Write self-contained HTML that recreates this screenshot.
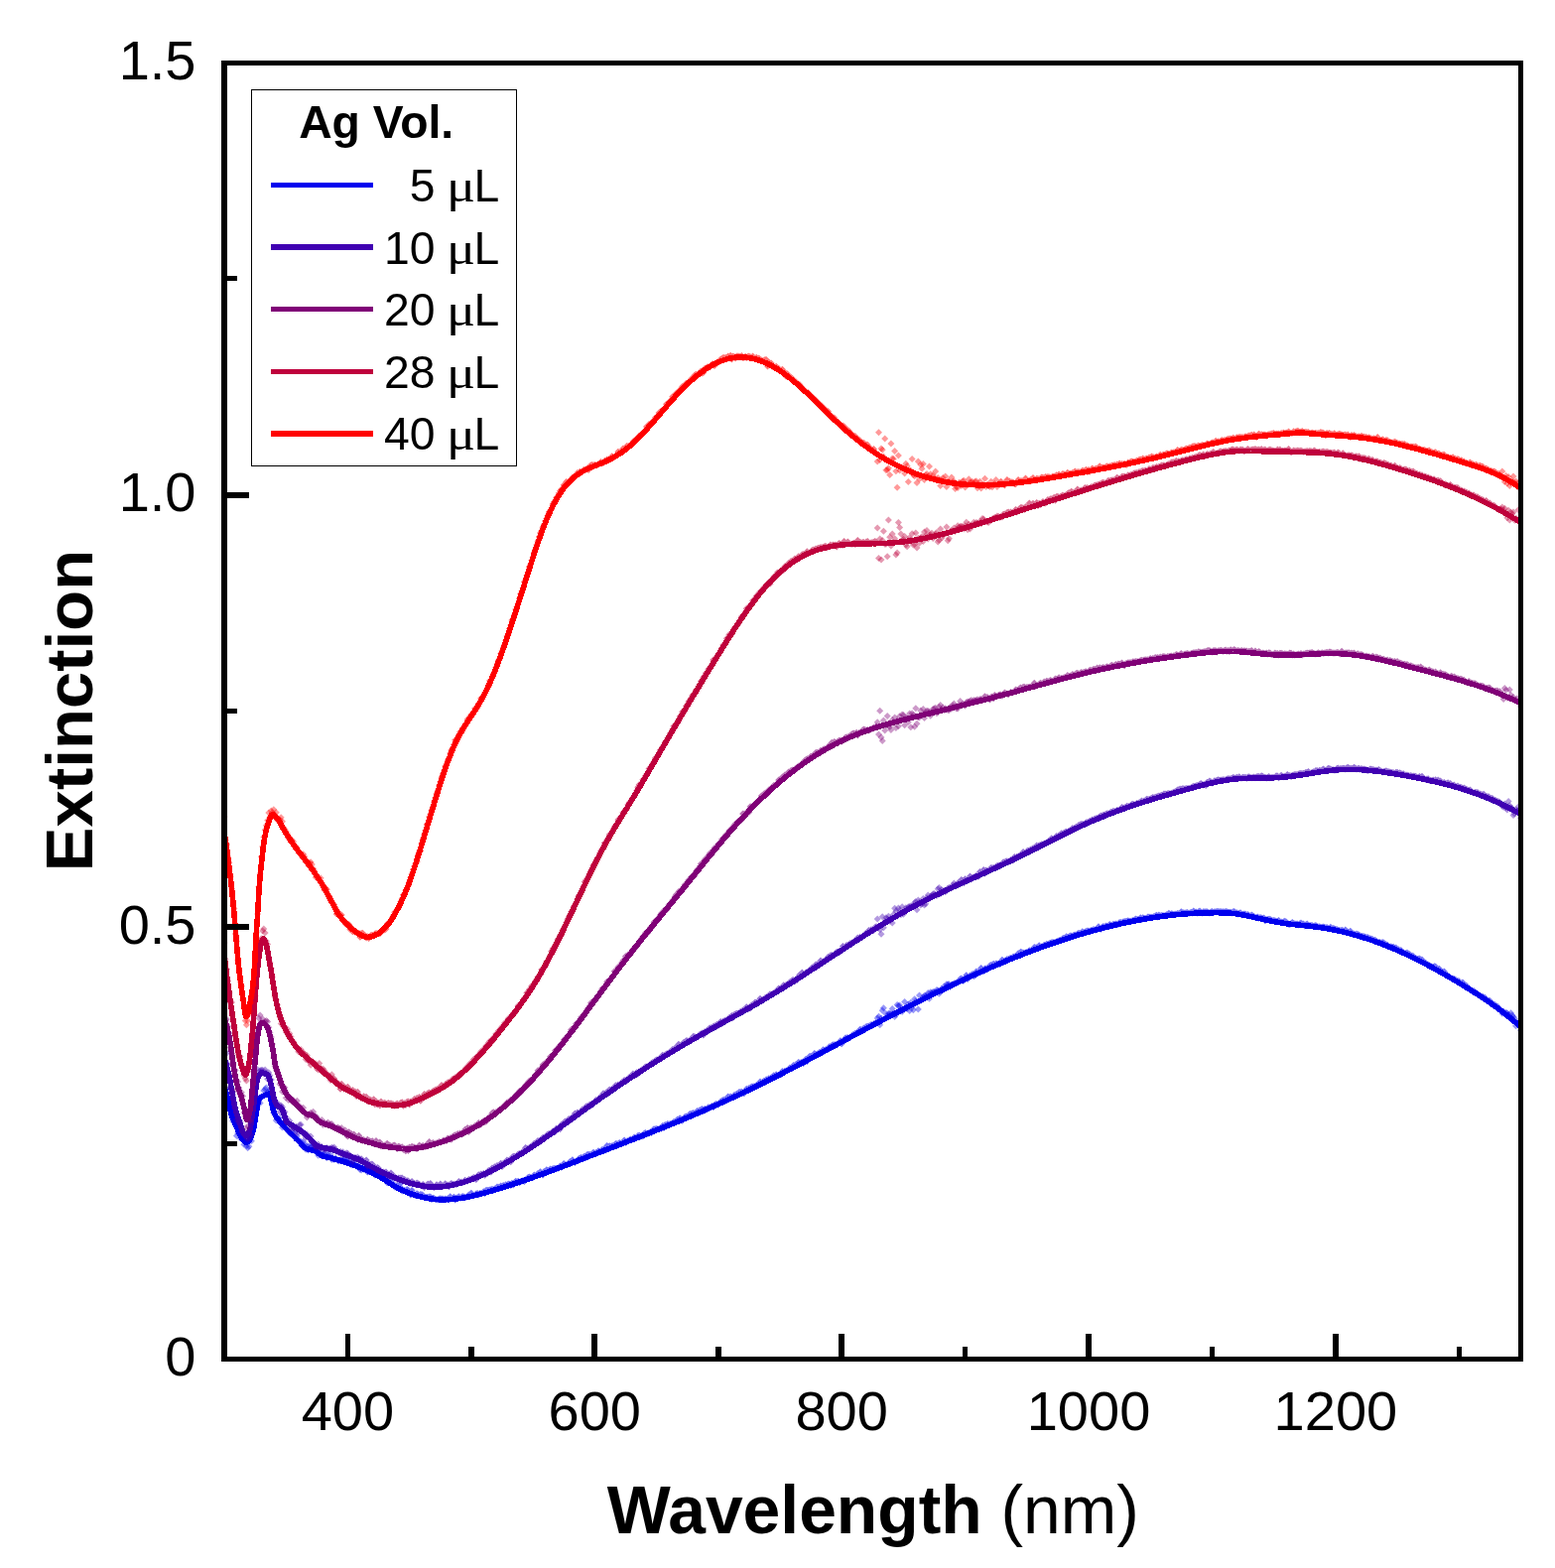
<!DOCTYPE html>
<html lang="en">
<head>
<meta charset="utf-8">
<title>Extinction vs Wavelength</title>
<style>
html,body{margin:0;padding:0;background:#fff;}
body{width:1567px;height:1580px;overflow:hidden;}
svg{display:block;}
text{font-family:"Liberation Sans",sans-serif;fill:#000;}
.b{font-weight:bold;}
.mu{font-family:"Liberation Serif",serif;}
.c{fill:none;stroke-width:5.60;stroke-linejoin:round;stroke-linecap:butt;shape-rendering:crispEdges;}
.ax{shape-rendering:crispEdges;fill:#000;}
</style>
</head>
<body>
<svg width="1567" height="1580" viewBox="0 0 1567 1580">
<rect x="0" y="0" width="1567" height="1580" fill="#ffffff"/>
<defs><clipPath id="pa"><rect x="226" y="63" width="1306.5" height="1306.5"/></clipPath></defs>
<g clip-path="url(#pa)">
<g fill="#0000ee" fill-opacity="0.4">
<path fill-opacity="0.55" d="M366.6,1174.8l3.5,3.5-3.5,3.5-3.5-3.5zM367.8,1174.6l3.5,3.5-3.5,3.5-3.5-3.5zM369.1,1175.8l3.5,3.5-3.5,3.5-3.5-3.5zM370.3,1177.4l3.5,3.5-3.5,3.5-3.5-3.5zM371.6,1177.0l3.5,3.5-3.5,3.5-3.5-3.5zM372.8,1176.4l3.5,3.5-3.5,3.5-3.5-3.5zM374.1,1175.9l3.5,3.5-3.5,3.5-3.5-3.5zM375.3,1176.2l3.5,3.5-3.5,3.5-3.5-3.5zM376.6,1178.1l3.5,3.5-3.5,3.5-3.5-3.5zM377.8,1180.5l3.5,3.5-3.5,3.5-3.5-3.5zM379.0,1179.8l3.5,3.5-3.5,3.5-3.5-3.5zM380.3,1180.1l3.5,3.5-3.5,3.5-3.5-3.5zM381.5,1181.1l3.5,3.5-3.5,3.5-3.5-3.5zM382.8,1181.5l3.5,3.5-3.5,3.5-3.5-3.5zM384.0,1182.9l3.5,3.5-3.5,3.5-3.5-3.5zM385.3,1181.2l3.5,3.5-3.5,3.5-3.5-3.5zM386.5,1180.7l3.5,3.5-3.5,3.5-3.5-3.5zM387.8,1183.7l3.5,3.5-3.5,3.5-3.5-3.5zM389.0,1183.5l3.5,3.5-3.5,3.5-3.5-3.5zM390.2,1188.3l3.5,3.5-3.5,3.5-3.5-3.5zM391.5,1186.7l3.5,3.5-3.5,3.5-3.5-3.5zM392.7,1187.4l3.5,3.5-3.5,3.5-3.5-3.5zM394.0,1186.5l3.5,3.5-3.5,3.5-3.5-3.5zM395.2,1189.8l3.5,3.5-3.5,3.5-3.5-3.5zM396.5,1189.4l3.5,3.5-3.5,3.5-3.5-3.5zM397.7,1192.5l3.5,3.5-3.5,3.5-3.5-3.5zM399.0,1192.8l3.5,3.5-3.5,3.5-3.5-3.5zM400.2,1191.2l3.5,3.5-3.5,3.5-3.5-3.5zM401.4,1193.5l3.5,3.5-3.5,3.5-3.5-3.5zM402.7,1189.9l3.5,3.5-3.5,3.5-3.5-3.5zM403.9,1193.3l3.5,3.5-3.5,3.5-3.5-3.5zM405.2,1196.4l3.5,3.5-3.5,3.5-3.5-3.5zM406.4,1196.4l3.5,3.5-3.5,3.5-3.5-3.5zM407.7,1196.1l3.5,3.5-3.5,3.5-3.5-3.5zM408.9,1196.4l3.5,3.5-3.5,3.5-3.5-3.5zM410.2,1195.1l3.5,3.5-3.5,3.5-3.5-3.5zM411.4,1195.7l3.5,3.5-3.5,3.5-3.5-3.5zM412.6,1198.2l3.5,3.5-3.5,3.5-3.5-3.5zM413.9,1200.6l3.5,3.5-3.5,3.5-3.5-3.5zM415.1,1196.0l3.5,3.5-3.5,3.5-3.5-3.5zM416.4,1200.0l3.5,3.5-3.5,3.5-3.5-3.5zM417.6,1200.4l3.5,3.5-3.5,3.5-3.5-3.5zM418.9,1201.2l3.5,3.5-3.5,3.5-3.5-3.5zM420.1,1199.3l3.5,3.5-3.5,3.5-3.5-3.5zM421.4,1200.1l3.5,3.5-3.5,3.5-3.5-3.5zM422.6,1201.2l3.5,3.5-3.5,3.5-3.5-3.5zM423.8,1200.1l3.5,3.5-3.5,3.5-3.5-3.5zM425.1,1200.2l3.5,3.5-3.5,3.5-3.5-3.5zM426.3,1200.9l3.5,3.5-3.5,3.5-3.5-3.5zM427.6,1202.2l3.5,3.5-3.5,3.5-3.5-3.5zM428.8,1203.0l3.5,3.5-3.5,3.5-3.5-3.5zM430.1,1202.8l3.5,3.5-3.5,3.5-3.5-3.5zM431.3,1203.1l3.5,3.5-3.5,3.5-3.5-3.5zM432.6,1202.4l3.5,3.5-3.5,3.5-3.5-3.5zM433.8,1202.6l3.5,3.5-3.5,3.5-3.5-3.5zM435.0,1205.0l3.5,3.5-3.5,3.5-3.5-3.5zM436.3,1203.8l3.5,3.5-3.5,3.5-3.5-3.5zM437.5,1203.9l3.5,3.5-3.5,3.5-3.5-3.5zM438.8,1204.9l3.5,3.5-3.5,3.5-3.5-3.5zM440.0,1205.3l3.5,3.5-3.5,3.5-3.5-3.5zM441.3,1205.4l3.5,3.5-3.5,3.5-3.5-3.5zM442.5,1204.6l3.5,3.5-3.5,3.5-3.5-3.5zM443.8,1204.3l3.5,3.5-3.5,3.5-3.5-3.5zM445.0,1204.6l3.5,3.5-3.5,3.5-3.5-3.5zM446.2,1204.5l3.5,3.5-3.5,3.5-3.5-3.5zM447.5,1205.6l3.5,3.5-3.5,3.5-3.5-3.5zM448.7,1204.6l3.5,3.5-3.5,3.5-3.5-3.5zM450.0,1204.9l3.5,3.5-3.5,3.5-3.5-3.5zM451.2,1204.2l3.5,3.5-3.5,3.5-3.5-3.5zM452.5,1205.4l3.5,3.5-3.5,3.5-3.5-3.5zM453.7,1202.3l3.5,3.5-3.5,3.5-3.5-3.5zM454.9,1204.4l3.5,3.5-3.5,3.5-3.5-3.5zM456.2,1204.6l3.5,3.5-3.5,3.5-3.5-3.5zM457.4,1202.7l3.5,3.5-3.5,3.5-3.5-3.5zM458.7,1205.6l3.5,3.5-3.5,3.5-3.5-3.5zM459.9,1203.4l3.5,3.5-3.5,3.5-3.5-3.5zM461.2,1203.2l3.5,3.5-3.5,3.5-3.5-3.5zM462.4,1202.2l3.5,3.5-3.5,3.5-3.5-3.5zM463.7,1203.8l3.5,3.5-3.5,3.5-3.5-3.5zM464.9,1203.0l3.5,3.5-3.5,3.5-3.5-3.5zM466.1,1202.1l3.5,3.5-3.5,3.5-3.5-3.5zM467.4,1202.6l3.5,3.5-3.5,3.5-3.5-3.5zM468.6,1202.8l3.5,3.5-3.5,3.5-3.5-3.5zM469.9,1203.0l3.5,3.5-3.5,3.5-3.5-3.5zM471.1,1201.9l3.5,3.5-3.5,3.5-3.5-3.5zM472.4,1200.6l3.5,3.5-3.5,3.5-3.5-3.5zM473.6,1200.7l3.5,3.5-3.5,3.5-3.5-3.5zM474.9,1198.8l3.5,3.5-3.5,3.5-3.5-3.5zM476.1,1200.0l3.5,3.5-3.5,3.5-3.5-3.5zM477.3,1201.0l3.5,3.5-3.5,3.5-3.5-3.5zM478.6,1200.5l3.5,3.5-3.5,3.5-3.5-3.5zM479.8,1199.6l3.5,3.5-3.5,3.5-3.5-3.5zM481.1,1199.1l3.5,3.5-3.5,3.5-3.5-3.5zM482.3,1200.5l3.5,3.5-3.5,3.5-3.5-3.5zM483.6,1199.1l3.5,3.5-3.5,3.5-3.5-3.5zM484.8,1199.3l3.5,3.5-3.5,3.5-3.5-3.5zM486.1,1198.5l3.5,3.5-3.5,3.5-3.5-3.5zM487.3,1197.2l3.5,3.5-3.5,3.5-3.5-3.5zM488.5,1198.9l3.5,3.5-3.5,3.5-3.5-3.5zM489.8,1196.0l3.5,3.5-3.5,3.5-3.5-3.5zM491.0,1195.7l3.5,3.5-3.5,3.5-3.5-3.5zM492.3,1196.0l3.5,3.5-3.5,3.5-3.5-3.5zM493.5,1195.4l3.5,3.5-3.5,3.5-3.5-3.5zM494.8,1195.2l3.5,3.5-3.5,3.5-3.5-3.5zM496.0,1194.8l3.5,3.5-3.5,3.5-3.5-3.5zM497.3,1195.8l3.5,3.5-3.5,3.5-3.5-3.5zM498.5,1194.6l3.5,3.5-3.5,3.5-3.5-3.5zM499.7,1194.5l3.5,3.5-3.5,3.5-3.5-3.5zM501.0,1192.4l3.5,3.5-3.5,3.5-3.5-3.5zM502.2,1192.7l3.5,3.5-3.5,3.5-3.5-3.5zM503.5,1194.0l3.5,3.5-3.5,3.5-3.5-3.5zM504.7,1191.6l3.5,3.5-3.5,3.5-3.5-3.5zM506.0,1193.3l3.5,3.5-3.5,3.5-3.5-3.5zM507.2,1191.0l3.5,3.5-3.5,3.5-3.5-3.5zM508.5,1191.8l3.5,3.5-3.5,3.5-3.5-3.5zM509.7,1190.3l3.5,3.5-3.5,3.5-3.5-3.5zM510.9,1190.9l3.5,3.5-3.5,3.5-3.5-3.5zM512.2,1189.5l3.5,3.5-3.5,3.5-3.5-3.5zM513.4,1189.7l3.5,3.5-3.5,3.5-3.5-3.5zM514.7,1191.0l3.5,3.5-3.5,3.5-3.5-3.5zM515.9,1188.8l3.5,3.5-3.5,3.5-3.5-3.5zM517.2,1190.5l3.5,3.5-3.5,3.5-3.5-3.5zM518.4,1187.9l3.5,3.5-3.5,3.5-3.5-3.5zM519.7,1186.8l3.5,3.5-3.5,3.5-3.5-3.5zM520.9,1187.5l3.5,3.5-3.5,3.5-3.5-3.5zM522.1,1186.7l3.5,3.5-3.5,3.5-3.5-3.5zM523.4,1188.2l3.5,3.5-3.5,3.5-3.5-3.5zM524.6,1187.0l3.5,3.5-3.5,3.5-3.5-3.5zM525.9,1186.8l3.5,3.5-3.5,3.5-3.5-3.5zM527.1,1185.9l3.5,3.5-3.5,3.5-3.5-3.5zM528.4,1187.1l3.5,3.5-3.5,3.5-3.5-3.5zM529.6,1185.2l3.5,3.5-3.5,3.5-3.5-3.5zM530.9,1184.5l3.5,3.5-3.5,3.5-3.5-3.5zM532.1,1182.9l3.5,3.5-3.5,3.5-3.5-3.5zM533.3,1182.4l3.5,3.5-3.5,3.5-3.5-3.5zM534.6,1182.9l3.5,3.5-3.5,3.5-3.5-3.5zM535.8,1183.2l3.5,3.5-3.5,3.5-3.5-3.5zM537.1,1182.9l3.5,3.5-3.5,3.5-3.5-3.5zM538.3,1180.6l3.5,3.5-3.5,3.5-3.5-3.5zM539.6,1181.5l3.5,3.5-3.5,3.5-3.5-3.5zM540.8,1180.7l3.5,3.5-3.5,3.5-3.5-3.5zM542.0,1179.1l3.5,3.5-3.5,3.5-3.5-3.5zM543.3,1180.1l3.5,3.5-3.5,3.5-3.5-3.5zM544.5,1177.2l3.5,3.5-3.5,3.5-3.5-3.5zM545.8,1179.0l3.5,3.5-3.5,3.5-3.5-3.5zM547.0,1180.5l3.5,3.5-3.5,3.5-3.5-3.5zM548.3,1176.9l3.5,3.5-3.5,3.5-3.5-3.5zM549.5,1177.4l3.5,3.5-3.5,3.5-3.5-3.5zM550.8,1175.3l3.5,3.5-3.5,3.5-3.5-3.5zM552.0,1175.8l3.5,3.5-3.5,3.5-3.5-3.5zM553.2,1176.7l3.5,3.5-3.5,3.5-3.5-3.5zM554.5,1174.6l3.5,3.5-3.5,3.5-3.5-3.5zM555.7,1175.1l3.5,3.5-3.5,3.5-3.5-3.5zM557.0,1174.3l3.5,3.5-3.5,3.5-3.5-3.5zM558.2,1173.9l3.5,3.5-3.5,3.5-3.5-3.5zM559.5,1173.9l3.5,3.5-3.5,3.5-3.5-3.5zM560.7,1173.7l3.5,3.5-3.5,3.5-3.5-3.5zM562.0,1173.9l3.5,3.5-3.5,3.5-3.5-3.5zM563.2,1173.1l3.5,3.5-3.5,3.5-3.5-3.5zM564.4,1171.4l3.5,3.5-3.5,3.5-3.5-3.5zM565.7,1172.7l3.5,3.5-3.5,3.5-3.5-3.5zM566.9,1172.1l3.5,3.5-3.5,3.5-3.5-3.5zM568.2,1169.1l3.5,3.5-3.5,3.5-3.5-3.5zM569.4,1170.6l3.5,3.5-3.5,3.5-3.5-3.5zM570.7,1170.3l3.5,3.5-3.5,3.5-3.5-3.5zM571.9,1169.9l3.5,3.5-3.5,3.5-3.5-3.5zM573.2,1169.1l3.5,3.5-3.5,3.5-3.5-3.5zM574.4,1166.9l3.5,3.5-3.5,3.5-3.5-3.5zM575.6,1167.4l3.5,3.5-3.5,3.5-3.5-3.5zM576.9,1165.3l3.5,3.5-3.5,3.5-3.5-3.5zM578.1,1166.6l3.5,3.5-3.5,3.5-3.5-3.5zM579.4,1168.0l3.5,3.5-3.5,3.5-3.5-3.5zM580.6,1166.4l3.5,3.5-3.5,3.5-3.5-3.5zM581.9,1166.0l3.5,3.5-3.5,3.5-3.5-3.5zM583.1,1164.3l3.5,3.5-3.5,3.5-3.5-3.5zM584.4,1163.4l3.5,3.5-3.5,3.5-3.5-3.5zM585.6,1162.9l3.5,3.5-3.5,3.5-3.5-3.5zM586.8,1163.5l3.5,3.5-3.5,3.5-3.5-3.5zM588.1,1162.2l3.5,3.5-3.5,3.5-3.5-3.5zM589.3,1161.8l3.5,3.5-3.5,3.5-3.5-3.5zM590.6,1163.0l3.5,3.5-3.5,3.5-3.5-3.5zM591.8,1160.0l3.5,3.5-3.5,3.5-3.5-3.5zM593.1,1159.8l3.5,3.5-3.5,3.5-3.5-3.5zM594.3,1160.0l3.5,3.5-3.5,3.5-3.5-3.5zM595.6,1159.9l3.5,3.5-3.5,3.5-3.5-3.5zM596.8,1159.4l3.5,3.5-3.5,3.5-3.5-3.5zM598.0,1157.8l3.5,3.5-3.5,3.5-3.5-3.5zM599.3,1158.8l3.5,3.5-3.5,3.5-3.5-3.5zM600.5,1158.0l3.5,3.5-3.5,3.5-3.5-3.5zM601.8,1157.9l3.5,3.5-3.5,3.5-3.5-3.5zM603.0,1156.2l3.5,3.5-3.5,3.5-3.5-3.5zM604.3,1156.9l3.5,3.5-3.5,3.5-3.5-3.5zM605.5,1156.4l3.5,3.5-3.5,3.5-3.5-3.5zM606.8,1155.1l3.5,3.5-3.5,3.5-3.5-3.5zM608.0,1155.0l3.5,3.5-3.5,3.5-3.5-3.5zM609.2,1154.2l3.5,3.5-3.5,3.5-3.5-3.5zM610.5,1155.5l3.5,3.5-3.5,3.5-3.5-3.5zM611.7,1151.0l3.5,3.5-3.5,3.5-3.5-3.5zM613.0,1152.0l3.5,3.5-3.5,3.5-3.5-3.5zM614.2,1151.3l3.5,3.5-3.5,3.5-3.5-3.5zM615.5,1152.0l3.5,3.5-3.5,3.5-3.5-3.5zM616.7,1151.3l3.5,3.5-3.5,3.5-3.5-3.5zM618.0,1151.0l3.5,3.5-3.5,3.5-3.5-3.5zM619.2,1151.6l3.5,3.5-3.5,3.5-3.5-3.5zM620.4,1149.0l3.5,3.5-3.5,3.5-3.5-3.5zM621.7,1149.2l3.5,3.5-3.5,3.5-3.5-3.5zM622.9,1149.3l3.5,3.5-3.5,3.5-3.5-3.5zM624.2,1147.9l3.5,3.5-3.5,3.5-3.5-3.5zM625.4,1148.8l3.5,3.5-3.5,3.5-3.5-3.5zM626.7,1148.3l3.5,3.5-3.5,3.5-3.5-3.5zM627.9,1146.9l3.5,3.5-3.5,3.5-3.5-3.5zM629.1,1145.5l3.5,3.5-3.5,3.5-3.5-3.5zM630.4,1148.0l3.5,3.5-3.5,3.5-3.5-3.5zM631.6,1146.5l3.5,3.5-3.5,3.5-3.5-3.5zM632.9,1146.0l3.5,3.5-3.5,3.5-3.5-3.5zM634.1,1145.2l3.5,3.5-3.5,3.5-3.5-3.5zM635.4,1144.6l3.5,3.5-3.5,3.5-3.5-3.5zM636.6,1144.9l3.5,3.5-3.5,3.5-3.5-3.5zM637.9,1143.7l3.5,3.5-3.5,3.5-3.5-3.5zM639.1,1142.6l3.5,3.5-3.5,3.5-3.5-3.5zM640.3,1143.3l3.5,3.5-3.5,3.5-3.5-3.5zM641.6,1142.3l3.5,3.5-3.5,3.5-3.5-3.5zM642.8,1141.0l3.5,3.5-3.5,3.5-3.5-3.5zM644.1,1140.4l3.5,3.5-3.5,3.5-3.5-3.5zM645.3,1141.8l3.5,3.5-3.5,3.5-3.5-3.5zM646.6,1140.8l3.5,3.5-3.5,3.5-3.5-3.5zM647.8,1141.6l3.5,3.5-3.5,3.5-3.5-3.5zM649.1,1138.8l3.5,3.5-3.5,3.5-3.5-3.5zM650.3,1138.1l3.5,3.5-3.5,3.5-3.5-3.5zM651.5,1138.7l3.5,3.5-3.5,3.5-3.5-3.5zM652.8,1139.1l3.5,3.5-3.5,3.5-3.5-3.5zM654.0,1137.9l3.5,3.5-3.5,3.5-3.5-3.5zM655.3,1137.2l3.5,3.5-3.5,3.5-3.5-3.5zM656.5,1138.0l3.5,3.5-3.5,3.5-3.5-3.5zM657.8,1135.2l3.5,3.5-3.5,3.5-3.5-3.5zM659.0,1134.2l3.5,3.5-3.5,3.5-3.5-3.5zM660.3,1134.2l3.5,3.5-3.5,3.5-3.5-3.5zM661.5,1134.1l3.5,3.5-3.5,3.5-3.5-3.5zM662.7,1134.2l3.5,3.5-3.5,3.5-3.5-3.5zM664.0,1134.3l3.5,3.5-3.5,3.5-3.5-3.5zM665.2,1133.2l3.5,3.5-3.5,3.5-3.5-3.5zM666.5,1133.7l3.5,3.5-3.5,3.5-3.5-3.5zM667.7,1131.1l3.5,3.5-3.5,3.5-3.5-3.5zM669.0,1133.1l3.5,3.5-3.5,3.5-3.5-3.5zM670.2,1130.1l3.5,3.5-3.5,3.5-3.5-3.5zM671.5,1131.4l3.5,3.5-3.5,3.5-3.5-3.5zM672.7,1129.0l3.5,3.5-3.5,3.5-3.5-3.5zM673.9,1129.6l3.5,3.5-3.5,3.5-3.5-3.5zM675.2,1128.9l3.5,3.5-3.5,3.5-3.5-3.5zM676.4,1128.8l3.5,3.5-3.5,3.5-3.5-3.5zM677.7,1128.5l3.5,3.5-3.5,3.5-3.5-3.5zM678.9,1127.1l3.5,3.5-3.5,3.5-3.5-3.5zM680.2,1126.7l3.5,3.5-3.5,3.5-3.5-3.5zM681.4,1126.5l3.5,3.5-3.5,3.5-3.5-3.5zM682.7,1124.6l3.5,3.5-3.5,3.5-3.5-3.5zM683.9,1124.6l3.5,3.5-3.5,3.5-3.5-3.5zM685.1,1123.3l3.5,3.5-3.5,3.5-3.5-3.5zM686.4,1124.2l3.5,3.5-3.5,3.5-3.5-3.5zM687.6,1125.7l3.5,3.5-3.5,3.5-3.5-3.5zM688.9,1123.9l3.5,3.5-3.5,3.5-3.5-3.5zM690.1,1121.9l3.5,3.5-3.5,3.5-3.5-3.5zM691.4,1121.5l3.5,3.5-3.5,3.5-3.5-3.5zM692.6,1122.5l3.5,3.5-3.5,3.5-3.5-3.5zM693.9,1120.7l3.5,3.5-3.5,3.5-3.5-3.5zM695.1,1119.1l3.5,3.5-3.5,3.5-3.5-3.5zM696.3,1119.1l3.5,3.5-3.5,3.5-3.5-3.5zM697.6,1118.6l3.5,3.5-3.5,3.5-3.5-3.5zM698.8,1118.1l3.5,3.5-3.5,3.5-3.5-3.5zM700.1,1119.1l3.5,3.5-3.5,3.5-3.5-3.5zM701.3,1118.0l3.5,3.5-3.5,3.5-3.5-3.5zM702.6,1116.1l3.5,3.5-3.5,3.5-3.5-3.5zM703.8,1116.4l3.5,3.5-3.5,3.5-3.5-3.5zM705.0,1115.3l3.5,3.5-3.5,3.5-3.5-3.5zM706.3,1114.7l3.5,3.5-3.5,3.5-3.5-3.5zM707.5,1113.9l3.5,3.5-3.5,3.5-3.5-3.5zM708.8,1116.3l3.5,3.5-3.5,3.5-3.5-3.5zM710.0,1113.9l3.5,3.5-3.5,3.5-3.5-3.5zM711.3,1114.2l3.5,3.5-3.5,3.5-3.5-3.5zM712.5,1113.9l3.5,3.5-3.5,3.5-3.5-3.5zM713.8,1112.2l3.5,3.5-3.5,3.5-3.5-3.5zM715.0,1112.5l3.5,3.5-3.5,3.5-3.5-3.5zM716.2,1112.0l3.5,3.5-3.5,3.5-3.5-3.5zM717.5,1111.1l3.5,3.5-3.5,3.5-3.5-3.5zM718.7,1112.3l3.5,3.5-3.5,3.5-3.5-3.5zM720.0,1110.1l3.5,3.5-3.5,3.5-3.5-3.5zM721.2,1109.1l3.5,3.5-3.5,3.5-3.5-3.5zM722.5,1109.3l3.5,3.5-3.5,3.5-3.5-3.5zM723.7,1109.8l3.5,3.5-3.5,3.5-3.5-3.5zM725.0,1108.5l3.5,3.5-3.5,3.5-3.5-3.5zM726.2,1106.6l3.5,3.5-3.5,3.5-3.5-3.5zM727.4,1105.7l3.5,3.5-3.5,3.5-3.5-3.5zM728.7,1105.1l3.5,3.5-3.5,3.5-3.5-3.5zM729.9,1104.8l3.5,3.5-3.5,3.5-3.5-3.5zM731.2,1105.2l3.5,3.5-3.5,3.5-3.5-3.5zM732.4,1105.0l3.5,3.5-3.5,3.5-3.5-3.5zM733.7,1101.6l3.5,3.5-3.5,3.5-3.5-3.5zM734.9,1103.1l3.5,3.5-3.5,3.5-3.5-3.5zM736.2,1101.5l3.5,3.5-3.5,3.5-3.5-3.5zM737.4,1102.6l3.5,3.5-3.5,3.5-3.5-3.5zM738.6,1102.2l3.5,3.5-3.5,3.5-3.5-3.5zM739.9,1100.1l3.5,3.5-3.5,3.5-3.5-3.5zM741.1,1099.8l3.5,3.5-3.5,3.5-3.5-3.5zM742.4,1098.8l3.5,3.5-3.5,3.5-3.5-3.5zM743.6,1099.4l3.5,3.5-3.5,3.5-3.5-3.5zM744.9,1097.0l3.5,3.5-3.5,3.5-3.5-3.5zM746.1,1096.9l3.5,3.5-3.5,3.5-3.5-3.5zM747.4,1096.7l3.5,3.5-3.5,3.5-3.5-3.5zM748.6,1097.8l3.5,3.5-3.5,3.5-3.5-3.5zM749.8,1098.3l3.5,3.5-3.5,3.5-3.5-3.5zM751.1,1095.6l3.5,3.5-3.5,3.5-3.5-3.5zM752.3,1093.8l3.5,3.5-3.5,3.5-3.5-3.5zM753.6,1094.4l3.5,3.5-3.5,3.5-3.5-3.5zM754.8,1093.0l3.5,3.5-3.5,3.5-3.5-3.5zM756.1,1093.6l3.5,3.5-3.5,3.5-3.5-3.5zM757.3,1091.5l3.5,3.5-3.5,3.5-3.5-3.5zM758.6,1091.6l3.5,3.5-3.5,3.5-3.5-3.5zM759.8,1091.3l3.5,3.5-3.5,3.5-3.5-3.5zM761.0,1091.2l3.5,3.5-3.5,3.5-3.5-3.5zM762.3,1090.0l3.5,3.5-3.5,3.5-3.5-3.5zM763.5,1090.6l3.5,3.5-3.5,3.5-3.5-3.5zM764.8,1089.0l3.5,3.5-3.5,3.5-3.5-3.5zM766.0,1086.6l3.5,3.5-3.5,3.5-3.5-3.5zM767.3,1088.5l3.5,3.5-3.5,3.5-3.5-3.5zM768.5,1086.8l3.5,3.5-3.5,3.5-3.5-3.5zM769.8,1085.8l3.5,3.5-3.5,3.5-3.5-3.5zM771.0,1087.2l3.5,3.5-3.5,3.5-3.5-3.5zM772.2,1084.3l3.5,3.5-3.5,3.5-3.5-3.5zM773.5,1084.6l3.5,3.5-3.5,3.5-3.5-3.5zM774.7,1083.3l3.5,3.5-3.5,3.5-3.5-3.5zM776.0,1084.5l3.5,3.5-3.5,3.5-3.5-3.5zM777.2,1082.3l3.5,3.5-3.5,3.5-3.5-3.5zM778.5,1082.3l3.5,3.5-3.5,3.5-3.5-3.5zM779.7,1080.2l3.5,3.5-3.5,3.5-3.5-3.5zM781.0,1082.1l3.5,3.5-3.5,3.5-3.5-3.5zM782.2,1079.2l3.5,3.5-3.5,3.5-3.5-3.5zM783.4,1080.3l3.5,3.5-3.5,3.5-3.5-3.5zM784.7,1079.9l3.5,3.5-3.5,3.5-3.5-3.5zM785.9,1079.4l3.5,3.5-3.5,3.5-3.5-3.5zM787.2,1079.2l3.5,3.5-3.5,3.5-3.5-3.5zM788.4,1075.9l3.5,3.5-3.5,3.5-3.5-3.5zM789.7,1076.7l3.5,3.5-3.5,3.5-3.5-3.5zM790.9,1075.8l3.5,3.5-3.5,3.5-3.5-3.5zM792.1,1075.4l3.5,3.5-3.5,3.5-3.5-3.5zM793.4,1075.4l3.5,3.5-3.5,3.5-3.5-3.5zM794.6,1073.9l3.5,3.5-3.5,3.5-3.5-3.5zM795.9,1072.4l3.5,3.5-3.5,3.5-3.5-3.5zM797.1,1072.4l3.5,3.5-3.5,3.5-3.5-3.5zM798.4,1073.2l3.5,3.5-3.5,3.5-3.5-3.5zM799.6,1070.1l3.5,3.5-3.5,3.5-3.5-3.5zM800.9,1070.6l3.5,3.5-3.5,3.5-3.5-3.5zM802.1,1069.0l3.5,3.5-3.5,3.5-3.5-3.5zM803.3,1070.2l3.5,3.5-3.5,3.5-3.5-3.5zM804.6,1067.1l3.5,3.5-3.5,3.5-3.5-3.5zM805.8,1067.6l3.5,3.5-3.5,3.5-3.5-3.5zM807.1,1067.2l3.5,3.5-3.5,3.5-3.5-3.5zM808.3,1066.7l3.5,3.5-3.5,3.5-3.5-3.5zM809.6,1068.1l3.5,3.5-3.5,3.5-3.5-3.5zM810.8,1066.7l3.5,3.5-3.5,3.5-3.5-3.5zM812.1,1063.7l3.5,3.5-3.5,3.5-3.5-3.5zM813.3,1065.9l3.5,3.5-3.5,3.5-3.5-3.5zM814.5,1062.3l3.5,3.5-3.5,3.5-3.5-3.5zM815.8,1061.0l3.5,3.5-3.5,3.5-3.5-3.5zM817.0,1060.7l3.5,3.5-3.5,3.5-3.5-3.5zM818.3,1061.5l3.5,3.5-3.5,3.5-3.5-3.5zM819.5,1061.2l3.5,3.5-3.5,3.5-3.5-3.5zM820.8,1058.0l3.5,3.5-3.5,3.5-3.5-3.5zM822.0,1059.8l3.5,3.5-3.5,3.5-3.5-3.5zM823.3,1058.5l3.5,3.5-3.5,3.5-3.5-3.5zM824.5,1058.7l3.5,3.5-3.5,3.5-3.5-3.5zM825.7,1057.0l3.5,3.5-3.5,3.5-3.5-3.5zM827.0,1057.5l3.5,3.5-3.5,3.5-3.5-3.5zM828.2,1056.6l3.5,3.5-3.5,3.5-3.5-3.5zM829.5,1054.3l3.5,3.5-3.5,3.5-3.5-3.5zM830.7,1056.0l3.5,3.5-3.5,3.5-3.5-3.5zM832.0,1054.3l3.5,3.5-3.5,3.5-3.5-3.5zM833.2,1054.1l3.5,3.5-3.5,3.5-3.5-3.5zM834.5,1053.9l3.5,3.5-3.5,3.5-3.5-3.5zM835.7,1051.2l3.5,3.5-3.5,3.5-3.5-3.5zM836.9,1051.3l3.5,3.5-3.5,3.5-3.5-3.5zM838.2,1050.0l3.5,3.5-3.5,3.5-3.5-3.5zM839.4,1049.2l3.5,3.5-3.5,3.5-3.5-3.5zM840.7,1049.6l3.5,3.5-3.5,3.5-3.5-3.5zM841.9,1049.0l3.5,3.5-3.5,3.5-3.5-3.5zM843.2,1049.3l3.5,3.5-3.5,3.5-3.5-3.5zM844.4,1048.6l3.5,3.5-3.5,3.5-3.5-3.5zM845.7,1046.7l3.5,3.5-3.5,3.5-3.5-3.5zM846.9,1045.3l3.5,3.5-3.5,3.5-3.5-3.5zM848.1,1048.3l3.5,3.5-3.5,3.5-3.5-3.5zM849.4,1046.7l3.5,3.5-3.5,3.5-3.5-3.5zM850.6,1044.0l3.5,3.5-3.5,3.5-3.5-3.5zM851.9,1042.6l3.5,3.5-3.5,3.5-3.5-3.5zM853.1,1042.3l3.5,3.5-3.5,3.5-3.5-3.5zM854.4,1042.3l3.5,3.5-3.5,3.5-3.5-3.5zM855.6,1042.4l3.5,3.5-3.5,3.5-3.5-3.5zM856.9,1041.6l3.5,3.5-3.5,3.5-3.5-3.5zM858.1,1040.5l3.5,3.5-3.5,3.5-3.5-3.5zM859.3,1039.2l3.5,3.5-3.5,3.5-3.5-3.5zM860.6,1038.9l3.5,3.5-3.5,3.5-3.5-3.5zM861.8,1037.8l3.5,3.5-3.5,3.5-3.5-3.5zM863.1,1037.5l3.5,3.5-3.5,3.5-3.5-3.5zM864.3,1036.6l3.5,3.5-3.5,3.5-3.5-3.5zM865.6,1036.5l3.5,3.5-3.5,3.5-3.5-3.5zM866.8,1033.7l3.5,3.5-3.5,3.5-3.5-3.5zM868.1,1034.4l3.5,3.5-3.5,3.5-3.5-3.5zM869.3,1033.8l3.5,3.5-3.5,3.5-3.5-3.5zM870.5,1032.4l3.5,3.5-3.5,3.5-3.5-3.5zM871.8,1032.6l3.5,3.5-3.5,3.5-3.5-3.5zM873.0,1031.1l3.5,3.5-3.5,3.5-3.5-3.5zM874.3,1030.8l3.5,3.5-3.5,3.5-3.5-3.5zM875.5,1030.5l3.5,3.5-3.5,3.5-3.5-3.5zM876.8,1029.9l3.5,3.5-3.5,3.5-3.5-3.5zM878.0,1028.9l3.5,3.5-3.5,3.5-3.5-3.5zM879.2,1029.8l3.5,3.5-3.5,3.5-3.5-3.5zM880.5,1028.3l3.5,3.5-3.5,3.5-3.5-3.5zM881.7,1027.7l3.5,3.5-3.5,3.5-3.5-3.5zM883.0,1027.0l3.5,3.5-3.5,3.5-3.5-3.5zM958.9,988.8l3.5,3.5-3.5,3.5-3.5-3.5zM960.1,988.7l3.5,3.5-3.5,3.5-3.5-3.5zM961.4,987.5l3.5,3.5-3.5,3.5-3.5-3.5zM962.6,987.2l3.5,3.5-3.5,3.5-3.5-3.5zM963.9,986.7l3.5,3.5-3.5,3.5-3.5-3.5zM965.1,986.6l3.5,3.5-3.5,3.5-3.5-3.5zM966.4,985.1l3.5,3.5-3.5,3.5-3.5-3.5zM967.6,983.0l3.5,3.5-3.5,3.5-3.5-3.5zM968.8,982.6l3.5,3.5-3.5,3.5-3.5-3.5zM970.1,984.8l3.5,3.5-3.5,3.5-3.5-3.5zM971.3,984.5l3.5,3.5-3.5,3.5-3.5-3.5zM972.6,982.7l3.5,3.5-3.5,3.5-3.5-3.5zM973.8,979.3l3.5,3.5-3.5,3.5-3.5-3.5zM975.1,982.9l3.5,3.5-3.5,3.5-3.5-3.5zM976.3,980.7l3.5,3.5-3.5,3.5-3.5-3.5zM977.5,979.6l3.5,3.5-3.5,3.5-3.5-3.5zM978.8,979.2l3.5,3.5-3.5,3.5-3.5-3.5zM980.0,978.1l3.5,3.5-3.5,3.5-3.5-3.5zM981.3,980.1l3.5,3.5-3.5,3.5-3.5-3.5zM982.5,979.4l3.5,3.5-3.5,3.5-3.5-3.5zM983.8,975.6l3.5,3.5-3.5,3.5-3.5-3.5zM985.0,976.1l3.5,3.5-3.5,3.5-3.5-3.5zM986.3,976.1l3.5,3.5-3.5,3.5-3.5-3.5zM987.5,976.6l3.5,3.5-3.5,3.5-3.5-3.5zM988.7,972.0l3.5,3.5-3.5,3.5-3.5-3.5zM990.0,975.1l3.5,3.5-3.5,3.5-3.5-3.5zM991.2,975.3l3.5,3.5-3.5,3.5-3.5-3.5zM992.5,972.6l3.5,3.5-3.5,3.5-3.5-3.5zM993.7,972.4l3.5,3.5-3.5,3.5-3.5-3.5zM995.0,973.2l3.5,3.5-3.5,3.5-3.5-3.5zM996.2,971.7l3.5,3.5-3.5,3.5-3.5-3.5zM997.5,969.5l3.5,3.5-3.5,3.5-3.5-3.5zM998.7,969.1l3.5,3.5-3.5,3.5-3.5-3.5zM999.9,968.7l3.5,3.5-3.5,3.5-3.5-3.5zM1001.2,967.8l3.5,3.5-3.5,3.5-3.5-3.5zM1002.4,968.7l3.5,3.5-3.5,3.5-3.5-3.5zM1003.7,967.6l3.5,3.5-3.5,3.5-3.5-3.5zM1004.9,967.6l3.5,3.5-3.5,3.5-3.5-3.5zM1006.2,967.7l3.5,3.5-3.5,3.5-3.5-3.5zM1007.4,968.2l3.5,3.5-3.5,3.5-3.5-3.5zM1008.7,966.2l3.5,3.5-3.5,3.5-3.5-3.5zM1009.9,963.8l3.5,3.5-3.5,3.5-3.5-3.5zM1011.1,966.2l3.5,3.5-3.5,3.5-3.5-3.5zM1012.4,964.4l3.5,3.5-3.5,3.5-3.5-3.5zM1013.6,965.0l3.5,3.5-3.5,3.5-3.5-3.5zM1014.9,963.1l3.5,3.5-3.5,3.5-3.5-3.5zM1016.1,963.2l3.5,3.5-3.5,3.5-3.5-3.5zM1017.4,962.3l3.5,3.5-3.5,3.5-3.5-3.5zM1018.6,961.9l3.5,3.5-3.5,3.5-3.5-3.5zM1019.9,962.5l3.5,3.5-3.5,3.5-3.5-3.5zM1021.1,960.4l3.5,3.5-3.5,3.5-3.5-3.5zM1022.3,960.5l3.5,3.5-3.5,3.5-3.5-3.5zM1023.6,960.1l3.5,3.5-3.5,3.5-3.5-3.5zM1024.8,959.1l3.5,3.5-3.5,3.5-3.5-3.5zM1026.1,957.2l3.5,3.5-3.5,3.5-3.5-3.5zM1027.3,958.7l3.5,3.5-3.5,3.5-3.5-3.5zM1028.6,955.7l3.5,3.5-3.5,3.5-3.5-3.5zM1029.8,956.3l3.5,3.5-3.5,3.5-3.5-3.5zM1031.1,956.6l3.5,3.5-3.5,3.5-3.5-3.5zM1032.3,956.8l3.5,3.5-3.5,3.5-3.5-3.5zM1033.5,956.6l3.5,3.5-3.5,3.5-3.5-3.5zM1034.8,956.1l3.5,3.5-3.5,3.5-3.5-3.5zM1036.0,955.5l3.5,3.5-3.5,3.5-3.5-3.5zM1037.3,954.3l3.5,3.5-3.5,3.5-3.5-3.5zM1038.5,954.9l3.5,3.5-3.5,3.5-3.5-3.5zM1039.8,953.4l3.5,3.5-3.5,3.5-3.5-3.5zM1041.0,953.9l3.5,3.5-3.5,3.5-3.5-3.5zM1042.3,951.1l3.5,3.5-3.5,3.5-3.5-3.5zM1043.5,951.5l3.5,3.5-3.5,3.5-3.5-3.5zM1044.7,951.3l3.5,3.5-3.5,3.5-3.5-3.5zM1046.0,951.3l3.5,3.5-3.5,3.5-3.5-3.5zM1047.2,949.2l3.5,3.5-3.5,3.5-3.5-3.5zM1048.5,950.9l3.5,3.5-3.5,3.5-3.5-3.5zM1049.7,950.6l3.5,3.5-3.5,3.5-3.5-3.5zM1051.0,950.0l3.5,3.5-3.5,3.5-3.5-3.5zM1052.2,948.7l3.5,3.5-3.5,3.5-3.5-3.5zM1053.5,949.5l3.5,3.5-3.5,3.5-3.5-3.5zM1054.7,947.8l3.5,3.5-3.5,3.5-3.5-3.5zM1055.9,948.3l3.5,3.5-3.5,3.5-3.5-3.5zM1057.2,947.2l3.5,3.5-3.5,3.5-3.5-3.5zM1058.4,946.8l3.5,3.5-3.5,3.5-3.5-3.5zM1059.7,946.3l3.5,3.5-3.5,3.5-3.5-3.5zM1060.9,945.9l3.5,3.5-3.5,3.5-3.5-3.5zM1062.2,946.2l3.5,3.5-3.5,3.5-3.5-3.5zM1063.4,946.0l3.5,3.5-3.5,3.5-3.5-3.5zM1064.6,945.6l3.5,3.5-3.5,3.5-3.5-3.5zM1065.9,944.8l3.5,3.5-3.5,3.5-3.5-3.5zM1067.1,944.2l3.5,3.5-3.5,3.5-3.5-3.5zM1068.4,943.7l3.5,3.5-3.5,3.5-3.5-3.5zM1069.6,944.1l3.5,3.5-3.5,3.5-3.5-3.5zM1070.9,942.3l3.5,3.5-3.5,3.5-3.5-3.5zM1072.1,941.8l3.5,3.5-3.5,3.5-3.5-3.5zM1073.4,941.8l3.5,3.5-3.5,3.5-3.5-3.5zM1074.6,940.3l3.5,3.5-3.5,3.5-3.5-3.5zM1075.8,940.8l3.5,3.5-3.5,3.5-3.5-3.5zM1077.1,940.5l3.5,3.5-3.5,3.5-3.5-3.5zM1078.3,939.5l3.5,3.5-3.5,3.5-3.5-3.5zM1079.6,939.4l3.5,3.5-3.5,3.5-3.5-3.5zM1080.8,939.8l3.5,3.5-3.5,3.5-3.5-3.5zM1082.1,938.8l3.5,3.5-3.5,3.5-3.5-3.5zM1083.3,938.6l3.5,3.5-3.5,3.5-3.5-3.5zM1084.6,938.8l3.5,3.5-3.5,3.5-3.5-3.5zM1085.8,937.5l3.5,3.5-3.5,3.5-3.5-3.5zM1087.0,936.8l3.5,3.5-3.5,3.5-3.5-3.5zM1088.3,937.1l3.5,3.5-3.5,3.5-3.5-3.5zM1089.5,937.0l3.5,3.5-3.5,3.5-3.5-3.5zM1090.8,935.3l3.5,3.5-3.5,3.5-3.5-3.5zM1092.0,936.4l3.5,3.5-3.5,3.5-3.5-3.5zM1093.3,935.4l3.5,3.5-3.5,3.5-3.5-3.5zM1094.5,935.0l3.5,3.5-3.5,3.5-3.5-3.5zM1095.8,934.4l3.5,3.5-3.5,3.5-3.5-3.5zM1097.0,934.4l3.5,3.5-3.5,3.5-3.5-3.5zM1098.2,934.8l3.5,3.5-3.5,3.5-3.5-3.5zM1099.5,934.1l3.5,3.5-3.5,3.5-3.5-3.5zM1100.7,934.0l3.5,3.5-3.5,3.5-3.5-3.5zM1102.0,932.9l3.5,3.5-3.5,3.5-3.5-3.5zM1103.2,933.8l3.5,3.5-3.5,3.5-3.5-3.5zM1104.5,933.2l3.5,3.5-3.5,3.5-3.5-3.5zM1105.7,932.1l3.5,3.5-3.5,3.5-3.5-3.5zM1107.0,930.2l3.5,3.5-3.5,3.5-3.5-3.5zM1108.2,931.5l3.5,3.5-3.5,3.5-3.5-3.5zM1109.4,932.8l3.5,3.5-3.5,3.5-3.5-3.5zM1110.7,930.8l3.5,3.5-3.5,3.5-3.5-3.5zM1111.9,929.9l3.5,3.5-3.5,3.5-3.5-3.5zM1113.2,931.2l3.5,3.5-3.5,3.5-3.5-3.5zM1114.4,929.5l3.5,3.5-3.5,3.5-3.5-3.5zM1115.7,929.8l3.5,3.5-3.5,3.5-3.5-3.5zM1116.9,929.7l3.5,3.5-3.5,3.5-3.5-3.5zM1118.2,928.0l3.5,3.5-3.5,3.5-3.5-3.5zM1119.4,928.7l3.5,3.5-3.5,3.5-3.5-3.5zM1120.6,929.0l3.5,3.5-3.5,3.5-3.5-3.5zM1121.9,927.8l3.5,3.5-3.5,3.5-3.5-3.5zM1123.1,928.1l3.5,3.5-3.5,3.5-3.5-3.5zM1124.4,927.4l3.5,3.5-3.5,3.5-3.5-3.5zM1125.6,927.8l3.5,3.5-3.5,3.5-3.5-3.5zM1126.9,928.0l3.5,3.5-3.5,3.5-3.5-3.5zM1128.1,925.9l3.5,3.5-3.5,3.5-3.5-3.5zM1129.4,926.1l3.5,3.5-3.5,3.5-3.5-3.5zM1130.6,926.3l3.5,3.5-3.5,3.5-3.5-3.5zM1131.8,925.4l3.5,3.5-3.5,3.5-3.5-3.5zM1133.1,925.0l3.5,3.5-3.5,3.5-3.5-3.5zM1134.3,925.0l3.5,3.5-3.5,3.5-3.5-3.5zM1135.6,924.8l3.5,3.5-3.5,3.5-3.5-3.5zM1136.8,924.3l3.5,3.5-3.5,3.5-3.5-3.5zM1138.1,924.7l3.5,3.5-3.5,3.5-3.5-3.5zM1139.3,924.7l3.5,3.5-3.5,3.5-3.5-3.5zM1140.5,924.4l3.5,3.5-3.5,3.5-3.5-3.5zM1141.8,924.1l3.5,3.5-3.5,3.5-3.5-3.5zM1143.0,924.2l3.5,3.5-3.5,3.5-3.5-3.5zM1144.3,922.4l3.5,3.5-3.5,3.5-3.5-3.5zM1145.5,922.9l3.5,3.5-3.5,3.5-3.5-3.5zM1146.8,922.9l3.5,3.5-3.5,3.5-3.5-3.5zM1148.0,922.8l3.5,3.5-3.5,3.5-3.5-3.5zM1149.3,921.3l3.5,3.5-3.5,3.5-3.5-3.5zM1150.5,923.2l3.5,3.5-3.5,3.5-3.5-3.5zM1151.7,921.3l3.5,3.5-3.5,3.5-3.5-3.5zM1153.0,921.8l3.5,3.5-3.5,3.5-3.5-3.5zM1154.2,921.9l3.5,3.5-3.5,3.5-3.5-3.5zM1155.5,921.9l3.5,3.5-3.5,3.5-3.5-3.5zM1156.7,920.6l3.5,3.5-3.5,3.5-3.5-3.5zM1158.0,920.5l3.5,3.5-3.5,3.5-3.5-3.5zM1159.2,920.8l3.5,3.5-3.5,3.5-3.5-3.5zM1160.5,920.7l3.5,3.5-3.5,3.5-3.5-3.5zM1161.7,920.7l3.5,3.5-3.5,3.5-3.5-3.5zM1162.9,920.0l3.5,3.5-3.5,3.5-3.5-3.5zM1164.2,919.4l3.5,3.5-3.5,3.5-3.5-3.5zM1165.4,918.8l3.5,3.5-3.5,3.5-3.5-3.5zM1166.7,920.5l3.5,3.5-3.5,3.5-3.5-3.5zM1167.9,918.5l3.5,3.5-3.5,3.5-3.5-3.5zM1169.2,919.5l3.5,3.5-3.5,3.5-3.5-3.5zM1170.4,919.1l3.5,3.5-3.5,3.5-3.5-3.5zM1171.7,919.2l3.5,3.5-3.5,3.5-3.5-3.5zM1172.9,919.2l3.5,3.5-3.5,3.5-3.5-3.5zM1174.1,919.3l3.5,3.5-3.5,3.5-3.5-3.5zM1175.4,918.3l3.5,3.5-3.5,3.5-3.5-3.5zM1176.6,918.4l3.5,3.5-3.5,3.5-3.5-3.5zM1177.9,916.8l3.5,3.5-3.5,3.5-3.5-3.5zM1179.1,917.9l3.5,3.5-3.5,3.5-3.5-3.5zM1180.4,917.2l3.5,3.5-3.5,3.5-3.5-3.5zM1181.6,917.5l3.5,3.5-3.5,3.5-3.5-3.5zM1182.9,918.2l3.5,3.5-3.5,3.5-3.5-3.5zM1184.1,917.4l3.5,3.5-3.5,3.5-3.5-3.5zM1185.3,917.8l3.5,3.5-3.5,3.5-3.5-3.5zM1186.6,916.9l3.5,3.5-3.5,3.5-3.5-3.5zM1187.8,917.2l3.5,3.5-3.5,3.5-3.5-3.5zM1189.1,916.6l3.5,3.5-3.5,3.5-3.5-3.5zM1190.3,915.2l3.5,3.5-3.5,3.5-3.5-3.5zM1191.6,916.2l3.5,3.5-3.5,3.5-3.5-3.5zM1192.8,916.3l3.5,3.5-3.5,3.5-3.5-3.5zM1194.1,916.5l3.5,3.5-3.5,3.5-3.5-3.5zM1195.3,916.3l3.5,3.5-3.5,3.5-3.5-3.5zM1196.5,916.1l3.5,3.5-3.5,3.5-3.5-3.5zM1197.8,916.7l3.5,3.5-3.5,3.5-3.5-3.5zM1199.0,916.4l3.5,3.5-3.5,3.5-3.5-3.5zM1200.3,915.7l3.5,3.5-3.5,3.5-3.5-3.5zM1201.5,916.4l3.5,3.5-3.5,3.5-3.5-3.5zM1202.8,914.6l3.5,3.5-3.5,3.5-3.5-3.5zM1204.0,915.6l3.5,3.5-3.5,3.5-3.5-3.5zM1205.3,915.6l3.5,3.5-3.5,3.5-3.5-3.5zM1206.5,916.4l3.5,3.5-3.5,3.5-3.5-3.5zM1207.7,915.2l3.5,3.5-3.5,3.5-3.5-3.5zM1209.0,914.6l3.5,3.5-3.5,3.5-3.5-3.5zM1210.2,915.5l3.5,3.5-3.5,3.5-3.5-3.5zM1211.5,916.4l3.5,3.5-3.5,3.5-3.5-3.5zM1212.7,915.2l3.5,3.5-3.5,3.5-3.5-3.5zM1214.0,915.2l3.5,3.5-3.5,3.5-3.5-3.5zM1215.2,915.2l3.5,3.5-3.5,3.5-3.5-3.5zM1216.5,915.3l3.5,3.5-3.5,3.5-3.5-3.5zM1217.7,916.0l3.5,3.5-3.5,3.5-3.5-3.5zM1218.9,916.4l3.5,3.5-3.5,3.5-3.5-3.5zM1220.2,915.5l3.5,3.5-3.5,3.5-3.5-3.5zM1221.4,915.1l3.5,3.5-3.5,3.5-3.5-3.5zM1222.7,916.3l3.5,3.5-3.5,3.5-3.5-3.5zM1223.9,915.2l3.5,3.5-3.5,3.5-3.5-3.5zM1225.2,915.2l3.5,3.5-3.5,3.5-3.5-3.5zM1226.4,914.9l3.5,3.5-3.5,3.5-3.5-3.5zM1227.7,915.0l3.5,3.5-3.5,3.5-3.5-3.5zM1228.9,915.3l3.5,3.5-3.5,3.5-3.5-3.5zM1230.1,915.0l3.5,3.5-3.5,3.5-3.5-3.5zM1231.4,915.5l3.5,3.5-3.5,3.5-3.5-3.5zM1232.6,915.3l3.5,3.5-3.5,3.5-3.5-3.5zM1233.9,915.6l3.5,3.5-3.5,3.5-3.5-3.5zM1235.1,915.1l3.5,3.5-3.5,3.5-3.5-3.5zM1236.4,915.3l3.5,3.5-3.5,3.5-3.5-3.5zM1237.6,915.7l3.5,3.5-3.5,3.5-3.5-3.5zM1238.8,915.7l3.5,3.5-3.5,3.5-3.5-3.5zM1240.1,915.8l3.5,3.5-3.5,3.5-3.5-3.5zM1241.3,916.5l3.5,3.5-3.5,3.5-3.5-3.5zM1242.6,915.3l3.5,3.5-3.5,3.5-3.5-3.5zM1243.8,914.9l3.5,3.5-3.5,3.5-3.5-3.5zM1245.1,916.7l3.5,3.5-3.5,3.5-3.5-3.5zM1246.3,916.3l3.5,3.5-3.5,3.5-3.5-3.5zM1247.6,917.4l3.5,3.5-3.5,3.5-3.5-3.5zM1248.8,916.7l3.5,3.5-3.5,3.5-3.5-3.5zM1250.0,916.3l3.5,3.5-3.5,3.5-3.5-3.5zM1251.3,918.5l3.5,3.5-3.5,3.5-3.5-3.5zM1252.5,917.7l3.5,3.5-3.5,3.5-3.5-3.5zM1253.8,917.4l3.5,3.5-3.5,3.5-3.5-3.5zM1255.0,917.5l3.5,3.5-3.5,3.5-3.5-3.5zM1256.3,918.5l3.5,3.5-3.5,3.5-3.5-3.5zM1257.5,918.0l3.5,3.5-3.5,3.5-3.5-3.5zM1258.8,918.9l3.5,3.5-3.5,3.5-3.5-3.5zM1260.0,919.7l3.5,3.5-3.5,3.5-3.5-3.5zM1261.2,918.4l3.5,3.5-3.5,3.5-3.5-3.5zM1262.5,919.3l3.5,3.5-3.5,3.5-3.5-3.5zM1263.7,920.1l3.5,3.5-3.5,3.5-3.5-3.5zM1265.0,921.1l3.5,3.5-3.5,3.5-3.5-3.5zM1266.2,920.9l3.5,3.5-3.5,3.5-3.5-3.5zM1267.5,920.4l3.5,3.5-3.5,3.5-3.5-3.5zM1268.7,921.8l3.5,3.5-3.5,3.5-3.5-3.5zM1270.0,921.0l3.5,3.5-3.5,3.5-3.5-3.5zM1271.2,921.4l3.5,3.5-3.5,3.5-3.5-3.5zM1272.4,922.0l3.5,3.5-3.5,3.5-3.5-3.5zM1273.7,921.4l3.5,3.5-3.5,3.5-3.5-3.5zM1274.9,924.2l3.5,3.5-3.5,3.5-3.5-3.5zM1276.2,923.3l3.5,3.5-3.5,3.5-3.5-3.5zM1277.4,923.0l3.5,3.5-3.5,3.5-3.5-3.5zM1278.7,922.8l3.5,3.5-3.5,3.5-3.5-3.5zM1279.9,922.7l3.5,3.5-3.5,3.5-3.5-3.5zM1281.2,923.8l3.5,3.5-3.5,3.5-3.5-3.5zM1282.4,924.3l3.5,3.5-3.5,3.5-3.5-3.5zM1283.6,923.9l3.5,3.5-3.5,3.5-3.5-3.5zM1284.9,924.2l3.5,3.5-3.5,3.5-3.5-3.5zM1286.1,924.9l3.5,3.5-3.5,3.5-3.5-3.5zM1287.4,924.7l3.5,3.5-3.5,3.5-3.5-3.5zM1288.6,923.9l3.5,3.5-3.5,3.5-3.5-3.5zM1289.9,925.6l3.5,3.5-3.5,3.5-3.5-3.5zM1291.1,925.6l3.5,3.5-3.5,3.5-3.5-3.5zM1292.4,926.1l3.5,3.5-3.5,3.5-3.5-3.5zM1293.6,925.3l3.5,3.5-3.5,3.5-3.5-3.5zM1294.8,924.7l3.5,3.5-3.5,3.5-3.5-3.5zM1296.1,925.4l3.5,3.5-3.5,3.5-3.5-3.5zM1297.3,926.5l3.5,3.5-3.5,3.5-3.5-3.5zM1298.6,927.7l3.5,3.5-3.5,3.5-3.5-3.5zM1299.8,928.1l3.5,3.5-3.5,3.5-3.5-3.5zM1301.1,927.0l3.5,3.5-3.5,3.5-3.5-3.5zM1302.3,926.1l3.5,3.5-3.5,3.5-3.5-3.5zM1303.6,926.9l3.5,3.5-3.5,3.5-3.5-3.5zM1304.8,927.5l3.5,3.5-3.5,3.5-3.5-3.5zM1306.0,927.6l3.5,3.5-3.5,3.5-3.5-3.5zM1307.3,927.5l3.5,3.5-3.5,3.5-3.5-3.5zM1308.5,928.4l3.5,3.5-3.5,3.5-3.5-3.5zM1309.8,927.2l3.5,3.5-3.5,3.5-3.5-3.5zM1311.0,926.5l3.5,3.5-3.5,3.5-3.5-3.5zM1312.3,927.4l3.5,3.5-3.5,3.5-3.5-3.5zM1313.5,927.4l3.5,3.5-3.5,3.5-3.5-3.5zM1314.8,929.5l3.5,3.5-3.5,3.5-3.5-3.5zM1316.0,928.2l3.5,3.5-3.5,3.5-3.5-3.5zM1317.2,927.6l3.5,3.5-3.5,3.5-3.5-3.5zM1318.5,929.0l3.5,3.5-3.5,3.5-3.5-3.5zM1319.7,929.3l3.5,3.5-3.5,3.5-3.5-3.5zM1321.0,928.9l3.5,3.5-3.5,3.5-3.5-3.5zM1322.2,929.1l3.5,3.5-3.5,3.5-3.5-3.5zM1323.5,929.8l3.5,3.5-3.5,3.5-3.5-3.5zM1324.7,929.6l3.5,3.5-3.5,3.5-3.5-3.5zM1325.9,929.1l3.5,3.5-3.5,3.5-3.5-3.5zM1327.2,930.0l3.5,3.5-3.5,3.5-3.5-3.5zM1328.4,930.4l3.5,3.5-3.5,3.5-3.5-3.5zM1329.7,930.2l3.5,3.5-3.5,3.5-3.5-3.5zM1330.9,930.7l3.5,3.5-3.5,3.5-3.5-3.5zM1332.2,930.7l3.5,3.5-3.5,3.5-3.5-3.5zM1333.4,930.5l3.5,3.5-3.5,3.5-3.5-3.5zM1334.7,930.7l3.5,3.5-3.5,3.5-3.5-3.5zM1335.9,931.4l3.5,3.5-3.5,3.5-3.5-3.5zM1337.1,930.9l3.5,3.5-3.5,3.5-3.5-3.5zM1338.4,932.1l3.5,3.5-3.5,3.5-3.5-3.5zM1339.6,932.4l3.5,3.5-3.5,3.5-3.5-3.5zM1340.9,930.7l3.5,3.5-3.5,3.5-3.5-3.5zM1342.1,932.1l3.5,3.5-3.5,3.5-3.5-3.5zM1343.4,931.9l3.5,3.5-3.5,3.5-3.5-3.5zM1344.6,932.3l3.5,3.5-3.5,3.5-3.5-3.5zM1345.9,933.0l3.5,3.5-3.5,3.5-3.5-3.5zM1347.1,933.0l3.5,3.5-3.5,3.5-3.5-3.5zM1348.3,933.8l3.5,3.5-3.5,3.5-3.5-3.5zM1349.6,933.9l3.5,3.5-3.5,3.5-3.5-3.5zM1350.8,934.2l3.5,3.5-3.5,3.5-3.5-3.5zM1352.1,933.8l3.5,3.5-3.5,3.5-3.5-3.5zM1353.3,934.3l3.5,3.5-3.5,3.5-3.5-3.5zM1354.6,935.7l3.5,3.5-3.5,3.5-3.5-3.5zM1355.8,933.6l3.5,3.5-3.5,3.5-3.5-3.5zM1357.1,936.5l3.5,3.5-3.5,3.5-3.5-3.5zM1358.3,935.4l3.5,3.5-3.5,3.5-3.5-3.5zM1359.5,936.8l3.5,3.5-3.5,3.5-3.5-3.5zM1360.8,934.8l3.5,3.5-3.5,3.5-3.5-3.5zM1362.0,936.5l3.5,3.5-3.5,3.5-3.5-3.5zM1363.3,937.6l3.5,3.5-3.5,3.5-3.5-3.5zM1364.5,937.5l3.5,3.5-3.5,3.5-3.5-3.5zM1365.8,938.4l3.5,3.5-3.5,3.5-3.5-3.5zM1367.0,937.6l3.5,3.5-3.5,3.5-3.5-3.5zM1368.3,938.1l3.5,3.5-3.5,3.5-3.5-3.5zM1369.5,938.4l3.5,3.5-3.5,3.5-3.5-3.5zM1370.7,939.5l3.5,3.5-3.5,3.5-3.5-3.5zM1372.0,939.8l3.5,3.5-3.5,3.5-3.5-3.5zM1373.2,939.9l3.5,3.5-3.5,3.5-3.5-3.5zM1374.5,940.2l3.5,3.5-3.5,3.5-3.5-3.5zM1375.7,940.6l3.5,3.5-3.5,3.5-3.5-3.5zM1377.0,941.2l3.5,3.5-3.5,3.5-3.5-3.5zM1378.2,941.0l3.5,3.5-3.5,3.5-3.5-3.5zM1379.5,941.9l3.5,3.5-3.5,3.5-3.5-3.5zM1380.7,942.3l3.5,3.5-3.5,3.5-3.5-3.5zM1381.9,942.5l3.5,3.5-3.5,3.5-3.5-3.5zM1383.2,942.9l3.5,3.5-3.5,3.5-3.5-3.5zM1384.4,944.5l3.5,3.5-3.5,3.5-3.5-3.5zM1385.7,943.7l3.5,3.5-3.5,3.5-3.5-3.5zM1386.9,944.8l3.5,3.5-3.5,3.5-3.5-3.5zM1388.2,945.8l3.5,3.5-3.5,3.5-3.5-3.5zM1389.4,945.9l3.5,3.5-3.5,3.5-3.5-3.5zM1390.7,945.9l3.5,3.5-3.5,3.5-3.5-3.5zM1391.9,947.0l3.5,3.5-3.5,3.5-3.5-3.5zM1393.1,946.0l3.5,3.5-3.5,3.5-3.5-3.5zM1394.4,946.6l3.5,3.5-3.5,3.5-3.5-3.5zM1395.6,947.6l3.5,3.5-3.5,3.5-3.5-3.5zM1396.9,948.2l3.5,3.5-3.5,3.5-3.5-3.5zM1398.1,948.7l3.5,3.5-3.5,3.5-3.5-3.5zM1399.4,950.4l3.5,3.5-3.5,3.5-3.5-3.5zM1400.6,950.8l3.5,3.5-3.5,3.5-3.5-3.5zM1401.8,950.3l3.5,3.5-3.5,3.5-3.5-3.5zM1403.1,951.0l3.5,3.5-3.5,3.5-3.5-3.5zM1404.3,950.8l3.5,3.5-3.5,3.5-3.5-3.5zM1405.6,952.1l3.5,3.5-3.5,3.5-3.5-3.5zM1406.8,951.6l3.5,3.5-3.5,3.5-3.5-3.5zM1408.1,953.8l3.5,3.5-3.5,3.5-3.5-3.5zM1409.3,953.2l3.5,3.5-3.5,3.5-3.5-3.5zM1410.6,954.4l3.5,3.5-3.5,3.5-3.5-3.5zM1411.8,953.9l3.5,3.5-3.5,3.5-3.5-3.5zM1413.0,956.1l3.5,3.5-3.5,3.5-3.5-3.5zM1414.3,956.2l3.5,3.5-3.5,3.5-3.5-3.5zM1415.5,957.5l3.5,3.5-3.5,3.5-3.5-3.5zM1416.8,957.0l3.5,3.5-3.5,3.5-3.5-3.5zM1418.0,956.6l3.5,3.5-3.5,3.5-3.5-3.5zM1419.3,957.6l3.5,3.5-3.5,3.5-3.5-3.5zM1420.5,958.0l3.5,3.5-3.5,3.5-3.5-3.5zM1421.8,960.3l3.5,3.5-3.5,3.5-3.5-3.5zM1423.0,959.5l3.5,3.5-3.5,3.5-3.5-3.5zM1424.2,960.1l3.5,3.5-3.5,3.5-3.5-3.5zM1425.5,961.5l3.5,3.5-3.5,3.5-3.5-3.5zM1426.7,961.9l3.5,3.5-3.5,3.5-3.5-3.5zM1428.0,962.7l3.5,3.5-3.5,3.5-3.5-3.5zM1429.2,962.7l3.5,3.5-3.5,3.5-3.5-3.5zM1430.5,962.5l3.5,3.5-3.5,3.5-3.5-3.5zM1431.7,963.5l3.5,3.5-3.5,3.5-3.5-3.5zM1433.0,963.6l3.5,3.5-3.5,3.5-3.5-3.5zM1434.2,966.3l3.5,3.5-3.5,3.5-3.5-3.5zM1435.4,966.8l3.5,3.5-3.5,3.5-3.5-3.5zM1436.7,966.7l3.5,3.5-3.5,3.5-3.5-3.5zM1437.9,967.9l3.5,3.5-3.5,3.5-3.5-3.5zM1439.2,968.6l3.5,3.5-3.5,3.5-3.5-3.5zM1440.4,969.3l3.5,3.5-3.5,3.5-3.5-3.5zM1441.7,969.9l3.5,3.5-3.5,3.5-3.5-3.5zM1442.9,970.7l3.5,3.5-3.5,3.5-3.5-3.5zM1444.2,970.9l3.5,3.5-3.5,3.5-3.5-3.5zM1445.4,970.2l3.5,3.5-3.5,3.5-3.5-3.5zM1446.6,970.6l3.5,3.5-3.5,3.5-3.5-3.5zM1447.9,973.7l3.5,3.5-3.5,3.5-3.5-3.5zM1449.1,974.0l3.5,3.5-3.5,3.5-3.5-3.5zM1450.4,972.8l3.5,3.5-3.5,3.5-3.5-3.5zM1451.6,975.2l3.5,3.5-3.5,3.5-3.5-3.5zM1452.9,975.2l3.5,3.5-3.5,3.5-3.5-3.5zM1454.1,976.1l3.5,3.5-3.5,3.5-3.5-3.5zM1455.4,975.6l3.5,3.5-3.5,3.5-3.5-3.5zM1456.6,978.4l3.5,3.5-3.5,3.5-3.5-3.5zM1457.8,978.6l3.5,3.5-3.5,3.5-3.5-3.5zM1459.1,979.8l3.5,3.5-3.5,3.5-3.5-3.5zM1460.3,980.7l3.5,3.5-3.5,3.5-3.5-3.5zM1461.6,981.6l3.5,3.5-3.5,3.5-3.5-3.5zM1462.8,982.5l3.5,3.5-3.5,3.5-3.5-3.5zM1464.1,982.4l3.5,3.5-3.5,3.5-3.5-3.5zM1465.3,983.1l3.5,3.5-3.5,3.5-3.5-3.5zM1466.6,983.4l3.5,3.5-3.5,3.5-3.5-3.5zM1467.8,984.8l3.5,3.5-3.5,3.5-3.5-3.5zM1469.0,985.1l3.5,3.5-3.5,3.5-3.5-3.5zM1470.3,985.3l3.5,3.5-3.5,3.5-3.5-3.5zM1471.5,987.4l3.5,3.5-3.5,3.5-3.5-3.5zM1472.8,987.9l3.5,3.5-3.5,3.5-3.5-3.5zM1474.0,986.6l3.5,3.5-3.5,3.5-3.5-3.5zM1475.3,987.9l3.5,3.5-3.5,3.5-3.5-3.5zM1476.5,989.6l3.5,3.5-3.5,3.5-3.5-3.5zM1477.8,989.7l3.5,3.5-3.5,3.5-3.5-3.5zM1479.0,992.0l3.5,3.5-3.5,3.5-3.5-3.5zM1480.2,992.2l3.5,3.5-3.5,3.5-3.5-3.5zM1481.5,993.2l3.5,3.5-3.5,3.5-3.5-3.5zM1482.7,994.2l3.5,3.5-3.5,3.5-3.5-3.5zM1484.0,995.2l3.5,3.5-3.5,3.5-3.5-3.5zM1485.2,995.0l3.5,3.5-3.5,3.5-3.5-3.5zM1486.5,996.4l3.5,3.5-3.5,3.5-3.5-3.5zM1487.7,996.9l3.5,3.5-3.5,3.5-3.5-3.5zM1489.0,998.1l3.5,3.5-3.5,3.5-3.5-3.5zM1490.2,998.7l3.5,3.5-3.5,3.5-3.5-3.5zM1491.4,1000.1l3.5,3.5-3.5,3.5-3.5-3.5zM1492.7,1000.4l3.5,3.5-3.5,3.5-3.5-3.5zM1493.9,1000.6l3.5,3.5-3.5,3.5-3.5-3.5zM1495.2,1001.8l3.5,3.5-3.5,3.5-3.5-3.5zM1496.4,1001.8l3.5,3.5-3.5,3.5-3.5-3.5zM1497.7,1003.5l3.5,3.5-3.5,3.5-3.5-3.5zM1498.9,1005.1l3.5,3.5-3.5,3.5-3.5-3.5zM1500.1,1004.7l3.5,3.5-3.5,3.5-3.5-3.5zM1501.4,1004.9l3.5,3.5-3.5,3.5-3.5-3.5zM1502.6,1006.7l3.5,3.5-3.5,3.5-3.5-3.5zM1503.9,1007.4l3.5,3.5-3.5,3.5-3.5-3.5zM1505.1,1008.5l3.5,3.5-3.5,3.5-3.5-3.5zM1506.4,1009.1l3.5,3.5-3.5,3.5-3.5-3.5zM1507.6,1010.4l3.5,3.5-3.5,3.5-3.5-3.5zM1508.9,1010.6l3.5,3.5-3.5,3.5-3.5-3.5zM1510.1,1013.1l3.5,3.5-3.5,3.5-3.5-3.5zM1511.3,1012.9l3.5,3.5-3.5,3.5-3.5-3.5zM1512.6,1014.3l3.5,3.5-3.5,3.5-3.5-3.5z"/>
<path d="M226.0,1080.9l3.5,3.5-3.5,3.5-3.5-3.5z"/>
<path d="M227.2,1097.7l3.5,3.5-3.5,3.5-3.5-3.5z"/>
<path d="M228.5,1093.7l3.5,3.5-3.5,3.5-3.5-3.5z"/>
<path d="M229.7,1101.9l3.5,3.5-3.5,3.5-3.5-3.5z"/>
<path d="M231.0,1109.4l3.5,3.5-3.5,3.5-3.5-3.5z"/>
<path d="M232.2,1113.3l3.5,3.5-3.5,3.5-3.5-3.5z"/>
<path d="M233.5,1115.0l3.5,3.5-3.5,3.5-3.5-3.5z"/>
<path d="M234.7,1126.2l3.5,3.5-3.5,3.5-3.5-3.5z"/>
<path d="M236.0,1127.6l3.5,3.5-3.5,3.5-3.5-3.5z"/>
<path d="M237.2,1121.1l3.5,3.5-3.5,3.5-3.5-3.5z"/>
<path d="M238.4,1141.1l3.5,3.5-3.5,3.5-3.5-3.5z"/>
<path d="M239.7,1138.6l3.5,3.5-3.5,3.5-3.5-3.5z"/>
<path d="M240.9,1134.7l3.5,3.5-3.5,3.5-3.5-3.5z"/>
<path d="M242.2,1143.6l3.5,3.5-3.5,3.5-3.5-3.5z"/>
<path d="M243.4,1141.0l3.5,3.5-3.5,3.5-3.5-3.5z"/>
<path d="M244.7,1145.0l3.5,3.5-3.5,3.5-3.5-3.5z"/>
<path d="M245.9,1149.7l3.5,3.5-3.5,3.5-3.5-3.5z"/>
<path d="M247.2,1143.7l3.5,3.5-3.5,3.5-3.5-3.5z"/>
<path d="M248.4,1150.9l3.5,3.5-3.5,3.5-3.5-3.5z"/>
<path d="M249.6,1153.3l3.5,3.5-3.5,3.5-3.5-3.5z"/>
<path d="M250.9,1151.8l3.5,3.5-3.5,3.5-3.5-3.5z"/>
<path d="M252.1,1144.8l3.5,3.5-3.5,3.5-3.5-3.5z"/>
<path d="M253.4,1146.3l3.5,3.5-3.5,3.5-3.5-3.5z"/>
<path d="M254.6,1133.2l3.5,3.5-3.5,3.5-3.5-3.5z"/>
<path d="M255.9,1132.9l3.5,3.5-3.5,3.5-3.5-3.5z"/>
<path d="M257.1,1126.3l3.5,3.5-3.5,3.5-3.5-3.5z"/>
<path d="M258.4,1110.9l3.5,3.5-3.5,3.5-3.5-3.5z"/>
<path d="M259.6,1105.8l3.5,3.5-3.5,3.5-3.5-3.5z"/>
<path d="M260.8,1106.0l3.5,3.5-3.5,3.5-3.5-3.5z"/>
<path d="M262.1,1108.0l3.5,3.5-3.5,3.5-3.5-3.5z"/>
<path d="M263.3,1101.6l3.5,3.5-3.5,3.5-3.5-3.5z"/>
<path d="M264.6,1101.5l3.5,3.5-3.5,3.5-3.5-3.5z"/>
<path d="M265.8,1095.4l3.5,3.5-3.5,3.5-3.5-3.5z"/>
<path d="M267.1,1093.9l3.5,3.5-3.5,3.5-3.5-3.5z"/>
<path d="M268.3,1092.4l3.5,3.5-3.5,3.5-3.5-3.5z"/>
<path d="M269.6,1097.4l3.5,3.5-3.5,3.5-3.5-3.5z"/>
<path d="M270.8,1097.0l3.5,3.5-3.5,3.5-3.5-3.5z"/>
<path d="M272.0,1095.1l3.5,3.5-3.5,3.5-3.5-3.5z"/>
<path d="M273.3,1100.5l3.5,3.5-3.5,3.5-3.5-3.5z"/>
<path d="M274.5,1111.3l3.5,3.5-3.5,3.5-3.5-3.5z"/>
<path d="M275.8,1117.8l3.5,3.5-3.5,3.5-3.5-3.5z"/>
<path d="M277.0,1119.7l3.5,3.5-3.5,3.5-3.5-3.5z"/>
<path d="M278.3,1125.5l3.5,3.5-3.5,3.5-3.5-3.5z"/>
<path d="M279.5,1123.1l3.5,3.5-3.5,3.5-3.5-3.5z"/>
<path d="M280.7,1124.6l3.5,3.5-3.5,3.5-3.5-3.5z"/>
<path d="M282.0,1123.2l3.5,3.5-3.5,3.5-3.5-3.5z"/>
<path d="M283.2,1128.0l3.5,3.5-3.5,3.5-3.5-3.5z"/>
<path d="M284.5,1132.6l3.5,3.5-3.5,3.5-3.5-3.5z"/>
<path d="M285.7,1130.4l3.5,3.5-3.5,3.5-3.5-3.5z"/>
<path d="M287.0,1131.7l3.5,3.5-3.5,3.5-3.5-3.5z"/>
<path d="M288.2,1134.0l3.5,3.5-3.5,3.5-3.5-3.5z"/>
<path d="M289.5,1134.8l3.5,3.5-3.5,3.5-3.5-3.5z"/>
<path d="M290.7,1136.7l3.5,3.5-3.5,3.5-3.5-3.5z"/>
<path d="M291.9,1137.9l3.5,3.5-3.5,3.5-3.5-3.5z"/>
<path d="M293.2,1139.3l3.5,3.5-3.5,3.5-3.5-3.5z"/>
<path d="M294.4,1136.9l3.5,3.5-3.5,3.5-3.5-3.5z"/>
<path d="M295.7,1140.9l3.5,3.5-3.5,3.5-3.5-3.5z"/>
<path d="M296.9,1137.5l3.5,3.5-3.5,3.5-3.5-3.5z"/>
<path d="M298.2,1143.4l3.5,3.5-3.5,3.5-3.5-3.5z"/>
<path d="M299.4,1140.9l3.5,3.5-3.5,3.5-3.5-3.5z"/>
<path d="M300.7,1145.0l3.5,3.5-3.5,3.5-3.5-3.5z"/>
<path d="M301.9,1147.5l3.5,3.5-3.5,3.5-3.5-3.5z"/>
<path d="M303.1,1146.7l3.5,3.5-3.5,3.5-3.5-3.5z"/>
<path d="M304.4,1149.4l3.5,3.5-3.5,3.5-3.5-3.5z"/>
<path d="M305.6,1146.9l3.5,3.5-3.5,3.5-3.5-3.5z"/>
<path d="M306.9,1150.0l3.5,3.5-3.5,3.5-3.5-3.5z"/>
<path d="M308.1,1154.7l3.5,3.5-3.5,3.5-3.5-3.5z"/>
<path d="M309.4,1151.1l3.5,3.5-3.5,3.5-3.5-3.5z"/>
<path d="M310.6,1155.4l3.5,3.5-3.5,3.5-3.5-3.5z"/>
<path d="M311.9,1151.0l3.5,3.5-3.5,3.5-3.5-3.5z"/>
<path d="M313.1,1152.2l3.5,3.5-3.5,3.5-3.5-3.5z"/>
<path d="M314.3,1151.9l3.5,3.5-3.5,3.5-3.5-3.5z"/>
<path d="M315.6,1154.5l3.5,3.5-3.5,3.5-3.5-3.5z"/>
<path d="M316.8,1155.9l3.5,3.5-3.5,3.5-3.5-3.5z"/>
<path d="M318.1,1153.0l3.5,3.5-3.5,3.5-3.5-3.5z"/>
<path d="M319.3,1155.8l3.5,3.5-3.5,3.5-3.5-3.5z"/>
<path d="M320.6,1160.8l3.5,3.5-3.5,3.5-3.5-3.5z"/>
<path d="M321.8,1157.9l3.5,3.5-3.5,3.5-3.5-3.5z"/>
<path d="M323.1,1157.9l3.5,3.5-3.5,3.5-3.5-3.5z"/>
<path d="M324.3,1161.2l3.5,3.5-3.5,3.5-3.5-3.5z"/>
<path d="M325.5,1160.3l3.5,3.5-3.5,3.5-3.5-3.5z"/>
<path d="M326.8,1159.6l3.5,3.5-3.5,3.5-3.5-3.5z"/>
<path d="M328.0,1157.7l3.5,3.5-3.5,3.5-3.5-3.5z"/>
<path d="M329.3,1163.2l3.5,3.5-3.5,3.5-3.5-3.5z"/>
<path d="M330.5,1160.6l3.5,3.5-3.5,3.5-3.5-3.5z"/>
<path d="M331.8,1162.0l3.5,3.5-3.5,3.5-3.5-3.5z"/>
<path d="M333.0,1160.1l3.5,3.5-3.5,3.5-3.5-3.5z"/>
<path d="M334.3,1165.0l3.5,3.5-3.5,3.5-3.5-3.5z"/>
<path d="M335.5,1164.2l3.5,3.5-3.5,3.5-3.5-3.5z"/>
<path d="M336.7,1165.0l3.5,3.5-3.5,3.5-3.5-3.5z"/>
<path d="M338.0,1163.3l3.5,3.5-3.5,3.5-3.5-3.5z"/>
<path d="M339.2,1164.8l3.5,3.5-3.5,3.5-3.5-3.5z"/>
<path d="M340.5,1166.0l3.5,3.5-3.5,3.5-3.5-3.5z"/>
<path d="M341.7,1166.6l3.5,3.5-3.5,3.5-3.5-3.5z"/>
<path d="M343.0,1165.7l3.5,3.5-3.5,3.5-3.5-3.5z"/>
<path d="M344.2,1165.4l3.5,3.5-3.5,3.5-3.5-3.5z"/>
<path d="M345.5,1165.3l3.5,3.5-3.5,3.5-3.5-3.5z"/>
<path d="M346.7,1165.0l3.5,3.5-3.5,3.5-3.5-3.5z"/>
<path d="M347.9,1165.0l3.5,3.5-3.5,3.5-3.5-3.5z"/>
<path d="M349.2,1167.7l3.5,3.5-3.5,3.5-3.5-3.5z"/>
<path d="M350.4,1167.1l3.5,3.5-3.5,3.5-3.5-3.5z"/>
<path d="M351.7,1164.4l3.5,3.5-3.5,3.5-3.5-3.5z"/>
<path d="M352.9,1168.0l3.5,3.5-3.5,3.5-3.5-3.5z"/>
<path d="M354.2,1170.5l3.5,3.5-3.5,3.5-3.5-3.5z"/>
<path d="M355.4,1168.7l3.5,3.5-3.5,3.5-3.5-3.5z"/>
<path d="M356.6,1166.4l3.5,3.5-3.5,3.5-3.5-3.5z"/>
<path d="M357.9,1169.8l3.5,3.5-3.5,3.5-3.5-3.5z"/>
<path d="M359.1,1171.7l3.5,3.5-3.5,3.5-3.5-3.5z"/>
<path d="M360.4,1171.2l3.5,3.5-3.5,3.5-3.5-3.5z"/>
<path d="M361.6,1170.7l3.5,3.5-3.5,3.5-3.5-3.5z"/>
<path d="M362.9,1174.9l3.5,3.5-3.5,3.5-3.5-3.5z"/>
<path d="M364.1,1175.5l3.5,3.5-3.5,3.5-3.5-3.5z"/>
<path d="M365.4,1172.8l3.5,3.5-3.5,3.5-3.5-3.5z"/>
<path d="M884.2,1022.5l3.5,3.5-3.5,3.5-3.5-3.5z"/>
<path d="M885.5,1020.8l3.5,3.5-3.5,3.5-3.5-3.5z"/>
<path d="M886.7,1029.2l3.5,3.5-3.5,3.5-3.5-3.5z"/>
<path d="M888.0,1022.4l3.5,3.5-3.5,3.5-3.5-3.5z"/>
<path d="M889.2,1014.7l3.5,3.5-3.5,3.5-3.5-3.5z"/>
<path d="M890.4,1012.2l3.5,3.5-3.5,3.5-3.5-3.5z"/>
<path d="M891.7,1023.2l3.5,3.5-3.5,3.5-3.5-3.5z"/>
<path d="M892.9,1018.1l3.5,3.5-3.5,3.5-3.5-3.5z"/>
<path d="M894.2,1020.6l3.5,3.5-3.5,3.5-3.5-3.5z"/>
<path d="M895.4,1017.8l3.5,3.5-3.5,3.5-3.5-3.5z"/>
<path d="M896.7,1017.8l3.5,3.5-3.5,3.5-3.5-3.5z"/>
<path d="M897.9,1018.2l3.5,3.5-3.5,3.5-3.5-3.5z"/>
<path d="M899.2,1013.1l3.5,3.5-3.5,3.5-3.5-3.5z"/>
<path d="M900.4,1017.6l3.5,3.5-3.5,3.5-3.5-3.5z"/>
<path d="M901.6,1020.9l3.5,3.5-3.5,3.5-3.5-3.5z"/>
<path d="M902.9,1019.0l3.5,3.5-3.5,3.5-3.5-3.5z"/>
<path d="M904.1,1009.1l3.5,3.5-3.5,3.5-3.5-3.5z"/>
<path d="M905.4,1010.1l3.5,3.5-3.5,3.5-3.5-3.5z"/>
<path d="M906.6,1009.6l3.5,3.5-3.5,3.5-3.5-3.5z"/>
<path d="M907.9,1012.9l3.5,3.5-3.5,3.5-3.5-3.5z"/>
<path d="M909.1,1016.1l3.5,3.5-3.5,3.5-3.5-3.5z"/>
<path d="M910.4,1013.6l3.5,3.5-3.5,3.5-3.5-3.5z"/>
<path d="M911.6,1006.0l3.5,3.5-3.5,3.5-3.5-3.5z"/>
<path d="M912.8,1011.4l3.5,3.5-3.5,3.5-3.5-3.5z"/>
<path d="M914.1,1013.1l3.5,3.5-3.5,3.5-3.5-3.5z"/>
<path d="M915.3,1008.5l3.5,3.5-3.5,3.5-3.5-3.5z"/>
<path d="M916.6,1015.1l3.5,3.5-3.5,3.5-3.5-3.5z"/>
<path d="M917.8,1006.7l3.5,3.5-3.5,3.5-3.5-3.5z"/>
<path d="M919.1,1011.5l3.5,3.5-3.5,3.5-3.5-3.5z"/>
<path d="M920.3,1014.2l3.5,3.5-3.5,3.5-3.5-3.5z"/>
<path d="M921.6,1003.2l3.5,3.5-3.5,3.5-3.5-3.5z"/>
<path d="M922.8,1005.2l3.5,3.5-3.5,3.5-3.5-3.5z"/>
<path d="M924.0,1007.1l3.5,3.5-3.5,3.5-3.5-3.5z"/>
<path d="M925.3,1013.4l3.5,3.5-3.5,3.5-3.5-3.5z"/>
<path d="M926.5,999.6l3.5,3.5-3.5,3.5-3.5-3.5z"/>
<path d="M927.8,1005.1l3.5,3.5-3.5,3.5-3.5-3.5z"/>
<path d="M929.0,1003.7l3.5,3.5-3.5,3.5-3.5-3.5z"/>
<path d="M930.3,1001.3l3.5,3.5-3.5,3.5-3.5-3.5z"/>
<path d="M931.5,999.8l3.5,3.5-3.5,3.5-3.5-3.5z"/>
<path d="M932.8,999.9l3.5,3.5-3.5,3.5-3.5-3.5z"/>
<path d="M934.0,999.8l3.5,3.5-3.5,3.5-3.5-3.5z"/>
<path d="M935.2,997.0l3.5,3.5-3.5,3.5-3.5-3.5z"/>
<path d="M936.5,1002.8l3.5,3.5-3.5,3.5-3.5-3.5z"/>
<path d="M937.7,996.3l3.5,3.5-3.5,3.5-3.5-3.5z"/>
<path d="M939.0,997.1l3.5,3.5-3.5,3.5-3.5-3.5z"/>
<path d="M940.2,996.1l3.5,3.5-3.5,3.5-3.5-3.5z"/>
<path d="M941.5,996.0l3.5,3.5-3.5,3.5-3.5-3.5z"/>
<path d="M942.7,996.4l3.5,3.5-3.5,3.5-3.5-3.5z"/>
<path d="M944.0,994.1l3.5,3.5-3.5,3.5-3.5-3.5z"/>
<path d="M945.2,994.5l3.5,3.5-3.5,3.5-3.5-3.5z"/>
<path d="M946.4,997.7l3.5,3.5-3.5,3.5-3.5-3.5z"/>
<path d="M947.7,995.8l3.5,3.5-3.5,3.5-3.5-3.5z"/>
<path d="M948.9,992.7l3.5,3.5-3.5,3.5-3.5-3.5z"/>
<path d="M950.2,994.2l3.5,3.5-3.5,3.5-3.5-3.5z"/>
<path d="M951.4,990.6l3.5,3.5-3.5,3.5-3.5-3.5z"/>
<path d="M952.7,991.8l3.5,3.5-3.5,3.5-3.5-3.5z"/>
<path d="M953.9,988.3l3.5,3.5-3.5,3.5-3.5-3.5z"/>
<path d="M955.2,988.3l3.5,3.5-3.5,3.5-3.5-3.5z"/>
<path d="M956.4,988.2l3.5,3.5-3.5,3.5-3.5-3.5z"/>
<path d="M957.6,991.0l3.5,3.5-3.5,3.5-3.5-3.5z"/>
<path d="M1513.8,1017.7l3.5,3.5-3.5,3.5-3.5-3.5z"/>
<path d="M1515.1,1015.4l3.5,3.5-3.5,3.5-3.5-3.5z"/>
<path d="M1516.3,1018.5l3.5,3.5-3.5,3.5-3.5-3.5z"/>
<path d="M1517.6,1017.0l3.5,3.5-3.5,3.5-3.5-3.5z"/>
<path d="M1518.8,1017.2l3.5,3.5-3.5,3.5-3.5-3.5z"/>
<path d="M1520.1,1019.0l3.5,3.5-3.5,3.5-3.5-3.5z"/>
<path d="M1521.3,1022.6l3.5,3.5-3.5,3.5-3.5-3.5z"/>
<path d="M1522.5,1017.2l3.5,3.5-3.5,3.5-3.5-3.5z"/>
<path d="M1523.8,1019.6l3.5,3.5-3.5,3.5-3.5-3.5z"/>
<path d="M1525.0,1021.0l3.5,3.5-3.5,3.5-3.5-3.5z"/>
<path d="M1526.3,1022.9l3.5,3.5-3.5,3.5-3.5-3.5z"/>
<path d="M1527.5,1030.2l3.5,3.5-3.5,3.5-3.5-3.5z"/>
<path d="M1528.8,1027.0l3.5,3.5-3.5,3.5-3.5-3.5z"/>
<path d="M1530.0,1027.2l3.5,3.5-3.5,3.5-3.5-3.5z"/>
<path d="M1531.3,1030.1l3.5,3.5-3.5,3.5-3.5-3.5z"/>
<path d="M1532.5,1034.8l3.5,3.5-3.5,3.5-3.5-3.5z"/>
</g>
<path class="c" stroke="#0000ee" d="M226.0,1094.9 226.5,1096.5 227.0,1098.2 227.5,1100.0 228.0,1101.8 228.5,1103.6 229.0,1105.6 229.5,1107.5 230.0,1109.6 230.5,1111.9 231.0,1114.2 231.5,1116.6 232.0,1118.9 232.5,1120.9 233.0,1122.5 233.5,1124.0 234.0,1125.4 234.5,1126.6 235.0,1127.8 235.5,1129.0 236.0,1130.1 236.5,1131.3 237.0,1132.5 237.5,1133.7 238.0,1134.9 238.5,1136.0 239.0,1137.2 239.5,1138.4 240.0,1139.5 240.5,1140.6 241.0,1141.6 241.5,1142.6 242.0,1143.6 242.5,1144.6 243.0,1145.5 243.5,1146.5 244.0,1147.3 244.5,1148.1 245.0,1148.8 245.5,1149.4 246.0,1149.9 246.5,1150.4 247.0,1150.8 247.5,1151.1 248.0,1151.3 248.5,1151.3 249.0,1151.1 249.5,1150.7 250.0,1150.3 250.5,1149.8 251.0,1149.2 251.5,1148.6 252.0,1148.0 252.5,1147.1 253.0,1146.0 253.5,1144.6 254.0,1143.0 254.5,1141.3 255.0,1139.4 255.5,1137.4 256.0,1135.2 256.5,1132.5 257.0,1129.4 257.5,1126.2 258.0,1123.0 258.5,1120.2 259.0,1117.1 259.5,1114.0 260.0,1111.3 260.5,1109.2 261.0,1108.2 261.5,1107.4 262.0,1106.8 262.5,1106.3 263.0,1105.8 263.5,1105.5 264.0,1105.1 264.5,1104.8 265.0,1104.5 265.5,1104.2 266.0,1103.9 266.5,1103.7 267.0,1103.4 267.5,1103.2 268.0,1102.9 268.5,1102.7 269.0,1102.5 269.5,1102.4 270.0,1102.3 270.5,1102.2 271.0,1102.2 271.5,1102.8 272.0,1104.3 272.5,1106.3 273.0,1108.6 273.5,1110.7 274.0,1112.7 274.5,1114.8 275.0,1117.0 275.5,1119.1 276.0,1120.8 276.5,1122.0 277.0,1123.0 277.5,1124.0 278.0,1124.8 278.5,1125.6 279.0,1126.3 279.5,1127.0 280.0,1127.7 280.5,1128.4 281.0,1129.1 281.5,1129.7 282.0,1130.3 282.5,1130.9 283.0,1131.5 283.5,1132.1 284.0,1132.7 284.5,1133.2 285.0,1133.8 285.5,1134.3 286.0,1134.9 286.5,1135.4 287.0,1136.0 287.5,1136.5 288.0,1137.0 288.5,1137.5 289.0,1138.0 289.5,1138.5 290.0,1139.0 290.5,1139.5 291.0,1140.0 291.5,1140.5 292.0,1141.0 292.5,1141.5 293.0,1142.0 293.5,1142.5 294.0,1143.0 294.5,1143.5 295.0,1144.0 295.5,1144.5 296.0,1145.0 296.5,1145.5 297.0,1146.0 297.5,1146.5 298.0,1147.0 298.5,1147.6 299.0,1148.1 299.5,1148.5 300.0,1149.0 300.5,1149.5 301.0,1150.0 301.5,1150.5 302.0,1151.0 302.5,1151.5 303.0,1152.0 303.5,1152.6 304.0,1153.1 304.5,1153.7 305.0,1154.2 305.5,1154.7 306.0,1155.3 306.5,1155.7 307.0,1156.2 307.5,1156.6 308.0,1157.0 308.5,1157.3 309.0,1157.6 309.5,1157.8 310.0,1157.9 310.5,1158.1 311.0,1158.2 311.5,1158.4 312.0,1158.5 312.5,1158.6 313.0,1158.7 313.5,1158.7 314.0,1158.8 314.5,1158.9 315.0,1159.0 315.5,1159.2 316.0,1159.3 316.5,1159.4 317.0,1159.6 317.5,1159.8 318.0,1160.1 318.5,1160.4 319.0,1160.7 319.5,1161.1 320.0,1161.5 320.5,1161.9 321.0,1162.3 321.5,1162.7 322.0,1163.1 322.5,1163.4 323.0,1163.8 323.5,1164.1 324.0,1164.4 324.5,1164.6 325.0,1164.8 325.5,1165.0 326.0,1165.1 326.5,1165.3 327.0,1165.4 327.5,1165.5 328.0,1165.7 328.5,1165.8 329.0,1165.9 329.5,1166.0 330.0,1166.1 330.5,1166.2 331.0,1166.3 331.5,1166.4 332.0,1166.5 332.5,1166.6 333.0,1166.7 333.5,1166.8 334.0,1167.0 334.5,1167.1 335.0,1167.2 335.5,1167.4 336.0,1167.5 336.5,1167.6 337.0,1167.8 337.5,1167.9 338.0,1168.1 338.5,1168.2 339.0,1168.4 339.5,1168.5 340.0,1168.7 340.5,1168.8 341.0,1169.0 341.5,1169.1 342.0,1169.3 342.5,1169.5 343.0,1169.6 343.5,1169.8 344.0,1169.9 344.5,1170.1 345.0,1170.3 345.5,1170.4 346.0,1170.6 346.5,1170.7 347.0,1170.9 347.5,1171.1 348.0,1171.2 348.5,1171.4 349.0,1171.6 349.5,1171.7 350.0,1171.9 350.5,1172.0 351.0,1172.2 351.5,1172.4 352.0,1172.5 352.5,1172.7 353.0,1172.8 353.5,1173.0 354.0,1173.2 354.5,1173.3 355.0,1173.5 355.5,1173.7 356.0,1173.9 356.5,1174.0 357.0,1174.2 357.5,1174.4 358.0,1174.6 358.5,1174.7 359.0,1174.9 359.5,1175.1 360.0,1175.3 360.5,1175.5 361.0,1175.7 361.5,1175.9 362.0,1176.1 362.5,1176.3 363.0,1176.5 363.5,1176.7 364.0,1176.9 364.5,1177.1 365.0,1177.3 365.5,1177.5 366.0,1177.7 366.5,1177.9 367.0,1178.2 367.5,1178.4 368.0,1178.6 368.5,1178.8 369.0,1179.0 369.5,1179.3 370.0,1179.5 370.5,1179.7 371.0,1180.0 371.5,1180.2 372.0,1180.4 372.5,1180.7 373.0,1180.9 373.5,1181.1 374.0,1181.4 374.5,1181.6 375.0,1181.9 375.5,1182.1 376.0,1182.4 376.5,1182.6 377.0,1182.9 377.5,1183.1 378.0,1183.4 378.5,1183.6 379.0,1183.9 379.5,1184.2 380.0,1184.4 380.5,1184.7 381.0,1185.0 381.5,1185.2 382.0,1185.5 382.5,1185.8 383.0,1186.1 383.5,1186.4 384.0,1186.6 384.5,1186.9 385.0,1187.2 385.5,1187.5 386.0,1187.8 386.5,1188.1 387.0,1188.4 387.5,1188.7 388.0,1189.0 388.5,1189.4 389.0,1189.7 389.5,1190.0 390.0,1190.4 390.5,1190.7 391.0,1191.0 391.5,1191.4 392.0,1191.7 392.5,1192.1 393.0,1192.4 393.5,1192.7 394.0,1193.1 394.5,1193.4 395.0,1193.7 395.5,1194.0 396.0,1194.4 396.5,1194.7 397.0,1195.0 397.5,1195.3 398.0,1195.5 398.5,1195.8 399.0,1196.1 399.5,1196.3 400.0,1196.6 400.5,1196.9 401.0,1197.1 401.5,1197.4 402.0,1197.7 402.5,1197.9 403.0,1198.2 403.5,1198.4 404.0,1198.6 404.5,1198.9 405.0,1199.1 405.5,1199.4 406.0,1199.6 406.5,1199.8 407.0,1200.0 407.5,1200.3 408.0,1200.5 408.5,1200.7 409.0,1200.9 409.5,1201.1 410.0,1201.3 410.5,1201.5 411.0,1201.7 411.5,1201.9 412.0,1202.1 412.5,1202.3 413.0,1202.5 413.5,1202.7 414.0,1202.8 414.5,1203.0 415.0,1203.2 415.5,1203.4 416.0,1203.5 416.5,1203.7 417.0,1203.9 417.5,1204.0 418.0,1204.2 418.5,1204.4 419.0,1204.5 419.5,1204.7 420.0,1204.8 420.5,1205.0 421.0,1205.1 421.5,1205.3 422.0,1205.4 422.5,1205.5 423.0,1205.6 423.5,1205.8 424.0,1205.9 424.5,1206.0 425.0,1206.1 425.5,1206.2 426.0,1206.4 426.5,1206.5 427.0,1206.6 427.5,1206.7 428.0,1206.8 428.5,1206.9 429.0,1207.0 429.5,1207.1 430.0,1207.2 430.5,1207.3 431.0,1207.4 431.5,1207.5 432.0,1207.6 432.5,1207.7 433.0,1207.8 433.5,1207.9 434.0,1207.9 434.5,1208.0 435.0,1208.1 435.5,1208.2 436.0,1208.2 436.5,1208.3 437.0,1208.3 437.5,1208.4 438.0,1208.5 438.5,1208.5 439.0,1208.5 439.5,1208.6 440.0,1208.6 441.5,1208.7 443.0,1208.8 444.5,1208.8 446.0,1208.8 447.5,1208.8 449.0,1208.8 450.5,1208.7 452.0,1208.7 453.5,1208.6 455.0,1208.5 456.5,1208.3 458.0,1208.2 459.5,1208.0 461.0,1207.8 462.5,1207.6 464.0,1207.4 465.5,1207.2 467.0,1206.9 468.5,1206.7 470.0,1206.4 471.5,1206.1 473.0,1205.8 474.5,1205.5 476.0,1205.1 477.5,1204.8 479.0,1204.4 480.5,1204.1 482.0,1203.7 483.5,1203.3 485.0,1202.9 486.5,1202.5 488.0,1202.1 489.5,1201.7 491.0,1201.3 492.5,1200.8 494.0,1200.4 495.5,1200.0 497.0,1199.5 498.5,1199.1 500.0,1198.6 501.5,1198.2 503.0,1197.7 504.5,1197.2 506.0,1196.8 507.5,1196.3 509.0,1195.8 510.5,1195.3 512.0,1194.9 513.5,1194.4 515.0,1193.9 516.5,1193.4 518.0,1192.9 519.5,1192.4 521.0,1191.9 522.5,1191.4 524.0,1190.9 525.5,1190.4 527.0,1189.9 528.5,1189.4 530.0,1188.9 531.5,1188.3 533.0,1187.8 534.5,1187.3 536.0,1186.8 537.5,1186.2 539.0,1185.7 540.5,1185.2 542.0,1184.6 543.5,1184.1 545.0,1183.5 546.5,1183.0 548.0,1182.5 549.5,1181.9 551.0,1181.4 552.5,1180.8 554.0,1180.3 555.5,1179.7 557.0,1179.2 558.5,1178.6 560.0,1178.0 561.5,1177.5 563.0,1176.9 564.5,1176.4 566.0,1175.8 567.5,1175.2 569.0,1174.7 570.5,1174.1 572.0,1173.5 573.5,1173.0 575.0,1172.4 576.5,1171.8 578.0,1171.2 579.5,1170.7 581.0,1170.1 582.5,1169.5 584.0,1168.9 585.5,1168.4 587.0,1167.8 588.5,1167.2 590.0,1166.6 591.5,1166.1 593.0,1165.5 594.5,1164.9 596.0,1164.3 597.5,1163.8 599.0,1163.2 600.5,1162.6 602.0,1162.0 603.5,1161.5 605.0,1160.9 606.5,1160.3 608.0,1159.7 609.5,1159.1 611.0,1158.6 612.5,1158.0 614.0,1157.4 615.5,1156.8 617.0,1156.3 618.5,1155.7 620.0,1155.1 621.5,1154.5 623.0,1153.9 624.5,1153.4 626.0,1152.8 627.5,1152.2 629.0,1151.6 630.5,1151.0 632.0,1150.5 633.5,1149.9 635.0,1149.3 636.5,1148.7 638.0,1148.1 639.5,1147.5 641.0,1146.9 642.5,1146.4 644.0,1145.8 645.5,1145.2 647.0,1144.6 648.5,1144.0 650.0,1143.4 651.5,1142.8 653.0,1142.2 654.5,1141.6 656.0,1141.0 657.5,1140.4 659.0,1139.8 660.5,1139.2 662.0,1138.6 663.5,1138.0 665.0,1137.4 666.5,1136.8 668.0,1136.2 669.5,1135.6 671.0,1135.0 672.5,1134.4 674.0,1133.8 675.5,1133.2 677.0,1132.6 678.5,1132.0 680.0,1131.4 681.5,1130.7 683.0,1130.1 684.5,1129.5 686.0,1128.9 687.5,1128.3 689.0,1127.6 690.5,1127.0 692.0,1126.4 693.5,1125.8 695.0,1125.1 696.5,1124.5 698.0,1123.9 699.5,1123.2 701.0,1122.6 702.5,1121.9 704.0,1121.3 705.5,1120.7 707.0,1120.0 708.5,1119.4 710.0,1118.7 711.5,1118.1 713.0,1117.4 714.5,1116.8 716.0,1116.1 717.5,1115.4 719.0,1114.8 720.5,1114.1 722.0,1113.4 723.5,1112.8 725.0,1112.1 726.5,1111.4 728.0,1110.8 729.5,1110.1 731.0,1109.4 732.5,1108.7 734.0,1108.0 735.5,1107.3 737.0,1106.6 738.5,1106.0 740.0,1105.3 741.5,1104.6 743.0,1103.9 744.5,1103.2 746.0,1102.4 747.5,1101.7 749.0,1101.0 750.5,1100.3 752.0,1099.6 753.5,1098.9 755.0,1098.2 756.5,1097.4 758.0,1096.7 759.5,1096.0 761.0,1095.2 762.5,1094.5 764.0,1093.8 765.5,1093.0 767.0,1092.3 768.5,1091.5 770.0,1090.8 771.5,1090.0 773.0,1089.3 774.5,1088.5 776.0,1087.8 777.5,1087.0 779.0,1086.3 780.5,1085.5 782.0,1084.7 783.5,1084.0 785.0,1083.2 786.5,1082.5 788.0,1081.7 789.5,1080.9 791.0,1080.1 792.5,1079.4 794.0,1078.6 795.5,1077.8 797.0,1077.0 798.5,1076.3 800.0,1075.5 801.5,1074.7 803.0,1073.9 804.5,1073.1 806.0,1072.3 807.5,1071.5 809.0,1070.8 810.5,1070.0 812.0,1069.2 813.5,1068.4 815.0,1067.6 816.5,1066.8 818.0,1066.0 819.5,1065.2 821.0,1064.4 822.5,1063.6 824.0,1062.8 825.5,1062.0 827.0,1061.2 828.5,1060.4 830.0,1059.6 831.5,1058.8 833.0,1058.0 834.5,1057.2 836.0,1056.4 837.5,1055.6 839.0,1054.8 840.5,1054.0 842.0,1053.2 843.5,1052.4 845.0,1051.6 846.5,1050.8 848.0,1050.0 849.5,1049.2 851.0,1048.4 852.5,1047.6 854.0,1046.8 855.5,1046.0 857.0,1045.1 858.5,1044.3 860.0,1043.5 861.5,1042.7 863.0,1041.9 864.5,1041.1 866.0,1040.3 867.5,1039.5 869.0,1038.7 870.5,1037.9 872.0,1037.1 873.5,1036.3 875.0,1035.5 876.5,1034.7 878.0,1033.9 879.5,1033.1 881.0,1032.3 882.5,1031.5 884.0,1030.8 885.5,1030.0 887.0,1029.2 888.5,1028.4 890.0,1027.6 891.5,1026.8 893.0,1026.0 894.5,1025.2 896.0,1024.4 897.5,1023.7 899.0,1022.9 900.5,1022.1 902.0,1021.3 903.5,1020.5 905.0,1019.8 906.5,1019.0 908.0,1018.2 909.5,1017.4 911.0,1016.7 912.5,1015.9 914.0,1015.1 915.5,1014.3 917.0,1013.6 918.5,1012.8 920.0,1012.1 921.5,1011.3 923.0,1010.5 924.5,1009.8 926.0,1009.0 927.5,1008.3 929.0,1007.5 930.5,1006.8 932.0,1006.0 933.5,1005.3 935.0,1004.5 936.5,1003.8 938.0,1003.0 939.5,1002.3 941.0,1001.6 942.5,1000.8 944.0,1000.1 945.5,999.4 947.0,998.6 948.5,997.9 950.0,997.2 951.5,996.4 953.0,995.7 954.5,995.0 956.0,994.3 957.5,993.6 959.0,992.9 960.5,992.1 962.0,991.4 963.5,990.7 965.0,990.0 966.5,989.3 968.0,988.6 969.5,987.9 971.0,987.2 972.5,986.5 974.0,985.8 975.5,985.1 977.0,984.5 978.5,983.8 980.0,983.1 981.5,982.4 983.0,981.7 984.5,981.1 986.0,980.4 987.5,979.7 989.0,979.0 990.5,978.4 992.0,977.7 993.5,977.1 995.0,976.4 996.5,975.7 998.0,975.1 999.5,974.4 1001.0,973.8 1002.5,973.2 1004.0,972.5 1005.5,971.9 1007.0,971.2 1008.5,970.6 1010.0,970.0 1011.5,969.4 1013.0,968.7 1014.5,968.1 1016.0,967.5 1017.5,966.9 1019.0,966.3 1020.5,965.7 1022.0,965.1 1023.5,964.4 1025.0,963.8 1026.5,963.3 1028.0,962.7 1029.5,962.1 1031.0,961.5 1032.5,960.9 1034.0,960.3 1035.5,959.7 1037.0,959.2 1038.5,958.6 1040.0,958.0 1041.5,957.5 1043.0,956.9 1044.5,956.3 1046.0,955.8 1047.5,955.2 1049.0,954.7 1050.5,954.1 1052.0,953.6 1053.5,953.1 1055.0,952.5 1056.5,952.0 1058.0,951.5 1059.5,950.9 1061.0,950.4 1062.5,949.9 1064.0,949.4 1065.5,948.9 1067.0,948.4 1068.5,947.9 1070.0,947.4 1071.5,946.9 1073.0,946.4 1074.5,945.9 1076.0,945.4 1077.5,944.9 1079.0,944.5 1080.5,944.0 1082.0,943.5 1083.5,943.1 1085.0,942.6 1086.5,942.1 1088.0,941.7 1089.5,941.2 1091.0,940.8 1092.5,940.3 1094.0,939.9 1095.5,939.5 1097.0,939.1 1098.5,938.6 1100.0,938.2 1101.5,937.8 1103.0,937.4 1104.5,937.0 1106.0,936.6 1107.5,936.2 1109.0,935.8 1110.5,935.4 1112.0,935.0 1113.5,934.6 1115.0,934.2 1116.5,933.9 1118.0,933.5 1119.5,933.1 1121.0,932.8 1122.5,932.4 1124.0,932.0 1125.5,931.7 1127.0,931.4 1128.5,931.0 1130.0,930.7 1131.5,930.4 1133.0,930.0 1134.5,929.7 1136.0,929.4 1137.5,929.1 1139.0,928.8 1140.5,928.5 1142.0,928.2 1143.5,927.9 1145.0,927.6 1146.5,927.3 1148.0,927.0 1149.5,926.8 1151.0,926.5 1152.5,926.2 1154.0,926.0 1155.5,925.7 1157.0,925.5 1158.5,925.2 1160.0,925.0 1161.5,924.7 1163.0,924.5 1164.5,924.3 1166.0,924.1 1167.5,923.9 1169.0,923.6 1170.5,923.4 1172.0,923.2 1173.5,923.0 1175.0,922.9 1176.5,922.7 1178.0,922.5 1179.5,922.3 1181.0,922.2 1182.5,922.0 1184.0,921.8 1185.5,921.7 1187.0,921.5 1188.5,921.4 1190.0,921.3 1191.5,921.1 1193.0,921.0 1194.5,920.9 1196.0,920.8 1197.5,920.7 1199.0,920.5 1200.5,920.4 1202.0,920.4 1203.5,920.3 1205.0,920.2 1206.5,920.1 1208.0,920.0 1209.5,920.0 1211.0,919.9 1212.5,919.9 1214.0,919.8 1215.5,919.8 1217.0,919.7 1218.5,919.7 1220.0,919.7 1221.5,919.7 1223.0,919.7 1224.5,919.6 1226.0,919.6 1227.5,919.7 1229.0,919.7 1230.5,919.7 1232.0,919.8 1233.5,919.8 1235.0,919.9 1236.5,920.0 1238.0,920.1 1239.5,920.2 1241.0,920.3 1242.5,920.5 1244.0,920.6 1245.5,920.8 1247.0,921.0 1248.5,921.3 1250.0,921.5 1251.5,921.8 1253.0,922.0 1254.5,922.3 1256.0,922.6 1257.5,922.9 1259.0,923.3 1260.5,923.6 1262.0,923.9 1263.5,924.2 1265.0,924.6 1266.5,924.9 1268.0,925.3 1269.5,925.6 1271.0,925.9 1272.5,926.3 1274.0,926.6 1275.5,926.9 1277.0,927.2 1278.5,927.6 1280.0,927.9 1281.5,928.2 1283.0,928.5 1284.5,928.7 1286.0,929.0 1287.5,929.3 1289.0,929.5 1290.5,929.8 1292.0,930.0 1293.5,930.3 1295.0,930.5 1296.5,930.7 1298.0,930.9 1299.5,931.1 1301.0,931.3 1302.5,931.4 1304.0,931.6 1305.5,931.8 1307.0,931.9 1308.5,932.1 1310.0,932.2 1311.5,932.4 1313.0,932.5 1314.5,932.7 1316.0,932.8 1317.5,933.0 1319.0,933.2 1320.5,933.3 1322.0,933.5 1323.5,933.7 1325.0,933.9 1326.5,934.1 1328.0,934.3 1329.5,934.5 1331.0,934.7 1332.5,935.0 1334.0,935.2 1335.5,935.5 1337.0,935.7 1338.5,936.0 1340.0,936.2 1341.5,936.5 1343.0,936.8 1344.5,937.1 1346.0,937.4 1347.5,937.7 1349.0,938.1 1350.5,938.4 1352.0,938.7 1353.5,939.1 1355.0,939.4 1356.5,939.8 1358.0,940.2 1359.5,940.6 1361.0,941.0 1362.5,941.4 1364.0,941.8 1365.5,942.2 1367.0,942.6 1368.5,943.0 1370.0,943.5 1371.5,943.9 1373.0,944.4 1374.5,944.9 1376.0,945.3 1377.5,945.8 1379.0,946.3 1380.5,946.8 1382.0,947.3 1383.5,947.8 1385.0,948.4 1386.5,948.9 1388.0,949.4 1389.5,950.0 1391.0,950.5 1392.5,951.1 1394.0,951.7 1395.5,952.3 1397.0,952.9 1398.5,953.5 1400.0,954.1 1401.5,954.7 1403.0,955.3 1404.5,956.0 1406.0,956.6 1407.5,957.3 1409.0,957.9 1410.5,958.6 1412.0,959.3 1413.5,959.9 1415.0,960.6 1416.5,961.3 1418.0,962.0 1419.5,962.7 1421.0,963.5 1422.5,964.2 1424.0,964.9 1425.5,965.7 1427.0,966.4 1428.5,967.2 1430.0,967.9 1431.5,968.7 1433.0,969.5 1434.5,970.2 1436.0,971.0 1437.5,971.8 1439.0,972.6 1440.5,973.4 1442.0,974.2 1443.5,975.1 1445.0,975.9 1446.5,976.7 1448.0,977.5 1449.5,978.4 1451.0,979.2 1452.5,980.1 1454.0,980.9 1455.5,981.8 1457.0,982.6 1458.5,983.5 1460.0,984.4 1461.5,985.3 1463.0,986.1 1464.5,987.0 1466.0,987.9 1467.5,988.8 1469.0,989.7 1470.5,990.6 1472.0,991.5 1473.5,992.4 1475.0,993.3 1476.5,994.3 1478.0,995.2 1479.5,996.1 1481.0,997.0 1482.5,998.0 1484.0,998.9 1485.5,999.9 1487.0,1000.8 1488.5,1001.8 1490.0,1002.8 1491.5,1003.8 1493.0,1004.7 1494.5,1005.7 1496.0,1006.7 1497.5,1007.8 1499.0,1008.8 1500.5,1009.8 1502.0,1010.8 1503.5,1011.9 1505.0,1013.0 1506.5,1014.0 1508.0,1015.1 1509.5,1016.2 1511.0,1017.3 1512.5,1018.4 1514.0,1019.6 1515.5,1020.7 1517.0,1021.9 1518.5,1023.1 1520.0,1024.2 1521.5,1025.4 1523.0,1026.7 1524.5,1027.9 1526.0,1029.1 1527.5,1030.4 1529.0,1031.7 1530.5,1033.0 1532.0,1034.3 1533.0,1035.2"/>
<g fill="#4000b2" fill-opacity="0.4">
<path fill-opacity="0.55" d="M361.6,1163.9l3.5,3.5-3.5,3.5-3.5-3.5zM362.9,1165.5l3.5,3.5-3.5,3.5-3.5-3.5zM364.1,1164.2l3.5,3.5-3.5,3.5-3.5-3.5zM365.4,1166.1l3.5,3.5-3.5,3.5-3.5-3.5zM366.6,1166.6l3.5,3.5-3.5,3.5-3.5-3.5zM367.8,1167.8l3.5,3.5-3.5,3.5-3.5-3.5zM369.1,1165.6l3.5,3.5-3.5,3.5-3.5-3.5zM370.3,1171.8l3.5,3.5-3.5,3.5-3.5-3.5zM371.6,1169.6l3.5,3.5-3.5,3.5-3.5-3.5zM372.8,1171.3l3.5,3.5-3.5,3.5-3.5-3.5zM374.1,1169.5l3.5,3.5-3.5,3.5-3.5-3.5zM375.3,1169.8l3.5,3.5-3.5,3.5-3.5-3.5zM376.6,1172.5l3.5,3.5-3.5,3.5-3.5-3.5zM377.8,1172.6l3.5,3.5-3.5,3.5-3.5-3.5zM379.0,1174.7l3.5,3.5-3.5,3.5-3.5-3.5zM380.3,1173.1l3.5,3.5-3.5,3.5-3.5-3.5zM381.5,1173.7l3.5,3.5-3.5,3.5-3.5-3.5zM382.8,1176.2l3.5,3.5-3.5,3.5-3.5-3.5zM384.0,1177.3l3.5,3.5-3.5,3.5-3.5-3.5zM385.3,1178.2l3.5,3.5-3.5,3.5-3.5-3.5zM386.5,1177.5l3.5,3.5-3.5,3.5-3.5-3.5zM387.8,1178.5l3.5,3.5-3.5,3.5-3.5-3.5zM389.0,1177.5l3.5,3.5-3.5,3.5-3.5-3.5zM390.2,1181.0l3.5,3.5-3.5,3.5-3.5-3.5zM391.5,1181.3l3.5,3.5-3.5,3.5-3.5-3.5zM392.7,1181.8l3.5,3.5-3.5,3.5-3.5-3.5zM394.0,1178.6l3.5,3.5-3.5,3.5-3.5-3.5zM395.2,1182.5l3.5,3.5-3.5,3.5-3.5-3.5zM396.5,1180.9l3.5,3.5-3.5,3.5-3.5-3.5zM397.7,1183.0l3.5,3.5-3.5,3.5-3.5-3.5zM399.0,1183.4l3.5,3.5-3.5,3.5-3.5-3.5zM400.2,1185.0l3.5,3.5-3.5,3.5-3.5-3.5zM401.4,1183.6l3.5,3.5-3.5,3.5-3.5-3.5zM402.7,1183.8l3.5,3.5-3.5,3.5-3.5-3.5zM403.9,1183.4l3.5,3.5-3.5,3.5-3.5-3.5zM405.2,1183.6l3.5,3.5-3.5,3.5-3.5-3.5zM406.4,1186.4l3.5,3.5-3.5,3.5-3.5-3.5zM407.7,1184.9l3.5,3.5-3.5,3.5-3.5-3.5zM408.9,1187.3l3.5,3.5-3.5,3.5-3.5-3.5zM410.2,1186.3l3.5,3.5-3.5,3.5-3.5-3.5zM411.4,1186.5l3.5,3.5-3.5,3.5-3.5-3.5zM412.6,1188.8l3.5,3.5-3.5,3.5-3.5-3.5zM413.9,1189.0l3.5,3.5-3.5,3.5-3.5-3.5zM415.1,1187.1l3.5,3.5-3.5,3.5-3.5-3.5zM416.4,1188.4l3.5,3.5-3.5,3.5-3.5-3.5zM417.6,1189.0l3.5,3.5-3.5,3.5-3.5-3.5zM418.9,1190.1l3.5,3.5-3.5,3.5-3.5-3.5zM420.1,1188.6l3.5,3.5-3.5,3.5-3.5-3.5zM421.4,1189.2l3.5,3.5-3.5,3.5-3.5-3.5zM422.6,1189.8l3.5,3.5-3.5,3.5-3.5-3.5zM423.8,1191.0l3.5,3.5-3.5,3.5-3.5-3.5zM425.1,1191.5l3.5,3.5-3.5,3.5-3.5-3.5zM426.3,1190.0l3.5,3.5-3.5,3.5-3.5-3.5zM427.6,1193.0l3.5,3.5-3.5,3.5-3.5-3.5zM428.8,1191.6l3.5,3.5-3.5,3.5-3.5-3.5zM430.1,1190.4l3.5,3.5-3.5,3.5-3.5-3.5zM431.3,1189.6l3.5,3.5-3.5,3.5-3.5-3.5zM432.6,1191.0l3.5,3.5-3.5,3.5-3.5-3.5zM433.8,1188.9l3.5,3.5-3.5,3.5-3.5-3.5zM435.0,1192.0l3.5,3.5-3.5,3.5-3.5-3.5zM436.3,1192.4l3.5,3.5-3.5,3.5-3.5-3.5zM437.5,1192.9l3.5,3.5-3.5,3.5-3.5-3.5zM438.8,1192.2l3.5,3.5-3.5,3.5-3.5-3.5zM440.0,1190.2l3.5,3.5-3.5,3.5-3.5-3.5zM441.3,1191.5l3.5,3.5-3.5,3.5-3.5-3.5zM442.5,1192.3l3.5,3.5-3.5,3.5-3.5-3.5zM443.8,1189.6l3.5,3.5-3.5,3.5-3.5-3.5zM445.0,1190.7l3.5,3.5-3.5,3.5-3.5-3.5zM446.2,1191.9l3.5,3.5-3.5,3.5-3.5-3.5zM447.5,1191.2l3.5,3.5-3.5,3.5-3.5-3.5zM448.7,1189.2l3.5,3.5-3.5,3.5-3.5-3.5zM450.0,1190.4l3.5,3.5-3.5,3.5-3.5-3.5zM451.2,1190.6l3.5,3.5-3.5,3.5-3.5-3.5zM452.5,1192.3l3.5,3.5-3.5,3.5-3.5-3.5zM453.7,1189.8l3.5,3.5-3.5,3.5-3.5-3.5zM454.9,1189.1l3.5,3.5-3.5,3.5-3.5-3.5zM456.2,1189.9l3.5,3.5-3.5,3.5-3.5-3.5zM457.4,1189.7l3.5,3.5-3.5,3.5-3.5-3.5zM458.7,1189.7l3.5,3.5-3.5,3.5-3.5-3.5zM459.9,1190.1l3.5,3.5-3.5,3.5-3.5-3.5zM461.2,1188.5l3.5,3.5-3.5,3.5-3.5-3.5zM462.4,1187.0l3.5,3.5-3.5,3.5-3.5-3.5zM463.7,1187.9l3.5,3.5-3.5,3.5-3.5-3.5zM464.9,1187.5l3.5,3.5-3.5,3.5-3.5-3.5zM466.1,1188.0l3.5,3.5-3.5,3.5-3.5-3.5zM467.4,1187.5l3.5,3.5-3.5,3.5-3.5-3.5zM468.6,1185.7l3.5,3.5-3.5,3.5-3.5-3.5zM469.9,1186.7l3.5,3.5-3.5,3.5-3.5-3.5zM471.1,1186.4l3.5,3.5-3.5,3.5-3.5-3.5zM472.4,1184.9l3.5,3.5-3.5,3.5-3.5-3.5zM473.6,1185.5l3.5,3.5-3.5,3.5-3.5-3.5zM474.9,1184.4l3.5,3.5-3.5,3.5-3.5-3.5zM476.1,1183.9l3.5,3.5-3.5,3.5-3.5-3.5zM477.3,1183.1l3.5,3.5-3.5,3.5-3.5-3.5zM478.6,1183.5l3.5,3.5-3.5,3.5-3.5-3.5zM479.8,1184.9l3.5,3.5-3.5,3.5-3.5-3.5zM481.1,1182.0l3.5,3.5-3.5,3.5-3.5-3.5zM482.3,1180.2l3.5,3.5-3.5,3.5-3.5-3.5zM483.6,1180.5l3.5,3.5-3.5,3.5-3.5-3.5zM484.8,1179.6l3.5,3.5-3.5,3.5-3.5-3.5zM486.1,1179.9l3.5,3.5-3.5,3.5-3.5-3.5zM487.3,1178.9l3.5,3.5-3.5,3.5-3.5-3.5zM488.5,1180.8l3.5,3.5-3.5,3.5-3.5-3.5zM489.8,1178.6l3.5,3.5-3.5,3.5-3.5-3.5zM491.0,1179.0l3.5,3.5-3.5,3.5-3.5-3.5zM492.3,1176.1l3.5,3.5-3.5,3.5-3.5-3.5zM493.5,1175.9l3.5,3.5-3.5,3.5-3.5-3.5zM494.8,1177.4l3.5,3.5-3.5,3.5-3.5-3.5zM496.0,1173.4l3.5,3.5-3.5,3.5-3.5-3.5zM497.3,1174.4l3.5,3.5-3.5,3.5-3.5-3.5zM498.5,1172.2l3.5,3.5-3.5,3.5-3.5-3.5zM499.7,1174.4l3.5,3.5-3.5,3.5-3.5-3.5zM501.0,1171.1l3.5,3.5-3.5,3.5-3.5-3.5zM502.2,1171.4l3.5,3.5-3.5,3.5-3.5-3.5zM503.5,1170.8l3.5,3.5-3.5,3.5-3.5-3.5zM504.7,1168.8l3.5,3.5-3.5,3.5-3.5-3.5zM506.0,1171.9l3.5,3.5-3.5,3.5-3.5-3.5zM507.2,1168.8l3.5,3.5-3.5,3.5-3.5-3.5zM508.5,1169.7l3.5,3.5-3.5,3.5-3.5-3.5zM509.7,1166.9l3.5,3.5-3.5,3.5-3.5-3.5zM510.9,1165.5l3.5,3.5-3.5,3.5-3.5-3.5zM512.2,1166.3l3.5,3.5-3.5,3.5-3.5-3.5zM513.4,1165.5l3.5,3.5-3.5,3.5-3.5-3.5zM514.7,1167.3l3.5,3.5-3.5,3.5-3.5-3.5zM515.9,1163.0l3.5,3.5-3.5,3.5-3.5-3.5zM517.2,1161.8l3.5,3.5-3.5,3.5-3.5-3.5zM518.4,1161.8l3.5,3.5-3.5,3.5-3.5-3.5zM519.7,1161.9l3.5,3.5-3.5,3.5-3.5-3.5zM520.9,1161.4l3.5,3.5-3.5,3.5-3.5-3.5zM522.1,1159.4l3.5,3.5-3.5,3.5-3.5-3.5zM523.4,1159.0l3.5,3.5-3.5,3.5-3.5-3.5zM524.6,1159.1l3.5,3.5-3.5,3.5-3.5-3.5zM525.9,1158.8l3.5,3.5-3.5,3.5-3.5-3.5zM527.1,1156.5l3.5,3.5-3.5,3.5-3.5-3.5zM528.4,1156.3l3.5,3.5-3.5,3.5-3.5-3.5zM529.6,1152.9l3.5,3.5-3.5,3.5-3.5-3.5zM530.9,1153.7l3.5,3.5-3.5,3.5-3.5-3.5zM532.1,1154.2l3.5,3.5-3.5,3.5-3.5-3.5zM533.3,1153.0l3.5,3.5-3.5,3.5-3.5-3.5zM534.6,1152.0l3.5,3.5-3.5,3.5-3.5-3.5zM535.8,1152.8l3.5,3.5-3.5,3.5-3.5-3.5zM537.1,1150.2l3.5,3.5-3.5,3.5-3.5-3.5zM538.3,1148.7l3.5,3.5-3.5,3.5-3.5-3.5zM539.6,1149.0l3.5,3.5-3.5,3.5-3.5-3.5zM540.8,1148.2l3.5,3.5-3.5,3.5-3.5-3.5zM542.0,1146.1l3.5,3.5-3.5,3.5-3.5-3.5zM543.3,1147.2l3.5,3.5-3.5,3.5-3.5-3.5zM544.5,1147.0l3.5,3.5-3.5,3.5-3.5-3.5zM545.8,1144.1l3.5,3.5-3.5,3.5-3.5-3.5zM547.0,1142.9l3.5,3.5-3.5,3.5-3.5-3.5zM548.3,1142.8l3.5,3.5-3.5,3.5-3.5-3.5zM549.5,1143.1l3.5,3.5-3.5,3.5-3.5-3.5zM550.8,1140.6l3.5,3.5-3.5,3.5-3.5-3.5zM552.0,1139.6l3.5,3.5-3.5,3.5-3.5-3.5zM553.2,1138.9l3.5,3.5-3.5,3.5-3.5-3.5zM554.5,1138.7l3.5,3.5-3.5,3.5-3.5-3.5zM555.7,1137.8l3.5,3.5-3.5,3.5-3.5-3.5zM557.0,1136.6l3.5,3.5-3.5,3.5-3.5-3.5zM558.2,1137.0l3.5,3.5-3.5,3.5-3.5-3.5zM559.5,1137.0l3.5,3.5-3.5,3.5-3.5-3.5zM560.7,1133.6l3.5,3.5-3.5,3.5-3.5-3.5zM562.0,1134.2l3.5,3.5-3.5,3.5-3.5-3.5zM563.2,1132.6l3.5,3.5-3.5,3.5-3.5-3.5zM564.4,1134.2l3.5,3.5-3.5,3.5-3.5-3.5zM565.7,1129.8l3.5,3.5-3.5,3.5-3.5-3.5zM566.9,1129.4l3.5,3.5-3.5,3.5-3.5-3.5zM568.2,1128.9l3.5,3.5-3.5,3.5-3.5-3.5zM569.4,1126.6l3.5,3.5-3.5,3.5-3.5-3.5zM570.7,1126.8l3.5,3.5-3.5,3.5-3.5-3.5zM571.9,1126.7l3.5,3.5-3.5,3.5-3.5-3.5zM573.2,1123.9l3.5,3.5-3.5,3.5-3.5-3.5zM574.4,1124.4l3.5,3.5-3.5,3.5-3.5-3.5zM575.6,1125.0l3.5,3.5-3.5,3.5-3.5-3.5zM576.9,1122.0l3.5,3.5-3.5,3.5-3.5-3.5zM578.1,1120.8l3.5,3.5-3.5,3.5-3.5-3.5zM579.4,1118.4l3.5,3.5-3.5,3.5-3.5-3.5zM580.6,1119.7l3.5,3.5-3.5,3.5-3.5-3.5zM581.9,1117.4l3.5,3.5-3.5,3.5-3.5-3.5zM583.1,1118.5l3.5,3.5-3.5,3.5-3.5-3.5zM584.4,1118.6l3.5,3.5-3.5,3.5-3.5-3.5zM585.6,1116.7l3.5,3.5-3.5,3.5-3.5-3.5zM586.8,1114.6l3.5,3.5-3.5,3.5-3.5-3.5zM588.1,1115.0l3.5,3.5-3.5,3.5-3.5-3.5zM589.3,1113.1l3.5,3.5-3.5,3.5-3.5-3.5zM590.6,1111.6l3.5,3.5-3.5,3.5-3.5-3.5zM591.8,1111.3l3.5,3.5-3.5,3.5-3.5-3.5zM593.1,1111.1l3.5,3.5-3.5,3.5-3.5-3.5zM594.3,1109.6l3.5,3.5-3.5,3.5-3.5-3.5zM595.6,1109.5l3.5,3.5-3.5,3.5-3.5-3.5zM596.8,1110.1l3.5,3.5-3.5,3.5-3.5-3.5zM598.0,1107.8l3.5,3.5-3.5,3.5-3.5-3.5zM599.3,1107.1l3.5,3.5-3.5,3.5-3.5-3.5zM600.5,1104.9l3.5,3.5-3.5,3.5-3.5-3.5zM601.8,1105.8l3.5,3.5-3.5,3.5-3.5-3.5zM603.0,1104.1l3.5,3.5-3.5,3.5-3.5-3.5zM604.3,1103.8l3.5,3.5-3.5,3.5-3.5-3.5zM605.5,1101.3l3.5,3.5-3.5,3.5-3.5-3.5zM606.8,1101.4l3.5,3.5-3.5,3.5-3.5-3.5zM608.0,1098.2l3.5,3.5-3.5,3.5-3.5-3.5zM609.2,1099.1l3.5,3.5-3.5,3.5-3.5-3.5zM610.5,1097.8l3.5,3.5-3.5,3.5-3.5-3.5zM611.7,1096.8l3.5,3.5-3.5,3.5-3.5-3.5zM613.0,1098.4l3.5,3.5-3.5,3.5-3.5-3.5zM614.2,1094.6l3.5,3.5-3.5,3.5-3.5-3.5zM615.5,1095.0l3.5,3.5-3.5,3.5-3.5-3.5zM616.7,1094.1l3.5,3.5-3.5,3.5-3.5-3.5zM618.0,1093.9l3.5,3.5-3.5,3.5-3.5-3.5zM619.2,1093.5l3.5,3.5-3.5,3.5-3.5-3.5zM620.4,1090.3l3.5,3.5-3.5,3.5-3.5-3.5zM621.7,1090.4l3.5,3.5-3.5,3.5-3.5-3.5zM622.9,1089.4l3.5,3.5-3.5,3.5-3.5-3.5zM624.2,1089.8l3.5,3.5-3.5,3.5-3.5-3.5zM625.4,1089.2l3.5,3.5-3.5,3.5-3.5-3.5zM626.7,1087.1l3.5,3.5-3.5,3.5-3.5-3.5zM627.9,1086.2l3.5,3.5-3.5,3.5-3.5-3.5zM629.1,1084.9l3.5,3.5-3.5,3.5-3.5-3.5zM630.4,1085.3l3.5,3.5-3.5,3.5-3.5-3.5zM631.6,1085.7l3.5,3.5-3.5,3.5-3.5-3.5zM632.9,1083.7l3.5,3.5-3.5,3.5-3.5-3.5zM634.1,1081.9l3.5,3.5-3.5,3.5-3.5-3.5zM635.4,1080.9l3.5,3.5-3.5,3.5-3.5-3.5zM636.6,1080.2l3.5,3.5-3.5,3.5-3.5-3.5zM637.9,1078.6l3.5,3.5-3.5,3.5-3.5-3.5zM639.1,1080.8l3.5,3.5-3.5,3.5-3.5-3.5zM640.3,1078.5l3.5,3.5-3.5,3.5-3.5-3.5zM641.6,1077.3l3.5,3.5-3.5,3.5-3.5-3.5zM642.8,1078.8l3.5,3.5-3.5,3.5-3.5-3.5zM644.1,1076.2l3.5,3.5-3.5,3.5-3.5-3.5zM645.3,1076.5l3.5,3.5-3.5,3.5-3.5-3.5zM646.6,1074.6l3.5,3.5-3.5,3.5-3.5-3.5zM647.8,1074.6l3.5,3.5-3.5,3.5-3.5-3.5zM649.1,1072.8l3.5,3.5-3.5,3.5-3.5-3.5zM650.3,1071.6l3.5,3.5-3.5,3.5-3.5-3.5zM651.5,1071.5l3.5,3.5-3.5,3.5-3.5-3.5zM652.8,1071.0l3.5,3.5-3.5,3.5-3.5-3.5zM654.0,1070.6l3.5,3.5-3.5,3.5-3.5-3.5zM655.3,1069.0l3.5,3.5-3.5,3.5-3.5-3.5zM656.5,1067.8l3.5,3.5-3.5,3.5-3.5-3.5zM657.8,1066.9l3.5,3.5-3.5,3.5-3.5-3.5zM659.0,1066.7l3.5,3.5-3.5,3.5-3.5-3.5zM660.3,1065.2l3.5,3.5-3.5,3.5-3.5-3.5zM661.5,1064.6l3.5,3.5-3.5,3.5-3.5-3.5zM662.7,1064.6l3.5,3.5-3.5,3.5-3.5-3.5zM664.0,1063.9l3.5,3.5-3.5,3.5-3.5-3.5zM665.2,1063.0l3.5,3.5-3.5,3.5-3.5-3.5zM666.5,1061.1l3.5,3.5-3.5,3.5-3.5-3.5zM667.7,1059.7l3.5,3.5-3.5,3.5-3.5-3.5zM669.0,1060.5l3.5,3.5-3.5,3.5-3.5-3.5zM670.2,1059.6l3.5,3.5-3.5,3.5-3.5-3.5zM671.5,1058.4l3.5,3.5-3.5,3.5-3.5-3.5zM672.7,1058.2l3.5,3.5-3.5,3.5-3.5-3.5zM673.9,1058.0l3.5,3.5-3.5,3.5-3.5-3.5zM675.2,1056.3l3.5,3.5-3.5,3.5-3.5-3.5zM676.4,1056.1l3.5,3.5-3.5,3.5-3.5-3.5zM677.7,1054.1l3.5,3.5-3.5,3.5-3.5-3.5zM678.9,1054.0l3.5,3.5-3.5,3.5-3.5-3.5zM680.2,1052.7l3.5,3.5-3.5,3.5-3.5-3.5zM681.4,1051.4l3.5,3.5-3.5,3.5-3.5-3.5zM682.7,1052.4l3.5,3.5-3.5,3.5-3.5-3.5zM683.9,1048.7l3.5,3.5-3.5,3.5-3.5-3.5zM685.1,1050.4l3.5,3.5-3.5,3.5-3.5-3.5zM686.4,1050.5l3.5,3.5-3.5,3.5-3.5-3.5zM687.6,1049.4l3.5,3.5-3.5,3.5-3.5-3.5zM688.9,1046.9l3.5,3.5-3.5,3.5-3.5-3.5zM690.1,1047.8l3.5,3.5-3.5,3.5-3.5-3.5zM691.4,1045.2l3.5,3.5-3.5,3.5-3.5-3.5zM692.6,1045.3l3.5,3.5-3.5,3.5-3.5-3.5zM693.9,1046.7l3.5,3.5-3.5,3.5-3.5-3.5zM695.1,1044.8l3.5,3.5-3.5,3.5-3.5-3.5zM696.3,1045.0l3.5,3.5-3.5,3.5-3.5-3.5zM697.6,1042.3l3.5,3.5-3.5,3.5-3.5-3.5zM698.8,1040.7l3.5,3.5-3.5,3.5-3.5-3.5zM700.1,1041.2l3.5,3.5-3.5,3.5-3.5-3.5zM701.3,1042.3l3.5,3.5-3.5,3.5-3.5-3.5zM702.6,1041.2l3.5,3.5-3.5,3.5-3.5-3.5zM703.8,1040.7l3.5,3.5-3.5,3.5-3.5-3.5zM705.0,1038.9l3.5,3.5-3.5,3.5-3.5-3.5zM706.3,1038.2l3.5,3.5-3.5,3.5-3.5-3.5zM707.5,1037.4l3.5,3.5-3.5,3.5-3.5-3.5zM708.8,1039.5l3.5,3.5-3.5,3.5-3.5-3.5zM710.0,1036.3l3.5,3.5-3.5,3.5-3.5-3.5zM711.3,1037.1l3.5,3.5-3.5,3.5-3.5-3.5zM712.5,1034.7l3.5,3.5-3.5,3.5-3.5-3.5zM713.8,1035.4l3.5,3.5-3.5,3.5-3.5-3.5zM715.0,1032.5l3.5,3.5-3.5,3.5-3.5-3.5zM716.2,1032.3l3.5,3.5-3.5,3.5-3.5-3.5zM717.5,1032.4l3.5,3.5-3.5,3.5-3.5-3.5zM718.7,1030.9l3.5,3.5-3.5,3.5-3.5-3.5zM720.0,1030.3l3.5,3.5-3.5,3.5-3.5-3.5zM721.2,1029.9l3.5,3.5-3.5,3.5-3.5-3.5zM722.5,1028.8l3.5,3.5-3.5,3.5-3.5-3.5zM723.7,1030.0l3.5,3.5-3.5,3.5-3.5-3.5zM725.0,1029.0l3.5,3.5-3.5,3.5-3.5-3.5zM726.2,1026.0l3.5,3.5-3.5,3.5-3.5-3.5zM727.4,1028.1l3.5,3.5-3.5,3.5-3.5-3.5zM728.7,1025.8l3.5,3.5-3.5,3.5-3.5-3.5zM729.9,1025.2l3.5,3.5-3.5,3.5-3.5-3.5zM731.2,1024.4l3.5,3.5-3.5,3.5-3.5-3.5zM732.4,1024.6l3.5,3.5-3.5,3.5-3.5-3.5zM733.7,1023.8l3.5,3.5-3.5,3.5-3.5-3.5zM734.9,1022.0l3.5,3.5-3.5,3.5-3.5-3.5zM736.2,1021.8l3.5,3.5-3.5,3.5-3.5-3.5zM737.4,1019.9l3.5,3.5-3.5,3.5-3.5-3.5zM738.6,1022.1l3.5,3.5-3.5,3.5-3.5-3.5zM739.9,1018.9l3.5,3.5-3.5,3.5-3.5-3.5zM741.1,1018.2l3.5,3.5-3.5,3.5-3.5-3.5zM742.4,1017.7l3.5,3.5-3.5,3.5-3.5-3.5zM743.6,1017.8l3.5,3.5-3.5,3.5-3.5-3.5zM744.9,1017.6l3.5,3.5-3.5,3.5-3.5-3.5zM746.1,1015.9l3.5,3.5-3.5,3.5-3.5-3.5zM747.4,1015.6l3.5,3.5-3.5,3.5-3.5-3.5zM748.6,1014.6l3.5,3.5-3.5,3.5-3.5-3.5zM749.8,1015.3l3.5,3.5-3.5,3.5-3.5-3.5zM751.1,1013.7l3.5,3.5-3.5,3.5-3.5-3.5zM752.3,1011.2l3.5,3.5-3.5,3.5-3.5-3.5zM753.6,1013.4l3.5,3.5-3.5,3.5-3.5-3.5zM754.8,1011.7l3.5,3.5-3.5,3.5-3.5-3.5zM756.1,1012.4l3.5,3.5-3.5,3.5-3.5-3.5zM757.3,1009.4l3.5,3.5-3.5,3.5-3.5-3.5zM758.6,1008.8l3.5,3.5-3.5,3.5-3.5-3.5zM759.8,1008.4l3.5,3.5-3.5,3.5-3.5-3.5zM761.0,1006.6l3.5,3.5-3.5,3.5-3.5-3.5zM762.3,1006.8l3.5,3.5-3.5,3.5-3.5-3.5zM763.5,1007.5l3.5,3.5-3.5,3.5-3.5-3.5zM764.8,1006.3l3.5,3.5-3.5,3.5-3.5-3.5zM766.0,1002.8l3.5,3.5-3.5,3.5-3.5-3.5zM767.3,1005.4l3.5,3.5-3.5,3.5-3.5-3.5zM768.5,1003.8l3.5,3.5-3.5,3.5-3.5-3.5zM769.8,1003.5l3.5,3.5-3.5,3.5-3.5-3.5zM771.0,1002.1l3.5,3.5-3.5,3.5-3.5-3.5zM772.2,1001.5l3.5,3.5-3.5,3.5-3.5-3.5zM773.5,1000.6l3.5,3.5-3.5,3.5-3.5-3.5zM774.7,999.9l3.5,3.5-3.5,3.5-3.5-3.5zM776.0,998.2l3.5,3.5-3.5,3.5-3.5-3.5zM777.2,999.3l3.5,3.5-3.5,3.5-3.5-3.5zM778.5,997.8l3.5,3.5-3.5,3.5-3.5-3.5zM779.7,997.2l3.5,3.5-3.5,3.5-3.5-3.5zM781.0,996.4l3.5,3.5-3.5,3.5-3.5-3.5zM782.2,995.0l3.5,3.5-3.5,3.5-3.5-3.5zM783.4,994.5l3.5,3.5-3.5,3.5-3.5-3.5zM784.7,992.6l3.5,3.5-3.5,3.5-3.5-3.5zM785.9,993.3l3.5,3.5-3.5,3.5-3.5-3.5zM787.2,992.5l3.5,3.5-3.5,3.5-3.5-3.5zM788.4,991.3l3.5,3.5-3.5,3.5-3.5-3.5zM789.7,989.2l3.5,3.5-3.5,3.5-3.5-3.5zM790.9,991.1l3.5,3.5-3.5,3.5-3.5-3.5zM792.1,989.0l3.5,3.5-3.5,3.5-3.5-3.5zM793.4,988.4l3.5,3.5-3.5,3.5-3.5-3.5zM794.6,987.3l3.5,3.5-3.5,3.5-3.5-3.5zM795.9,986.3l3.5,3.5-3.5,3.5-3.5-3.5zM797.1,985.7l3.5,3.5-3.5,3.5-3.5-3.5zM798.4,984.3l3.5,3.5-3.5,3.5-3.5-3.5zM799.6,983.9l3.5,3.5-3.5,3.5-3.5-3.5zM800.9,985.5l3.5,3.5-3.5,3.5-3.5-3.5zM802.1,983.9l3.5,3.5-3.5,3.5-3.5-3.5zM803.3,983.9l3.5,3.5-3.5,3.5-3.5-3.5zM804.6,980.7l3.5,3.5-3.5,3.5-3.5-3.5zM805.8,978.8l3.5,3.5-3.5,3.5-3.5-3.5zM807.1,978.5l3.5,3.5-3.5,3.5-3.5-3.5zM808.3,976.5l3.5,3.5-3.5,3.5-3.5-3.5zM809.6,979.1l3.5,3.5-3.5,3.5-3.5-3.5zM810.8,978.4l3.5,3.5-3.5,3.5-3.5-3.5zM812.1,976.6l3.5,3.5-3.5,3.5-3.5-3.5zM813.3,976.0l3.5,3.5-3.5,3.5-3.5-3.5zM814.5,975.2l3.5,3.5-3.5,3.5-3.5-3.5zM815.8,974.0l3.5,3.5-3.5,3.5-3.5-3.5zM817.0,973.9l3.5,3.5-3.5,3.5-3.5-3.5zM818.3,971.6l3.5,3.5-3.5,3.5-3.5-3.5zM819.5,971.3l3.5,3.5-3.5,3.5-3.5-3.5zM820.8,970.7l3.5,3.5-3.5,3.5-3.5-3.5zM822.0,968.5l3.5,3.5-3.5,3.5-3.5-3.5zM823.3,968.3l3.5,3.5-3.5,3.5-3.5-3.5zM824.5,968.8l3.5,3.5-3.5,3.5-3.5-3.5zM825.7,967.9l3.5,3.5-3.5,3.5-3.5-3.5zM827.0,964.6l3.5,3.5-3.5,3.5-3.5-3.5zM828.2,966.8l3.5,3.5-3.5,3.5-3.5-3.5zM829.5,965.5l3.5,3.5-3.5,3.5-3.5-3.5zM830.7,965.0l3.5,3.5-3.5,3.5-3.5-3.5zM832.0,963.5l3.5,3.5-3.5,3.5-3.5-3.5zM833.2,963.3l3.5,3.5-3.5,3.5-3.5-3.5zM834.5,960.7l3.5,3.5-3.5,3.5-3.5-3.5zM835.7,960.9l3.5,3.5-3.5,3.5-3.5-3.5zM836.9,959.3l3.5,3.5-3.5,3.5-3.5-3.5zM838.2,959.0l3.5,3.5-3.5,3.5-3.5-3.5zM839.4,959.7l3.5,3.5-3.5,3.5-3.5-3.5zM840.7,959.3l3.5,3.5-3.5,3.5-3.5-3.5zM841.9,957.1l3.5,3.5-3.5,3.5-3.5-3.5zM843.2,955.8l3.5,3.5-3.5,3.5-3.5-3.5zM844.4,956.1l3.5,3.5-3.5,3.5-3.5-3.5zM845.7,955.0l3.5,3.5-3.5,3.5-3.5-3.5zM846.9,955.5l3.5,3.5-3.5,3.5-3.5-3.5zM848.1,953.5l3.5,3.5-3.5,3.5-3.5-3.5zM849.4,950.1l3.5,3.5-3.5,3.5-3.5-3.5zM850.6,951.4l3.5,3.5-3.5,3.5-3.5-3.5zM851.9,950.3l3.5,3.5-3.5,3.5-3.5-3.5zM853.1,949.0l3.5,3.5-3.5,3.5-3.5-3.5zM854.4,949.1l3.5,3.5-3.5,3.5-3.5-3.5zM855.6,948.2l3.5,3.5-3.5,3.5-3.5-3.5zM856.9,947.0l3.5,3.5-3.5,3.5-3.5-3.5zM858.1,947.9l3.5,3.5-3.5,3.5-3.5-3.5zM859.3,946.1l3.5,3.5-3.5,3.5-3.5-3.5zM860.6,945.3l3.5,3.5-3.5,3.5-3.5-3.5zM861.8,944.3l3.5,3.5-3.5,3.5-3.5-3.5zM863.1,944.4l3.5,3.5-3.5,3.5-3.5-3.5zM864.3,941.5l3.5,3.5-3.5,3.5-3.5-3.5zM865.6,942.8l3.5,3.5-3.5,3.5-3.5-3.5zM866.8,940.7l3.5,3.5-3.5,3.5-3.5-3.5zM868.1,941.5l3.5,3.5-3.5,3.5-3.5-3.5zM869.3,940.6l3.5,3.5-3.5,3.5-3.5-3.5zM870.5,939.0l3.5,3.5-3.5,3.5-3.5-3.5zM871.8,937.4l3.5,3.5-3.5,3.5-3.5-3.5zM873.0,937.3l3.5,3.5-3.5,3.5-3.5-3.5zM874.3,936.5l3.5,3.5-3.5,3.5-3.5-3.5zM875.5,934.1l3.5,3.5-3.5,3.5-3.5-3.5zM876.8,934.4l3.5,3.5-3.5,3.5-3.5-3.5zM878.0,933.3l3.5,3.5-3.5,3.5-3.5-3.5zM879.2,934.3l3.5,3.5-3.5,3.5-3.5-3.5zM880.5,933.9l3.5,3.5-3.5,3.5-3.5-3.5zM881.7,930.9l3.5,3.5-3.5,3.5-3.5-3.5zM883.0,930.3l3.5,3.5-3.5,3.5-3.5-3.5zM963.9,887.8l3.5,3.5-3.5,3.5-3.5-3.5zM965.1,887.0l3.5,3.5-3.5,3.5-3.5-3.5zM966.4,885.2l3.5,3.5-3.5,3.5-3.5-3.5zM967.6,887.1l3.5,3.5-3.5,3.5-3.5-3.5zM968.8,883.0l3.5,3.5-3.5,3.5-3.5-3.5zM970.1,884.3l3.5,3.5-3.5,3.5-3.5-3.5zM971.3,886.3l3.5,3.5-3.5,3.5-3.5-3.5zM972.6,882.3l3.5,3.5-3.5,3.5-3.5-3.5zM973.8,883.9l3.5,3.5-3.5,3.5-3.5-3.5zM975.1,883.4l3.5,3.5-3.5,3.5-3.5-3.5zM976.3,882.8l3.5,3.5-3.5,3.5-3.5-3.5zM977.5,879.5l3.5,3.5-3.5,3.5-3.5-3.5zM978.8,882.4l3.5,3.5-3.5,3.5-3.5-3.5zM980.0,880.7l3.5,3.5-3.5,3.5-3.5-3.5zM981.3,880.6l3.5,3.5-3.5,3.5-3.5-3.5zM982.5,879.8l3.5,3.5-3.5,3.5-3.5-3.5zM983.8,879.0l3.5,3.5-3.5,3.5-3.5-3.5zM985.0,879.8l3.5,3.5-3.5,3.5-3.5-3.5zM986.3,879.5l3.5,3.5-3.5,3.5-3.5-3.5zM987.5,875.0l3.5,3.5-3.5,3.5-3.5-3.5zM988.7,875.8l3.5,3.5-3.5,3.5-3.5-3.5zM990.0,875.9l3.5,3.5-3.5,3.5-3.5-3.5zM991.2,873.1l3.5,3.5-3.5,3.5-3.5-3.5zM992.5,876.6l3.5,3.5-3.5,3.5-3.5-3.5zM993.7,873.6l3.5,3.5-3.5,3.5-3.5-3.5zM995.0,874.5l3.5,3.5-3.5,3.5-3.5-3.5zM996.2,873.5l3.5,3.5-3.5,3.5-3.5-3.5zM997.5,872.5l3.5,3.5-3.5,3.5-3.5-3.5zM998.7,871.1l3.5,3.5-3.5,3.5-3.5-3.5zM999.9,871.2l3.5,3.5-3.5,3.5-3.5-3.5zM1001.2,871.1l3.5,3.5-3.5,3.5-3.5-3.5zM1002.4,871.2l3.5,3.5-3.5,3.5-3.5-3.5zM1003.7,869.7l3.5,3.5-3.5,3.5-3.5-3.5zM1004.9,868.9l3.5,3.5-3.5,3.5-3.5-3.5zM1006.2,868.5l3.5,3.5-3.5,3.5-3.5-3.5zM1007.4,869.4l3.5,3.5-3.5,3.5-3.5-3.5zM1008.7,867.9l3.5,3.5-3.5,3.5-3.5-3.5zM1009.9,866.4l3.5,3.5-3.5,3.5-3.5-3.5zM1011.1,865.3l3.5,3.5-3.5,3.5-3.5-3.5zM1012.4,865.5l3.5,3.5-3.5,3.5-3.5-3.5zM1013.6,864.4l3.5,3.5-3.5,3.5-3.5-3.5zM1014.9,864.3l3.5,3.5-3.5,3.5-3.5-3.5zM1016.1,865.3l3.5,3.5-3.5,3.5-3.5-3.5zM1017.4,864.1l3.5,3.5-3.5,3.5-3.5-3.5zM1018.6,863.1l3.5,3.5-3.5,3.5-3.5-3.5zM1019.9,862.6l3.5,3.5-3.5,3.5-3.5-3.5zM1021.1,863.2l3.5,3.5-3.5,3.5-3.5-3.5zM1022.3,860.1l3.5,3.5-3.5,3.5-3.5-3.5zM1023.6,860.9l3.5,3.5-3.5,3.5-3.5-3.5zM1024.8,859.7l3.5,3.5-3.5,3.5-3.5-3.5zM1026.1,859.4l3.5,3.5-3.5,3.5-3.5-3.5zM1027.3,858.7l3.5,3.5-3.5,3.5-3.5-3.5zM1028.6,857.8l3.5,3.5-3.5,3.5-3.5-3.5zM1029.8,857.9l3.5,3.5-3.5,3.5-3.5-3.5zM1031.1,855.1l3.5,3.5-3.5,3.5-3.5-3.5zM1032.3,856.4l3.5,3.5-3.5,3.5-3.5-3.5zM1033.5,856.1l3.5,3.5-3.5,3.5-3.5-3.5zM1034.8,854.2l3.5,3.5-3.5,3.5-3.5-3.5zM1036.0,853.6l3.5,3.5-3.5,3.5-3.5-3.5zM1037.3,855.1l3.5,3.5-3.5,3.5-3.5-3.5zM1038.5,852.4l3.5,3.5-3.5,3.5-3.5-3.5zM1039.8,852.2l3.5,3.5-3.5,3.5-3.5-3.5zM1041.0,851.3l3.5,3.5-3.5,3.5-3.5-3.5zM1042.3,850.7l3.5,3.5-3.5,3.5-3.5-3.5zM1043.5,850.1l3.5,3.5-3.5,3.5-3.5-3.5zM1044.7,848.4l3.5,3.5-3.5,3.5-3.5-3.5zM1046.0,851.0l3.5,3.5-3.5,3.5-3.5-3.5zM1047.2,848.2l3.5,3.5-3.5,3.5-3.5-3.5zM1048.5,848.3l3.5,3.5-3.5,3.5-3.5-3.5zM1049.7,847.3l3.5,3.5-3.5,3.5-3.5-3.5zM1051.0,847.7l3.5,3.5-3.5,3.5-3.5-3.5zM1052.2,846.6l3.5,3.5-3.5,3.5-3.5-3.5zM1053.5,846.3l3.5,3.5-3.5,3.5-3.5-3.5zM1054.7,845.7l3.5,3.5-3.5,3.5-3.5-3.5zM1055.9,844.8l3.5,3.5-3.5,3.5-3.5-3.5zM1057.2,843.6l3.5,3.5-3.5,3.5-3.5-3.5zM1058.4,843.6l3.5,3.5-3.5,3.5-3.5-3.5zM1059.7,841.3l3.5,3.5-3.5,3.5-3.5-3.5zM1060.9,842.3l3.5,3.5-3.5,3.5-3.5-3.5zM1062.2,841.6l3.5,3.5-3.5,3.5-3.5-3.5zM1063.4,840.7l3.5,3.5-3.5,3.5-3.5-3.5zM1064.6,839.0l3.5,3.5-3.5,3.5-3.5-3.5zM1065.9,840.1l3.5,3.5-3.5,3.5-3.5-3.5zM1067.1,838.2l3.5,3.5-3.5,3.5-3.5-3.5zM1068.4,838.4l3.5,3.5-3.5,3.5-3.5-3.5zM1069.6,836.2l3.5,3.5-3.5,3.5-3.5-3.5zM1070.9,836.6l3.5,3.5-3.5,3.5-3.5-3.5zM1072.1,835.7l3.5,3.5-3.5,3.5-3.5-3.5zM1073.4,835.0l3.5,3.5-3.5,3.5-3.5-3.5zM1074.6,834.5l3.5,3.5-3.5,3.5-3.5-3.5zM1075.8,835.4l3.5,3.5-3.5,3.5-3.5-3.5zM1077.1,833.7l3.5,3.5-3.5,3.5-3.5-3.5zM1078.3,833.3l3.5,3.5-3.5,3.5-3.5-3.5zM1079.6,833.8l3.5,3.5-3.5,3.5-3.5-3.5zM1080.8,831.0l3.5,3.5-3.5,3.5-3.5-3.5zM1082.1,832.2l3.5,3.5-3.5,3.5-3.5-3.5zM1083.3,830.5l3.5,3.5-3.5,3.5-3.5-3.5zM1084.6,829.8l3.5,3.5-3.5,3.5-3.5-3.5zM1085.8,829.3l3.5,3.5-3.5,3.5-3.5-3.5zM1087.0,827.9l3.5,3.5-3.5,3.5-3.5-3.5zM1088.3,827.5l3.5,3.5-3.5,3.5-3.5-3.5zM1089.5,827.1l3.5,3.5-3.5,3.5-3.5-3.5zM1090.8,826.9l3.5,3.5-3.5,3.5-3.5-3.5zM1092.0,827.1l3.5,3.5-3.5,3.5-3.5-3.5zM1093.3,826.8l3.5,3.5-3.5,3.5-3.5-3.5zM1094.5,825.3l3.5,3.5-3.5,3.5-3.5-3.5zM1095.8,825.2l3.5,3.5-3.5,3.5-3.5-3.5zM1097.0,824.7l3.5,3.5-3.5,3.5-3.5-3.5zM1098.2,823.8l3.5,3.5-3.5,3.5-3.5-3.5zM1099.5,823.5l3.5,3.5-3.5,3.5-3.5-3.5zM1100.7,822.5l3.5,3.5-3.5,3.5-3.5-3.5zM1102.0,822.6l3.5,3.5-3.5,3.5-3.5-3.5zM1103.2,821.6l3.5,3.5-3.5,3.5-3.5-3.5zM1104.5,821.3l3.5,3.5-3.5,3.5-3.5-3.5zM1105.7,820.9l3.5,3.5-3.5,3.5-3.5-3.5zM1107.0,820.3l3.5,3.5-3.5,3.5-3.5-3.5zM1108.2,819.3l3.5,3.5-3.5,3.5-3.5-3.5zM1109.4,818.4l3.5,3.5-3.5,3.5-3.5-3.5zM1110.7,818.6l3.5,3.5-3.5,3.5-3.5-3.5zM1111.9,817.8l3.5,3.5-3.5,3.5-3.5-3.5zM1113.2,817.4l3.5,3.5-3.5,3.5-3.5-3.5zM1114.4,817.1l3.5,3.5-3.5,3.5-3.5-3.5zM1115.7,816.3l3.5,3.5-3.5,3.5-3.5-3.5zM1116.9,816.5l3.5,3.5-3.5,3.5-3.5-3.5zM1118.2,816.0l3.5,3.5-3.5,3.5-3.5-3.5zM1119.4,814.7l3.5,3.5-3.5,3.5-3.5-3.5zM1120.6,815.0l3.5,3.5-3.5,3.5-3.5-3.5zM1121.9,813.7l3.5,3.5-3.5,3.5-3.5-3.5zM1123.1,814.3l3.5,3.5-3.5,3.5-3.5-3.5zM1124.4,813.7l3.5,3.5-3.5,3.5-3.5-3.5zM1125.6,812.9l3.5,3.5-3.5,3.5-3.5-3.5zM1126.9,813.0l3.5,3.5-3.5,3.5-3.5-3.5zM1128.1,812.6l3.5,3.5-3.5,3.5-3.5-3.5zM1129.4,811.8l3.5,3.5-3.5,3.5-3.5-3.5zM1130.6,810.0l3.5,3.5-3.5,3.5-3.5-3.5zM1131.8,810.7l3.5,3.5-3.5,3.5-3.5-3.5zM1133.1,810.3l3.5,3.5-3.5,3.5-3.5-3.5zM1134.3,810.3l3.5,3.5-3.5,3.5-3.5-3.5zM1135.6,808.8l3.5,3.5-3.5,3.5-3.5-3.5zM1136.8,809.3l3.5,3.5-3.5,3.5-3.5-3.5zM1138.1,808.7l3.5,3.5-3.5,3.5-3.5-3.5zM1139.3,808.3l3.5,3.5-3.5,3.5-3.5-3.5zM1140.5,806.9l3.5,3.5-3.5,3.5-3.5-3.5zM1141.8,806.7l3.5,3.5-3.5,3.5-3.5-3.5zM1143.0,807.5l3.5,3.5-3.5,3.5-3.5-3.5zM1144.3,806.9l3.5,3.5-3.5,3.5-3.5-3.5zM1145.5,805.9l3.5,3.5-3.5,3.5-3.5-3.5zM1146.8,806.2l3.5,3.5-3.5,3.5-3.5-3.5zM1148.0,805.3l3.5,3.5-3.5,3.5-3.5-3.5zM1149.3,804.5l3.5,3.5-3.5,3.5-3.5-3.5zM1150.5,803.4l3.5,3.5-3.5,3.5-3.5-3.5zM1151.7,804.5l3.5,3.5-3.5,3.5-3.5-3.5zM1153.0,803.5l3.5,3.5-3.5,3.5-3.5-3.5zM1154.2,803.3l3.5,3.5-3.5,3.5-3.5-3.5zM1155.5,801.7l3.5,3.5-3.5,3.5-3.5-3.5zM1156.7,802.0l3.5,3.5-3.5,3.5-3.5-3.5zM1158.0,802.1l3.5,3.5-3.5,3.5-3.5-3.5zM1159.2,801.4l3.5,3.5-3.5,3.5-3.5-3.5zM1160.5,800.8l3.5,3.5-3.5,3.5-3.5-3.5zM1161.7,800.1l3.5,3.5-3.5,3.5-3.5-3.5zM1162.9,800.6l3.5,3.5-3.5,3.5-3.5-3.5zM1164.2,799.8l3.5,3.5-3.5,3.5-3.5-3.5zM1165.4,799.5l3.5,3.5-3.5,3.5-3.5-3.5zM1166.7,799.1l3.5,3.5-3.5,3.5-3.5-3.5zM1167.9,798.5l3.5,3.5-3.5,3.5-3.5-3.5zM1169.2,798.4l3.5,3.5-3.5,3.5-3.5-3.5zM1170.4,797.8l3.5,3.5-3.5,3.5-3.5-3.5zM1171.7,797.8l3.5,3.5-3.5,3.5-3.5-3.5zM1172.9,796.6l3.5,3.5-3.5,3.5-3.5-3.5zM1174.1,796.4l3.5,3.5-3.5,3.5-3.5-3.5zM1175.4,796.7l3.5,3.5-3.5,3.5-3.5-3.5zM1176.6,796.3l3.5,3.5-3.5,3.5-3.5-3.5zM1177.9,796.1l3.5,3.5-3.5,3.5-3.5-3.5zM1179.1,796.8l3.5,3.5-3.5,3.5-3.5-3.5zM1180.4,795.7l3.5,3.5-3.5,3.5-3.5-3.5zM1181.6,795.6l3.5,3.5-3.5,3.5-3.5-3.5zM1182.9,794.8l3.5,3.5-3.5,3.5-3.5-3.5zM1184.1,794.2l3.5,3.5-3.5,3.5-3.5-3.5zM1185.3,793.4l3.5,3.5-3.5,3.5-3.5-3.5zM1186.6,792.4l3.5,3.5-3.5,3.5-3.5-3.5zM1187.8,792.3l3.5,3.5-3.5,3.5-3.5-3.5zM1189.1,791.4l3.5,3.5-3.5,3.5-3.5-3.5zM1190.3,791.8l3.5,3.5-3.5,3.5-3.5-3.5zM1191.6,791.2l3.5,3.5-3.5,3.5-3.5-3.5zM1192.8,791.2l3.5,3.5-3.5,3.5-3.5-3.5zM1194.1,791.4l3.5,3.5-3.5,3.5-3.5-3.5zM1195.3,790.9l3.5,3.5-3.5,3.5-3.5-3.5zM1196.5,791.3l3.5,3.5-3.5,3.5-3.5-3.5zM1197.8,791.0l3.5,3.5-3.5,3.5-3.5-3.5zM1199.0,790.7l3.5,3.5-3.5,3.5-3.5-3.5zM1200.3,790.3l3.5,3.5-3.5,3.5-3.5-3.5zM1201.5,789.6l3.5,3.5-3.5,3.5-3.5-3.5zM1202.8,788.8l3.5,3.5-3.5,3.5-3.5-3.5zM1204.0,789.0l3.5,3.5-3.5,3.5-3.5-3.5zM1205.3,788.3l3.5,3.5-3.5,3.5-3.5-3.5zM1206.5,788.0l3.5,3.5-3.5,3.5-3.5-3.5zM1207.7,788.0l3.5,3.5-3.5,3.5-3.5-3.5zM1209.0,786.8l3.5,3.5-3.5,3.5-3.5-3.5zM1210.2,786.1l3.5,3.5-3.5,3.5-3.5-3.5zM1211.5,787.0l3.5,3.5-3.5,3.5-3.5-3.5zM1212.7,787.5l3.5,3.5-3.5,3.5-3.5-3.5zM1214.0,786.8l3.5,3.5-3.5,3.5-3.5-3.5zM1215.2,788.1l3.5,3.5-3.5,3.5-3.5-3.5zM1216.5,784.7l3.5,3.5-3.5,3.5-3.5-3.5zM1217.7,784.9l3.5,3.5-3.5,3.5-3.5-3.5zM1218.9,783.6l3.5,3.5-3.5,3.5-3.5-3.5zM1220.2,784.2l3.5,3.5-3.5,3.5-3.5-3.5zM1221.4,785.5l3.5,3.5-3.5,3.5-3.5-3.5zM1222.7,785.1l3.5,3.5-3.5,3.5-3.5-3.5zM1223.9,783.2l3.5,3.5-3.5,3.5-3.5-3.5zM1225.2,783.4l3.5,3.5-3.5,3.5-3.5-3.5zM1226.4,782.8l3.5,3.5-3.5,3.5-3.5-3.5zM1227.7,782.3l3.5,3.5-3.5,3.5-3.5-3.5zM1228.9,782.7l3.5,3.5-3.5,3.5-3.5-3.5zM1230.1,782.4l3.5,3.5-3.5,3.5-3.5-3.5zM1231.4,782.4l3.5,3.5-3.5,3.5-3.5-3.5zM1232.6,782.3l3.5,3.5-3.5,3.5-3.5-3.5zM1233.9,782.3l3.5,3.5-3.5,3.5-3.5-3.5zM1235.1,782.5l3.5,3.5-3.5,3.5-3.5-3.5zM1236.4,781.5l3.5,3.5-3.5,3.5-3.5-3.5zM1237.6,781.2l3.5,3.5-3.5,3.5-3.5-3.5zM1238.8,781.2l3.5,3.5-3.5,3.5-3.5-3.5zM1240.1,781.3l3.5,3.5-3.5,3.5-3.5-3.5zM1241.3,780.8l3.5,3.5-3.5,3.5-3.5-3.5zM1242.6,780.1l3.5,3.5-3.5,3.5-3.5-3.5zM1243.8,780.3l3.5,3.5-3.5,3.5-3.5-3.5zM1245.1,780.9l3.5,3.5-3.5,3.5-3.5-3.5zM1246.3,779.7l3.5,3.5-3.5,3.5-3.5-3.5zM1247.6,780.7l3.5,3.5-3.5,3.5-3.5-3.5zM1248.8,779.3l3.5,3.5-3.5,3.5-3.5-3.5zM1250.0,780.4l3.5,3.5-3.5,3.5-3.5-3.5zM1251.3,780.4l3.5,3.5-3.5,3.5-3.5-3.5zM1252.5,779.8l3.5,3.5-3.5,3.5-3.5-3.5zM1253.8,779.9l3.5,3.5-3.5,3.5-3.5-3.5zM1255.0,779.7l3.5,3.5-3.5,3.5-3.5-3.5zM1256.3,780.8l3.5,3.5-3.5,3.5-3.5-3.5zM1257.5,779.5l3.5,3.5-3.5,3.5-3.5-3.5zM1258.8,779.3l3.5,3.5-3.5,3.5-3.5-3.5zM1260.0,779.9l3.5,3.5-3.5,3.5-3.5-3.5zM1261.2,780.3l3.5,3.5-3.5,3.5-3.5-3.5zM1262.5,779.9l3.5,3.5-3.5,3.5-3.5-3.5zM1263.7,779.6l3.5,3.5-3.5,3.5-3.5-3.5zM1265.0,780.2l3.5,3.5-3.5,3.5-3.5-3.5zM1266.2,779.2l3.5,3.5-3.5,3.5-3.5-3.5zM1267.5,779.1l3.5,3.5-3.5,3.5-3.5-3.5zM1268.7,778.9l3.5,3.5-3.5,3.5-3.5-3.5zM1270.0,780.3l3.5,3.5-3.5,3.5-3.5-3.5zM1271.2,778.2l3.5,3.5-3.5,3.5-3.5-3.5zM1272.4,778.8l3.5,3.5-3.5,3.5-3.5-3.5zM1273.7,779.7l3.5,3.5-3.5,3.5-3.5-3.5zM1274.9,779.7l3.5,3.5-3.5,3.5-3.5-3.5zM1276.2,780.5l3.5,3.5-3.5,3.5-3.5-3.5zM1277.4,779.7l3.5,3.5-3.5,3.5-3.5-3.5zM1278.7,779.1l3.5,3.5-3.5,3.5-3.5-3.5zM1279.9,780.2l3.5,3.5-3.5,3.5-3.5-3.5zM1281.2,780.0l3.5,3.5-3.5,3.5-3.5-3.5zM1282.4,780.0l3.5,3.5-3.5,3.5-3.5-3.5zM1283.6,779.9l3.5,3.5-3.5,3.5-3.5-3.5zM1284.9,779.5l3.5,3.5-3.5,3.5-3.5-3.5zM1286.1,778.3l3.5,3.5-3.5,3.5-3.5-3.5zM1287.4,778.4l3.5,3.5-3.5,3.5-3.5-3.5zM1288.6,780.2l3.5,3.5-3.5,3.5-3.5-3.5zM1289.9,778.9l3.5,3.5-3.5,3.5-3.5-3.5zM1291.1,777.7l3.5,3.5-3.5,3.5-3.5-3.5zM1292.4,778.8l3.5,3.5-3.5,3.5-3.5-3.5zM1293.6,779.2l3.5,3.5-3.5,3.5-3.5-3.5zM1294.8,778.8l3.5,3.5-3.5,3.5-3.5-3.5zM1296.1,778.4l3.5,3.5-3.5,3.5-3.5-3.5zM1297.3,776.9l3.5,3.5-3.5,3.5-3.5-3.5zM1298.6,778.2l3.5,3.5-3.5,3.5-3.5-3.5zM1299.8,777.9l3.5,3.5-3.5,3.5-3.5-3.5zM1301.1,778.9l3.5,3.5-3.5,3.5-3.5-3.5zM1302.3,777.7l3.5,3.5-3.5,3.5-3.5-3.5zM1303.6,777.5l3.5,3.5-3.5,3.5-3.5-3.5zM1304.8,777.1l3.5,3.5-3.5,3.5-3.5-3.5zM1306.0,777.1l3.5,3.5-3.5,3.5-3.5-3.5zM1307.3,777.2l3.5,3.5-3.5,3.5-3.5-3.5zM1308.5,776.5l3.5,3.5-3.5,3.5-3.5-3.5zM1309.8,776.1l3.5,3.5-3.5,3.5-3.5-3.5zM1311.0,775.7l3.5,3.5-3.5,3.5-3.5-3.5zM1312.3,776.3l3.5,3.5-3.5,3.5-3.5-3.5zM1313.5,775.8l3.5,3.5-3.5,3.5-3.5-3.5zM1314.8,775.7l3.5,3.5-3.5,3.5-3.5-3.5zM1316.0,774.7l3.5,3.5-3.5,3.5-3.5-3.5zM1317.2,775.0l3.5,3.5-3.5,3.5-3.5-3.5zM1318.5,774.1l3.5,3.5-3.5,3.5-3.5-3.5zM1319.7,775.6l3.5,3.5-3.5,3.5-3.5-3.5zM1321.0,775.5l3.5,3.5-3.5,3.5-3.5-3.5zM1322.2,774.9l3.5,3.5-3.5,3.5-3.5-3.5zM1323.5,774.3l3.5,3.5-3.5,3.5-3.5-3.5zM1324.7,774.5l3.5,3.5-3.5,3.5-3.5-3.5zM1325.9,773.1l3.5,3.5-3.5,3.5-3.5-3.5zM1327.2,773.0l3.5,3.5-3.5,3.5-3.5-3.5zM1328.4,774.3l3.5,3.5-3.5,3.5-3.5-3.5zM1329.7,772.8l3.5,3.5-3.5,3.5-3.5-3.5zM1330.9,773.2l3.5,3.5-3.5,3.5-3.5-3.5zM1332.2,772.6l3.5,3.5-3.5,3.5-3.5-3.5zM1333.4,771.4l3.5,3.5-3.5,3.5-3.5-3.5zM1334.7,772.3l3.5,3.5-3.5,3.5-3.5-3.5zM1335.9,773.0l3.5,3.5-3.5,3.5-3.5-3.5zM1337.1,773.1l3.5,3.5-3.5,3.5-3.5-3.5zM1338.4,770.7l3.5,3.5-3.5,3.5-3.5-3.5zM1339.6,771.1l3.5,3.5-3.5,3.5-3.5-3.5zM1340.9,771.5l3.5,3.5-3.5,3.5-3.5-3.5zM1342.1,772.3l3.5,3.5-3.5,3.5-3.5-3.5zM1343.4,772.3l3.5,3.5-3.5,3.5-3.5-3.5zM1344.6,772.4l3.5,3.5-3.5,3.5-3.5-3.5zM1345.9,772.4l3.5,3.5-3.5,3.5-3.5-3.5zM1347.1,771.0l3.5,3.5-3.5,3.5-3.5-3.5zM1348.3,770.6l3.5,3.5-3.5,3.5-3.5-3.5zM1349.6,771.7l3.5,3.5-3.5,3.5-3.5-3.5zM1350.8,770.9l3.5,3.5-3.5,3.5-3.5-3.5zM1352.1,771.0l3.5,3.5-3.5,3.5-3.5-3.5zM1353.3,770.7l3.5,3.5-3.5,3.5-3.5-3.5zM1354.6,770.7l3.5,3.5-3.5,3.5-3.5-3.5zM1355.8,771.4l3.5,3.5-3.5,3.5-3.5-3.5zM1357.1,770.2l3.5,3.5-3.5,3.5-3.5-3.5zM1358.3,769.8l3.5,3.5-3.5,3.5-3.5-3.5zM1359.5,770.4l3.5,3.5-3.5,3.5-3.5-3.5zM1360.8,770.9l3.5,3.5-3.5,3.5-3.5-3.5zM1362.0,770.7l3.5,3.5-3.5,3.5-3.5-3.5zM1363.3,770.8l3.5,3.5-3.5,3.5-3.5-3.5zM1364.5,769.7l3.5,3.5-3.5,3.5-3.5-3.5zM1365.8,770.4l3.5,3.5-3.5,3.5-3.5-3.5zM1367.0,771.6l3.5,3.5-3.5,3.5-3.5-3.5zM1368.3,770.9l3.5,3.5-3.5,3.5-3.5-3.5zM1369.5,770.7l3.5,3.5-3.5,3.5-3.5-3.5zM1370.7,771.8l3.5,3.5-3.5,3.5-3.5-3.5zM1372.0,770.9l3.5,3.5-3.5,3.5-3.5-3.5zM1373.2,771.7l3.5,3.5-3.5,3.5-3.5-3.5zM1374.5,771.5l3.5,3.5-3.5,3.5-3.5-3.5zM1375.7,771.7l3.5,3.5-3.5,3.5-3.5-3.5zM1377.0,772.2l3.5,3.5-3.5,3.5-3.5-3.5zM1378.2,773.0l3.5,3.5-3.5,3.5-3.5-3.5zM1379.5,772.5l3.5,3.5-3.5,3.5-3.5-3.5zM1380.7,771.4l3.5,3.5-3.5,3.5-3.5-3.5zM1381.9,771.4l3.5,3.5-3.5,3.5-3.5-3.5zM1383.2,772.0l3.5,3.5-3.5,3.5-3.5-3.5zM1384.4,772.2l3.5,3.5-3.5,3.5-3.5-3.5zM1385.7,772.8l3.5,3.5-3.5,3.5-3.5-3.5zM1386.9,772.6l3.5,3.5-3.5,3.5-3.5-3.5zM1388.2,772.8l3.5,3.5-3.5,3.5-3.5-3.5zM1389.4,771.9l3.5,3.5-3.5,3.5-3.5-3.5zM1390.7,773.0l3.5,3.5-3.5,3.5-3.5-3.5zM1391.9,773.5l3.5,3.5-3.5,3.5-3.5-3.5zM1393.1,774.4l3.5,3.5-3.5,3.5-3.5-3.5zM1394.4,774.0l3.5,3.5-3.5,3.5-3.5-3.5zM1395.6,773.8l3.5,3.5-3.5,3.5-3.5-3.5zM1396.9,773.2l3.5,3.5-3.5,3.5-3.5-3.5zM1398.1,774.1l3.5,3.5-3.5,3.5-3.5-3.5zM1399.4,774.3l3.5,3.5-3.5,3.5-3.5-3.5zM1400.6,774.4l3.5,3.5-3.5,3.5-3.5-3.5zM1401.8,774.7l3.5,3.5-3.5,3.5-3.5-3.5zM1403.1,775.1l3.5,3.5-3.5,3.5-3.5-3.5zM1404.3,775.3l3.5,3.5-3.5,3.5-3.5-3.5zM1405.6,776.6l3.5,3.5-3.5,3.5-3.5-3.5zM1406.8,774.8l3.5,3.5-3.5,3.5-3.5-3.5zM1408.1,774.7l3.5,3.5-3.5,3.5-3.5-3.5zM1409.3,776.1l3.5,3.5-3.5,3.5-3.5-3.5zM1410.6,775.3l3.5,3.5-3.5,3.5-3.5-3.5zM1411.8,776.1l3.5,3.5-3.5,3.5-3.5-3.5zM1413.0,776.4l3.5,3.5-3.5,3.5-3.5-3.5zM1414.3,776.2l3.5,3.5-3.5,3.5-3.5-3.5zM1415.5,777.4l3.5,3.5-3.5,3.5-3.5-3.5zM1416.8,777.5l3.5,3.5-3.5,3.5-3.5-3.5zM1418.0,777.5l3.5,3.5-3.5,3.5-3.5-3.5zM1419.3,778.0l3.5,3.5-3.5,3.5-3.5-3.5zM1420.5,778.4l3.5,3.5-3.5,3.5-3.5-3.5zM1421.8,777.9l3.5,3.5-3.5,3.5-3.5-3.5zM1423.0,778.7l3.5,3.5-3.5,3.5-3.5-3.5zM1424.2,778.6l3.5,3.5-3.5,3.5-3.5-3.5zM1425.5,778.8l3.5,3.5-3.5,3.5-3.5-3.5zM1426.7,778.7l3.5,3.5-3.5,3.5-3.5-3.5zM1428.0,780.3l3.5,3.5-3.5,3.5-3.5-3.5zM1429.2,779.7l3.5,3.5-3.5,3.5-3.5-3.5zM1430.5,778.9l3.5,3.5-3.5,3.5-3.5-3.5zM1431.7,780.3l3.5,3.5-3.5,3.5-3.5-3.5zM1433.0,778.7l3.5,3.5-3.5,3.5-3.5-3.5zM1434.2,780.7l3.5,3.5-3.5,3.5-3.5-3.5zM1435.4,781.2l3.5,3.5-3.5,3.5-3.5-3.5zM1436.7,781.9l3.5,3.5-3.5,3.5-3.5-3.5zM1437.9,781.4l3.5,3.5-3.5,3.5-3.5-3.5zM1439.2,781.2l3.5,3.5-3.5,3.5-3.5-3.5zM1440.4,783.0l3.5,3.5-3.5,3.5-3.5-3.5zM1441.7,782.7l3.5,3.5-3.5,3.5-3.5-3.5zM1442.9,783.2l3.5,3.5-3.5,3.5-3.5-3.5zM1444.2,782.5l3.5,3.5-3.5,3.5-3.5-3.5zM1445.4,783.4l3.5,3.5-3.5,3.5-3.5-3.5zM1446.6,782.2l3.5,3.5-3.5,3.5-3.5-3.5zM1447.9,783.8l3.5,3.5-3.5,3.5-3.5-3.5zM1449.1,782.6l3.5,3.5-3.5,3.5-3.5-3.5zM1450.4,783.5l3.5,3.5-3.5,3.5-3.5-3.5zM1451.6,783.6l3.5,3.5-3.5,3.5-3.5-3.5zM1452.9,785.4l3.5,3.5-3.5,3.5-3.5-3.5zM1454.1,785.6l3.5,3.5-3.5,3.5-3.5-3.5zM1455.4,785.0l3.5,3.5-3.5,3.5-3.5-3.5zM1456.6,786.4l3.5,3.5-3.5,3.5-3.5-3.5zM1457.8,786.1l3.5,3.5-3.5,3.5-3.5-3.5zM1459.1,785.2l3.5,3.5-3.5,3.5-3.5-3.5zM1460.3,786.5l3.5,3.5-3.5,3.5-3.5-3.5zM1461.6,786.0l3.5,3.5-3.5,3.5-3.5-3.5zM1462.8,787.4l3.5,3.5-3.5,3.5-3.5-3.5zM1464.1,787.9l3.5,3.5-3.5,3.5-3.5-3.5zM1465.3,787.6l3.5,3.5-3.5,3.5-3.5-3.5zM1466.6,788.9l3.5,3.5-3.5,3.5-3.5-3.5zM1467.8,789.4l3.5,3.5-3.5,3.5-3.5-3.5zM1469.0,788.6l3.5,3.5-3.5,3.5-3.5-3.5zM1470.3,789.8l3.5,3.5-3.5,3.5-3.5-3.5zM1471.5,789.8l3.5,3.5-3.5,3.5-3.5-3.5zM1472.8,790.1l3.5,3.5-3.5,3.5-3.5-3.5zM1474.0,791.7l3.5,3.5-3.5,3.5-3.5-3.5zM1475.3,790.6l3.5,3.5-3.5,3.5-3.5-3.5zM1476.5,791.2l3.5,3.5-3.5,3.5-3.5-3.5zM1477.8,791.8l3.5,3.5-3.5,3.5-3.5-3.5zM1479.0,792.6l3.5,3.5-3.5,3.5-3.5-3.5zM1480.2,793.1l3.5,3.5-3.5,3.5-3.5-3.5zM1481.5,792.5l3.5,3.5-3.5,3.5-3.5-3.5zM1482.7,794.3l3.5,3.5-3.5,3.5-3.5-3.5zM1484.0,795.0l3.5,3.5-3.5,3.5-3.5-3.5zM1485.2,795.6l3.5,3.5-3.5,3.5-3.5-3.5zM1486.5,794.9l3.5,3.5-3.5,3.5-3.5-3.5zM1487.7,794.9l3.5,3.5-3.5,3.5-3.5-3.5zM1489.0,795.0l3.5,3.5-3.5,3.5-3.5-3.5zM1490.2,796.4l3.5,3.5-3.5,3.5-3.5-3.5zM1491.4,796.6l3.5,3.5-3.5,3.5-3.5-3.5zM1492.7,797.0l3.5,3.5-3.5,3.5-3.5-3.5zM1493.9,797.2l3.5,3.5-3.5,3.5-3.5-3.5zM1495.2,796.7l3.5,3.5-3.5,3.5-3.5-3.5zM1496.4,798.4l3.5,3.5-3.5,3.5-3.5-3.5zM1497.7,798.9l3.5,3.5-3.5,3.5-3.5-3.5zM1498.9,799.3l3.5,3.5-3.5,3.5-3.5-3.5zM1500.1,799.2l3.5,3.5-3.5,3.5-3.5-3.5zM1501.4,800.4l3.5,3.5-3.5,3.5-3.5-3.5zM1502.6,801.0l3.5,3.5-3.5,3.5-3.5-3.5zM1503.9,800.9l3.5,3.5-3.5,3.5-3.5-3.5zM1505.1,802.5l3.5,3.5-3.5,3.5-3.5-3.5zM1506.4,802.7l3.5,3.5-3.5,3.5-3.5-3.5zM1507.6,803.3l3.5,3.5-3.5,3.5-3.5-3.5zM1508.9,804.1l3.5,3.5-3.5,3.5-3.5-3.5zM1510.1,804.2l3.5,3.5-3.5,3.5-3.5-3.5zM1511.3,804.9l3.5,3.5-3.5,3.5-3.5-3.5zM1512.6,805.9l3.5,3.5-3.5,3.5-3.5-3.5z"/>
<path d="M226.0,1056.2l3.5,3.5-3.5,3.5-3.5-3.5z"/>
<path d="M227.2,1067.2l3.5,3.5-3.5,3.5-3.5-3.5z"/>
<path d="M228.5,1057.7l3.5,3.5-3.5,3.5-3.5-3.5z"/>
<path d="M229.7,1068.8l3.5,3.5-3.5,3.5-3.5-3.5z"/>
<path d="M231.0,1084.3l3.5,3.5-3.5,3.5-3.5-3.5z"/>
<path d="M232.2,1092.3l3.5,3.5-3.5,3.5-3.5-3.5z"/>
<path d="M233.5,1094.6l3.5,3.5-3.5,3.5-3.5-3.5z"/>
<path d="M234.7,1100.0l3.5,3.5-3.5,3.5-3.5-3.5z"/>
<path d="M236.0,1112.3l3.5,3.5-3.5,3.5-3.5-3.5z"/>
<path d="M237.2,1112.9l3.5,3.5-3.5,3.5-3.5-3.5z"/>
<path d="M238.4,1124.5l3.5,3.5-3.5,3.5-3.5-3.5z"/>
<path d="M239.7,1126.8l3.5,3.5-3.5,3.5-3.5-3.5z"/>
<path d="M240.9,1128.7l3.5,3.5-3.5,3.5-3.5-3.5z"/>
<path d="M242.2,1126.5l3.5,3.5-3.5,3.5-3.5-3.5z"/>
<path d="M243.4,1137.5l3.5,3.5-3.5,3.5-3.5-3.5z"/>
<path d="M244.7,1137.1l3.5,3.5-3.5,3.5-3.5-3.5z"/>
<path d="M245.9,1139.7l3.5,3.5-3.5,3.5-3.5-3.5z"/>
<path d="M247.2,1141.2l3.5,3.5-3.5,3.5-3.5-3.5z"/>
<path d="M248.4,1143.2l3.5,3.5-3.5,3.5-3.5-3.5z"/>
<path d="M249.6,1144.4l3.5,3.5-3.5,3.5-3.5-3.5z"/>
<path d="M250.9,1143.3l3.5,3.5-3.5,3.5-3.5-3.5z"/>
<path d="M252.1,1140.2l3.5,3.5-3.5,3.5-3.5-3.5z"/>
<path d="M253.4,1139.9l3.5,3.5-3.5,3.5-3.5-3.5z"/>
<path d="M254.6,1116.4l3.5,3.5-3.5,3.5-3.5-3.5z"/>
<path d="M255.9,1110.9l3.5,3.5-3.5,3.5-3.5-3.5z"/>
<path d="M257.1,1094.5l3.5,3.5-3.5,3.5-3.5-3.5z"/>
<path d="M258.4,1084.8l3.5,3.5-3.5,3.5-3.5-3.5z"/>
<path d="M259.6,1074.3l3.5,3.5-3.5,3.5-3.5-3.5z"/>
<path d="M260.8,1079.7l3.5,3.5-3.5,3.5-3.5-3.5z"/>
<path d="M262.1,1075.2l3.5,3.5-3.5,3.5-3.5-3.5z"/>
<path d="M263.3,1074.7l3.5,3.5-3.5,3.5-3.5-3.5z"/>
<path d="M264.6,1074.7l3.5,3.5-3.5,3.5-3.5-3.5z"/>
<path d="M265.8,1078.4l3.5,3.5-3.5,3.5-3.5-3.5z"/>
<path d="M267.1,1074.5l3.5,3.5-3.5,3.5-3.5-3.5z"/>
<path d="M268.3,1077.4l3.5,3.5-3.5,3.5-3.5-3.5z"/>
<path d="M269.6,1083.7l3.5,3.5-3.5,3.5-3.5-3.5z"/>
<path d="M270.8,1077.2l3.5,3.5-3.5,3.5-3.5-3.5z"/>
<path d="M272.0,1080.2l3.5,3.5-3.5,3.5-3.5-3.5z"/>
<path d="M273.3,1084.4l3.5,3.5-3.5,3.5-3.5-3.5z"/>
<path d="M274.5,1097.7l3.5,3.5-3.5,3.5-3.5-3.5z"/>
<path d="M275.8,1103.5l3.5,3.5-3.5,3.5-3.5-3.5z"/>
<path d="M277.0,1105.2l3.5,3.5-3.5,3.5-3.5-3.5z"/>
<path d="M278.3,1107.8l3.5,3.5-3.5,3.5-3.5-3.5z"/>
<path d="M279.5,1111.8l3.5,3.5-3.5,3.5-3.5-3.5z"/>
<path d="M280.7,1109.1l3.5,3.5-3.5,3.5-3.5-3.5z"/>
<path d="M282.0,1117.0l3.5,3.5-3.5,3.5-3.5-3.5z"/>
<path d="M283.2,1110.5l3.5,3.5-3.5,3.5-3.5-3.5z"/>
<path d="M284.5,1111.9l3.5,3.5-3.5,3.5-3.5-3.5z"/>
<path d="M285.7,1116.9l3.5,3.5-3.5,3.5-3.5-3.5z"/>
<path d="M287.0,1117.0l3.5,3.5-3.5,3.5-3.5-3.5z"/>
<path d="M288.2,1122.2l3.5,3.5-3.5,3.5-3.5-3.5z"/>
<path d="M289.5,1126.9l3.5,3.5-3.5,3.5-3.5-3.5z"/>
<path d="M290.7,1128.5l3.5,3.5-3.5,3.5-3.5-3.5z"/>
<path d="M291.9,1126.1l3.5,3.5-3.5,3.5-3.5-3.5z"/>
<path d="M293.2,1133.7l3.5,3.5-3.5,3.5-3.5-3.5z"/>
<path d="M294.4,1131.1l3.5,3.5-3.5,3.5-3.5-3.5z"/>
<path d="M295.7,1133.6l3.5,3.5-3.5,3.5-3.5-3.5z"/>
<path d="M296.9,1134.0l3.5,3.5-3.5,3.5-3.5-3.5z"/>
<path d="M298.2,1131.4l3.5,3.5-3.5,3.5-3.5-3.5z"/>
<path d="M299.4,1138.5l3.5,3.5-3.5,3.5-3.5-3.5z"/>
<path d="M300.7,1133.9l3.5,3.5-3.5,3.5-3.5-3.5z"/>
<path d="M301.9,1130.0l3.5,3.5-3.5,3.5-3.5-3.5z"/>
<path d="M303.1,1129.8l3.5,3.5-3.5,3.5-3.5-3.5z"/>
<path d="M304.4,1136.1l3.5,3.5-3.5,3.5-3.5-3.5z"/>
<path d="M305.6,1139.0l3.5,3.5-3.5,3.5-3.5-3.5z"/>
<path d="M306.9,1138.2l3.5,3.5-3.5,3.5-3.5-3.5z"/>
<path d="M308.1,1143.0l3.5,3.5-3.5,3.5-3.5-3.5z"/>
<path d="M309.4,1139.5l3.5,3.5-3.5,3.5-3.5-3.5z"/>
<path d="M310.6,1142.5l3.5,3.5-3.5,3.5-3.5-3.5z"/>
<path d="M311.9,1144.0l3.5,3.5-3.5,3.5-3.5-3.5z"/>
<path d="M313.1,1141.5l3.5,3.5-3.5,3.5-3.5-3.5z"/>
<path d="M314.3,1145.9l3.5,3.5-3.5,3.5-3.5-3.5z"/>
<path d="M315.6,1147.7l3.5,3.5-3.5,3.5-3.5-3.5z"/>
<path d="M316.8,1150.9l3.5,3.5-3.5,3.5-3.5-3.5z"/>
<path d="M318.1,1152.4l3.5,3.5-3.5,3.5-3.5-3.5z"/>
<path d="M319.3,1152.8l3.5,3.5-3.5,3.5-3.5-3.5z"/>
<path d="M320.6,1149.6l3.5,3.5-3.5,3.5-3.5-3.5z"/>
<path d="M321.8,1153.0l3.5,3.5-3.5,3.5-3.5-3.5z"/>
<path d="M323.1,1153.9l3.5,3.5-3.5,3.5-3.5-3.5z"/>
<path d="M324.3,1152.1l3.5,3.5-3.5,3.5-3.5-3.5z"/>
<path d="M325.5,1153.7l3.5,3.5-3.5,3.5-3.5-3.5z"/>
<path d="M326.8,1154.0l3.5,3.5-3.5,3.5-3.5-3.5z"/>
<path d="M328.0,1155.0l3.5,3.5-3.5,3.5-3.5-3.5z"/>
<path d="M329.3,1153.0l3.5,3.5-3.5,3.5-3.5-3.5z"/>
<path d="M330.5,1154.0l3.5,3.5-3.5,3.5-3.5-3.5z"/>
<path d="M331.8,1153.7l3.5,3.5-3.5,3.5-3.5-3.5z"/>
<path d="M333.0,1153.7l3.5,3.5-3.5,3.5-3.5-3.5z"/>
<path d="M334.3,1152.7l3.5,3.5-3.5,3.5-3.5-3.5z"/>
<path d="M335.5,1153.6l3.5,3.5-3.5,3.5-3.5-3.5z"/>
<path d="M336.7,1152.6l3.5,3.5-3.5,3.5-3.5-3.5z"/>
<path d="M338.0,1154.7l3.5,3.5-3.5,3.5-3.5-3.5z"/>
<path d="M339.2,1156.8l3.5,3.5-3.5,3.5-3.5-3.5z"/>
<path d="M340.5,1157.1l3.5,3.5-3.5,3.5-3.5-3.5z"/>
<path d="M341.7,1157.9l3.5,3.5-3.5,3.5-3.5-3.5z"/>
<path d="M343.0,1156.8l3.5,3.5-3.5,3.5-3.5-3.5z"/>
<path d="M344.2,1160.0l3.5,3.5-3.5,3.5-3.5-3.5z"/>
<path d="M345.5,1157.3l3.5,3.5-3.5,3.5-3.5-3.5z"/>
<path d="M346.7,1159.9l3.5,3.5-3.5,3.5-3.5-3.5z"/>
<path d="M347.9,1159.8l3.5,3.5-3.5,3.5-3.5-3.5z"/>
<path d="M349.2,1158.3l3.5,3.5-3.5,3.5-3.5-3.5z"/>
<path d="M350.4,1158.8l3.5,3.5-3.5,3.5-3.5-3.5z"/>
<path d="M351.7,1161.7l3.5,3.5-3.5,3.5-3.5-3.5z"/>
<path d="M352.9,1161.0l3.5,3.5-3.5,3.5-3.5-3.5z"/>
<path d="M354.2,1161.8l3.5,3.5-3.5,3.5-3.5-3.5z"/>
<path d="M355.4,1166.8l3.5,3.5-3.5,3.5-3.5-3.5z"/>
<path d="M356.6,1163.1l3.5,3.5-3.5,3.5-3.5-3.5z"/>
<path d="M357.9,1162.8l3.5,3.5-3.5,3.5-3.5-3.5z"/>
<path d="M359.1,1164.3l3.5,3.5-3.5,3.5-3.5-3.5z"/>
<path d="M360.4,1162.6l3.5,3.5-3.5,3.5-3.5-3.5z"/>
<path d="M884.2,922.4l3.5,3.5-3.5,3.5-3.5-3.5z"/>
<path d="M885.5,931.0l3.5,3.5-3.5,3.5-3.5-3.5z"/>
<path d="M886.7,933.2l3.5,3.5-3.5,3.5-3.5-3.5z"/>
<path d="M888.0,937.8l3.5,3.5-3.5,3.5-3.5-3.5z"/>
<path d="M889.2,920.2l3.5,3.5-3.5,3.5-3.5-3.5z"/>
<path d="M890.4,931.3l3.5,3.5-3.5,3.5-3.5-3.5z"/>
<path d="M891.7,924.9l3.5,3.5-3.5,3.5-3.5-3.5z"/>
<path d="M892.9,921.3l3.5,3.5-3.5,3.5-3.5-3.5z"/>
<path d="M894.2,922.4l3.5,3.5-3.5,3.5-3.5-3.5z"/>
<path d="M895.4,919.7l3.5,3.5-3.5,3.5-3.5-3.5z"/>
<path d="M896.7,924.7l3.5,3.5-3.5,3.5-3.5-3.5z"/>
<path d="M897.9,921.9l3.5,3.5-3.5,3.5-3.5-3.5z"/>
<path d="M899.2,926.5l3.5,3.5-3.5,3.5-3.5-3.5z"/>
<path d="M900.4,918.1l3.5,3.5-3.5,3.5-3.5-3.5z"/>
<path d="M901.6,911.7l3.5,3.5-3.5,3.5-3.5-3.5z"/>
<path d="M902.9,914.8l3.5,3.5-3.5,3.5-3.5-3.5z"/>
<path d="M904.1,919.7l3.5,3.5-3.5,3.5-3.5-3.5z"/>
<path d="M905.4,911.6l3.5,3.5-3.5,3.5-3.5-3.5z"/>
<path d="M906.6,913.9l3.5,3.5-3.5,3.5-3.5-3.5z"/>
<path d="M907.9,918.2l3.5,3.5-3.5,3.5-3.5-3.5z"/>
<path d="M909.1,910.2l3.5,3.5-3.5,3.5-3.5-3.5z"/>
<path d="M910.4,917.8l3.5,3.5-3.5,3.5-3.5-3.5z"/>
<path d="M911.6,915.2l3.5,3.5-3.5,3.5-3.5-3.5z"/>
<path d="M912.8,911.2l3.5,3.5-3.5,3.5-3.5-3.5z"/>
<path d="M914.1,912.4l3.5,3.5-3.5,3.5-3.5-3.5z"/>
<path d="M915.3,910.2l3.5,3.5-3.5,3.5-3.5-3.5z"/>
<path d="M916.6,909.9l3.5,3.5-3.5,3.5-3.5-3.5z"/>
<path d="M917.8,909.5l3.5,3.5-3.5,3.5-3.5-3.5z"/>
<path d="M919.1,909.9l3.5,3.5-3.5,3.5-3.5-3.5z"/>
<path d="M920.3,908.9l3.5,3.5-3.5,3.5-3.5-3.5z"/>
<path d="M921.6,906.2l3.5,3.5-3.5,3.5-3.5-3.5z"/>
<path d="M922.8,904.9l3.5,3.5-3.5,3.5-3.5-3.5z"/>
<path d="M924.0,913.2l3.5,3.5-3.5,3.5-3.5-3.5z"/>
<path d="M925.3,903.4l3.5,3.5-3.5,3.5-3.5-3.5z"/>
<path d="M926.5,905.5l3.5,3.5-3.5,3.5-3.5-3.5z"/>
<path d="M927.8,908.5l3.5,3.5-3.5,3.5-3.5-3.5z"/>
<path d="M929.0,907.3l3.5,3.5-3.5,3.5-3.5-3.5z"/>
<path d="M930.3,902.0l3.5,3.5-3.5,3.5-3.5-3.5z"/>
<path d="M931.5,908.5l3.5,3.5-3.5,3.5-3.5-3.5z"/>
<path d="M932.8,907.2l3.5,3.5-3.5,3.5-3.5-3.5z"/>
<path d="M934.0,901.3l3.5,3.5-3.5,3.5-3.5-3.5z"/>
<path d="M935.2,898.4l3.5,3.5-3.5,3.5-3.5-3.5z"/>
<path d="M936.5,902.3l3.5,3.5-3.5,3.5-3.5-3.5z"/>
<path d="M937.7,899.8l3.5,3.5-3.5,3.5-3.5-3.5z"/>
<path d="M939.0,898.9l3.5,3.5-3.5,3.5-3.5-3.5z"/>
<path d="M940.2,897.2l3.5,3.5-3.5,3.5-3.5-3.5z"/>
<path d="M941.5,897.1l3.5,3.5-3.5,3.5-3.5-3.5z"/>
<path d="M942.7,898.1l3.5,3.5-3.5,3.5-3.5-3.5z"/>
<path d="M944.0,899.1l3.5,3.5-3.5,3.5-3.5-3.5z"/>
<path d="M945.2,892.3l3.5,3.5-3.5,3.5-3.5-3.5z"/>
<path d="M946.4,891.1l3.5,3.5-3.5,3.5-3.5-3.5z"/>
<path d="M947.7,897.3l3.5,3.5-3.5,3.5-3.5-3.5z"/>
<path d="M948.9,893.1l3.5,3.5-3.5,3.5-3.5-3.5z"/>
<path d="M950.2,895.5l3.5,3.5-3.5,3.5-3.5-3.5z"/>
<path d="M951.4,893.8l3.5,3.5-3.5,3.5-3.5-3.5z"/>
<path d="M952.7,895.3l3.5,3.5-3.5,3.5-3.5-3.5z"/>
<path d="M953.9,894.1l3.5,3.5-3.5,3.5-3.5-3.5z"/>
<path d="M955.2,891.4l3.5,3.5-3.5,3.5-3.5-3.5z"/>
<path d="M956.4,891.0l3.5,3.5-3.5,3.5-3.5-3.5z"/>
<path d="M957.6,891.3l3.5,3.5-3.5,3.5-3.5-3.5z"/>
<path d="M958.9,891.4l3.5,3.5-3.5,3.5-3.5-3.5z"/>
<path d="M960.1,888.5l3.5,3.5-3.5,3.5-3.5-3.5z"/>
<path d="M961.4,886.5l3.5,3.5-3.5,3.5-3.5-3.5z"/>
<path d="M962.6,888.6l3.5,3.5-3.5,3.5-3.5-3.5z"/>
<path d="M1513.8,808.7l3.5,3.5-3.5,3.5-3.5-3.5z"/>
<path d="M1515.1,809.8l3.5,3.5-3.5,3.5-3.5-3.5z"/>
<path d="M1516.3,806.5l3.5,3.5-3.5,3.5-3.5-3.5z"/>
<path d="M1517.6,810.6l3.5,3.5-3.5,3.5-3.5-3.5z"/>
<path d="M1518.8,812.5l3.5,3.5-3.5,3.5-3.5-3.5z"/>
<path d="M1520.1,804.0l3.5,3.5-3.5,3.5-3.5-3.5z"/>
<path d="M1521.3,808.2l3.5,3.5-3.5,3.5-3.5-3.5z"/>
<path d="M1522.5,810.2l3.5,3.5-3.5,3.5-3.5-3.5z"/>
<path d="M1523.8,811.0l3.5,3.5-3.5,3.5-3.5-3.5z"/>
<path d="M1525.0,818.1l3.5,3.5-3.5,3.5-3.5-3.5z"/>
<path d="M1526.3,816.6l3.5,3.5-3.5,3.5-3.5-3.5z"/>
<path d="M1527.5,812.6l3.5,3.5-3.5,3.5-3.5-3.5z"/>
<path d="M1528.8,813.4l3.5,3.5-3.5,3.5-3.5-3.5z"/>
<path d="M1530.0,809.5l3.5,3.5-3.5,3.5-3.5-3.5z"/>
<path d="M1531.3,811.8l3.5,3.5-3.5,3.5-3.5-3.5z"/>
<path d="M1532.5,821.1l3.5,3.5-3.5,3.5-3.5-3.5z"/>
</g>
<path class="c" stroke="#4000b2" d="M226.0,1066.9 226.5,1068.1 227.0,1069.4 227.5,1070.9 228.0,1072.5 228.5,1074.3 229.0,1076.1 229.5,1078.1 230.0,1080.1 230.5,1082.2 231.0,1084.6 231.5,1087.3 232.0,1090.1 232.5,1092.9 233.0,1095.7 233.5,1098.4 234.0,1101.2 234.5,1104.0 235.0,1106.9 235.5,1109.6 236.0,1112.2 236.5,1114.5 237.0,1116.5 237.5,1118.4 238.0,1120.2 238.5,1121.9 239.0,1123.5 239.5,1125.0 240.0,1126.5 240.5,1128.0 241.0,1129.5 241.5,1130.9 242.0,1132.4 242.5,1133.9 243.0,1135.5 243.5,1137.0 244.0,1138.5 244.5,1139.8 245.0,1140.8 245.5,1141.7 246.0,1142.4 246.5,1143.1 247.0,1143.7 247.5,1144.1 248.0,1144.3 248.5,1144.2 249.0,1143.8 249.5,1143.2 250.0,1142.4 250.5,1141.4 251.0,1140.3 251.5,1139.0 252.0,1137.6 252.5,1135.4 253.0,1132.3 253.5,1128.7 254.0,1124.9 254.5,1121.3 255.0,1117.8 255.5,1114.2 256.0,1110.5 256.5,1106.9 257.0,1103.4 257.5,1099.8 258.0,1096.0 258.5,1092.3 259.0,1089.2 259.5,1087.1 260.0,1085.8 260.5,1084.7 261.0,1083.6 261.5,1082.7 262.0,1082.0 262.5,1081.5 263.0,1081.2 263.5,1081.1 264.0,1081.1 264.5,1081.2 265.0,1081.2 265.5,1081.3 266.0,1081.4 266.5,1081.5 267.0,1081.7 267.5,1081.9 268.0,1082.1 268.5,1082.3 269.0,1082.6 269.5,1082.8 270.0,1083.2 270.5,1083.9 271.0,1085.1 271.5,1086.6 272.0,1088.3 272.5,1090.1 273.0,1091.9 273.5,1094.0 274.0,1096.5 274.5,1099.3 275.0,1102.1 275.5,1104.6 276.0,1106.7 276.5,1108.1 277.0,1109.5 277.5,1110.7 278.0,1111.9 278.5,1112.9 279.0,1113.7 279.5,1114.4 280.0,1114.9 280.5,1115.2 281.0,1115.5 281.5,1115.7 282.0,1115.8 282.5,1116.0 283.0,1116.2 283.5,1116.6 284.0,1117.0 284.5,1118.0 285.0,1119.5 285.5,1121.1 286.0,1122.7 286.5,1124.2 287.0,1125.6 287.5,1127.1 288.0,1128.5 288.5,1129.6 289.0,1130.3 289.5,1130.9 290.0,1131.3 290.5,1131.8 291.0,1132.1 291.5,1132.5 292.0,1132.8 292.5,1133.1 293.0,1133.4 293.5,1133.6 294.0,1133.9 294.5,1134.1 295.0,1134.4 295.5,1134.6 296.0,1134.9 296.5,1135.2 297.0,1135.6 297.5,1135.9 298.0,1136.2 298.5,1136.5 299.0,1136.9 299.5,1137.2 300.0,1137.5 300.5,1137.8 301.0,1138.2 301.5,1138.5 302.0,1138.8 302.5,1139.2 303.0,1139.5 303.5,1139.9 304.0,1140.3 304.5,1140.6 305.0,1141.0 305.5,1141.4 306.0,1141.8 306.5,1142.2 307.0,1142.6 307.5,1143.0 308.0,1143.4 308.5,1143.9 309.0,1144.3 309.5,1144.7 310.0,1145.2 310.5,1145.6 311.0,1146.1 311.5,1146.5 312.0,1147.0 312.5,1147.5 313.0,1148.0 313.5,1148.6 314.0,1149.2 314.5,1149.8 315.0,1150.4 315.5,1151.0 316.0,1151.6 316.5,1152.1 317.0,1152.7 317.5,1153.2 318.0,1153.6 318.5,1154.0 319.0,1154.4 319.5,1154.7 320.0,1154.9 320.5,1155.1 321.0,1155.2 321.5,1155.4 322.0,1155.6 322.5,1155.7 323.0,1155.9 323.5,1156.0 324.0,1156.1 324.5,1156.3 325.0,1156.4 325.5,1156.5 326.0,1156.6 326.5,1156.7 327.0,1156.8 327.5,1156.9 328.0,1157.0 328.5,1157.1 329.0,1157.2 329.5,1157.3 330.0,1157.4 330.5,1157.5 331.0,1157.6 331.5,1157.7 332.0,1157.8 332.5,1157.9 333.0,1158.0 333.5,1158.1 334.0,1158.2 334.5,1158.4 335.0,1158.5 335.5,1158.7 336.0,1158.8 336.5,1159.0 337.0,1159.2 337.5,1159.3 338.0,1159.5 338.5,1159.7 339.0,1159.9 339.5,1160.1 340.0,1160.3 340.5,1160.5 341.0,1160.6 341.5,1160.8 342.0,1161.0 342.5,1161.2 343.0,1161.4 343.5,1161.6 344.0,1161.8 344.5,1162.0 345.0,1162.3 345.5,1162.5 346.0,1162.7 346.5,1162.9 347.0,1163.1 347.5,1163.3 348.0,1163.5 348.5,1163.7 349.0,1163.8 349.5,1164.0 350.0,1164.2 350.5,1164.4 351.0,1164.6 351.5,1164.8 352.0,1164.9 352.5,1165.1 353.0,1165.3 353.5,1165.5 354.0,1165.6 354.5,1165.8 355.0,1166.0 355.5,1166.2 356.0,1166.3 356.5,1166.5 357.0,1166.7 357.5,1166.9 358.0,1167.1 358.5,1167.3 359.0,1167.5 359.5,1167.7 360.0,1167.9 360.5,1168.1 361.0,1168.3 361.5,1168.6 362.0,1168.8 362.5,1169.1 363.0,1169.3 363.5,1169.6 364.0,1169.9 364.5,1170.1 365.0,1170.4 365.5,1170.7 366.0,1171.0 366.5,1171.2 367.0,1171.5 367.5,1171.8 368.0,1172.1 368.5,1172.4 369.0,1172.7 369.5,1173.0 370.0,1173.2 370.5,1173.5 371.0,1173.8 371.5,1174.1 372.0,1174.4 372.5,1174.6 373.0,1174.9 373.5,1175.2 374.0,1175.4 374.5,1175.7 375.0,1176.0 375.5,1176.2 376.0,1176.5 376.5,1176.8 377.0,1177.0 377.5,1177.3 378.0,1177.6 378.5,1177.8 379.0,1178.1 379.5,1178.4 380.0,1178.6 380.5,1178.9 381.0,1179.2 381.5,1179.4 382.0,1179.7 382.5,1179.9 383.0,1180.2 383.5,1180.4 384.0,1180.7 384.5,1180.9 385.0,1181.2 385.5,1181.4 386.0,1181.6 386.5,1181.9 387.0,1182.1 387.5,1182.3 388.0,1182.6 388.5,1182.8 389.0,1183.0 389.5,1183.2 390.0,1183.5 390.5,1183.7 391.0,1183.9 391.5,1184.1 392.0,1184.3 392.5,1184.6 393.0,1184.8 393.5,1185.0 394.0,1185.2 394.5,1185.4 395.0,1185.6 395.5,1185.8 396.0,1186.0 396.5,1186.3 397.0,1186.5 397.5,1186.7 398.0,1186.9 398.5,1187.1 399.0,1187.3 399.5,1187.5 400.0,1187.6 400.5,1187.8 401.0,1188.0 401.5,1188.2 402.0,1188.4 402.5,1188.6 403.0,1188.8 403.5,1189.0 404.0,1189.1 404.5,1189.3 405.0,1189.5 405.5,1189.7 406.0,1189.8 406.5,1190.0 407.0,1190.2 407.5,1190.4 408.0,1190.5 408.5,1190.7 409.0,1190.8 409.5,1191.0 410.0,1191.2 410.5,1191.3 411.0,1191.5 411.5,1191.6 412.0,1191.8 412.5,1191.9 413.0,1192.1 413.5,1192.2 414.0,1192.4 414.5,1192.5 415.0,1192.6 415.5,1192.8 416.0,1192.9 416.5,1193.1 417.0,1193.2 417.5,1193.3 418.0,1193.4 418.5,1193.6 419.0,1193.7 419.5,1193.8 420.0,1193.9 420.5,1194.0 421.0,1194.1 421.5,1194.2 422.0,1194.2 422.5,1194.3 423.0,1194.4 423.5,1194.5 424.0,1194.6 424.5,1194.7 425.0,1194.8 425.5,1194.9 426.0,1195.0 426.5,1195.1 427.0,1195.2 427.5,1195.3 428.0,1195.4 428.5,1195.4 429.0,1195.5 429.5,1195.6 430.0,1195.7 430.5,1195.7 431.0,1195.8 431.5,1195.9 432.0,1195.9 432.5,1196.0 433.0,1196.0 433.5,1196.0 434.0,1196.1 434.5,1196.1 435.0,1196.1 435.5,1196.1 436.0,1196.2 436.5,1196.2 437.0,1196.2 437.5,1196.2 438.0,1196.2 438.5,1196.2 439.0,1196.2 439.5,1196.1 440.0,1196.1 441.5,1196.1 443.0,1196.0 444.5,1195.9 446.0,1195.7 447.5,1195.6 449.0,1195.4 450.5,1195.1 452.0,1194.9 453.5,1194.6 455.0,1194.4 456.5,1194.0 458.0,1193.7 459.5,1193.4 461.0,1193.0 462.5,1192.6 464.0,1192.2 465.5,1191.8 467.0,1191.3 468.5,1190.8 470.0,1190.3 471.5,1189.8 473.0,1189.3 474.5,1188.8 476.0,1188.2 477.5,1187.6 479.0,1187.0 480.5,1186.4 482.0,1185.8 483.5,1185.2 485.0,1184.5 486.5,1183.8 488.0,1183.2 489.5,1182.5 491.0,1181.8 492.5,1181.0 494.0,1180.3 495.5,1179.6 497.0,1178.8 498.5,1178.0 500.0,1177.3 501.5,1176.5 503.0,1175.7 504.5,1174.9 506.0,1174.0 507.5,1173.2 509.0,1172.4 510.5,1171.5 512.0,1170.6 513.5,1169.8 515.0,1168.9 516.5,1168.0 518.0,1167.1 519.5,1166.2 521.0,1165.3 522.5,1164.3 524.0,1163.4 525.5,1162.5 527.0,1161.5 528.5,1160.6 530.0,1159.6 531.5,1158.6 533.0,1157.6 534.5,1156.6 536.0,1155.7 537.5,1154.7 539.0,1153.7 540.5,1152.6 542.0,1151.6 543.5,1150.6 545.0,1149.6 546.5,1148.5 548.0,1147.5 549.5,1146.5 551.0,1145.4 552.5,1144.4 554.0,1143.3 555.5,1142.3 557.0,1141.2 558.5,1140.1 560.0,1139.1 561.5,1138.0 563.0,1136.9 564.5,1135.9 566.0,1134.8 567.5,1133.7 569.0,1132.6 570.5,1131.6 572.0,1130.5 573.5,1129.4 575.0,1128.3 576.5,1127.2 578.0,1126.2 579.5,1125.1 581.0,1124.0 582.5,1122.9 584.0,1121.8 585.5,1120.7 587.0,1119.7 588.5,1118.6 590.0,1117.5 591.5,1116.4 593.0,1115.4 594.5,1114.3 596.0,1113.2 597.5,1112.1 599.0,1111.1 600.5,1110.0 602.0,1109.0 603.5,1107.9 605.0,1106.8 606.5,1105.8 608.0,1104.8 609.5,1103.7 611.0,1102.7 612.5,1101.6 614.0,1100.6 615.5,1099.6 617.0,1098.5 618.5,1097.5 620.0,1096.5 621.5,1095.5 623.0,1094.4 624.5,1093.4 626.0,1092.4 627.5,1091.4 629.0,1090.4 630.5,1089.4 632.0,1088.4 633.5,1087.4 635.0,1086.4 636.5,1085.4 638.0,1084.4 639.5,1083.5 641.0,1082.5 642.5,1081.5 644.0,1080.5 645.5,1079.5 647.0,1078.6 648.5,1077.6 650.0,1076.7 651.5,1075.7 653.0,1074.7 654.5,1073.8 656.0,1072.8 657.5,1071.9 659.0,1070.9 660.5,1070.0 662.0,1069.1 663.5,1068.1 665.0,1067.2 666.5,1066.3 668.0,1065.3 669.5,1064.4 671.0,1063.5 672.5,1062.6 674.0,1061.7 675.5,1060.8 677.0,1059.9 678.5,1059.0 680.0,1058.1 681.5,1057.2 683.0,1056.3 684.5,1055.4 686.0,1054.5 687.5,1053.6 689.0,1052.7 690.5,1051.8 692.0,1051.0 693.5,1050.1 695.0,1049.2 696.5,1048.4 698.0,1047.5 699.5,1046.7 701.0,1045.8 702.5,1044.9 704.0,1044.1 705.5,1043.3 707.0,1042.4 708.5,1041.6 710.0,1040.7 711.5,1039.9 713.0,1039.0 714.5,1038.2 716.0,1037.4 717.5,1036.5 719.0,1035.7 720.5,1034.9 722.0,1034.1 723.5,1033.2 725.0,1032.4 726.5,1031.6 728.0,1030.7 729.5,1029.9 731.0,1029.1 732.5,1028.3 734.0,1027.4 735.5,1026.6 737.0,1025.8 738.5,1025.0 740.0,1024.1 741.5,1023.3 743.0,1022.5 744.5,1021.6 746.0,1020.8 747.5,1020.0 749.0,1019.1 750.5,1018.3 752.0,1017.4 753.5,1016.6 755.0,1015.7 756.5,1014.9 758.0,1014.0 759.5,1013.2 761.0,1012.3 762.5,1011.5 764.0,1010.6 765.5,1009.7 767.0,1008.8 768.5,1008.0 770.0,1007.1 771.5,1006.2 773.0,1005.3 774.5,1004.4 776.0,1003.5 777.5,1002.6 779.0,1001.7 780.5,1000.8 782.0,999.9 783.5,999.0 785.0,998.1 786.5,997.1 788.0,996.2 789.5,995.3 791.0,994.3 792.5,993.4 794.0,992.5 795.5,991.5 797.0,990.6 798.5,989.6 800.0,988.7 801.5,987.7 803.0,986.8 804.5,985.8 806.0,984.9 807.5,983.9 809.0,982.9 810.5,982.0 812.0,981.0 813.5,980.0 815.0,979.1 816.5,978.1 818.0,977.1 819.5,976.1 821.0,975.2 822.5,974.2 824.0,973.2 825.5,972.2 827.0,971.3 828.5,970.3 830.0,969.3 831.5,968.3 833.0,967.3 834.5,966.4 836.0,965.4 837.5,964.4 839.0,963.4 840.5,962.4 842.0,961.5 843.5,960.5 845.0,959.5 846.5,958.5 848.0,957.5 849.5,956.6 851.0,955.6 852.5,954.6 854.0,953.6 855.5,952.7 857.0,951.7 858.5,950.7 860.0,949.8 861.5,948.8 863.0,947.8 864.5,946.9 866.0,945.9 867.5,945.0 869.0,944.0 870.5,943.1 872.0,942.1 873.5,941.2 875.0,940.2 876.5,939.3 878.0,938.4 879.5,937.4 881.0,936.5 882.5,935.6 884.0,934.6 885.5,933.7 887.0,932.8 888.5,931.9 890.0,931.0 891.5,930.1 893.0,929.2 894.5,928.3 896.0,927.4 897.5,926.5 899.0,925.6 900.5,924.7 902.0,923.9 903.5,923.0 905.0,922.1 906.5,921.3 908.0,920.4 909.5,919.6 911.0,918.7 912.5,917.9 914.0,917.1 915.5,916.2 917.0,915.4 918.5,914.6 920.0,913.8 921.5,913.0 923.0,912.2 924.5,911.4 926.0,910.6 927.5,909.8 929.0,909.1 930.5,908.3 932.0,907.5 933.5,906.8 935.0,906.0 936.5,905.3 938.0,904.5 939.5,903.8 941.0,903.1 942.5,902.3 944.0,901.6 945.5,900.9 947.0,900.2 948.5,899.5 950.0,898.7 951.5,898.0 953.0,897.3 954.5,896.6 956.0,895.9 957.5,895.2 959.0,894.5 960.5,893.9 962.0,893.2 963.5,892.5 965.0,891.8 966.5,891.1 968.0,890.4 969.5,889.8 971.0,889.1 972.5,888.4 974.0,887.7 975.5,887.1 977.0,886.4 978.5,885.7 980.0,885.0 981.5,884.4 983.0,883.7 984.5,883.0 986.0,882.4 987.5,881.7 989.0,881.0 990.5,880.3 992.0,879.7 993.5,879.0 995.0,878.3 996.5,877.6 998.0,876.9 999.5,876.3 1001.0,875.6 1002.5,874.9 1004.0,874.2 1005.5,873.5 1007.0,872.8 1008.5,872.1 1010.0,871.4 1011.5,870.7 1013.0,870.0 1014.5,869.3 1016.0,868.6 1017.5,867.9 1019.0,867.2 1020.5,866.5 1022.0,865.7 1023.5,865.0 1025.0,864.3 1026.5,863.5 1028.0,862.8 1029.5,862.1 1031.0,861.3 1032.5,860.6 1034.0,859.8 1035.5,859.1 1037.0,858.3 1038.5,857.6 1040.0,856.8 1041.5,856.0 1043.0,855.3 1044.5,854.5 1046.0,853.8 1047.5,853.0 1049.0,852.2 1050.5,851.5 1052.0,850.7 1053.5,850.0 1055.0,849.2 1056.5,848.4 1058.0,847.7 1059.5,846.9 1061.0,846.2 1062.5,845.4 1064.0,844.7 1065.5,843.9 1067.0,843.2 1068.5,842.4 1070.0,841.7 1071.5,840.9 1073.0,840.2 1074.5,839.5 1076.0,838.7 1077.5,838.0 1079.0,837.3 1080.5,836.6 1082.0,835.8 1083.5,835.1 1085.0,834.4 1086.5,833.7 1088.0,833.0 1089.5,832.3 1091.0,831.6 1092.5,831.0 1094.0,830.3 1095.5,829.6 1097.0,829.0 1098.5,828.3 1100.0,827.6 1101.5,827.0 1103.0,826.4 1104.5,825.7 1106.0,825.1 1107.5,824.5 1109.0,823.9 1110.5,823.3 1112.0,822.7 1113.5,822.1 1115.0,821.5 1116.5,820.9 1118.0,820.3 1119.5,819.7 1121.0,819.1 1122.5,818.6 1124.0,818.0 1125.5,817.5 1127.0,816.9 1128.5,816.4 1130.0,815.8 1131.5,815.3 1133.0,814.7 1134.5,814.2 1136.0,813.7 1137.5,813.2 1139.0,812.7 1140.5,812.1 1142.0,811.6 1143.5,811.1 1145.0,810.6 1146.5,810.1 1148.0,809.6 1149.5,809.2 1151.0,808.7 1152.5,808.2 1154.0,807.7 1155.5,807.2 1157.0,806.8 1158.5,806.3 1160.0,805.8 1161.5,805.4 1163.0,804.9 1164.5,804.5 1166.0,804.0 1167.5,803.6 1169.0,803.1 1170.5,802.7 1172.0,802.2 1173.5,801.8 1175.0,801.3 1176.5,800.9 1178.0,800.5 1179.5,800.0 1181.0,799.6 1182.5,799.2 1184.0,798.8 1185.5,798.3 1187.0,797.9 1188.5,797.5 1190.0,797.1 1191.5,796.7 1193.0,796.3 1194.5,795.8 1196.0,795.4 1197.5,795.0 1199.0,794.6 1200.5,794.2 1202.0,793.8 1203.5,793.4 1205.0,793.0 1206.5,792.6 1208.0,792.2 1209.5,791.8 1211.0,791.4 1212.5,791.0 1214.0,790.7 1215.5,790.3 1217.0,789.9 1218.5,789.6 1220.0,789.2 1221.5,788.9 1223.0,788.6 1224.5,788.2 1226.0,787.9 1227.5,787.6 1229.0,787.3 1230.5,787.0 1232.0,786.8 1233.5,786.5 1235.0,786.3 1236.5,786.0 1238.0,785.8 1239.5,785.6 1241.0,785.4 1242.5,785.2 1244.0,785.1 1245.5,784.9 1247.0,784.8 1248.5,784.7 1250.0,784.6 1251.5,784.5 1253.0,784.4 1254.5,784.4 1256.0,784.3 1257.5,784.3 1259.0,784.2 1260.5,784.2 1262.0,784.2 1263.5,784.2 1265.0,784.1 1266.5,784.1 1268.0,784.1 1269.5,784.1 1271.0,784.1 1272.5,784.0 1274.0,784.0 1275.5,784.0 1277.0,783.9 1278.5,783.9 1280.0,783.9 1281.5,783.8 1283.0,783.8 1284.5,783.7 1286.0,783.6 1287.5,783.5 1289.0,783.5 1290.5,783.4 1292.0,783.2 1293.5,783.1 1295.0,783.0 1296.5,782.8 1298.0,782.7 1299.5,782.5 1301.0,782.3 1302.5,782.2 1304.0,782.0 1305.5,781.8 1307.0,781.5 1308.5,781.3 1310.0,781.1 1311.5,780.9 1313.0,780.6 1314.5,780.4 1316.0,780.1 1317.5,779.9 1319.0,779.7 1320.5,779.4 1322.0,779.2 1323.5,778.9 1325.0,778.7 1326.5,778.4 1328.0,778.2 1329.5,778.0 1331.0,777.7 1332.5,777.5 1334.0,777.3 1335.5,777.1 1337.0,776.9 1338.5,776.7 1340.0,776.5 1341.5,776.4 1343.0,776.2 1344.5,776.0 1346.0,775.9 1347.5,775.8 1349.0,775.7 1350.5,775.6 1352.0,775.5 1353.5,775.5 1355.0,775.4 1356.5,775.4 1358.0,775.4 1359.5,775.4 1361.0,775.4 1362.5,775.4 1364.0,775.4 1365.5,775.4 1367.0,775.5 1368.5,775.6 1370.0,775.6 1371.5,775.7 1373.0,775.8 1374.5,775.9 1376.0,776.0 1377.5,776.1 1379.0,776.3 1380.5,776.4 1382.0,776.6 1383.5,776.7 1385.0,776.9 1386.5,777.1 1388.0,777.2 1389.5,777.4 1391.0,777.6 1392.5,777.8 1394.0,778.0 1395.5,778.2 1397.0,778.4 1398.5,778.7 1400.0,778.9 1401.5,779.1 1403.0,779.3 1404.5,779.6 1406.0,779.8 1407.5,780.1 1409.0,780.3 1410.5,780.6 1412.0,780.8 1413.5,781.1 1415.0,781.4 1416.5,781.6 1418.0,781.9 1419.5,782.2 1421.0,782.5 1422.5,782.7 1424.0,783.0 1425.5,783.3 1427.0,783.6 1428.5,783.9 1430.0,784.2 1431.5,784.5 1433.0,784.8 1434.5,785.1 1436.0,785.4 1437.5,785.8 1439.0,786.1 1440.5,786.4 1442.0,786.8 1443.5,787.1 1445.0,787.4 1446.5,787.8 1448.0,788.1 1449.5,788.5 1451.0,788.9 1452.5,789.2 1454.0,789.6 1455.5,790.0 1457.0,790.4 1458.5,790.8 1460.0,791.2 1461.5,791.6 1463.0,792.0 1464.5,792.4 1466.0,792.8 1467.5,793.2 1469.0,793.7 1470.5,794.1 1472.0,794.6 1473.5,795.0 1475.0,795.5 1476.5,796.0 1478.0,796.5 1479.5,797.0 1481.0,797.5 1482.5,798.0 1484.0,798.5 1485.5,799.0 1487.0,799.5 1488.5,800.1 1490.0,800.6 1491.5,801.2 1493.0,801.8 1494.5,802.3 1496.0,802.9 1497.5,803.5 1499.0,804.1 1500.5,804.7 1502.0,805.4 1503.5,806.0 1505.0,806.7 1506.5,807.3 1508.0,808.0 1509.5,808.7 1511.0,809.3 1512.5,810.0 1514.0,810.8 1515.5,811.5 1517.0,812.2 1518.5,813.0 1520.0,813.7 1521.5,814.5 1523.0,815.3 1524.5,816.1 1526.0,816.9 1527.5,817.7 1529.0,818.5 1530.5,819.4 1532.0,820.2 1533.0,820.8"/>
<g fill="#800077" fill-opacity="0.4">
<path fill-opacity="0.55" d="M350.4,1141.6l3.5,3.5-3.5,3.5-3.5-3.5zM351.7,1137.2l3.5,3.5-3.5,3.5-3.5-3.5zM352.9,1139.5l3.5,3.5-3.5,3.5-3.5-3.5zM354.2,1139.1l3.5,3.5-3.5,3.5-3.5-3.5zM355.4,1142.2l3.5,3.5-3.5,3.5-3.5-3.5zM356.6,1139.5l3.5,3.5-3.5,3.5-3.5-3.5zM357.9,1142.9l3.5,3.5-3.5,3.5-3.5-3.5zM359.1,1143.2l3.5,3.5-3.5,3.5-3.5-3.5zM360.4,1144.7l3.5,3.5-3.5,3.5-3.5-3.5zM361.6,1140.7l3.5,3.5-3.5,3.5-3.5-3.5zM362.9,1142.8l3.5,3.5-3.5,3.5-3.5-3.5zM364.1,1144.0l3.5,3.5-3.5,3.5-3.5-3.5zM365.4,1146.1l3.5,3.5-3.5,3.5-3.5-3.5zM366.6,1145.1l3.5,3.5-3.5,3.5-3.5-3.5zM367.8,1146.4l3.5,3.5-3.5,3.5-3.5-3.5zM369.1,1146.4l3.5,3.5-3.5,3.5-3.5-3.5zM370.3,1144.8l3.5,3.5-3.5,3.5-3.5-3.5zM371.6,1146.2l3.5,3.5-3.5,3.5-3.5-3.5zM372.8,1146.2l3.5,3.5-3.5,3.5-3.5-3.5zM374.1,1146.7l3.5,3.5-3.5,3.5-3.5-3.5zM375.3,1146.2l3.5,3.5-3.5,3.5-3.5-3.5zM376.6,1148.9l3.5,3.5-3.5,3.5-3.5-3.5zM377.8,1148.6l3.5,3.5-3.5,3.5-3.5-3.5zM379.0,1146.0l3.5,3.5-3.5,3.5-3.5-3.5zM380.3,1149.9l3.5,3.5-3.5,3.5-3.5-3.5zM381.5,1148.5l3.5,3.5-3.5,3.5-3.5-3.5zM382.8,1147.6l3.5,3.5-3.5,3.5-3.5-3.5zM384.0,1151.5l3.5,3.5-3.5,3.5-3.5-3.5zM385.3,1150.1l3.5,3.5-3.5,3.5-3.5-3.5zM386.5,1150.9l3.5,3.5-3.5,3.5-3.5-3.5zM387.8,1150.4l3.5,3.5-3.5,3.5-3.5-3.5zM389.0,1150.8l3.5,3.5-3.5,3.5-3.5-3.5zM390.2,1148.7l3.5,3.5-3.5,3.5-3.5-3.5zM391.5,1152.2l3.5,3.5-3.5,3.5-3.5-3.5zM392.7,1150.5l3.5,3.5-3.5,3.5-3.5-3.5zM394.0,1151.6l3.5,3.5-3.5,3.5-3.5-3.5zM395.2,1151.6l3.5,3.5-3.5,3.5-3.5-3.5zM396.5,1150.7l3.5,3.5-3.5,3.5-3.5-3.5zM397.7,1150.5l3.5,3.5-3.5,3.5-3.5-3.5zM399.0,1152.0l3.5,3.5-3.5,3.5-3.5-3.5zM400.2,1153.9l3.5,3.5-3.5,3.5-3.5-3.5zM401.4,1151.7l3.5,3.5-3.5,3.5-3.5-3.5zM402.7,1151.9l3.5,3.5-3.5,3.5-3.5-3.5zM403.9,1152.9l3.5,3.5-3.5,3.5-3.5-3.5zM405.2,1152.2l3.5,3.5-3.5,3.5-3.5-3.5zM406.4,1154.7l3.5,3.5-3.5,3.5-3.5-3.5zM407.7,1153.7l3.5,3.5-3.5,3.5-3.5-3.5zM408.9,1156.3l3.5,3.5-3.5,3.5-3.5-3.5zM410.2,1153.6l3.5,3.5-3.5,3.5-3.5-3.5zM411.4,1156.0l3.5,3.5-3.5,3.5-3.5-3.5zM412.6,1152.6l3.5,3.5-3.5,3.5-3.5-3.5zM413.9,1153.5l3.5,3.5-3.5,3.5-3.5-3.5zM415.1,1151.8l3.5,3.5-3.5,3.5-3.5-3.5zM416.4,1152.5l3.5,3.5-3.5,3.5-3.5-3.5zM417.6,1152.4l3.5,3.5-3.5,3.5-3.5-3.5zM418.9,1153.4l3.5,3.5-3.5,3.5-3.5-3.5zM420.1,1154.1l3.5,3.5-3.5,3.5-3.5-3.5zM421.4,1152.0l3.5,3.5-3.5,3.5-3.5-3.5zM422.6,1150.5l3.5,3.5-3.5,3.5-3.5-3.5zM423.8,1151.9l3.5,3.5-3.5,3.5-3.5-3.5zM425.1,1151.5l3.5,3.5-3.5,3.5-3.5-3.5zM426.3,1150.9l3.5,3.5-3.5,3.5-3.5-3.5zM427.6,1152.1l3.5,3.5-3.5,3.5-3.5-3.5zM428.8,1152.1l3.5,3.5-3.5,3.5-3.5-3.5zM430.1,1149.8l3.5,3.5-3.5,3.5-3.5-3.5zM431.3,1149.4l3.5,3.5-3.5,3.5-3.5-3.5zM432.6,1147.0l3.5,3.5-3.5,3.5-3.5-3.5zM433.8,1148.9l3.5,3.5-3.5,3.5-3.5-3.5zM435.0,1150.2l3.5,3.5-3.5,3.5-3.5-3.5zM436.3,1147.9l3.5,3.5-3.5,3.5-3.5-3.5zM437.5,1149.4l3.5,3.5-3.5,3.5-3.5-3.5zM438.8,1148.8l3.5,3.5-3.5,3.5-3.5-3.5zM440.0,1148.3l3.5,3.5-3.5,3.5-3.5-3.5zM441.3,1148.0l3.5,3.5-3.5,3.5-3.5-3.5zM442.5,1147.0l3.5,3.5-3.5,3.5-3.5-3.5zM443.8,1147.6l3.5,3.5-3.5,3.5-3.5-3.5zM445.0,1147.2l3.5,3.5-3.5,3.5-3.5-3.5zM446.2,1146.1l3.5,3.5-3.5,3.5-3.5-3.5zM447.5,1145.4l3.5,3.5-3.5,3.5-3.5-3.5zM448.7,1146.1l3.5,3.5-3.5,3.5-3.5-3.5zM450.0,1145.9l3.5,3.5-3.5,3.5-3.5-3.5zM451.2,1143.5l3.5,3.5-3.5,3.5-3.5-3.5zM452.5,1144.3l3.5,3.5-3.5,3.5-3.5-3.5zM453.7,1143.2l3.5,3.5-3.5,3.5-3.5-3.5zM454.9,1144.7l3.5,3.5-3.5,3.5-3.5-3.5zM456.2,1141.8l3.5,3.5-3.5,3.5-3.5-3.5zM457.4,1141.0l3.5,3.5-3.5,3.5-3.5-3.5zM458.7,1140.3l3.5,3.5-3.5,3.5-3.5-3.5zM459.9,1141.4l3.5,3.5-3.5,3.5-3.5-3.5zM461.2,1139.1l3.5,3.5-3.5,3.5-3.5-3.5zM462.4,1140.0l3.5,3.5-3.5,3.5-3.5-3.5zM463.7,1138.4l3.5,3.5-3.5,3.5-3.5-3.5zM464.9,1139.5l3.5,3.5-3.5,3.5-3.5-3.5zM466.1,1139.2l3.5,3.5-3.5,3.5-3.5-3.5zM467.4,1138.2l3.5,3.5-3.5,3.5-3.5-3.5zM468.6,1134.8l3.5,3.5-3.5,3.5-3.5-3.5zM469.9,1134.7l3.5,3.5-3.5,3.5-3.5-3.5zM471.1,1132.9l3.5,3.5-3.5,3.5-3.5-3.5zM472.4,1137.1l3.5,3.5-3.5,3.5-3.5-3.5zM473.6,1133.5l3.5,3.5-3.5,3.5-3.5-3.5zM474.9,1133.0l3.5,3.5-3.5,3.5-3.5-3.5zM476.1,1132.8l3.5,3.5-3.5,3.5-3.5-3.5zM477.3,1132.6l3.5,3.5-3.5,3.5-3.5-3.5zM478.6,1131.0l3.5,3.5-3.5,3.5-3.5-3.5zM479.8,1130.7l3.5,3.5-3.5,3.5-3.5-3.5zM481.1,1129.9l3.5,3.5-3.5,3.5-3.5-3.5zM482.3,1128.0l3.5,3.5-3.5,3.5-3.5-3.5zM483.6,1130.1l3.5,3.5-3.5,3.5-3.5-3.5zM484.8,1129.2l3.5,3.5-3.5,3.5-3.5-3.5zM486.1,1126.9l3.5,3.5-3.5,3.5-3.5-3.5zM487.3,1126.0l3.5,3.5-3.5,3.5-3.5-3.5zM488.5,1127.0l3.5,3.5-3.5,3.5-3.5-3.5zM489.8,1126.7l3.5,3.5-3.5,3.5-3.5-3.5zM491.0,1123.7l3.5,3.5-3.5,3.5-3.5-3.5zM492.3,1123.4l3.5,3.5-3.5,3.5-3.5-3.5zM493.5,1121.6l3.5,3.5-3.5,3.5-3.5-3.5zM494.8,1121.4l3.5,3.5-3.5,3.5-3.5-3.5zM496.0,1117.9l3.5,3.5-3.5,3.5-3.5-3.5zM497.3,1117.3l3.5,3.5-3.5,3.5-3.5-3.5zM498.5,1118.8l3.5,3.5-3.5,3.5-3.5-3.5zM499.7,1117.3l3.5,3.5-3.5,3.5-3.5-3.5zM501.0,1116.9l3.5,3.5-3.5,3.5-3.5-3.5zM502.2,1115.6l3.5,3.5-3.5,3.5-3.5-3.5zM503.5,1115.1l3.5,3.5-3.5,3.5-3.5-3.5zM504.7,1113.8l3.5,3.5-3.5,3.5-3.5-3.5zM506.0,1112.4l3.5,3.5-3.5,3.5-3.5-3.5zM507.2,1111.9l3.5,3.5-3.5,3.5-3.5-3.5zM508.5,1109.9l3.5,3.5-3.5,3.5-3.5-3.5zM509.7,1110.7l3.5,3.5-3.5,3.5-3.5-3.5zM510.9,1107.5l3.5,3.5-3.5,3.5-3.5-3.5zM512.2,1106.9l3.5,3.5-3.5,3.5-3.5-3.5zM513.4,1107.0l3.5,3.5-3.5,3.5-3.5-3.5zM514.7,1104.7l3.5,3.5-3.5,3.5-3.5-3.5zM515.9,1104.8l3.5,3.5-3.5,3.5-3.5-3.5zM517.2,1104.1l3.5,3.5-3.5,3.5-3.5-3.5zM518.4,1102.3l3.5,3.5-3.5,3.5-3.5-3.5zM519.7,1100.0l3.5,3.5-3.5,3.5-3.5-3.5zM520.9,1101.0l3.5,3.5-3.5,3.5-3.5-3.5zM522.1,1098.5l3.5,3.5-3.5,3.5-3.5-3.5zM523.4,1096.0l3.5,3.5-3.5,3.5-3.5-3.5zM524.6,1097.4l3.5,3.5-3.5,3.5-3.5-3.5zM525.9,1094.5l3.5,3.5-3.5,3.5-3.5-3.5zM527.1,1093.7l3.5,3.5-3.5,3.5-3.5-3.5zM528.4,1092.7l3.5,3.5-3.5,3.5-3.5-3.5zM529.6,1090.1l3.5,3.5-3.5,3.5-3.5-3.5zM530.9,1090.1l3.5,3.5-3.5,3.5-3.5-3.5zM532.1,1086.9l3.5,3.5-3.5,3.5-3.5-3.5zM533.3,1085.8l3.5,3.5-3.5,3.5-3.5-3.5zM534.6,1085.0l3.5,3.5-3.5,3.5-3.5-3.5zM535.8,1086.0l3.5,3.5-3.5,3.5-3.5-3.5zM537.1,1083.2l3.5,3.5-3.5,3.5-3.5-3.5zM538.3,1082.4l3.5,3.5-3.5,3.5-3.5-3.5zM539.6,1079.5l3.5,3.5-3.5,3.5-3.5-3.5zM540.8,1079.0l3.5,3.5-3.5,3.5-3.5-3.5zM542.0,1075.2l3.5,3.5-3.5,3.5-3.5-3.5zM543.3,1075.5l3.5,3.5-3.5,3.5-3.5-3.5zM544.5,1074.7l3.5,3.5-3.5,3.5-3.5-3.5zM545.8,1072.4l3.5,3.5-3.5,3.5-3.5-3.5zM547.0,1069.6l3.5,3.5-3.5,3.5-3.5-3.5zM548.3,1068.5l3.5,3.5-3.5,3.5-3.5-3.5zM549.5,1069.1l3.5,3.5-3.5,3.5-3.5-3.5zM550.8,1068.2l3.5,3.5-3.5,3.5-3.5-3.5zM552.0,1065.2l3.5,3.5-3.5,3.5-3.5-3.5zM553.2,1065.5l3.5,3.5-3.5,3.5-3.5-3.5zM554.5,1061.3l3.5,3.5-3.5,3.5-3.5-3.5zM555.7,1061.6l3.5,3.5-3.5,3.5-3.5-3.5zM557.0,1059.7l3.5,3.5-3.5,3.5-3.5-3.5zM558.2,1058.9l3.5,3.5-3.5,3.5-3.5-3.5zM559.5,1055.0l3.5,3.5-3.5,3.5-3.5-3.5zM560.7,1055.7l3.5,3.5-3.5,3.5-3.5-3.5zM562.0,1053.4l3.5,3.5-3.5,3.5-3.5-3.5zM563.2,1050.9l3.5,3.5-3.5,3.5-3.5-3.5zM564.4,1049.7l3.5,3.5-3.5,3.5-3.5-3.5zM565.7,1048.3l3.5,3.5-3.5,3.5-3.5-3.5zM566.9,1047.2l3.5,3.5-3.5,3.5-3.5-3.5zM568.2,1044.5l3.5,3.5-3.5,3.5-3.5-3.5zM569.4,1042.9l3.5,3.5-3.5,3.5-3.5-3.5zM570.7,1042.2l3.5,3.5-3.5,3.5-3.5-3.5zM571.9,1040.4l3.5,3.5-3.5,3.5-3.5-3.5zM573.2,1039.3l3.5,3.5-3.5,3.5-3.5-3.5zM574.4,1038.0l3.5,3.5-3.5,3.5-3.5-3.5zM575.6,1033.9l3.5,3.5-3.5,3.5-3.5-3.5zM576.9,1033.8l3.5,3.5-3.5,3.5-3.5-3.5zM578.1,1032.5l3.5,3.5-3.5,3.5-3.5-3.5zM579.4,1030.7l3.5,3.5-3.5,3.5-3.5-3.5zM580.6,1028.0l3.5,3.5-3.5,3.5-3.5-3.5zM581.9,1028.0l3.5,3.5-3.5,3.5-3.5-3.5zM583.1,1027.2l3.5,3.5-3.5,3.5-3.5-3.5zM584.4,1023.8l3.5,3.5-3.5,3.5-3.5-3.5zM585.6,1021.6l3.5,3.5-3.5,3.5-3.5-3.5zM586.8,1021.3l3.5,3.5-3.5,3.5-3.5-3.5zM588.1,1019.0l3.5,3.5-3.5,3.5-3.5-3.5zM589.3,1017.4l3.5,3.5-3.5,3.5-3.5-3.5zM590.6,1015.8l3.5,3.5-3.5,3.5-3.5-3.5zM591.8,1013.5l3.5,3.5-3.5,3.5-3.5-3.5zM593.1,1012.3l3.5,3.5-3.5,3.5-3.5-3.5zM594.3,1009.9l3.5,3.5-3.5,3.5-3.5-3.5zM595.6,1007.1l3.5,3.5-3.5,3.5-3.5-3.5zM596.8,1008.2l3.5,3.5-3.5,3.5-3.5-3.5zM598.0,1005.8l3.5,3.5-3.5,3.5-3.5-3.5zM599.3,1003.8l3.5,3.5-3.5,3.5-3.5-3.5zM600.5,1003.4l3.5,3.5-3.5,3.5-3.5-3.5zM601.8,1000.4l3.5,3.5-3.5,3.5-3.5-3.5zM603.0,999.9l3.5,3.5-3.5,3.5-3.5-3.5zM604.3,997.9l3.5,3.5-3.5,3.5-3.5-3.5zM605.5,995.3l3.5,3.5-3.5,3.5-3.5-3.5zM606.8,992.7l3.5,3.5-3.5,3.5-3.5-3.5zM608.0,992.6l3.5,3.5-3.5,3.5-3.5-3.5zM609.2,990.7l3.5,3.5-3.5,3.5-3.5-3.5zM610.5,989.8l3.5,3.5-3.5,3.5-3.5-3.5zM611.7,985.8l3.5,3.5-3.5,3.5-3.5-3.5zM613.0,985.4l3.5,3.5-3.5,3.5-3.5-3.5zM614.2,984.1l3.5,3.5-3.5,3.5-3.5-3.5zM615.5,982.5l3.5,3.5-3.5,3.5-3.5-3.5zM616.7,980.7l3.5,3.5-3.5,3.5-3.5-3.5zM618.0,979.2l3.5,3.5-3.5,3.5-3.5-3.5zM619.2,975.2l3.5,3.5-3.5,3.5-3.5-3.5zM620.4,975.4l3.5,3.5-3.5,3.5-3.5-3.5zM621.7,973.4l3.5,3.5-3.5,3.5-3.5-3.5zM622.9,971.0l3.5,3.5-3.5,3.5-3.5-3.5zM624.2,970.9l3.5,3.5-3.5,3.5-3.5-3.5zM625.4,968.8l3.5,3.5-3.5,3.5-3.5-3.5zM626.7,966.4l3.5,3.5-3.5,3.5-3.5-3.5zM627.9,964.6l3.5,3.5-3.5,3.5-3.5-3.5zM629.1,964.6l3.5,3.5-3.5,3.5-3.5-3.5zM630.4,960.3l3.5,3.5-3.5,3.5-3.5-3.5zM631.6,961.0l3.5,3.5-3.5,3.5-3.5-3.5zM632.9,958.4l3.5,3.5-3.5,3.5-3.5-3.5zM634.1,958.0l3.5,3.5-3.5,3.5-3.5-3.5zM635.4,958.0l3.5,3.5-3.5,3.5-3.5-3.5zM636.6,955.6l3.5,3.5-3.5,3.5-3.5-3.5zM637.9,953.0l3.5,3.5-3.5,3.5-3.5-3.5zM639.1,952.9l3.5,3.5-3.5,3.5-3.5-3.5zM640.3,951.6l3.5,3.5-3.5,3.5-3.5-3.5zM641.6,949.2l3.5,3.5-3.5,3.5-3.5-3.5zM642.8,948.5l3.5,3.5-3.5,3.5-3.5-3.5zM644.1,945.4l3.5,3.5-3.5,3.5-3.5-3.5zM645.3,944.2l3.5,3.5-3.5,3.5-3.5-3.5zM646.6,942.0l3.5,3.5-3.5,3.5-3.5-3.5zM647.8,940.2l3.5,3.5-3.5,3.5-3.5-3.5zM649.1,939.0l3.5,3.5-3.5,3.5-3.5-3.5zM650.3,936.8l3.5,3.5-3.5,3.5-3.5-3.5zM651.5,935.9l3.5,3.5-3.5,3.5-3.5-3.5zM652.8,936.4l3.5,3.5-3.5,3.5-3.5-3.5zM654.0,933.5l3.5,3.5-3.5,3.5-3.5-3.5zM655.3,931.2l3.5,3.5-3.5,3.5-3.5-3.5zM656.5,931.4l3.5,3.5-3.5,3.5-3.5-3.5zM657.8,929.6l3.5,3.5-3.5,3.5-3.5-3.5zM659.0,925.8l3.5,3.5-3.5,3.5-3.5-3.5zM660.3,924.6l3.5,3.5-3.5,3.5-3.5-3.5zM661.5,925.3l3.5,3.5-3.5,3.5-3.5-3.5zM662.7,922.3l3.5,3.5-3.5,3.5-3.5-3.5zM664.0,920.9l3.5,3.5-3.5,3.5-3.5-3.5zM665.2,918.8l3.5,3.5-3.5,3.5-3.5-3.5zM666.5,916.7l3.5,3.5-3.5,3.5-3.5-3.5zM667.7,917.3l3.5,3.5-3.5,3.5-3.5-3.5zM669.0,914.0l3.5,3.5-3.5,3.5-3.5-3.5zM670.2,913.7l3.5,3.5-3.5,3.5-3.5-3.5zM671.5,913.4l3.5,3.5-3.5,3.5-3.5-3.5zM672.7,910.7l3.5,3.5-3.5,3.5-3.5-3.5zM673.9,908.5l3.5,3.5-3.5,3.5-3.5-3.5zM675.2,907.7l3.5,3.5-3.5,3.5-3.5-3.5zM676.4,906.2l3.5,3.5-3.5,3.5-3.5-3.5zM677.7,903.7l3.5,3.5-3.5,3.5-3.5-3.5zM678.9,902.9l3.5,3.5-3.5,3.5-3.5-3.5zM680.2,900.0l3.5,3.5-3.5,3.5-3.5-3.5zM681.4,898.0l3.5,3.5-3.5,3.5-3.5-3.5zM682.7,897.6l3.5,3.5-3.5,3.5-3.5-3.5zM683.9,894.9l3.5,3.5-3.5,3.5-3.5-3.5zM685.1,894.4l3.5,3.5-3.5,3.5-3.5-3.5zM686.4,893.4l3.5,3.5-3.5,3.5-3.5-3.5zM687.6,892.1l3.5,3.5-3.5,3.5-3.5-3.5zM688.9,892.1l3.5,3.5-3.5,3.5-3.5-3.5zM690.1,888.0l3.5,3.5-3.5,3.5-3.5-3.5zM691.4,886.9l3.5,3.5-3.5,3.5-3.5-3.5zM692.6,885.4l3.5,3.5-3.5,3.5-3.5-3.5zM693.9,883.3l3.5,3.5-3.5,3.5-3.5-3.5zM695.1,884.6l3.5,3.5-3.5,3.5-3.5-3.5zM696.3,880.5l3.5,3.5-3.5,3.5-3.5-3.5zM697.6,879.4l3.5,3.5-3.5,3.5-3.5-3.5zM698.8,877.9l3.5,3.5-3.5,3.5-3.5-3.5zM700.1,878.8l3.5,3.5-3.5,3.5-3.5-3.5zM701.3,874.7l3.5,3.5-3.5,3.5-3.5-3.5zM702.6,872.8l3.5,3.5-3.5,3.5-3.5-3.5zM703.8,873.1l3.5,3.5-3.5,3.5-3.5-3.5zM705.0,869.8l3.5,3.5-3.5,3.5-3.5-3.5zM706.3,866.9l3.5,3.5-3.5,3.5-3.5-3.5zM707.5,868.4l3.5,3.5-3.5,3.5-3.5-3.5zM708.8,866.6l3.5,3.5-3.5,3.5-3.5-3.5zM710.0,862.9l3.5,3.5-3.5,3.5-3.5-3.5zM711.3,861.6l3.5,3.5-3.5,3.5-3.5-3.5zM712.5,861.2l3.5,3.5-3.5,3.5-3.5-3.5zM713.8,858.8l3.5,3.5-3.5,3.5-3.5-3.5zM715.0,856.7l3.5,3.5-3.5,3.5-3.5-3.5zM716.2,855.5l3.5,3.5-3.5,3.5-3.5-3.5zM717.5,856.7l3.5,3.5-3.5,3.5-3.5-3.5zM718.7,854.6l3.5,3.5-3.5,3.5-3.5-3.5zM720.0,851.1l3.5,3.5-3.5,3.5-3.5-3.5zM721.2,850.4l3.5,3.5-3.5,3.5-3.5-3.5zM722.5,849.2l3.5,3.5-3.5,3.5-3.5-3.5zM723.7,847.3l3.5,3.5-3.5,3.5-3.5-3.5zM725.0,846.1l3.5,3.5-3.5,3.5-3.5-3.5zM726.2,846.2l3.5,3.5-3.5,3.5-3.5-3.5zM727.4,842.6l3.5,3.5-3.5,3.5-3.5-3.5zM728.7,841.0l3.5,3.5-3.5,3.5-3.5-3.5zM729.9,840.2l3.5,3.5-3.5,3.5-3.5-3.5zM731.2,838.1l3.5,3.5-3.5,3.5-3.5-3.5zM732.4,836.9l3.5,3.5-3.5,3.5-3.5-3.5zM733.7,835.4l3.5,3.5-3.5,3.5-3.5-3.5zM734.9,833.5l3.5,3.5-3.5,3.5-3.5-3.5zM736.2,834.1l3.5,3.5-3.5,3.5-3.5-3.5zM737.4,830.9l3.5,3.5-3.5,3.5-3.5-3.5zM738.6,831.3l3.5,3.5-3.5,3.5-3.5-3.5zM739.9,827.9l3.5,3.5-3.5,3.5-3.5-3.5zM741.1,826.5l3.5,3.5-3.5,3.5-3.5-3.5zM742.4,826.2l3.5,3.5-3.5,3.5-3.5-3.5zM743.6,824.3l3.5,3.5-3.5,3.5-3.5-3.5zM744.9,824.0l3.5,3.5-3.5,3.5-3.5-3.5zM746.1,822.4l3.5,3.5-3.5,3.5-3.5-3.5zM747.4,822.6l3.5,3.5-3.5,3.5-3.5-3.5zM748.6,816.4l3.5,3.5-3.5,3.5-3.5-3.5zM749.8,816.8l3.5,3.5-3.5,3.5-3.5-3.5zM751.1,816.4l3.5,3.5-3.5,3.5-3.5-3.5zM752.3,815.0l3.5,3.5-3.5,3.5-3.5-3.5zM753.6,813.8l3.5,3.5-3.5,3.5-3.5-3.5zM754.8,814.9l3.5,3.5-3.5,3.5-3.5-3.5zM756.1,809.2l3.5,3.5-3.5,3.5-3.5-3.5zM757.3,810.6l3.5,3.5-3.5,3.5-3.5-3.5zM758.6,808.5l3.5,3.5-3.5,3.5-3.5-3.5zM759.8,807.5l3.5,3.5-3.5,3.5-3.5-3.5zM761.0,807.2l3.5,3.5-3.5,3.5-3.5-3.5zM762.3,804.9l3.5,3.5-3.5,3.5-3.5-3.5zM763.5,804.5l3.5,3.5-3.5,3.5-3.5-3.5zM764.8,803.7l3.5,3.5-3.5,3.5-3.5-3.5zM766.0,802.4l3.5,3.5-3.5,3.5-3.5-3.5zM767.3,798.4l3.5,3.5-3.5,3.5-3.5-3.5zM768.5,798.3l3.5,3.5-3.5,3.5-3.5-3.5zM769.8,796.5l3.5,3.5-3.5,3.5-3.5-3.5zM771.0,795.8l3.5,3.5-3.5,3.5-3.5-3.5zM772.2,795.2l3.5,3.5-3.5,3.5-3.5-3.5zM773.5,796.2l3.5,3.5-3.5,3.5-3.5-3.5zM774.7,792.5l3.5,3.5-3.5,3.5-3.5-3.5zM776.0,791.7l3.5,3.5-3.5,3.5-3.5-3.5zM777.2,790.7l3.5,3.5-3.5,3.5-3.5-3.5zM778.5,791.1l3.5,3.5-3.5,3.5-3.5-3.5zM779.7,788.1l3.5,3.5-3.5,3.5-3.5-3.5zM781.0,787.9l3.5,3.5-3.5,3.5-3.5-3.5zM782.2,787.2l3.5,3.5-3.5,3.5-3.5-3.5zM783.4,785.8l3.5,3.5-3.5,3.5-3.5-3.5zM784.7,782.4l3.5,3.5-3.5,3.5-3.5-3.5zM785.9,782.0l3.5,3.5-3.5,3.5-3.5-3.5zM787.2,782.7l3.5,3.5-3.5,3.5-3.5-3.5zM788.4,779.4l3.5,3.5-3.5,3.5-3.5-3.5zM789.7,779.8l3.5,3.5-3.5,3.5-3.5-3.5zM790.9,777.6l3.5,3.5-3.5,3.5-3.5-3.5zM792.1,778.3l3.5,3.5-3.5,3.5-3.5-3.5zM793.4,776.9l3.5,3.5-3.5,3.5-3.5-3.5zM794.6,774.5l3.5,3.5-3.5,3.5-3.5-3.5zM795.9,774.7l3.5,3.5-3.5,3.5-3.5-3.5zM797.1,773.0l3.5,3.5-3.5,3.5-3.5-3.5zM798.4,772.5l3.5,3.5-3.5,3.5-3.5-3.5zM799.6,773.2l3.5,3.5-3.5,3.5-3.5-3.5zM800.9,771.4l3.5,3.5-3.5,3.5-3.5-3.5zM802.1,770.5l3.5,3.5-3.5,3.5-3.5-3.5zM803.3,770.7l3.5,3.5-3.5,3.5-3.5-3.5zM804.6,768.4l3.5,3.5-3.5,3.5-3.5-3.5zM805.8,768.6l3.5,3.5-3.5,3.5-3.5-3.5zM807.1,766.9l3.5,3.5-3.5,3.5-3.5-3.5zM808.3,765.9l3.5,3.5-3.5,3.5-3.5-3.5zM809.6,764.4l3.5,3.5-3.5,3.5-3.5-3.5zM810.8,763.1l3.5,3.5-3.5,3.5-3.5-3.5zM812.1,762.0l3.5,3.5-3.5,3.5-3.5-3.5zM813.3,761.3l3.5,3.5-3.5,3.5-3.5-3.5zM814.5,761.8l3.5,3.5-3.5,3.5-3.5-3.5zM815.8,760.8l3.5,3.5-3.5,3.5-3.5-3.5zM817.0,758.8l3.5,3.5-3.5,3.5-3.5-3.5zM818.3,759.9l3.5,3.5-3.5,3.5-3.5-3.5zM819.5,757.4l3.5,3.5-3.5,3.5-3.5-3.5zM820.8,756.8l3.5,3.5-3.5,3.5-3.5-3.5zM822.0,755.1l3.5,3.5-3.5,3.5-3.5-3.5zM823.3,754.8l3.5,3.5-3.5,3.5-3.5-3.5zM824.5,755.7l3.5,3.5-3.5,3.5-3.5-3.5zM825.7,754.5l3.5,3.5-3.5,3.5-3.5-3.5zM827.0,752.7l3.5,3.5-3.5,3.5-3.5-3.5zM828.2,753.7l3.5,3.5-3.5,3.5-3.5-3.5zM829.5,751.8l3.5,3.5-3.5,3.5-3.5-3.5zM830.7,751.2l3.5,3.5-3.5,3.5-3.5-3.5zM832.0,751.4l3.5,3.5-3.5,3.5-3.5-3.5zM833.2,750.1l3.5,3.5-3.5,3.5-3.5-3.5zM834.5,748.7l3.5,3.5-3.5,3.5-3.5-3.5zM835.7,747.4l3.5,3.5-3.5,3.5-3.5-3.5zM836.9,748.8l3.5,3.5-3.5,3.5-3.5-3.5zM838.2,744.8l3.5,3.5-3.5,3.5-3.5-3.5zM839.4,745.7l3.5,3.5-3.5,3.5-3.5-3.5zM840.7,744.1l3.5,3.5-3.5,3.5-3.5-3.5zM841.9,744.5l3.5,3.5-3.5,3.5-3.5-3.5zM843.2,745.2l3.5,3.5-3.5,3.5-3.5-3.5zM844.4,743.5l3.5,3.5-3.5,3.5-3.5-3.5zM845.7,742.8l3.5,3.5-3.5,3.5-3.5-3.5zM846.9,742.5l3.5,3.5-3.5,3.5-3.5-3.5zM848.1,743.8l3.5,3.5-3.5,3.5-3.5-3.5zM849.4,742.6l3.5,3.5-3.5,3.5-3.5-3.5zM850.6,741.0l3.5,3.5-3.5,3.5-3.5-3.5zM851.9,739.7l3.5,3.5-3.5,3.5-3.5-3.5zM853.1,739.3l3.5,3.5-3.5,3.5-3.5-3.5zM854.4,739.4l3.5,3.5-3.5,3.5-3.5-3.5zM855.6,738.4l3.5,3.5-3.5,3.5-3.5-3.5zM856.9,737.9l3.5,3.5-3.5,3.5-3.5-3.5zM858.1,736.6l3.5,3.5-3.5,3.5-3.5-3.5zM859.3,735.8l3.5,3.5-3.5,3.5-3.5-3.5zM860.6,735.5l3.5,3.5-3.5,3.5-3.5-3.5zM861.8,736.2l3.5,3.5-3.5,3.5-3.5-3.5zM863.1,734.7l3.5,3.5-3.5,3.5-3.5-3.5zM864.3,737.4l3.5,3.5-3.5,3.5-3.5-3.5zM865.6,735.1l3.5,3.5-3.5,3.5-3.5-3.5zM866.8,734.7l3.5,3.5-3.5,3.5-3.5-3.5zM868.1,734.5l3.5,3.5-3.5,3.5-3.5-3.5zM869.3,732.2l3.5,3.5-3.5,3.5-3.5-3.5zM870.5,731.6l3.5,3.5-3.5,3.5-3.5-3.5zM871.8,732.1l3.5,3.5-3.5,3.5-3.5-3.5zM873.0,732.4l3.5,3.5-3.5,3.5-3.5-3.5zM874.3,731.9l3.5,3.5-3.5,3.5-3.5-3.5zM875.5,732.5l3.5,3.5-3.5,3.5-3.5-3.5zM876.8,731.9l3.5,3.5-3.5,3.5-3.5-3.5zM878.0,731.1l3.5,3.5-3.5,3.5-3.5-3.5zM879.2,730.8l3.5,3.5-3.5,3.5-3.5-3.5zM880.5,729.6l3.5,3.5-3.5,3.5-3.5-3.5zM881.7,729.8l3.5,3.5-3.5,3.5-3.5-3.5zM883.0,728.3l3.5,3.5-3.5,3.5-3.5-3.5zM988.7,701.3l3.5,3.5-3.5,3.5-3.5-3.5zM990.0,702.3l3.5,3.5-3.5,3.5-3.5-3.5zM991.2,700.5l3.5,3.5-3.5,3.5-3.5-3.5zM992.5,698.3l3.5,3.5-3.5,3.5-3.5-3.5zM993.7,699.4l3.5,3.5-3.5,3.5-3.5-3.5zM995.0,699.1l3.5,3.5-3.5,3.5-3.5-3.5zM996.2,700.4l3.5,3.5-3.5,3.5-3.5-3.5zM997.5,701.5l3.5,3.5-3.5,3.5-3.5-3.5zM998.7,699.1l3.5,3.5-3.5,3.5-3.5-3.5zM999.9,698.4l3.5,3.5-3.5,3.5-3.5-3.5zM1001.2,700.2l3.5,3.5-3.5,3.5-3.5-3.5zM1002.4,697.0l3.5,3.5-3.5,3.5-3.5-3.5zM1003.7,698.0l3.5,3.5-3.5,3.5-3.5-3.5zM1004.9,697.9l3.5,3.5-3.5,3.5-3.5-3.5zM1006.2,696.9l3.5,3.5-3.5,3.5-3.5-3.5zM1007.4,696.4l3.5,3.5-3.5,3.5-3.5-3.5zM1008.7,696.5l3.5,3.5-3.5,3.5-3.5-3.5zM1009.9,697.8l3.5,3.5-3.5,3.5-3.5-3.5zM1011.1,696.3l3.5,3.5-3.5,3.5-3.5-3.5zM1012.4,694.6l3.5,3.5-3.5,3.5-3.5-3.5zM1013.6,695.3l3.5,3.5-3.5,3.5-3.5-3.5zM1014.9,695.7l3.5,3.5-3.5,3.5-3.5-3.5zM1016.1,696.3l3.5,3.5-3.5,3.5-3.5-3.5zM1017.4,694.9l3.5,3.5-3.5,3.5-3.5-3.5zM1018.6,693.9l3.5,3.5-3.5,3.5-3.5-3.5zM1019.9,694.8l3.5,3.5-3.5,3.5-3.5-3.5zM1021.1,693.9l3.5,3.5-3.5,3.5-3.5-3.5zM1022.3,692.8l3.5,3.5-3.5,3.5-3.5-3.5zM1023.6,691.6l3.5,3.5-3.5,3.5-3.5-3.5zM1024.8,692.1l3.5,3.5-3.5,3.5-3.5-3.5zM1026.1,692.6l3.5,3.5-3.5,3.5-3.5-3.5zM1027.3,690.2l3.5,3.5-3.5,3.5-3.5-3.5zM1028.6,689.4l3.5,3.5-3.5,3.5-3.5-3.5zM1029.8,691.1l3.5,3.5-3.5,3.5-3.5-3.5zM1031.1,688.8l3.5,3.5-3.5,3.5-3.5-3.5zM1032.3,688.7l3.5,3.5-3.5,3.5-3.5-3.5zM1033.5,689.4l3.5,3.5-3.5,3.5-3.5-3.5zM1034.8,689.0l3.5,3.5-3.5,3.5-3.5-3.5zM1036.0,689.0l3.5,3.5-3.5,3.5-3.5-3.5zM1037.3,688.7l3.5,3.5-3.5,3.5-3.5-3.5zM1038.5,688.7l3.5,3.5-3.5,3.5-3.5-3.5zM1039.8,687.8l3.5,3.5-3.5,3.5-3.5-3.5zM1041.0,686.8l3.5,3.5-3.5,3.5-3.5-3.5zM1042.3,684.8l3.5,3.5-3.5,3.5-3.5-3.5zM1043.5,687.9l3.5,3.5-3.5,3.5-3.5-3.5zM1044.7,687.2l3.5,3.5-3.5,3.5-3.5-3.5zM1046.0,686.7l3.5,3.5-3.5,3.5-3.5-3.5zM1047.2,685.8l3.5,3.5-3.5,3.5-3.5-3.5zM1048.5,684.8l3.5,3.5-3.5,3.5-3.5-3.5zM1049.7,685.5l3.5,3.5-3.5,3.5-3.5-3.5zM1051.0,684.7l3.5,3.5-3.5,3.5-3.5-3.5zM1052.2,683.4l3.5,3.5-3.5,3.5-3.5-3.5zM1053.5,684.9l3.5,3.5-3.5,3.5-3.5-3.5zM1054.7,682.7l3.5,3.5-3.5,3.5-3.5-3.5zM1055.9,683.1l3.5,3.5-3.5,3.5-3.5-3.5zM1057.2,684.5l3.5,3.5-3.5,3.5-3.5-3.5zM1058.4,682.1l3.5,3.5-3.5,3.5-3.5-3.5zM1059.7,682.6l3.5,3.5-3.5,3.5-3.5-3.5zM1060.9,682.9l3.5,3.5-3.5,3.5-3.5-3.5zM1062.2,681.8l3.5,3.5-3.5,3.5-3.5-3.5zM1063.4,680.4l3.5,3.5-3.5,3.5-3.5-3.5zM1064.6,680.7l3.5,3.5-3.5,3.5-3.5-3.5zM1065.9,680.7l3.5,3.5-3.5,3.5-3.5-3.5zM1067.1,679.3l3.5,3.5-3.5,3.5-3.5-3.5zM1068.4,681.1l3.5,3.5-3.5,3.5-3.5-3.5zM1069.6,680.0l3.5,3.5-3.5,3.5-3.5-3.5zM1070.9,679.9l3.5,3.5-3.5,3.5-3.5-3.5zM1072.1,679.3l3.5,3.5-3.5,3.5-3.5-3.5zM1073.4,679.0l3.5,3.5-3.5,3.5-3.5-3.5zM1074.6,678.2l3.5,3.5-3.5,3.5-3.5-3.5zM1075.8,677.1l3.5,3.5-3.5,3.5-3.5-3.5zM1077.1,678.2l3.5,3.5-3.5,3.5-3.5-3.5zM1078.3,677.5l3.5,3.5-3.5,3.5-3.5-3.5zM1079.6,678.2l3.5,3.5-3.5,3.5-3.5-3.5zM1080.8,676.0l3.5,3.5-3.5,3.5-3.5-3.5zM1082.1,676.6l3.5,3.5-3.5,3.5-3.5-3.5zM1083.3,677.6l3.5,3.5-3.5,3.5-3.5-3.5zM1084.6,675.0l3.5,3.5-3.5,3.5-3.5-3.5zM1085.8,674.8l3.5,3.5-3.5,3.5-3.5-3.5zM1087.0,675.4l3.5,3.5-3.5,3.5-3.5-3.5zM1088.3,676.0l3.5,3.5-3.5,3.5-3.5-3.5zM1089.5,673.9l3.5,3.5-3.5,3.5-3.5-3.5zM1090.8,674.4l3.5,3.5-3.5,3.5-3.5-3.5zM1092.0,673.9l3.5,3.5-3.5,3.5-3.5-3.5zM1093.3,673.4l3.5,3.5-3.5,3.5-3.5-3.5zM1094.5,673.3l3.5,3.5-3.5,3.5-3.5-3.5zM1095.8,673.9l3.5,3.5-3.5,3.5-3.5-3.5zM1097.0,672.9l3.5,3.5-3.5,3.5-3.5-3.5zM1098.2,671.7l3.5,3.5-3.5,3.5-3.5-3.5zM1099.5,671.9l3.5,3.5-3.5,3.5-3.5-3.5zM1100.7,672.0l3.5,3.5-3.5,3.5-3.5-3.5zM1102.0,670.8l3.5,3.5-3.5,3.5-3.5-3.5zM1103.2,671.0l3.5,3.5-3.5,3.5-3.5-3.5zM1104.5,670.9l3.5,3.5-3.5,3.5-3.5-3.5zM1105.7,669.6l3.5,3.5-3.5,3.5-3.5-3.5zM1107.0,671.7l3.5,3.5-3.5,3.5-3.5-3.5zM1108.2,669.3l3.5,3.5-3.5,3.5-3.5-3.5zM1109.4,670.0l3.5,3.5-3.5,3.5-3.5-3.5zM1110.7,669.6l3.5,3.5-3.5,3.5-3.5-3.5zM1111.9,669.1l3.5,3.5-3.5,3.5-3.5-3.5zM1113.2,669.9l3.5,3.5-3.5,3.5-3.5-3.5zM1114.4,669.0l3.5,3.5-3.5,3.5-3.5-3.5zM1115.7,668.2l3.5,3.5-3.5,3.5-3.5-3.5zM1116.9,669.1l3.5,3.5-3.5,3.5-3.5-3.5zM1118.2,668.5l3.5,3.5-3.5,3.5-3.5-3.5zM1119.4,667.3l3.5,3.5-3.5,3.5-3.5-3.5zM1120.6,666.7l3.5,3.5-3.5,3.5-3.5-3.5zM1121.9,667.9l3.5,3.5-3.5,3.5-3.5-3.5zM1123.1,667.1l3.5,3.5-3.5,3.5-3.5-3.5zM1124.4,666.0l3.5,3.5-3.5,3.5-3.5-3.5zM1125.6,667.0l3.5,3.5-3.5,3.5-3.5-3.5zM1126.9,665.5l3.5,3.5-3.5,3.5-3.5-3.5zM1128.1,665.7l3.5,3.5-3.5,3.5-3.5-3.5zM1129.4,665.4l3.5,3.5-3.5,3.5-3.5-3.5zM1130.6,664.5l3.5,3.5-3.5,3.5-3.5-3.5zM1131.8,665.8l3.5,3.5-3.5,3.5-3.5-3.5zM1133.1,667.3l3.5,3.5-3.5,3.5-3.5-3.5zM1134.3,665.3l3.5,3.5-3.5,3.5-3.5-3.5zM1135.6,665.0l3.5,3.5-3.5,3.5-3.5-3.5zM1136.8,664.3l3.5,3.5-3.5,3.5-3.5-3.5zM1138.1,664.2l3.5,3.5-3.5,3.5-3.5-3.5zM1139.3,664.2l3.5,3.5-3.5,3.5-3.5-3.5zM1140.5,664.2l3.5,3.5-3.5,3.5-3.5-3.5zM1141.8,663.3l3.5,3.5-3.5,3.5-3.5-3.5zM1143.0,663.4l3.5,3.5-3.5,3.5-3.5-3.5zM1144.3,663.0l3.5,3.5-3.5,3.5-3.5-3.5zM1145.5,663.3l3.5,3.5-3.5,3.5-3.5-3.5zM1146.8,663.3l3.5,3.5-3.5,3.5-3.5-3.5zM1148.0,663.2l3.5,3.5-3.5,3.5-3.5-3.5zM1149.3,662.0l3.5,3.5-3.5,3.5-3.5-3.5zM1150.5,661.8l3.5,3.5-3.5,3.5-3.5-3.5zM1151.7,662.3l3.5,3.5-3.5,3.5-3.5-3.5zM1153.0,661.5l3.5,3.5-3.5,3.5-3.5-3.5zM1154.2,661.3l3.5,3.5-3.5,3.5-3.5-3.5zM1155.5,661.5l3.5,3.5-3.5,3.5-3.5-3.5zM1156.7,661.3l3.5,3.5-3.5,3.5-3.5-3.5zM1158.0,661.7l3.5,3.5-3.5,3.5-3.5-3.5zM1159.2,659.9l3.5,3.5-3.5,3.5-3.5-3.5zM1160.5,661.2l3.5,3.5-3.5,3.5-3.5-3.5zM1161.7,660.0l3.5,3.5-3.5,3.5-3.5-3.5zM1162.9,660.5l3.5,3.5-3.5,3.5-3.5-3.5zM1164.2,659.1l3.5,3.5-3.5,3.5-3.5-3.5zM1165.4,659.6l3.5,3.5-3.5,3.5-3.5-3.5zM1166.7,659.1l3.5,3.5-3.5,3.5-3.5-3.5zM1167.9,660.4l3.5,3.5-3.5,3.5-3.5-3.5zM1169.2,658.6l3.5,3.5-3.5,3.5-3.5-3.5zM1170.4,659.6l3.5,3.5-3.5,3.5-3.5-3.5zM1171.7,658.3l3.5,3.5-3.5,3.5-3.5-3.5zM1172.9,657.9l3.5,3.5-3.5,3.5-3.5-3.5zM1174.1,658.6l3.5,3.5-3.5,3.5-3.5-3.5zM1175.4,658.9l3.5,3.5-3.5,3.5-3.5-3.5zM1176.6,658.0l3.5,3.5-3.5,3.5-3.5-3.5zM1177.9,658.2l3.5,3.5-3.5,3.5-3.5-3.5zM1179.1,657.8l3.5,3.5-3.5,3.5-3.5-3.5zM1180.4,657.5l3.5,3.5-3.5,3.5-3.5-3.5zM1181.6,658.2l3.5,3.5-3.5,3.5-3.5-3.5zM1182.9,657.2l3.5,3.5-3.5,3.5-3.5-3.5zM1184.1,657.5l3.5,3.5-3.5,3.5-3.5-3.5zM1185.3,656.1l3.5,3.5-3.5,3.5-3.5-3.5zM1186.6,656.5l3.5,3.5-3.5,3.5-3.5-3.5zM1187.8,657.0l3.5,3.5-3.5,3.5-3.5-3.5zM1189.1,656.0l3.5,3.5-3.5,3.5-3.5-3.5zM1190.3,654.9l3.5,3.5-3.5,3.5-3.5-3.5zM1191.6,656.4l3.5,3.5-3.5,3.5-3.5-3.5zM1192.8,656.2l3.5,3.5-3.5,3.5-3.5-3.5zM1194.1,655.5l3.5,3.5-3.5,3.5-3.5-3.5zM1195.3,655.6l3.5,3.5-3.5,3.5-3.5-3.5zM1196.5,655.1l3.5,3.5-3.5,3.5-3.5-3.5zM1197.8,655.4l3.5,3.5-3.5,3.5-3.5-3.5zM1199.0,655.7l3.5,3.5-3.5,3.5-3.5-3.5zM1200.3,655.1l3.5,3.5-3.5,3.5-3.5-3.5zM1201.5,654.7l3.5,3.5-3.5,3.5-3.5-3.5zM1202.8,654.3l3.5,3.5-3.5,3.5-3.5-3.5zM1204.0,654.3l3.5,3.5-3.5,3.5-3.5-3.5zM1205.3,654.0l3.5,3.5-3.5,3.5-3.5-3.5zM1206.5,654.7l3.5,3.5-3.5,3.5-3.5-3.5zM1207.7,653.3l3.5,3.5-3.5,3.5-3.5-3.5zM1209.0,653.5l3.5,3.5-3.5,3.5-3.5-3.5zM1210.2,653.9l3.5,3.5-3.5,3.5-3.5-3.5zM1211.5,653.8l3.5,3.5-3.5,3.5-3.5-3.5zM1212.7,653.6l3.5,3.5-3.5,3.5-3.5-3.5zM1214.0,653.0l3.5,3.5-3.5,3.5-3.5-3.5zM1215.2,653.3l3.5,3.5-3.5,3.5-3.5-3.5zM1216.5,652.2l3.5,3.5-3.5,3.5-3.5-3.5zM1217.7,652.0l3.5,3.5-3.5,3.5-3.5-3.5zM1218.9,652.1l3.5,3.5-3.5,3.5-3.5-3.5zM1220.2,652.9l3.5,3.5-3.5,3.5-3.5-3.5zM1221.4,653.4l3.5,3.5-3.5,3.5-3.5-3.5zM1222.7,652.3l3.5,3.5-3.5,3.5-3.5-3.5zM1223.9,652.1l3.5,3.5-3.5,3.5-3.5-3.5zM1225.2,652.2l3.5,3.5-3.5,3.5-3.5-3.5zM1226.4,653.4l3.5,3.5-3.5,3.5-3.5-3.5zM1227.7,652.3l3.5,3.5-3.5,3.5-3.5-3.5zM1228.9,652.2l3.5,3.5-3.5,3.5-3.5-3.5zM1230.1,651.7l3.5,3.5-3.5,3.5-3.5-3.5zM1231.4,652.3l3.5,3.5-3.5,3.5-3.5-3.5zM1232.6,652.8l3.5,3.5-3.5,3.5-3.5-3.5zM1233.9,652.1l3.5,3.5-3.5,3.5-3.5-3.5zM1235.1,651.5l3.5,3.5-3.5,3.5-3.5-3.5zM1236.4,652.7l3.5,3.5-3.5,3.5-3.5-3.5zM1237.6,651.9l3.5,3.5-3.5,3.5-3.5-3.5zM1238.8,653.0l3.5,3.5-3.5,3.5-3.5-3.5zM1240.1,651.3l3.5,3.5-3.5,3.5-3.5-3.5zM1241.3,651.9l3.5,3.5-3.5,3.5-3.5-3.5zM1242.6,652.1l3.5,3.5-3.5,3.5-3.5-3.5zM1243.8,651.0l3.5,3.5-3.5,3.5-3.5-3.5zM1245.1,652.1l3.5,3.5-3.5,3.5-3.5-3.5zM1246.3,652.5l3.5,3.5-3.5,3.5-3.5-3.5zM1247.6,652.1l3.5,3.5-3.5,3.5-3.5-3.5zM1248.8,652.5l3.5,3.5-3.5,3.5-3.5-3.5zM1250.0,652.4l3.5,3.5-3.5,3.5-3.5-3.5zM1251.3,651.9l3.5,3.5-3.5,3.5-3.5-3.5zM1252.5,653.0l3.5,3.5-3.5,3.5-3.5-3.5zM1253.8,652.2l3.5,3.5-3.5,3.5-3.5-3.5zM1255.0,652.6l3.5,3.5-3.5,3.5-3.5-3.5zM1256.3,652.4l3.5,3.5-3.5,3.5-3.5-3.5zM1257.5,653.4l3.5,3.5-3.5,3.5-3.5-3.5zM1258.8,652.8l3.5,3.5-3.5,3.5-3.5-3.5zM1260.0,652.9l3.5,3.5-3.5,3.5-3.5-3.5zM1261.2,652.1l3.5,3.5-3.5,3.5-3.5-3.5zM1262.5,653.3l3.5,3.5-3.5,3.5-3.5-3.5zM1263.7,654.2l3.5,3.5-3.5,3.5-3.5-3.5zM1265.0,652.5l3.5,3.5-3.5,3.5-3.5-3.5zM1266.2,654.1l3.5,3.5-3.5,3.5-3.5-3.5zM1267.5,654.0l3.5,3.5-3.5,3.5-3.5-3.5zM1268.7,653.1l3.5,3.5-3.5,3.5-3.5-3.5zM1270.0,654.0l3.5,3.5-3.5,3.5-3.5-3.5zM1271.2,654.9l3.5,3.5-3.5,3.5-3.5-3.5zM1272.4,654.5l3.5,3.5-3.5,3.5-3.5-3.5zM1273.7,654.8l3.5,3.5-3.5,3.5-3.5-3.5zM1274.9,655.3l3.5,3.5-3.5,3.5-3.5-3.5zM1276.2,654.6l3.5,3.5-3.5,3.5-3.5-3.5zM1277.4,655.4l3.5,3.5-3.5,3.5-3.5-3.5zM1278.7,654.2l3.5,3.5-3.5,3.5-3.5-3.5zM1279.9,654.5l3.5,3.5-3.5,3.5-3.5-3.5zM1281.2,656.0l3.5,3.5-3.5,3.5-3.5-3.5zM1282.4,656.0l3.5,3.5-3.5,3.5-3.5-3.5zM1283.6,655.8l3.5,3.5-3.5,3.5-3.5-3.5zM1284.9,654.4l3.5,3.5-3.5,3.5-3.5-3.5zM1286.1,655.3l3.5,3.5-3.5,3.5-3.5-3.5zM1287.4,654.9l3.5,3.5-3.5,3.5-3.5-3.5zM1288.6,656.6l3.5,3.5-3.5,3.5-3.5-3.5zM1289.9,654.7l3.5,3.5-3.5,3.5-3.5-3.5zM1291.1,654.8l3.5,3.5-3.5,3.5-3.5-3.5zM1292.4,655.2l3.5,3.5-3.5,3.5-3.5-3.5zM1293.6,655.8l3.5,3.5-3.5,3.5-3.5-3.5zM1294.8,655.2l3.5,3.5-3.5,3.5-3.5-3.5zM1296.1,655.4l3.5,3.5-3.5,3.5-3.5-3.5zM1297.3,655.8l3.5,3.5-3.5,3.5-3.5-3.5zM1298.6,655.6l3.5,3.5-3.5,3.5-3.5-3.5zM1299.8,654.5l3.5,3.5-3.5,3.5-3.5-3.5zM1301.1,654.8l3.5,3.5-3.5,3.5-3.5-3.5zM1302.3,656.5l3.5,3.5-3.5,3.5-3.5-3.5zM1303.6,655.5l3.5,3.5-3.5,3.5-3.5-3.5zM1304.8,656.6l3.5,3.5-3.5,3.5-3.5-3.5zM1306.0,656.3l3.5,3.5-3.5,3.5-3.5-3.5zM1307.3,656.0l3.5,3.5-3.5,3.5-3.5-3.5zM1308.5,655.4l3.5,3.5-3.5,3.5-3.5-3.5zM1309.8,656.2l3.5,3.5-3.5,3.5-3.5-3.5zM1311.0,654.9l3.5,3.5-3.5,3.5-3.5-3.5zM1312.3,656.5l3.5,3.5-3.5,3.5-3.5-3.5zM1313.5,655.4l3.5,3.5-3.5,3.5-3.5-3.5zM1314.8,655.4l3.5,3.5-3.5,3.5-3.5-3.5zM1316.0,654.7l3.5,3.5-3.5,3.5-3.5-3.5zM1317.2,654.6l3.5,3.5-3.5,3.5-3.5-3.5zM1318.5,654.7l3.5,3.5-3.5,3.5-3.5-3.5zM1319.7,654.5l3.5,3.5-3.5,3.5-3.5-3.5zM1321.0,654.2l3.5,3.5-3.5,3.5-3.5-3.5zM1322.2,654.0l3.5,3.5-3.5,3.5-3.5-3.5zM1323.5,654.7l3.5,3.5-3.5,3.5-3.5-3.5zM1324.7,655.2l3.5,3.5-3.5,3.5-3.5-3.5zM1325.9,655.6l3.5,3.5-3.5,3.5-3.5-3.5zM1327.2,654.9l3.5,3.5-3.5,3.5-3.5-3.5zM1328.4,654.3l3.5,3.5-3.5,3.5-3.5-3.5zM1329.7,654.7l3.5,3.5-3.5,3.5-3.5-3.5zM1330.9,655.3l3.5,3.5-3.5,3.5-3.5-3.5zM1332.2,654.3l3.5,3.5-3.5,3.5-3.5-3.5zM1333.4,654.8l3.5,3.5-3.5,3.5-3.5-3.5zM1334.7,654.4l3.5,3.5-3.5,3.5-3.5-3.5zM1335.9,654.2l3.5,3.5-3.5,3.5-3.5-3.5zM1337.1,653.7l3.5,3.5-3.5,3.5-3.5-3.5zM1338.4,654.5l3.5,3.5-3.5,3.5-3.5-3.5zM1339.6,653.6l3.5,3.5-3.5,3.5-3.5-3.5zM1340.9,653.5l3.5,3.5-3.5,3.5-3.5-3.5zM1342.1,654.3l3.5,3.5-3.5,3.5-3.5-3.5zM1343.4,654.6l3.5,3.5-3.5,3.5-3.5-3.5zM1344.6,654.6l3.5,3.5-3.5,3.5-3.5-3.5zM1345.9,654.6l3.5,3.5-3.5,3.5-3.5-3.5zM1347.1,653.9l3.5,3.5-3.5,3.5-3.5-3.5zM1348.3,654.1l3.5,3.5-3.5,3.5-3.5-3.5zM1349.6,654.9l3.5,3.5-3.5,3.5-3.5-3.5zM1350.8,655.5l3.5,3.5-3.5,3.5-3.5-3.5zM1352.1,652.8l3.5,3.5-3.5,3.5-3.5-3.5zM1353.3,655.2l3.5,3.5-3.5,3.5-3.5-3.5zM1354.6,654.7l3.5,3.5-3.5,3.5-3.5-3.5zM1355.8,654.6l3.5,3.5-3.5,3.5-3.5-3.5zM1357.1,654.3l3.5,3.5-3.5,3.5-3.5-3.5zM1358.3,654.5l3.5,3.5-3.5,3.5-3.5-3.5zM1359.5,654.2l3.5,3.5-3.5,3.5-3.5-3.5zM1360.8,655.2l3.5,3.5-3.5,3.5-3.5-3.5zM1362.0,654.6l3.5,3.5-3.5,3.5-3.5-3.5zM1363.3,655.3l3.5,3.5-3.5,3.5-3.5-3.5zM1364.5,654.6l3.5,3.5-3.5,3.5-3.5-3.5zM1365.8,656.4l3.5,3.5-3.5,3.5-3.5-3.5zM1367.0,656.2l3.5,3.5-3.5,3.5-3.5-3.5zM1368.3,655.3l3.5,3.5-3.5,3.5-3.5-3.5zM1369.5,656.5l3.5,3.5-3.5,3.5-3.5-3.5zM1370.7,656.2l3.5,3.5-3.5,3.5-3.5-3.5zM1372.0,656.1l3.5,3.5-3.5,3.5-3.5-3.5zM1373.2,656.8l3.5,3.5-3.5,3.5-3.5-3.5zM1374.5,657.5l3.5,3.5-3.5,3.5-3.5-3.5zM1375.7,658.1l3.5,3.5-3.5,3.5-3.5-3.5zM1377.0,657.6l3.5,3.5-3.5,3.5-3.5-3.5zM1378.2,658.3l3.5,3.5-3.5,3.5-3.5-3.5zM1379.5,658.3l3.5,3.5-3.5,3.5-3.5-3.5zM1380.7,658.5l3.5,3.5-3.5,3.5-3.5-3.5zM1381.9,658.9l3.5,3.5-3.5,3.5-3.5-3.5zM1383.2,657.8l3.5,3.5-3.5,3.5-3.5-3.5zM1384.4,658.6l3.5,3.5-3.5,3.5-3.5-3.5zM1385.7,660.0l3.5,3.5-3.5,3.5-3.5-3.5zM1386.9,658.6l3.5,3.5-3.5,3.5-3.5-3.5zM1388.2,659.1l3.5,3.5-3.5,3.5-3.5-3.5zM1389.4,661.0l3.5,3.5-3.5,3.5-3.5-3.5zM1390.7,659.5l3.5,3.5-3.5,3.5-3.5-3.5zM1391.9,660.5l3.5,3.5-3.5,3.5-3.5-3.5zM1393.1,660.9l3.5,3.5-3.5,3.5-3.5-3.5zM1394.4,660.8l3.5,3.5-3.5,3.5-3.5-3.5zM1395.6,661.8l3.5,3.5-3.5,3.5-3.5-3.5zM1396.9,662.1l3.5,3.5-3.5,3.5-3.5-3.5zM1398.1,661.4l3.5,3.5-3.5,3.5-3.5-3.5zM1399.4,663.2l3.5,3.5-3.5,3.5-3.5-3.5zM1400.6,662.0l3.5,3.5-3.5,3.5-3.5-3.5zM1401.8,662.5l3.5,3.5-3.5,3.5-3.5-3.5zM1403.1,663.0l3.5,3.5-3.5,3.5-3.5-3.5zM1404.3,663.5l3.5,3.5-3.5,3.5-3.5-3.5zM1405.6,663.0l3.5,3.5-3.5,3.5-3.5-3.5zM1406.8,664.1l3.5,3.5-3.5,3.5-3.5-3.5zM1408.1,663.0l3.5,3.5-3.5,3.5-3.5-3.5zM1409.3,664.3l3.5,3.5-3.5,3.5-3.5-3.5zM1410.6,664.4l3.5,3.5-3.5,3.5-3.5-3.5zM1411.8,664.8l3.5,3.5-3.5,3.5-3.5-3.5zM1413.0,665.5l3.5,3.5-3.5,3.5-3.5-3.5zM1414.3,666.0l3.5,3.5-3.5,3.5-3.5-3.5zM1415.5,665.7l3.5,3.5-3.5,3.5-3.5-3.5zM1416.8,666.5l3.5,3.5-3.5,3.5-3.5-3.5zM1418.0,665.9l3.5,3.5-3.5,3.5-3.5-3.5zM1419.3,666.9l3.5,3.5-3.5,3.5-3.5-3.5zM1420.5,668.0l3.5,3.5-3.5,3.5-3.5-3.5zM1421.8,667.3l3.5,3.5-3.5,3.5-3.5-3.5zM1423.0,667.9l3.5,3.5-3.5,3.5-3.5-3.5zM1424.2,668.4l3.5,3.5-3.5,3.5-3.5-3.5zM1425.5,669.2l3.5,3.5-3.5,3.5-3.5-3.5zM1426.7,669.3l3.5,3.5-3.5,3.5-3.5-3.5zM1428.0,669.3l3.5,3.5-3.5,3.5-3.5-3.5zM1429.2,669.1l3.5,3.5-3.5,3.5-3.5-3.5zM1430.5,670.1l3.5,3.5-3.5,3.5-3.5-3.5zM1431.7,668.6l3.5,3.5-3.5,3.5-3.5-3.5zM1433.0,670.9l3.5,3.5-3.5,3.5-3.5-3.5zM1434.2,670.5l3.5,3.5-3.5,3.5-3.5-3.5zM1435.4,671.7l3.5,3.5-3.5,3.5-3.5-3.5zM1436.7,671.6l3.5,3.5-3.5,3.5-3.5-3.5zM1437.9,672.7l3.5,3.5-3.5,3.5-3.5-3.5zM1439.2,671.9l3.5,3.5-3.5,3.5-3.5-3.5zM1440.4,671.4l3.5,3.5-3.5,3.5-3.5-3.5zM1441.7,672.9l3.5,3.5-3.5,3.5-3.5-3.5zM1442.9,672.9l3.5,3.5-3.5,3.5-3.5-3.5zM1444.2,673.5l3.5,3.5-3.5,3.5-3.5-3.5zM1445.4,674.5l3.5,3.5-3.5,3.5-3.5-3.5zM1446.6,673.6l3.5,3.5-3.5,3.5-3.5-3.5zM1447.9,674.9l3.5,3.5-3.5,3.5-3.5-3.5zM1449.1,675.3l3.5,3.5-3.5,3.5-3.5-3.5zM1450.4,675.8l3.5,3.5-3.5,3.5-3.5-3.5zM1451.6,674.3l3.5,3.5-3.5,3.5-3.5-3.5zM1452.9,675.9l3.5,3.5-3.5,3.5-3.5-3.5zM1454.1,675.7l3.5,3.5-3.5,3.5-3.5-3.5zM1455.4,676.3l3.5,3.5-3.5,3.5-3.5-3.5zM1456.6,676.3l3.5,3.5-3.5,3.5-3.5-3.5zM1457.8,677.0l3.5,3.5-3.5,3.5-3.5-3.5zM1459.1,678.0l3.5,3.5-3.5,3.5-3.5-3.5zM1460.3,678.8l3.5,3.5-3.5,3.5-3.5-3.5zM1461.6,678.6l3.5,3.5-3.5,3.5-3.5-3.5zM1462.8,677.8l3.5,3.5-3.5,3.5-3.5-3.5zM1464.1,679.6l3.5,3.5-3.5,3.5-3.5-3.5zM1465.3,678.5l3.5,3.5-3.5,3.5-3.5-3.5zM1466.6,679.3l3.5,3.5-3.5,3.5-3.5-3.5zM1467.8,680.6l3.5,3.5-3.5,3.5-3.5-3.5zM1469.0,679.9l3.5,3.5-3.5,3.5-3.5-3.5zM1470.3,681.1l3.5,3.5-3.5,3.5-3.5-3.5zM1471.5,680.8l3.5,3.5-3.5,3.5-3.5-3.5zM1472.8,680.7l3.5,3.5-3.5,3.5-3.5-3.5zM1474.0,681.9l3.5,3.5-3.5,3.5-3.5-3.5zM1475.3,681.8l3.5,3.5-3.5,3.5-3.5-3.5zM1476.5,683.5l3.5,3.5-3.5,3.5-3.5-3.5zM1477.8,683.9l3.5,3.5-3.5,3.5-3.5-3.5zM1479.0,684.2l3.5,3.5-3.5,3.5-3.5-3.5zM1480.2,683.0l3.5,3.5-3.5,3.5-3.5-3.5zM1481.5,685.1l3.5,3.5-3.5,3.5-3.5-3.5zM1482.7,684.6l3.5,3.5-3.5,3.5-3.5-3.5zM1484.0,685.1l3.5,3.5-3.5,3.5-3.5-3.5zM1485.2,685.3l3.5,3.5-3.5,3.5-3.5-3.5zM1486.5,685.3l3.5,3.5-3.5,3.5-3.5-3.5zM1487.7,686.1l3.5,3.5-3.5,3.5-3.5-3.5zM1489.0,686.9l3.5,3.5-3.5,3.5-3.5-3.5zM1490.2,687.8l3.5,3.5-3.5,3.5-3.5-3.5zM1491.4,687.6l3.5,3.5-3.5,3.5-3.5-3.5zM1492.7,687.7l3.5,3.5-3.5,3.5-3.5-3.5zM1493.9,687.8l3.5,3.5-3.5,3.5-3.5-3.5zM1495.2,688.4l3.5,3.5-3.5,3.5-3.5-3.5zM1496.4,689.9l3.5,3.5-3.5,3.5-3.5-3.5zM1497.7,689.8l3.5,3.5-3.5,3.5-3.5-3.5zM1498.9,690.0l3.5,3.5-3.5,3.5-3.5-3.5zM1500.1,689.4l3.5,3.5-3.5,3.5-3.5-3.5zM1501.4,689.7l3.5,3.5-3.5,3.5-3.5-3.5zM1502.6,691.6l3.5,3.5-3.5,3.5-3.5-3.5zM1503.9,692.1l3.5,3.5-3.5,3.5-3.5-3.5zM1505.1,692.8l3.5,3.5-3.5,3.5-3.5-3.5zM1506.4,692.8l3.5,3.5-3.5,3.5-3.5-3.5zM1507.6,692.8l3.5,3.5-3.5,3.5-3.5-3.5zM1508.9,692.6l3.5,3.5-3.5,3.5-3.5-3.5zM1510.1,693.6l3.5,3.5-3.5,3.5-3.5-3.5zM1511.3,693.3l3.5,3.5-3.5,3.5-3.5-3.5zM1512.6,695.3l3.5,3.5-3.5,3.5-3.5-3.5z"/>
<path d="M226.0,1012.5l3.5,3.5-3.5,3.5-3.5-3.5z"/>
<path d="M227.2,1024.0l3.5,3.5-3.5,3.5-3.5-3.5z"/>
<path d="M228.5,1023.4l3.5,3.5-3.5,3.5-3.5-3.5z"/>
<path d="M229.7,1030.4l3.5,3.5-3.5,3.5-3.5-3.5z"/>
<path d="M231.0,1037.4l3.5,3.5-3.5,3.5-3.5-3.5z"/>
<path d="M232.2,1051.9l3.5,3.5-3.5,3.5-3.5-3.5z"/>
<path d="M233.5,1057.9l3.5,3.5-3.5,3.5-3.5-3.5z"/>
<path d="M234.7,1068.9l3.5,3.5-3.5,3.5-3.5-3.5z"/>
<path d="M236.0,1078.8l3.5,3.5-3.5,3.5-3.5-3.5z"/>
<path d="M237.2,1074.9l3.5,3.5-3.5,3.5-3.5-3.5z"/>
<path d="M238.4,1094.7l3.5,3.5-3.5,3.5-3.5-3.5z"/>
<path d="M239.7,1086.6l3.5,3.5-3.5,3.5-3.5-3.5z"/>
<path d="M240.9,1092.7l3.5,3.5-3.5,3.5-3.5-3.5z"/>
<path d="M242.2,1100.1l3.5,3.5-3.5,3.5-3.5-3.5z"/>
<path d="M243.4,1097.3l3.5,3.5-3.5,3.5-3.5-3.5z"/>
<path d="M244.7,1101.1l3.5,3.5-3.5,3.5-3.5-3.5z"/>
<path d="M245.9,1117.5l3.5,3.5-3.5,3.5-3.5-3.5z"/>
<path d="M247.2,1121.0l3.5,3.5-3.5,3.5-3.5-3.5z"/>
<path d="M248.4,1133.5l3.5,3.5-3.5,3.5-3.5-3.5z"/>
<path d="M249.6,1131.3l3.5,3.5-3.5,3.5-3.5-3.5z"/>
<path d="M250.9,1125.5l3.5,3.5-3.5,3.5-3.5-3.5z"/>
<path d="M252.1,1126.1l3.5,3.5-3.5,3.5-3.5-3.5z"/>
<path d="M253.4,1107.4l3.5,3.5-3.5,3.5-3.5-3.5z"/>
<path d="M254.6,1098.7l3.5,3.5-3.5,3.5-3.5-3.5z"/>
<path d="M255.9,1075.3l3.5,3.5-3.5,3.5-3.5-3.5z"/>
<path d="M257.1,1060.2l3.5,3.5-3.5,3.5-3.5-3.5z"/>
<path d="M258.4,1045.5l3.5,3.5-3.5,3.5-3.5-3.5z"/>
<path d="M259.6,1035.3l3.5,3.5-3.5,3.5-3.5-3.5z"/>
<path d="M260.8,1022.4l3.5,3.5-3.5,3.5-3.5-3.5z"/>
<path d="M262.1,1019.4l3.5,3.5-3.5,3.5-3.5-3.5z"/>
<path d="M263.3,1026.2l3.5,3.5-3.5,3.5-3.5-3.5z"/>
<path d="M264.6,1023.3l3.5,3.5-3.5,3.5-3.5-3.5z"/>
<path d="M265.8,1026.9l3.5,3.5-3.5,3.5-3.5-3.5z"/>
<path d="M267.1,1026.0l3.5,3.5-3.5,3.5-3.5-3.5z"/>
<path d="M268.3,1025.0l3.5,3.5-3.5,3.5-3.5-3.5z"/>
<path d="M269.6,1026.1l3.5,3.5-3.5,3.5-3.5-3.5z"/>
<path d="M270.8,1031.7l3.5,3.5-3.5,3.5-3.5-3.5z"/>
<path d="M272.0,1037.1l3.5,3.5-3.5,3.5-3.5-3.5z"/>
<path d="M273.3,1041.5l3.5,3.5-3.5,3.5-3.5-3.5z"/>
<path d="M274.5,1048.6l3.5,3.5-3.5,3.5-3.5-3.5z"/>
<path d="M275.8,1062.4l3.5,3.5-3.5,3.5-3.5-3.5z"/>
<path d="M277.0,1070.8l3.5,3.5-3.5,3.5-3.5-3.5z"/>
<path d="M278.3,1074.4l3.5,3.5-3.5,3.5-3.5-3.5z"/>
<path d="M279.5,1076.6l3.5,3.5-3.5,3.5-3.5-3.5z"/>
<path d="M280.7,1079.6l3.5,3.5-3.5,3.5-3.5-3.5z"/>
<path d="M282.0,1089.0l3.5,3.5-3.5,3.5-3.5-3.5z"/>
<path d="M283.2,1086.2l3.5,3.5-3.5,3.5-3.5-3.5z"/>
<path d="M284.5,1096.4l3.5,3.5-3.5,3.5-3.5-3.5z"/>
<path d="M285.7,1091.9l3.5,3.5-3.5,3.5-3.5-3.5z"/>
<path d="M287.0,1092.4l3.5,3.5-3.5,3.5-3.5-3.5z"/>
<path d="M288.2,1102.7l3.5,3.5-3.5,3.5-3.5-3.5z"/>
<path d="M289.5,1099.6l3.5,3.5-3.5,3.5-3.5-3.5z"/>
<path d="M290.7,1104.9l3.5,3.5-3.5,3.5-3.5-3.5z"/>
<path d="M291.9,1103.6l3.5,3.5-3.5,3.5-3.5-3.5z"/>
<path d="M293.2,1103.2l3.5,3.5-3.5,3.5-3.5-3.5z"/>
<path d="M294.4,1106.8l3.5,3.5-3.5,3.5-3.5-3.5z"/>
<path d="M295.7,1105.1l3.5,3.5-3.5,3.5-3.5-3.5z"/>
<path d="M296.9,1107.9l3.5,3.5-3.5,3.5-3.5-3.5z"/>
<path d="M298.2,1107.9l3.5,3.5-3.5,3.5-3.5-3.5z"/>
<path d="M299.4,1105.7l3.5,3.5-3.5,3.5-3.5-3.5z"/>
<path d="M300.7,1111.7l3.5,3.5-3.5,3.5-3.5-3.5z"/>
<path d="M301.9,1111.0l3.5,3.5-3.5,3.5-3.5-3.5z"/>
<path d="M303.1,1113.0l3.5,3.5-3.5,3.5-3.5-3.5z"/>
<path d="M304.4,1115.3l3.5,3.5-3.5,3.5-3.5-3.5z"/>
<path d="M305.6,1112.8l3.5,3.5-3.5,3.5-3.5-3.5z"/>
<path d="M306.9,1118.0l3.5,3.5-3.5,3.5-3.5-3.5z"/>
<path d="M308.1,1119.0l3.5,3.5-3.5,3.5-3.5-3.5z"/>
<path d="M309.4,1122.4l3.5,3.5-3.5,3.5-3.5-3.5z"/>
<path d="M310.6,1120.5l3.5,3.5-3.5,3.5-3.5-3.5z"/>
<path d="M311.9,1119.6l3.5,3.5-3.5,3.5-3.5-3.5z"/>
<path d="M313.1,1117.8l3.5,3.5-3.5,3.5-3.5-3.5z"/>
<path d="M314.3,1119.2l3.5,3.5-3.5,3.5-3.5-3.5z"/>
<path d="M315.6,1116.8l3.5,3.5-3.5,3.5-3.5-3.5z"/>
<path d="M316.8,1121.1l3.5,3.5-3.5,3.5-3.5-3.5z"/>
<path d="M318.1,1121.2l3.5,3.5-3.5,3.5-3.5-3.5z"/>
<path d="M319.3,1122.5l3.5,3.5-3.5,3.5-3.5-3.5z"/>
<path d="M320.6,1124.7l3.5,3.5-3.5,3.5-3.5-3.5z"/>
<path d="M321.8,1126.7l3.5,3.5-3.5,3.5-3.5-3.5z"/>
<path d="M323.1,1127.0l3.5,3.5-3.5,3.5-3.5-3.5z"/>
<path d="M324.3,1124.9l3.5,3.5-3.5,3.5-3.5-3.5z"/>
<path d="M325.5,1129.9l3.5,3.5-3.5,3.5-3.5-3.5z"/>
<path d="M326.8,1128.0l3.5,3.5-3.5,3.5-3.5-3.5z"/>
<path d="M328.0,1128.9l3.5,3.5-3.5,3.5-3.5-3.5z"/>
<path d="M329.3,1128.7l3.5,3.5-3.5,3.5-3.5-3.5z"/>
<path d="M330.5,1127.4l3.5,3.5-3.5,3.5-3.5-3.5z"/>
<path d="M331.8,1129.9l3.5,3.5-3.5,3.5-3.5-3.5z"/>
<path d="M333.0,1129.2l3.5,3.5-3.5,3.5-3.5-3.5z"/>
<path d="M334.3,1128.9l3.5,3.5-3.5,3.5-3.5-3.5z"/>
<path d="M335.5,1131.2l3.5,3.5-3.5,3.5-3.5-3.5z"/>
<path d="M336.7,1132.8l3.5,3.5-3.5,3.5-3.5-3.5z"/>
<path d="M338.0,1133.2l3.5,3.5-3.5,3.5-3.5-3.5z"/>
<path d="M339.2,1133.1l3.5,3.5-3.5,3.5-3.5-3.5z"/>
<path d="M340.5,1132.5l3.5,3.5-3.5,3.5-3.5-3.5z"/>
<path d="M341.7,1133.6l3.5,3.5-3.5,3.5-3.5-3.5z"/>
<path d="M343.0,1134.6l3.5,3.5-3.5,3.5-3.5-3.5z"/>
<path d="M344.2,1133.1l3.5,3.5-3.5,3.5-3.5-3.5z"/>
<path d="M345.5,1137.4l3.5,3.5-3.5,3.5-3.5-3.5z"/>
<path d="M346.7,1136.9l3.5,3.5-3.5,3.5-3.5-3.5z"/>
<path d="M347.9,1135.3l3.5,3.5-3.5,3.5-3.5-3.5z"/>
<path d="M349.2,1140.3l3.5,3.5-3.5,3.5-3.5-3.5z"/>
<path d="M884.2,724.2l3.5,3.5-3.5,3.5-3.5-3.5z"/>
<path d="M885.5,736.6l3.5,3.5-3.5,3.5-3.5-3.5z"/>
<path d="M886.7,712.7l3.5,3.5-3.5,3.5-3.5-3.5z"/>
<path d="M888.0,739.6l3.5,3.5-3.5,3.5-3.5-3.5z"/>
<path d="M889.2,742.9l3.5,3.5-3.5,3.5-3.5-3.5z"/>
<path d="M890.4,722.5l3.5,3.5-3.5,3.5-3.5-3.5z"/>
<path d="M891.7,732.5l3.5,3.5-3.5,3.5-3.5-3.5z"/>
<path d="M892.9,727.4l3.5,3.5-3.5,3.5-3.5-3.5z"/>
<path d="M894.2,718.0l3.5,3.5-3.5,3.5-3.5-3.5z"/>
<path d="M895.4,728.2l3.5,3.5-3.5,3.5-3.5-3.5z"/>
<path d="M896.7,729.0l3.5,3.5-3.5,3.5-3.5-3.5z"/>
<path d="M897.9,732.1l3.5,3.5-3.5,3.5-3.5-3.5z"/>
<path d="M899.2,722.0l3.5,3.5-3.5,3.5-3.5-3.5z"/>
<path d="M900.4,725.0l3.5,3.5-3.5,3.5-3.5-3.5z"/>
<path d="M901.6,719.5l3.5,3.5-3.5,3.5-3.5-3.5z"/>
<path d="M902.9,730.1l3.5,3.5-3.5,3.5-3.5-3.5z"/>
<path d="M904.1,722.4l3.5,3.5-3.5,3.5-3.5-3.5z"/>
<path d="M905.4,728.2l3.5,3.5-3.5,3.5-3.5-3.5z"/>
<path d="M906.6,718.2l3.5,3.5-3.5,3.5-3.5-3.5z"/>
<path d="M907.9,722.8l3.5,3.5-3.5,3.5-3.5-3.5z"/>
<path d="M909.1,716.4l3.5,3.5-3.5,3.5-3.5-3.5z"/>
<path d="M910.4,717.1l3.5,3.5-3.5,3.5-3.5-3.5z"/>
<path d="M911.6,727.3l3.5,3.5-3.5,3.5-3.5-3.5z"/>
<path d="M912.8,719.7l3.5,3.5-3.5,3.5-3.5-3.5z"/>
<path d="M914.1,719.9l3.5,3.5-3.5,3.5-3.5-3.5z"/>
<path d="M915.3,723.9l3.5,3.5-3.5,3.5-3.5-3.5z"/>
<path d="M916.6,715.5l3.5,3.5-3.5,3.5-3.5-3.5z"/>
<path d="M917.8,729.2l3.5,3.5-3.5,3.5-3.5-3.5z"/>
<path d="M919.1,715.3l3.5,3.5-3.5,3.5-3.5-3.5z"/>
<path d="M920.3,716.9l3.5,3.5-3.5,3.5-3.5-3.5z"/>
<path d="M921.6,728.7l3.5,3.5-3.5,3.5-3.5-3.5z"/>
<path d="M922.8,710.2l3.5,3.5-3.5,3.5-3.5-3.5z"/>
<path d="M924.0,725.8l3.5,3.5-3.5,3.5-3.5-3.5z"/>
<path d="M925.3,719.2l3.5,3.5-3.5,3.5-3.5-3.5z"/>
<path d="M926.5,719.4l3.5,3.5-3.5,3.5-3.5-3.5z"/>
<path d="M927.8,712.4l3.5,3.5-3.5,3.5-3.5-3.5z"/>
<path d="M929.0,717.3l3.5,3.5-3.5,3.5-3.5-3.5z"/>
<path d="M930.3,711.1l3.5,3.5-3.5,3.5-3.5-3.5z"/>
<path d="M931.5,719.9l3.5,3.5-3.5,3.5-3.5-3.5z"/>
<path d="M932.8,714.6l3.5,3.5-3.5,3.5-3.5-3.5z"/>
<path d="M934.0,712.8l3.5,3.5-3.5,3.5-3.5-3.5z"/>
<path d="M935.2,713.1l3.5,3.5-3.5,3.5-3.5-3.5z"/>
<path d="M936.5,714.1l3.5,3.5-3.5,3.5-3.5-3.5z"/>
<path d="M937.7,717.8l3.5,3.5-3.5,3.5-3.5-3.5z"/>
<path d="M939.0,715.3l3.5,3.5-3.5,3.5-3.5-3.5z"/>
<path d="M940.2,711.1l3.5,3.5-3.5,3.5-3.5-3.5z"/>
<path d="M941.5,710.4l3.5,3.5-3.5,3.5-3.5-3.5z"/>
<path d="M942.7,709.7l3.5,3.5-3.5,3.5-3.5-3.5z"/>
<path d="M944.0,715.2l3.5,3.5-3.5,3.5-3.5-3.5z"/>
<path d="M945.2,713.9l3.5,3.5-3.5,3.5-3.5-3.5z"/>
<path d="M946.4,708.7l3.5,3.5-3.5,3.5-3.5-3.5z"/>
<path d="M947.7,706.9l3.5,3.5-3.5,3.5-3.5-3.5z"/>
<path d="M948.9,711.3l3.5,3.5-3.5,3.5-3.5-3.5z"/>
<path d="M950.2,709.5l3.5,3.5-3.5,3.5-3.5-3.5z"/>
<path d="M951.4,712.3l3.5,3.5-3.5,3.5-3.5-3.5z"/>
<path d="M952.7,710.2l3.5,3.5-3.5,3.5-3.5-3.5z"/>
<path d="M953.9,711.2l3.5,3.5-3.5,3.5-3.5-3.5z"/>
<path d="M955.2,712.0l3.5,3.5-3.5,3.5-3.5-3.5z"/>
<path d="M956.4,712.3l3.5,3.5-3.5,3.5-3.5-3.5z"/>
<path d="M957.6,708.7l3.5,3.5-3.5,3.5-3.5-3.5z"/>
<path d="M958.9,710.7l3.5,3.5-3.5,3.5-3.5-3.5z"/>
<path d="M960.1,707.2l3.5,3.5-3.5,3.5-3.5-3.5z"/>
<path d="M961.4,705.4l3.5,3.5-3.5,3.5-3.5-3.5z"/>
<path d="M962.6,708.5l3.5,3.5-3.5,3.5-3.5-3.5z"/>
<path d="M963.9,710.4l3.5,3.5-3.5,3.5-3.5-3.5z"/>
<path d="M965.1,710.6l3.5,3.5-3.5,3.5-3.5-3.5z"/>
<path d="M966.4,706.9l3.5,3.5-3.5,3.5-3.5-3.5z"/>
<path d="M967.6,703.0l3.5,3.5-3.5,3.5-3.5-3.5z"/>
<path d="M968.8,707.1l3.5,3.5-3.5,3.5-3.5-3.5z"/>
<path d="M970.1,705.7l3.5,3.5-3.5,3.5-3.5-3.5z"/>
<path d="M971.3,707.1l3.5,3.5-3.5,3.5-3.5-3.5z"/>
<path d="M972.6,707.7l3.5,3.5-3.5,3.5-3.5-3.5z"/>
<path d="M973.8,704.3l3.5,3.5-3.5,3.5-3.5-3.5z"/>
<path d="M975.1,703.5l3.5,3.5-3.5,3.5-3.5-3.5z"/>
<path d="M976.3,703.8l3.5,3.5-3.5,3.5-3.5-3.5z"/>
<path d="M977.5,703.0l3.5,3.5-3.5,3.5-3.5-3.5z"/>
<path d="M978.8,702.1l3.5,3.5-3.5,3.5-3.5-3.5z"/>
<path d="M980.0,704.0l3.5,3.5-3.5,3.5-3.5-3.5z"/>
<path d="M981.3,702.0l3.5,3.5-3.5,3.5-3.5-3.5z"/>
<path d="M982.5,702.5l3.5,3.5-3.5,3.5-3.5-3.5z"/>
<path d="M983.8,702.1l3.5,3.5-3.5,3.5-3.5-3.5z"/>
<path d="M985.0,701.3l3.5,3.5-3.5,3.5-3.5-3.5z"/>
<path d="M986.3,703.0l3.5,3.5-3.5,3.5-3.5-3.5z"/>
<path d="M987.5,701.0l3.5,3.5-3.5,3.5-3.5-3.5z"/>
<path d="M1513.8,697.2l3.5,3.5-3.5,3.5-3.5-3.5z"/>
<path d="M1515.1,701.0l3.5,3.5-3.5,3.5-3.5-3.5z"/>
<path d="M1516.3,690.1l3.5,3.5-3.5,3.5-3.5-3.5z"/>
<path d="M1517.6,692.1l3.5,3.5-3.5,3.5-3.5-3.5z"/>
<path d="M1518.8,699.8l3.5,3.5-3.5,3.5-3.5-3.5z"/>
<path d="M1520.1,699.3l3.5,3.5-3.5,3.5-3.5-3.5z"/>
<path d="M1521.3,691.6l3.5,3.5-3.5,3.5-3.5-3.5z"/>
<path d="M1522.5,696.8l3.5,3.5-3.5,3.5-3.5-3.5z"/>
<path d="M1523.8,700.2l3.5,3.5-3.5,3.5-3.5-3.5z"/>
<path d="M1525.0,699.0l3.5,3.5-3.5,3.5-3.5-3.5z"/>
<path d="M1526.3,702.3l3.5,3.5-3.5,3.5-3.5-3.5z"/>
<path d="M1527.5,701.7l3.5,3.5-3.5,3.5-3.5-3.5z"/>
<path d="M1528.8,700.2l3.5,3.5-3.5,3.5-3.5-3.5z"/>
<path d="M1530.0,704.3l3.5,3.5-3.5,3.5-3.5-3.5z"/>
<path d="M1531.3,703.3l3.5,3.5-3.5,3.5-3.5-3.5z"/>
<path d="M1532.5,708.5l3.5,3.5-3.5,3.5-3.5-3.5z"/>
</g>
<path class="c" stroke="#800077" d="M226.0,1026.9 226.5,1027.8 227.0,1029.0 227.5,1030.4 228.0,1032.0 228.5,1033.8 229.0,1035.8 229.5,1037.9 230.0,1040.2 230.5,1042.6 231.0,1045.1 231.5,1047.6 232.0,1050.4 232.5,1053.9 233.0,1057.8 233.5,1061.8 234.0,1065.7 234.5,1069.3 235.0,1072.4 235.5,1075.4 236.0,1078.4 236.5,1081.3 237.0,1084.0 237.5,1086.6 238.0,1089.0 238.5,1091.1 239.0,1093.0 239.5,1094.7 240.0,1096.3 240.5,1097.7 241.0,1099.1 241.5,1100.5 242.0,1101.8 242.5,1103.2 243.0,1104.7 243.5,1106.3 244.0,1108.1 244.5,1110.1 245.0,1112.3 245.5,1114.5 246.0,1116.7 246.5,1119.0 247.0,1121.4 247.5,1124.3 248.0,1126.8 248.5,1128.1 249.0,1127.9 249.5,1127.3 250.0,1126.2 250.5,1124.7 251.0,1123.0 251.5,1121.0 252.0,1118.9 252.5,1115.8 253.0,1111.4 253.5,1106.2 254.0,1100.9 254.5,1095.8 255.0,1090.9 255.5,1085.7 256.0,1080.5 256.5,1075.3 257.0,1070.2 257.5,1065.0 258.0,1059.6 258.5,1054.3 259.0,1049.5 259.5,1045.4 260.0,1042.0 260.5,1038.6 261.0,1035.6 261.5,1033.3 262.0,1032.0 262.5,1031.6 263.0,1031.2 263.5,1031.0 264.0,1030.8 264.5,1030.7 265.0,1030.7 265.5,1030.9 266.0,1031.1 266.5,1031.5 267.0,1031.9 267.5,1032.5 268.0,1033.1 268.5,1033.8 269.0,1034.5 269.5,1035.3 270.0,1036.2 270.5,1037.5 271.0,1039.3 271.5,1041.3 272.0,1043.4 272.5,1045.5 273.0,1047.8 273.5,1050.2 274.0,1052.7 274.5,1055.3 275.0,1058.1 275.5,1061.1 276.0,1064.5 276.5,1067.8 277.0,1070.8 277.5,1073.2 278.0,1075.3 278.5,1077.1 279.0,1078.8 279.5,1080.4 280.0,1081.8 280.5,1083.3 281.0,1084.7 281.5,1086.2 282.0,1087.7 282.5,1089.1 283.0,1090.5 283.5,1091.9 284.0,1093.2 284.5,1094.4 285.0,1095.6 285.5,1096.6 286.0,1097.7 286.5,1098.7 287.0,1099.6 287.5,1100.5 288.0,1101.4 288.5,1102.2 289.0,1103.0 289.5,1103.8 290.0,1104.4 290.5,1105.1 291.0,1105.7 291.5,1106.2 292.0,1106.8 292.5,1107.3 293.0,1107.8 293.5,1108.2 294.0,1108.7 294.5,1109.1 295.0,1109.6 295.5,1110.0 296.0,1110.5 296.5,1111.0 297.0,1111.5 297.5,1112.0 298.0,1112.5 298.5,1113.0 299.0,1113.6 299.5,1114.1 300.0,1114.6 300.5,1115.1 301.0,1115.6 301.5,1116.1 302.0,1116.6 302.5,1117.0 303.0,1117.5 303.5,1118.0 304.0,1118.4 304.5,1118.9 305.0,1119.4 305.5,1119.8 306.0,1120.3 306.5,1120.7 307.0,1121.1 307.5,1121.5 308.0,1121.9 308.5,1122.2 309.0,1122.5 309.5,1122.7 310.0,1122.9 310.5,1123.0 311.0,1123.2 311.5,1123.3 312.0,1123.4 312.5,1123.5 313.0,1123.7 313.5,1123.8 314.0,1123.9 314.5,1124.1 315.0,1124.2 315.5,1124.4 316.0,1124.7 316.5,1125.0 317.0,1125.4 317.5,1125.8 318.0,1126.3 318.5,1126.8 319.0,1127.4 319.5,1127.9 320.0,1128.4 320.5,1128.9 321.0,1129.4 321.5,1129.8 322.0,1130.1 322.5,1130.4 323.0,1130.7 323.5,1130.9 324.0,1131.2 324.5,1131.4 325.0,1131.6 325.5,1131.8 326.0,1132.0 326.5,1132.2 327.0,1132.4 327.5,1132.6 328.0,1132.8 328.5,1133.0 329.0,1133.1 329.5,1133.3 330.0,1133.5 330.5,1133.6 331.0,1133.8 331.5,1134.0 332.0,1134.2 332.5,1134.3 333.0,1134.5 333.5,1134.7 334.0,1134.9 334.5,1135.1 335.0,1135.3 335.5,1135.6 336.0,1135.8 336.5,1136.0 337.0,1136.3 337.5,1136.5 338.0,1136.8 338.5,1137.0 339.0,1137.3 339.5,1137.5 340.0,1137.8 340.5,1138.1 341.0,1138.3 341.5,1138.6 342.0,1138.8 342.5,1139.1 343.0,1139.4 343.5,1139.6 344.0,1139.9 344.5,1140.1 345.0,1140.4 345.5,1140.7 346.0,1140.9 346.5,1141.2 347.0,1141.4 347.5,1141.7 348.0,1141.9 348.5,1142.1 349.0,1142.4 349.5,1142.6 350.0,1142.9 350.5,1143.1 351.0,1143.4 351.5,1143.6 352.0,1143.9 352.5,1144.1 353.0,1144.3 353.5,1144.6 354.0,1144.8 354.5,1145.1 355.0,1145.3 355.5,1145.5 356.0,1145.8 356.5,1146.0 357.0,1146.2 357.5,1146.4 358.0,1146.6 358.5,1146.8 359.0,1147.0 359.5,1147.2 360.0,1147.4 360.5,1147.6 361.0,1147.8 361.5,1147.9 362.0,1148.1 362.5,1148.3 363.0,1148.4 363.5,1148.6 364.0,1148.8 364.5,1148.9 365.0,1149.1 365.5,1149.2 366.0,1149.4 366.5,1149.5 367.0,1149.7 367.5,1149.8 368.0,1149.9 368.5,1150.1 369.0,1150.2 369.5,1150.4 370.0,1150.5 370.5,1150.6 371.0,1150.8 371.5,1150.9 372.0,1151.1 372.5,1151.2 373.0,1151.3 373.5,1151.5 374.0,1151.6 374.5,1151.8 375.0,1151.9 375.5,1152.1 376.0,1152.2 376.5,1152.4 377.0,1152.5 377.5,1152.7 378.0,1152.8 378.5,1152.9 379.0,1153.1 379.5,1153.2 380.0,1153.4 380.5,1153.5 381.0,1153.6 381.5,1153.8 382.0,1153.9 382.5,1154.0 383.0,1154.2 383.5,1154.3 384.0,1154.4 384.5,1154.5 385.0,1154.6 385.5,1154.7 386.0,1154.8 386.5,1154.9 387.0,1155.0 387.5,1155.1 388.0,1155.2 388.5,1155.3 389.0,1155.3 389.5,1155.4 390.0,1155.5 390.5,1155.6 391.0,1155.7 391.5,1155.7 392.0,1155.8 392.5,1155.9 393.0,1156.0 393.5,1156.0 394.0,1156.1 394.5,1156.2 395.0,1156.2 395.5,1156.3 396.0,1156.4 396.5,1156.4 397.0,1156.5 397.5,1156.6 398.0,1156.6 398.5,1156.7 399.0,1156.7 399.5,1156.8 400.0,1156.8 400.5,1156.9 401.0,1157.0 401.5,1157.0 402.0,1157.1 402.5,1157.1 403.0,1157.2 403.5,1157.3 404.0,1157.3 404.5,1157.4 405.0,1157.4 405.5,1157.5 406.0,1157.5 406.5,1157.6 407.0,1157.6 407.5,1157.6 408.0,1157.7 408.5,1157.7 409.0,1157.7 409.5,1157.8 410.0,1157.8 410.5,1157.8 411.0,1157.8 411.5,1157.8 412.0,1157.8 412.5,1157.8 413.0,1157.7 413.5,1157.7 414.0,1157.7 414.5,1157.6 415.0,1157.6 415.5,1157.5 416.0,1157.5 416.5,1157.4 417.0,1157.4 417.5,1157.3 418.0,1157.2 418.5,1157.2 419.0,1157.1 419.5,1157.0 420.0,1157.0 420.5,1156.9 421.0,1156.9 421.5,1156.8 422.0,1156.7 422.5,1156.6 423.0,1156.5 423.5,1156.4 424.0,1156.4 424.5,1156.3 425.0,1156.2 425.5,1156.1 426.0,1156.0 426.5,1155.8 427.0,1155.7 427.5,1155.6 428.0,1155.5 428.5,1155.4 429.0,1155.3 429.5,1155.1 430.0,1155.0 430.5,1154.9 431.0,1154.8 431.5,1154.6 432.0,1154.5 432.5,1154.4 433.0,1154.3 433.5,1154.1 434.0,1154.0 434.5,1153.9 435.0,1153.7 435.5,1153.6 436.0,1153.5 436.5,1153.3 437.0,1153.2 437.5,1153.0 438.0,1152.9 438.5,1152.7 439.0,1152.6 439.5,1152.4 440.0,1152.3 441.5,1151.8 443.0,1151.3 444.5,1150.8 446.0,1150.4 447.5,1149.8 449.0,1149.3 450.5,1148.8 452.0,1148.2 453.5,1147.6 455.0,1147.0 456.5,1146.4 458.0,1145.8 459.5,1145.2 461.0,1144.5 462.5,1143.9 464.0,1143.2 465.5,1142.5 467.0,1141.8 468.5,1141.1 470.0,1140.3 471.5,1139.6 473.0,1138.8 474.5,1138.0 476.0,1137.2 477.5,1136.4 479.0,1135.5 480.5,1134.7 482.0,1133.8 483.5,1132.9 485.0,1132.0 486.5,1131.0 488.0,1130.1 489.5,1129.1 491.0,1128.1 492.5,1127.1 494.0,1126.0 495.5,1125.0 497.0,1123.9 498.5,1122.8 500.0,1121.7 501.5,1120.5 503.0,1119.3 504.5,1118.1 506.0,1116.9 507.5,1115.7 509.0,1114.4 510.5,1113.1 512.0,1111.8 513.5,1110.5 515.0,1109.1 516.5,1107.8 518.0,1106.4 519.5,1105.0 521.0,1103.5 522.5,1102.1 524.0,1100.6 525.5,1099.1 527.0,1097.6 528.5,1096.1 530.0,1094.6 531.5,1093.0 533.0,1091.4 534.5,1089.8 536.0,1088.2 537.5,1086.6 539.0,1084.9 540.5,1083.3 542.0,1081.6 543.5,1079.9 545.0,1078.1 546.5,1076.4 548.0,1074.7 549.5,1072.9 551.0,1071.1 552.5,1069.3 554.0,1067.5 555.5,1065.7 557.0,1063.8 558.5,1062.0 560.0,1060.1 561.5,1058.2 563.0,1056.3 564.5,1054.4 566.0,1052.5 567.5,1050.6 569.0,1048.7 570.5,1046.7 572.0,1044.8 573.5,1042.8 575.0,1040.8 576.5,1038.9 578.0,1036.9 579.5,1034.9 581.0,1032.9 582.5,1030.9 584.0,1028.9 585.5,1026.9 587.0,1024.9 588.5,1022.9 590.0,1020.9 591.5,1018.9 593.0,1016.8 594.5,1014.8 596.0,1012.8 597.5,1010.8 599.0,1008.8 600.5,1006.7 602.0,1004.7 603.5,1002.7 605.0,1000.7 606.5,998.7 608.0,996.7 609.5,994.7 611.0,992.7 612.5,990.7 614.0,988.7 615.5,986.7 617.0,984.7 618.5,982.7 620.0,980.7 621.5,978.8 623.0,976.8 624.5,974.8 626.0,972.9 627.5,970.9 629.0,969.0 630.5,967.0 632.0,965.1 633.5,963.1 635.0,961.2 636.5,959.3 638.0,957.4 639.5,955.5 641.0,953.6 642.5,951.7 644.0,949.8 645.5,947.9 647.0,946.1 648.5,944.2 650.0,942.3 651.5,940.5 653.0,938.6 654.5,936.8 656.0,935.0 657.5,933.1 659.0,931.3 660.5,929.5 662.0,927.6 663.5,925.8 665.0,924.0 666.5,922.2 668.0,920.4 669.5,918.5 671.0,916.7 672.5,914.9 674.0,913.1 675.5,911.2 677.0,909.4 678.5,907.6 680.0,905.8 681.5,903.9 683.0,902.1 684.5,900.3 686.0,898.4 687.5,896.6 689.0,894.7 690.5,892.9 692.0,891.0 693.5,889.2 695.0,887.3 696.5,885.5 698.0,883.6 699.5,881.8 701.0,879.9 702.5,878.0 704.0,876.2 705.5,874.3 707.0,872.5 708.5,870.6 710.0,868.8 711.5,867.0 713.0,865.1 714.5,863.3 716.0,861.4 717.5,859.6 719.0,857.8 720.5,856.0 722.0,854.2 723.5,852.4 725.0,850.6 726.5,848.8 728.0,847.0 729.5,845.3 731.0,843.5 732.5,841.8 734.0,840.0 735.5,838.3 737.0,836.6 738.5,834.9 740.0,833.2 741.5,831.5 743.0,829.8 744.5,828.2 746.0,826.5 747.5,824.9 749.0,823.3 750.5,821.7 752.0,820.1 753.5,818.5 755.0,816.9 756.5,815.4 758.0,813.9 759.5,812.3 761.0,810.8 762.5,809.3 764.0,807.9 765.5,806.4 767.0,804.9 768.5,803.5 770.0,802.1 771.5,800.7 773.0,799.3 774.5,797.9 776.0,796.5 777.5,795.2 779.0,793.8 780.5,792.5 782.0,791.2 783.5,789.9 785.0,788.6 786.5,787.3 788.0,786.0 789.5,784.8 791.0,783.5 792.5,782.3 794.0,781.1 795.5,779.9 797.0,778.7 798.5,777.6 800.0,776.4 801.5,775.3 803.0,774.1 804.5,773.0 806.0,771.9 807.5,770.8 809.0,769.8 810.5,768.7 812.0,767.7 813.5,766.6 815.0,765.6 816.5,764.6 818.0,763.6 819.5,762.6 821.0,761.7 822.5,760.7 824.0,759.8 825.5,758.9 827.0,758.0 828.5,757.1 830.0,756.2 831.5,755.3 833.0,754.5 834.5,753.6 836.0,752.8 837.5,752.0 839.0,751.2 840.5,750.4 842.0,749.6 843.5,748.9 845.0,748.1 846.5,747.4 848.0,746.7 849.5,746.0 851.0,745.3 852.5,744.6 854.0,743.9 855.5,743.3 857.0,742.6 858.5,742.0 860.0,741.4 861.5,740.8 863.0,740.2 864.5,739.6 866.0,739.0 867.5,738.4 869.0,737.9 870.5,737.3 872.0,736.8 873.5,736.3 875.0,735.7 876.5,735.2 878.0,734.7 879.5,734.2 881.0,733.7 882.5,733.3 884.0,732.8 885.5,732.3 887.0,731.9 888.5,731.4 890.0,731.0 891.5,730.5 893.0,730.1 894.5,729.7 896.0,729.2 897.5,728.8 899.0,728.4 900.5,728.0 902.0,727.6 903.5,727.2 905.0,726.8 906.5,726.4 908.0,726.0 909.5,725.6 911.0,725.2 912.5,724.9 914.0,724.5 915.5,724.1 917.0,723.7 918.5,723.3 920.0,723.0 921.5,722.6 923.0,722.2 924.5,721.9 926.0,721.5 927.5,721.1 929.0,720.7 930.5,720.4 932.0,720.0 933.5,719.6 935.0,719.3 936.5,718.9 938.0,718.5 939.5,718.1 941.0,717.8 942.5,717.4 944.0,717.0 945.5,716.7 947.0,716.3 948.5,715.9 950.0,715.6 951.5,715.2 953.0,714.8 954.5,714.4 956.0,714.1 957.5,713.7 959.0,713.3 960.5,713.0 962.0,712.6 963.5,712.2 965.0,711.9 966.5,711.5 968.0,711.1 969.5,710.7 971.0,710.4 972.5,710.0 974.0,709.6 975.5,709.2 977.0,708.9 978.5,708.5 980.0,708.1 981.5,707.7 983.0,707.4 984.5,707.0 986.0,706.6 987.5,706.2 989.0,705.9 990.5,705.5 992.0,705.1 993.5,704.7 995.0,704.3 996.5,703.9 998.0,703.6 999.5,703.2 1001.0,702.8 1002.5,702.4 1004.0,702.0 1005.5,701.6 1007.0,701.2 1008.5,700.8 1010.0,700.5 1011.5,700.1 1013.0,699.7 1014.5,699.3 1016.0,698.9 1017.5,698.5 1019.0,698.1 1020.5,697.7 1022.0,697.3 1023.5,696.9 1025.0,696.5 1026.5,696.0 1028.0,695.6 1029.5,695.2 1031.0,694.8 1032.5,694.4 1034.0,694.0 1035.5,693.6 1037.0,693.2 1038.5,692.8 1040.0,692.4 1041.5,691.9 1043.0,691.5 1044.5,691.1 1046.0,690.7 1047.5,690.3 1049.0,689.9 1050.5,689.5 1052.0,689.1 1053.5,688.7 1055.0,688.2 1056.5,687.8 1058.0,687.4 1059.5,687.0 1061.0,686.6 1062.5,686.2 1064.0,685.8 1065.5,685.4 1067.0,685.0 1068.5,684.6 1070.0,684.2 1071.5,683.8 1073.0,683.4 1074.5,683.0 1076.0,682.6 1077.5,682.2 1079.0,681.9 1080.5,681.5 1082.0,681.1 1083.5,680.7 1085.0,680.3 1086.5,680.0 1088.0,679.6 1089.5,679.2 1091.0,678.8 1092.5,678.5 1094.0,678.1 1095.5,677.8 1097.0,677.4 1098.5,677.1 1100.0,676.7 1101.5,676.4 1103.0,676.0 1104.5,675.7 1106.0,675.3 1107.5,675.0 1109.0,674.7 1110.5,674.4 1112.0,674.0 1113.5,673.7 1115.0,673.4 1116.5,673.1 1118.0,672.8 1119.5,672.5 1121.0,672.1 1122.5,671.8 1124.0,671.5 1125.5,671.2 1127.0,670.9 1128.5,670.7 1130.0,670.4 1131.5,670.1 1133.0,669.8 1134.5,669.5 1136.0,669.2 1137.5,668.9 1139.0,668.7 1140.5,668.4 1142.0,668.1 1143.5,667.9 1145.0,667.6 1146.5,667.3 1148.0,667.1 1149.5,666.8 1151.0,666.6 1152.5,666.3 1154.0,666.1 1155.5,665.8 1157.0,665.6 1158.5,665.3 1160.0,665.1 1161.5,664.8 1163.0,664.6 1164.5,664.4 1166.0,664.1 1167.5,663.9 1169.0,663.7 1170.5,663.5 1172.0,663.2 1173.5,663.0 1175.0,662.8 1176.5,662.6 1178.0,662.4 1179.5,662.1 1181.0,661.9 1182.5,661.7 1184.0,661.5 1185.5,661.3 1187.0,661.1 1188.5,660.9 1190.0,660.7 1191.5,660.5 1193.0,660.3 1194.5,660.1 1196.0,659.9 1197.5,659.7 1199.0,659.5 1200.5,659.3 1202.0,659.2 1203.5,659.0 1205.0,658.8 1206.5,658.6 1208.0,658.4 1209.5,658.3 1211.0,658.1 1212.5,657.9 1214.0,657.8 1215.5,657.6 1217.0,657.5 1218.5,657.4 1220.0,657.2 1221.5,657.1 1223.0,657.0 1224.5,656.9 1226.0,656.8 1227.5,656.7 1229.0,656.6 1230.5,656.6 1232.0,656.5 1233.5,656.5 1235.0,656.5 1236.5,656.4 1238.0,656.4 1239.5,656.4 1241.0,656.4 1242.5,656.5 1244.0,656.5 1245.5,656.6 1247.0,656.6 1248.5,656.7 1250.0,656.8 1251.5,656.9 1253.0,657.1 1254.5,657.2 1256.0,657.3 1257.5,657.5 1259.0,657.6 1260.5,657.8 1262.0,657.9 1263.5,658.1 1265.0,658.2 1266.5,658.4 1268.0,658.5 1269.5,658.7 1271.0,658.8 1272.5,658.9 1274.0,659.1 1275.5,659.2 1277.0,659.3 1278.5,659.4 1280.0,659.5 1281.5,659.6 1283.0,659.7 1284.5,659.8 1286.0,659.9 1287.5,659.9 1289.0,660.0 1290.5,660.0 1292.0,660.0 1293.5,660.1 1295.0,660.1 1296.5,660.1 1298.0,660.1 1299.5,660.1 1301.0,660.0 1302.5,660.0 1304.0,660.0 1305.5,659.9 1307.0,659.8 1308.5,659.8 1310.0,659.7 1311.5,659.7 1313.0,659.6 1314.5,659.5 1316.0,659.4 1317.5,659.3 1319.0,659.3 1320.5,659.2 1322.0,659.1 1323.5,659.0 1325.0,659.0 1326.5,658.9 1328.0,658.8 1329.5,658.8 1331.0,658.7 1332.5,658.6 1334.0,658.6 1335.5,658.6 1337.0,658.5 1338.5,658.5 1340.0,658.5 1341.5,658.5 1343.0,658.5 1344.5,658.5 1346.0,658.5 1347.5,658.6 1349.0,658.6 1350.5,658.7 1352.0,658.8 1353.5,658.9 1355.0,659.0 1356.5,659.1 1358.0,659.3 1359.5,659.4 1361.0,659.6 1362.5,659.7 1364.0,659.9 1365.5,660.1 1367.0,660.3 1368.5,660.5 1370.0,660.7 1371.5,661.0 1373.0,661.2 1374.5,661.4 1376.0,661.7 1377.5,662.0 1379.0,662.2 1380.5,662.5 1382.0,662.8 1383.5,663.1 1385.0,663.4 1386.5,663.7 1388.0,664.0 1389.5,664.4 1391.0,664.7 1392.5,665.0 1394.0,665.4 1395.5,665.7 1397.0,666.1 1398.5,666.4 1400.0,666.8 1401.5,667.1 1403.0,667.5 1404.5,667.9 1406.0,668.2 1407.5,668.6 1409.0,669.0 1410.5,669.4 1412.0,669.7 1413.5,670.1 1415.0,670.5 1416.5,670.9 1418.0,671.3 1419.5,671.7 1421.0,672.1 1422.5,672.5 1424.0,672.8 1425.5,673.2 1427.0,673.6 1428.5,674.0 1430.0,674.4 1431.5,674.8 1433.0,675.2 1434.5,675.6 1436.0,675.9 1437.5,676.3 1439.0,676.7 1440.5,677.1 1442.0,677.5 1443.5,677.9 1445.0,678.3 1446.5,678.7 1448.0,679.1 1449.5,679.4 1451.0,679.8 1452.5,680.2 1454.0,680.6 1455.5,681.0 1457.0,681.5 1458.5,681.9 1460.0,682.3 1461.5,682.7 1463.0,683.1 1464.5,683.5 1466.0,683.9 1467.5,684.4 1469.0,684.8 1470.5,685.2 1472.0,685.7 1473.5,686.1 1475.0,686.6 1476.5,687.0 1478.0,687.5 1479.5,687.9 1481.0,688.4 1482.5,688.9 1484.0,689.3 1485.5,689.8 1487.0,690.3 1488.5,690.8 1490.0,691.3 1491.5,691.8 1493.0,692.3 1494.5,692.8 1496.0,693.4 1497.5,693.9 1499.0,694.4 1500.5,695.0 1502.0,695.5 1503.5,696.1 1505.0,696.7 1506.5,697.2 1508.0,697.8 1509.5,698.4 1511.0,699.0 1512.5,699.6 1514.0,700.3 1515.5,700.9 1517.0,701.5 1518.5,702.2 1520.0,702.8 1521.5,703.5 1523.0,704.2 1524.5,704.8 1526.0,705.5 1527.5,706.2 1529.0,706.9 1530.5,707.7 1532.0,708.4 1533.0,708.9"/>
<g fill="#bf003c" fill-opacity="0.4">
<path fill-opacity="0.55" d="M343.0,1093.7l3.5,3.5-3.5,3.5-3.5-3.5zM344.2,1088.8l3.5,3.5-3.5,3.5-3.5-3.5zM345.5,1090.8l3.5,3.5-3.5,3.5-3.5-3.5zM346.7,1093.7l3.5,3.5-3.5,3.5-3.5-3.5zM347.9,1092.3l3.5,3.5-3.5,3.5-3.5-3.5zM349.2,1093.7l3.5,3.5-3.5,3.5-3.5-3.5zM350.4,1091.7l3.5,3.5-3.5,3.5-3.5-3.5zM351.7,1095.7l3.5,3.5-3.5,3.5-3.5-3.5zM352.9,1094.9l3.5,3.5-3.5,3.5-3.5-3.5zM354.2,1096.6l3.5,3.5-3.5,3.5-3.5-3.5zM355.4,1095.0l3.5,3.5-3.5,3.5-3.5-3.5zM356.6,1096.2l3.5,3.5-3.5,3.5-3.5-3.5zM357.9,1096.5l3.5,3.5-3.5,3.5-3.5-3.5zM359.1,1101.0l3.5,3.5-3.5,3.5-3.5-3.5zM360.4,1096.7l3.5,3.5-3.5,3.5-3.5-3.5zM361.6,1100.7l3.5,3.5-3.5,3.5-3.5-3.5zM362.9,1101.1l3.5,3.5-3.5,3.5-3.5-3.5zM364.1,1103.3l3.5,3.5-3.5,3.5-3.5-3.5zM365.4,1102.5l3.5,3.5-3.5,3.5-3.5-3.5zM366.6,1101.3l3.5,3.5-3.5,3.5-3.5-3.5zM367.8,1104.2l3.5,3.5-3.5,3.5-3.5-3.5zM369.1,1101.7l3.5,3.5-3.5,3.5-3.5-3.5zM370.3,1106.2l3.5,3.5-3.5,3.5-3.5-3.5zM371.6,1105.1l3.5,3.5-3.5,3.5-3.5-3.5zM372.8,1104.6l3.5,3.5-3.5,3.5-3.5-3.5zM374.1,1105.3l3.5,3.5-3.5,3.5-3.5-3.5zM375.3,1107.1l3.5,3.5-3.5,3.5-3.5-3.5zM376.6,1104.3l3.5,3.5-3.5,3.5-3.5-3.5zM377.8,1109.3l3.5,3.5-3.5,3.5-3.5-3.5zM379.0,1106.3l3.5,3.5-3.5,3.5-3.5-3.5zM380.3,1109.5l3.5,3.5-3.5,3.5-3.5-3.5zM381.5,1107.9l3.5,3.5-3.5,3.5-3.5-3.5zM382.8,1110.5l3.5,3.5-3.5,3.5-3.5-3.5zM384.0,1106.5l3.5,3.5-3.5,3.5-3.5-3.5zM385.3,1109.4l3.5,3.5-3.5,3.5-3.5-3.5zM386.5,1108.3l3.5,3.5-3.5,3.5-3.5-3.5zM387.8,1107.7l3.5,3.5-3.5,3.5-3.5-3.5zM389.0,1109.8l3.5,3.5-3.5,3.5-3.5-3.5zM390.2,1108.5l3.5,3.5-3.5,3.5-3.5-3.5zM391.5,1108.0l3.5,3.5-3.5,3.5-3.5-3.5zM392.7,1108.8l3.5,3.5-3.5,3.5-3.5-3.5zM394.0,1108.2l3.5,3.5-3.5,3.5-3.5-3.5zM395.2,1109.0l3.5,3.5-3.5,3.5-3.5-3.5zM396.5,1109.3l3.5,3.5-3.5,3.5-3.5-3.5zM397.7,1110.8l3.5,3.5-3.5,3.5-3.5-3.5zM399.0,1109.3l3.5,3.5-3.5,3.5-3.5-3.5zM400.2,1108.4l3.5,3.5-3.5,3.5-3.5-3.5zM401.4,1110.2l3.5,3.5-3.5,3.5-3.5-3.5zM402.7,1108.7l3.5,3.5-3.5,3.5-3.5-3.5zM403.9,1107.8l3.5,3.5-3.5,3.5-3.5-3.5zM405.2,1107.3l3.5,3.5-3.5,3.5-3.5-3.5zM406.4,1110.7l3.5,3.5-3.5,3.5-3.5-3.5zM407.7,1108.2l3.5,3.5-3.5,3.5-3.5-3.5zM408.9,1110.0l3.5,3.5-3.5,3.5-3.5-3.5zM410.2,1106.7l3.5,3.5-3.5,3.5-3.5-3.5zM411.4,1106.4l3.5,3.5-3.5,3.5-3.5-3.5zM412.6,1109.4l3.5,3.5-3.5,3.5-3.5-3.5zM413.9,1106.6l3.5,3.5-3.5,3.5-3.5-3.5zM415.1,1106.2l3.5,3.5-3.5,3.5-3.5-3.5zM416.4,1105.6l3.5,3.5-3.5,3.5-3.5-3.5zM417.6,1104.1l3.5,3.5-3.5,3.5-3.5-3.5zM418.9,1106.0l3.5,3.5-3.5,3.5-3.5-3.5zM420.1,1102.9l3.5,3.5-3.5,3.5-3.5-3.5zM421.4,1104.6l3.5,3.5-3.5,3.5-3.5-3.5zM422.6,1102.0l3.5,3.5-3.5,3.5-3.5-3.5zM423.8,1105.7l3.5,3.5-3.5,3.5-3.5-3.5zM425.1,1102.9l3.5,3.5-3.5,3.5-3.5-3.5zM426.3,1102.8l3.5,3.5-3.5,3.5-3.5-3.5zM427.6,1099.0l3.5,3.5-3.5,3.5-3.5-3.5zM428.8,1100.7l3.5,3.5-3.5,3.5-3.5-3.5zM430.1,1099.0l3.5,3.5-3.5,3.5-3.5-3.5zM431.3,1098.1l3.5,3.5-3.5,3.5-3.5-3.5zM432.6,1097.5l3.5,3.5-3.5,3.5-3.5-3.5zM433.8,1098.8l3.5,3.5-3.5,3.5-3.5-3.5zM435.0,1097.3l3.5,3.5-3.5,3.5-3.5-3.5zM436.3,1096.1l3.5,3.5-3.5,3.5-3.5-3.5zM437.5,1095.5l3.5,3.5-3.5,3.5-3.5-3.5zM438.8,1094.8l3.5,3.5-3.5,3.5-3.5-3.5zM440.0,1094.3l3.5,3.5-3.5,3.5-3.5-3.5zM441.3,1093.8l3.5,3.5-3.5,3.5-3.5-3.5zM442.5,1092.4l3.5,3.5-3.5,3.5-3.5-3.5zM443.8,1091.9l3.5,3.5-3.5,3.5-3.5-3.5zM445.0,1089.9l3.5,3.5-3.5,3.5-3.5-3.5zM446.2,1091.2l3.5,3.5-3.5,3.5-3.5-3.5zM447.5,1091.0l3.5,3.5-3.5,3.5-3.5-3.5zM448.7,1089.2l3.5,3.5-3.5,3.5-3.5-3.5zM450.0,1090.1l3.5,3.5-3.5,3.5-3.5-3.5zM451.2,1087.3l3.5,3.5-3.5,3.5-3.5-3.5zM452.5,1087.2l3.5,3.5-3.5,3.5-3.5-3.5zM453.7,1087.4l3.5,3.5-3.5,3.5-3.5-3.5zM454.9,1085.6l3.5,3.5-3.5,3.5-3.5-3.5zM456.2,1083.8l3.5,3.5-3.5,3.5-3.5-3.5zM457.4,1083.9l3.5,3.5-3.5,3.5-3.5-3.5zM458.7,1082.2l3.5,3.5-3.5,3.5-3.5-3.5zM459.9,1082.6l3.5,3.5-3.5,3.5-3.5-3.5zM461.2,1081.3l3.5,3.5-3.5,3.5-3.5-3.5zM462.4,1079.3l3.5,3.5-3.5,3.5-3.5-3.5zM463.7,1078.9l3.5,3.5-3.5,3.5-3.5-3.5zM464.9,1079.0l3.5,3.5-3.5,3.5-3.5-3.5zM466.1,1077.3l3.5,3.5-3.5,3.5-3.5-3.5zM467.4,1075.9l3.5,3.5-3.5,3.5-3.5-3.5zM468.6,1073.8l3.5,3.5-3.5,3.5-3.5-3.5zM469.9,1072.3l3.5,3.5-3.5,3.5-3.5-3.5zM471.1,1070.9l3.5,3.5-3.5,3.5-3.5-3.5zM472.4,1071.3l3.5,3.5-3.5,3.5-3.5-3.5zM473.6,1068.2l3.5,3.5-3.5,3.5-3.5-3.5zM474.9,1068.2l3.5,3.5-3.5,3.5-3.5-3.5zM476.1,1068.1l3.5,3.5-3.5,3.5-3.5-3.5zM477.3,1063.9l3.5,3.5-3.5,3.5-3.5-3.5zM478.6,1064.3l3.5,3.5-3.5,3.5-3.5-3.5zM479.8,1061.8l3.5,3.5-3.5,3.5-3.5-3.5zM481.1,1061.2l3.5,3.5-3.5,3.5-3.5-3.5zM482.3,1060.4l3.5,3.5-3.5,3.5-3.5-3.5zM483.6,1057.7l3.5,3.5-3.5,3.5-3.5-3.5zM484.8,1056.0l3.5,3.5-3.5,3.5-3.5-3.5zM486.1,1055.4l3.5,3.5-3.5,3.5-3.5-3.5zM487.3,1054.6l3.5,3.5-3.5,3.5-3.5-3.5zM488.5,1052.6l3.5,3.5-3.5,3.5-3.5-3.5zM489.8,1050.6l3.5,3.5-3.5,3.5-3.5-3.5zM491.0,1050.7l3.5,3.5-3.5,3.5-3.5-3.5zM492.3,1047.5l3.5,3.5-3.5,3.5-3.5-3.5zM493.5,1045.8l3.5,3.5-3.5,3.5-3.5-3.5zM494.8,1045.7l3.5,3.5-3.5,3.5-3.5-3.5zM496.0,1046.1l3.5,3.5-3.5,3.5-3.5-3.5zM497.3,1042.1l3.5,3.5-3.5,3.5-3.5-3.5zM498.5,1041.0l3.5,3.5-3.5,3.5-3.5-3.5zM499.7,1038.6l3.5,3.5-3.5,3.5-3.5-3.5zM501.0,1037.5l3.5,3.5-3.5,3.5-3.5-3.5zM502.2,1035.5l3.5,3.5-3.5,3.5-3.5-3.5zM503.5,1035.2l3.5,3.5-3.5,3.5-3.5-3.5zM504.7,1032.8l3.5,3.5-3.5,3.5-3.5-3.5zM506.0,1031.1l3.5,3.5-3.5,3.5-3.5-3.5zM507.2,1031.1l3.5,3.5-3.5,3.5-3.5-3.5zM508.5,1027.4l3.5,3.5-3.5,3.5-3.5-3.5zM509.7,1028.0l3.5,3.5-3.5,3.5-3.5-3.5zM510.9,1025.4l3.5,3.5-3.5,3.5-3.5-3.5zM512.2,1023.1l3.5,3.5-3.5,3.5-3.5-3.5zM513.4,1022.4l3.5,3.5-3.5,3.5-3.5-3.5zM514.7,1020.6l3.5,3.5-3.5,3.5-3.5-3.5zM515.9,1019.5l3.5,3.5-3.5,3.5-3.5-3.5zM517.2,1017.4l3.5,3.5-3.5,3.5-3.5-3.5zM518.4,1017.7l3.5,3.5-3.5,3.5-3.5-3.5zM519.7,1015.3l3.5,3.5-3.5,3.5-3.5-3.5zM520.9,1013.7l3.5,3.5-3.5,3.5-3.5-3.5zM522.1,1009.9l3.5,3.5-3.5,3.5-3.5-3.5zM523.4,1009.0l3.5,3.5-3.5,3.5-3.5-3.5zM524.6,1008.7l3.5,3.5-3.5,3.5-3.5-3.5zM525.9,1006.4l3.5,3.5-3.5,3.5-3.5-3.5zM527.1,1004.2l3.5,3.5-3.5,3.5-3.5-3.5zM528.4,1002.3l3.5,3.5-3.5,3.5-3.5-3.5zM529.6,1001.5l3.5,3.5-3.5,3.5-3.5-3.5zM530.9,997.0l3.5,3.5-3.5,3.5-3.5-3.5zM532.1,996.1l3.5,3.5-3.5,3.5-3.5-3.5zM533.3,993.8l3.5,3.5-3.5,3.5-3.5-3.5zM534.6,994.2l3.5,3.5-3.5,3.5-3.5-3.5zM535.8,989.9l3.5,3.5-3.5,3.5-3.5-3.5zM537.1,989.0l3.5,3.5-3.5,3.5-3.5-3.5zM538.3,988.5l3.5,3.5-3.5,3.5-3.5-3.5zM539.6,984.9l3.5,3.5-3.5,3.5-3.5-3.5zM540.8,983.4l3.5,3.5-3.5,3.5-3.5-3.5zM542.0,981.1l3.5,3.5-3.5,3.5-3.5-3.5zM543.3,979.6l3.5,3.5-3.5,3.5-3.5-3.5zM544.5,978.8l3.5,3.5-3.5,3.5-3.5-3.5zM545.8,973.6l3.5,3.5-3.5,3.5-3.5-3.5zM547.0,972.4l3.5,3.5-3.5,3.5-3.5-3.5zM548.3,971.7l3.5,3.5-3.5,3.5-3.5-3.5zM549.5,970.2l3.5,3.5-3.5,3.5-3.5-3.5zM550.8,965.5l3.5,3.5-3.5,3.5-3.5-3.5zM552.0,964.7l3.5,3.5-3.5,3.5-3.5-3.5zM553.2,961.7l3.5,3.5-3.5,3.5-3.5-3.5zM554.5,959.3l3.5,3.5-3.5,3.5-3.5-3.5zM555.7,955.1l3.5,3.5-3.5,3.5-3.5-3.5zM557.0,952.5l3.5,3.5-3.5,3.5-3.5-3.5zM558.2,951.7l3.5,3.5-3.5,3.5-3.5-3.5zM559.5,949.0l3.5,3.5-3.5,3.5-3.5-3.5zM560.7,946.6l3.5,3.5-3.5,3.5-3.5-3.5zM562.0,943.1l3.5,3.5-3.5,3.5-3.5-3.5zM563.2,943.0l3.5,3.5-3.5,3.5-3.5-3.5zM564.4,938.9l3.5,3.5-3.5,3.5-3.5-3.5zM565.7,939.0l3.5,3.5-3.5,3.5-3.5-3.5zM566.9,933.8l3.5,3.5-3.5,3.5-3.5-3.5zM568.2,931.8l3.5,3.5-3.5,3.5-3.5-3.5zM569.4,929.5l3.5,3.5-3.5,3.5-3.5-3.5zM570.7,925.9l3.5,3.5-3.5,3.5-3.5-3.5zM571.9,922.7l3.5,3.5-3.5,3.5-3.5-3.5zM573.2,920.5l3.5,3.5-3.5,3.5-3.5-3.5zM574.4,918.4l3.5,3.5-3.5,3.5-3.5-3.5zM575.6,915.3l3.5,3.5-3.5,3.5-3.5-3.5zM576.9,914.9l3.5,3.5-3.5,3.5-3.5-3.5zM578.1,910.0l3.5,3.5-3.5,3.5-3.5-3.5zM579.4,908.6l3.5,3.5-3.5,3.5-3.5-3.5zM580.6,905.9l3.5,3.5-3.5,3.5-3.5-3.5zM581.9,902.7l3.5,3.5-3.5,3.5-3.5-3.5zM583.1,899.0l3.5,3.5-3.5,3.5-3.5-3.5zM584.4,897.8l3.5,3.5-3.5,3.5-3.5-3.5zM585.6,895.5l3.5,3.5-3.5,3.5-3.5-3.5zM586.8,892.2l3.5,3.5-3.5,3.5-3.5-3.5zM588.1,889.5l3.5,3.5-3.5,3.5-3.5-3.5zM589.3,884.9l3.5,3.5-3.5,3.5-3.5-3.5zM590.6,883.3l3.5,3.5-3.5,3.5-3.5-3.5zM591.8,881.5l3.5,3.5-3.5,3.5-3.5-3.5zM593.1,879.3l3.5,3.5-3.5,3.5-3.5-3.5zM594.3,877.2l3.5,3.5-3.5,3.5-3.5-3.5zM595.6,873.7l3.5,3.5-3.5,3.5-3.5-3.5zM596.8,871.7l3.5,3.5-3.5,3.5-3.5-3.5zM598.0,868.1l3.5,3.5-3.5,3.5-3.5-3.5zM599.3,867.1l3.5,3.5-3.5,3.5-3.5-3.5zM600.5,864.7l3.5,3.5-3.5,3.5-3.5-3.5zM601.8,861.5l3.5,3.5-3.5,3.5-3.5-3.5zM603.0,860.1l3.5,3.5-3.5,3.5-3.5-3.5zM604.3,856.6l3.5,3.5-3.5,3.5-3.5-3.5zM605.5,854.0l3.5,3.5-3.5,3.5-3.5-3.5zM606.8,851.9l3.5,3.5-3.5,3.5-3.5-3.5zM608.0,851.6l3.5,3.5-3.5,3.5-3.5-3.5zM609.2,846.1l3.5,3.5-3.5,3.5-3.5-3.5zM610.5,845.5l3.5,3.5-3.5,3.5-3.5-3.5zM611.7,842.8l3.5,3.5-3.5,3.5-3.5-3.5zM613.0,841.0l3.5,3.5-3.5,3.5-3.5-3.5zM614.2,837.4l3.5,3.5-3.5,3.5-3.5-3.5zM615.5,837.2l3.5,3.5-3.5,3.5-3.5-3.5zM616.7,835.0l3.5,3.5-3.5,3.5-3.5-3.5zM618.0,832.1l3.5,3.5-3.5,3.5-3.5-3.5zM619.2,829.8l3.5,3.5-3.5,3.5-3.5-3.5zM620.4,828.2l3.5,3.5-3.5,3.5-3.5-3.5zM621.7,827.0l3.5,3.5-3.5,3.5-3.5-3.5zM622.9,822.6l3.5,3.5-3.5,3.5-3.5-3.5zM624.2,823.3l3.5,3.5-3.5,3.5-3.5-3.5zM625.4,819.7l3.5,3.5-3.5,3.5-3.5-3.5zM626.7,818.7l3.5,3.5-3.5,3.5-3.5-3.5zM627.9,815.2l3.5,3.5-3.5,3.5-3.5-3.5zM629.1,815.7l3.5,3.5-3.5,3.5-3.5-3.5zM630.4,812.1l3.5,3.5-3.5,3.5-3.5-3.5zM631.6,811.5l3.5,3.5-3.5,3.5-3.5-3.5zM632.9,807.3l3.5,3.5-3.5,3.5-3.5-3.5zM634.1,805.2l3.5,3.5-3.5,3.5-3.5-3.5zM635.4,804.8l3.5,3.5-3.5,3.5-3.5-3.5zM636.6,802.4l3.5,3.5-3.5,3.5-3.5-3.5zM637.9,800.1l3.5,3.5-3.5,3.5-3.5-3.5zM639.1,798.8l3.5,3.5-3.5,3.5-3.5-3.5zM640.3,796.0l3.5,3.5-3.5,3.5-3.5-3.5zM641.6,793.2l3.5,3.5-3.5,3.5-3.5-3.5zM642.8,789.7l3.5,3.5-3.5,3.5-3.5-3.5zM644.1,787.3l3.5,3.5-3.5,3.5-3.5-3.5zM645.3,787.9l3.5,3.5-3.5,3.5-3.5-3.5zM646.6,785.7l3.5,3.5-3.5,3.5-3.5-3.5zM647.8,782.2l3.5,3.5-3.5,3.5-3.5-3.5zM649.1,781.4l3.5,3.5-3.5,3.5-3.5-3.5zM650.3,778.6l3.5,3.5-3.5,3.5-3.5-3.5zM651.5,776.7l3.5,3.5-3.5,3.5-3.5-3.5zM652.8,775.4l3.5,3.5-3.5,3.5-3.5-3.5zM654.0,771.0l3.5,3.5-3.5,3.5-3.5-3.5zM655.3,770.6l3.5,3.5-3.5,3.5-3.5-3.5zM656.5,768.6l3.5,3.5-3.5,3.5-3.5-3.5zM657.8,765.8l3.5,3.5-3.5,3.5-3.5-3.5zM659.0,764.0l3.5,3.5-3.5,3.5-3.5-3.5zM660.3,760.6l3.5,3.5-3.5,3.5-3.5-3.5zM661.5,759.6l3.5,3.5-3.5,3.5-3.5-3.5zM662.7,757.9l3.5,3.5-3.5,3.5-3.5-3.5zM664.0,755.9l3.5,3.5-3.5,3.5-3.5-3.5zM665.2,752.4l3.5,3.5-3.5,3.5-3.5-3.5zM666.5,751.6l3.5,3.5-3.5,3.5-3.5-3.5zM667.7,749.1l3.5,3.5-3.5,3.5-3.5-3.5zM669.0,747.3l3.5,3.5-3.5,3.5-3.5-3.5zM670.2,744.5l3.5,3.5-3.5,3.5-3.5-3.5zM671.5,743.0l3.5,3.5-3.5,3.5-3.5-3.5zM672.7,740.4l3.5,3.5-3.5,3.5-3.5-3.5zM673.9,740.3l3.5,3.5-3.5,3.5-3.5-3.5zM675.2,735.7l3.5,3.5-3.5,3.5-3.5-3.5zM676.4,734.9l3.5,3.5-3.5,3.5-3.5-3.5zM677.7,731.8l3.5,3.5-3.5,3.5-3.5-3.5zM678.9,728.3l3.5,3.5-3.5,3.5-3.5-3.5zM680.2,728.0l3.5,3.5-3.5,3.5-3.5-3.5zM681.4,726.6l3.5,3.5-3.5,3.5-3.5-3.5zM682.7,724.1l3.5,3.5-3.5,3.5-3.5-3.5zM683.9,722.0l3.5,3.5-3.5,3.5-3.5-3.5zM685.1,718.5l3.5,3.5-3.5,3.5-3.5-3.5zM686.4,717.4l3.5,3.5-3.5,3.5-3.5-3.5zM687.6,713.8l3.5,3.5-3.5,3.5-3.5-3.5zM688.9,714.6l3.5,3.5-3.5,3.5-3.5-3.5zM690.1,712.3l3.5,3.5-3.5,3.5-3.5-3.5zM691.4,707.9l3.5,3.5-3.5,3.5-3.5-3.5zM692.6,706.4l3.5,3.5-3.5,3.5-3.5-3.5zM693.9,703.5l3.5,3.5-3.5,3.5-3.5-3.5zM695.1,701.9l3.5,3.5-3.5,3.5-3.5-3.5zM696.3,700.1l3.5,3.5-3.5,3.5-3.5-3.5zM697.6,697.4l3.5,3.5-3.5,3.5-3.5-3.5zM698.8,696.0l3.5,3.5-3.5,3.5-3.5-3.5zM700.1,694.9l3.5,3.5-3.5,3.5-3.5-3.5zM701.3,692.0l3.5,3.5-3.5,3.5-3.5-3.5zM702.6,690.9l3.5,3.5-3.5,3.5-3.5-3.5zM703.8,688.0l3.5,3.5-3.5,3.5-3.5-3.5zM705.0,686.2l3.5,3.5-3.5,3.5-3.5-3.5zM706.3,682.9l3.5,3.5-3.5,3.5-3.5-3.5zM707.5,682.9l3.5,3.5-3.5,3.5-3.5-3.5zM708.8,678.9l3.5,3.5-3.5,3.5-3.5-3.5zM710.0,677.6l3.5,3.5-3.5,3.5-3.5-3.5zM711.3,674.7l3.5,3.5-3.5,3.5-3.5-3.5zM712.5,674.3l3.5,3.5-3.5,3.5-3.5-3.5zM713.8,670.8l3.5,3.5-3.5,3.5-3.5-3.5zM715.0,670.3l3.5,3.5-3.5,3.5-3.5-3.5zM716.2,669.5l3.5,3.5-3.5,3.5-3.5-3.5zM717.5,666.0l3.5,3.5-3.5,3.5-3.5-3.5zM718.7,661.6l3.5,3.5-3.5,3.5-3.5-3.5zM720.0,662.5l3.5,3.5-3.5,3.5-3.5-3.5zM721.2,659.7l3.5,3.5-3.5,3.5-3.5-3.5zM722.5,658.1l3.5,3.5-3.5,3.5-3.5-3.5zM723.7,655.9l3.5,3.5-3.5,3.5-3.5-3.5zM725.0,654.6l3.5,3.5-3.5,3.5-3.5-3.5zM726.2,652.4l3.5,3.5-3.5,3.5-3.5-3.5zM727.4,649.4l3.5,3.5-3.5,3.5-3.5-3.5zM728.7,646.4l3.5,3.5-3.5,3.5-3.5-3.5zM729.9,645.4l3.5,3.5-3.5,3.5-3.5-3.5zM731.2,644.2l3.5,3.5-3.5,3.5-3.5-3.5zM732.4,639.8l3.5,3.5-3.5,3.5-3.5-3.5zM733.7,639.7l3.5,3.5-3.5,3.5-3.5-3.5zM734.9,636.0l3.5,3.5-3.5,3.5-3.5-3.5zM736.2,636.7l3.5,3.5-3.5,3.5-3.5-3.5zM737.4,635.4l3.5,3.5-3.5,3.5-3.5-3.5zM738.6,632.6l3.5,3.5-3.5,3.5-3.5-3.5zM739.9,629.5l3.5,3.5-3.5,3.5-3.5-3.5zM741.1,628.7l3.5,3.5-3.5,3.5-3.5-3.5zM742.4,627.3l3.5,3.5-3.5,3.5-3.5-3.5zM743.6,625.8l3.5,3.5-3.5,3.5-3.5-3.5zM744.9,623.7l3.5,3.5-3.5,3.5-3.5-3.5zM746.1,621.5l3.5,3.5-3.5,3.5-3.5-3.5zM747.4,617.8l3.5,3.5-3.5,3.5-3.5-3.5zM748.6,616.8l3.5,3.5-3.5,3.5-3.5-3.5zM749.8,615.5l3.5,3.5-3.5,3.5-3.5-3.5zM751.1,613.3l3.5,3.5-3.5,3.5-3.5-3.5zM752.3,609.8l3.5,3.5-3.5,3.5-3.5-3.5zM753.6,609.6l3.5,3.5-3.5,3.5-3.5-3.5zM754.8,607.4l3.5,3.5-3.5,3.5-3.5-3.5zM756.1,606.5l3.5,3.5-3.5,3.5-3.5-3.5zM757.3,605.0l3.5,3.5-3.5,3.5-3.5-3.5zM758.6,601.7l3.5,3.5-3.5,3.5-3.5-3.5zM759.8,600.6l3.5,3.5-3.5,3.5-3.5-3.5zM761.0,599.8l3.5,3.5-3.5,3.5-3.5-3.5zM762.3,597.1l3.5,3.5-3.5,3.5-3.5-3.5zM763.5,596.5l3.5,3.5-3.5,3.5-3.5-3.5zM764.8,594.2l3.5,3.5-3.5,3.5-3.5-3.5zM766.0,592.7l3.5,3.5-3.5,3.5-3.5-3.5zM767.3,592.7l3.5,3.5-3.5,3.5-3.5-3.5zM768.5,590.2l3.5,3.5-3.5,3.5-3.5-3.5zM769.8,588.4l3.5,3.5-3.5,3.5-3.5-3.5zM771.0,588.8l3.5,3.5-3.5,3.5-3.5-3.5zM772.2,585.7l3.5,3.5-3.5,3.5-3.5-3.5zM773.5,584.6l3.5,3.5-3.5,3.5-3.5-3.5zM774.7,583.3l3.5,3.5-3.5,3.5-3.5-3.5zM776.0,584.7l3.5,3.5-3.5,3.5-3.5-3.5zM777.2,581.2l3.5,3.5-3.5,3.5-3.5-3.5zM778.5,580.1l3.5,3.5-3.5,3.5-3.5-3.5zM779.7,577.8l3.5,3.5-3.5,3.5-3.5-3.5zM781.0,577.6l3.5,3.5-3.5,3.5-3.5-3.5zM782.2,576.7l3.5,3.5-3.5,3.5-3.5-3.5zM783.4,573.4l3.5,3.5-3.5,3.5-3.5-3.5zM784.7,573.7l3.5,3.5-3.5,3.5-3.5-3.5zM785.9,573.7l3.5,3.5-3.5,3.5-3.5-3.5zM787.2,572.8l3.5,3.5-3.5,3.5-3.5-3.5zM788.4,570.3l3.5,3.5-3.5,3.5-3.5-3.5zM789.7,571.1l3.5,3.5-3.5,3.5-3.5-3.5zM790.9,567.3l3.5,3.5-3.5,3.5-3.5-3.5zM792.1,567.9l3.5,3.5-3.5,3.5-3.5-3.5zM793.4,566.5l3.5,3.5-3.5,3.5-3.5-3.5zM794.6,564.1l3.5,3.5-3.5,3.5-3.5-3.5zM795.9,565.0l3.5,3.5-3.5,3.5-3.5-3.5zM797.1,562.1l3.5,3.5-3.5,3.5-3.5-3.5zM798.4,561.7l3.5,3.5-3.5,3.5-3.5-3.5zM799.6,561.4l3.5,3.5-3.5,3.5-3.5-3.5zM800.9,559.6l3.5,3.5-3.5,3.5-3.5-3.5zM802.1,560.9l3.5,3.5-3.5,3.5-3.5-3.5zM803.3,558.7l3.5,3.5-3.5,3.5-3.5-3.5zM804.6,557.2l3.5,3.5-3.5,3.5-3.5-3.5zM805.8,557.8l3.5,3.5-3.5,3.5-3.5-3.5zM807.1,556.9l3.5,3.5-3.5,3.5-3.5-3.5zM808.3,555.2l3.5,3.5-3.5,3.5-3.5-3.5zM809.6,555.1l3.5,3.5-3.5,3.5-3.5-3.5zM810.8,555.7l3.5,3.5-3.5,3.5-3.5-3.5zM812.1,555.0l3.5,3.5-3.5,3.5-3.5-3.5zM813.3,552.3l3.5,3.5-3.5,3.5-3.5-3.5zM814.5,554.0l3.5,3.5-3.5,3.5-3.5-3.5zM815.8,553.5l3.5,3.5-3.5,3.5-3.5-3.5zM817.0,553.1l3.5,3.5-3.5,3.5-3.5-3.5zM818.3,551.1l3.5,3.5-3.5,3.5-3.5-3.5zM819.5,550.4l3.5,3.5-3.5,3.5-3.5-3.5zM820.8,550.5l3.5,3.5-3.5,3.5-3.5-3.5zM822.0,549.6l3.5,3.5-3.5,3.5-3.5-3.5zM823.3,549.5l3.5,3.5-3.5,3.5-3.5-3.5zM824.5,548.8l3.5,3.5-3.5,3.5-3.5-3.5zM825.7,548.7l3.5,3.5-3.5,3.5-3.5-3.5zM827.0,548.1l3.5,3.5-3.5,3.5-3.5-3.5zM828.2,548.3l3.5,3.5-3.5,3.5-3.5-3.5zM829.5,548.0l3.5,3.5-3.5,3.5-3.5-3.5zM830.7,547.3l3.5,3.5-3.5,3.5-3.5-3.5zM832.0,546.8l3.5,3.5-3.5,3.5-3.5-3.5zM833.2,548.4l3.5,3.5-3.5,3.5-3.5-3.5zM834.5,547.6l3.5,3.5-3.5,3.5-3.5-3.5zM835.7,546.9l3.5,3.5-3.5,3.5-3.5-3.5zM836.9,545.4l3.5,3.5-3.5,3.5-3.5-3.5zM838.2,546.6l3.5,3.5-3.5,3.5-3.5-3.5zM839.4,545.6l3.5,3.5-3.5,3.5-3.5-3.5zM840.7,546.1l3.5,3.5-3.5,3.5-3.5-3.5zM841.9,545.6l3.5,3.5-3.5,3.5-3.5-3.5zM843.2,547.5l3.5,3.5-3.5,3.5-3.5-3.5zM844.4,545.0l3.5,3.5-3.5,3.5-3.5-3.5zM845.7,543.9l3.5,3.5-3.5,3.5-3.5-3.5zM846.9,545.7l3.5,3.5-3.5,3.5-3.5-3.5zM848.1,545.6l3.5,3.5-3.5,3.5-3.5-3.5zM849.4,545.7l3.5,3.5-3.5,3.5-3.5-3.5zM850.6,542.0l3.5,3.5-3.5,3.5-3.5-3.5zM851.9,543.4l3.5,3.5-3.5,3.5-3.5-3.5zM853.1,543.4l3.5,3.5-3.5,3.5-3.5-3.5zM854.4,542.6l3.5,3.5-3.5,3.5-3.5-3.5zM855.6,544.1l3.5,3.5-3.5,3.5-3.5-3.5zM856.9,544.5l3.5,3.5-3.5,3.5-3.5-3.5zM858.1,544.8l3.5,3.5-3.5,3.5-3.5-3.5zM859.3,544.6l3.5,3.5-3.5,3.5-3.5-3.5zM860.6,543.7l3.5,3.5-3.5,3.5-3.5-3.5zM861.8,545.1l3.5,3.5-3.5,3.5-3.5-3.5zM863.1,543.8l3.5,3.5-3.5,3.5-3.5-3.5zM864.3,541.0l3.5,3.5-3.5,3.5-3.5-3.5zM865.6,543.2l3.5,3.5-3.5,3.5-3.5-3.5zM866.8,542.8l3.5,3.5-3.5,3.5-3.5-3.5zM868.1,543.8l3.5,3.5-3.5,3.5-3.5-3.5zM869.3,543.0l3.5,3.5-3.5,3.5-3.5-3.5zM870.5,543.1l3.5,3.5-3.5,3.5-3.5-3.5zM871.8,544.6l3.5,3.5-3.5,3.5-3.5-3.5zM873.0,542.6l3.5,3.5-3.5,3.5-3.5-3.5zM874.3,542.1l3.5,3.5-3.5,3.5-3.5-3.5zM875.5,543.5l3.5,3.5-3.5,3.5-3.5-3.5zM876.8,543.9l3.5,3.5-3.5,3.5-3.5-3.5zM878.0,543.2l3.5,3.5-3.5,3.5-3.5-3.5zM879.2,543.2l3.5,3.5-3.5,3.5-3.5-3.5zM880.5,542.7l3.5,3.5-3.5,3.5-3.5-3.5zM881.7,542.0l3.5,3.5-3.5,3.5-3.5-3.5zM883.0,542.5l3.5,3.5-3.5,3.5-3.5-3.5zM1007.4,517.9l3.5,3.5-3.5,3.5-3.5-3.5zM1008.7,517.0l3.5,3.5-3.5,3.5-3.5-3.5zM1009.9,517.6l3.5,3.5-3.5,3.5-3.5-3.5zM1011.1,514.7l3.5,3.5-3.5,3.5-3.5-3.5zM1012.4,514.5l3.5,3.5-3.5,3.5-3.5-3.5zM1013.6,515.3l3.5,3.5-3.5,3.5-3.5-3.5zM1014.9,513.0l3.5,3.5-3.5,3.5-3.5-3.5zM1016.1,512.6l3.5,3.5-3.5,3.5-3.5-3.5zM1017.4,514.3l3.5,3.5-3.5,3.5-3.5-3.5zM1018.6,512.6l3.5,3.5-3.5,3.5-3.5-3.5zM1019.9,513.8l3.5,3.5-3.5,3.5-3.5-3.5zM1021.1,512.4l3.5,3.5-3.5,3.5-3.5-3.5zM1022.3,511.3l3.5,3.5-3.5,3.5-3.5-3.5zM1023.6,510.1l3.5,3.5-3.5,3.5-3.5-3.5zM1024.8,512.6l3.5,3.5-3.5,3.5-3.5-3.5zM1026.1,510.5l3.5,3.5-3.5,3.5-3.5-3.5zM1027.3,509.1l3.5,3.5-3.5,3.5-3.5-3.5zM1028.6,508.0l3.5,3.5-3.5,3.5-3.5-3.5zM1029.8,507.9l3.5,3.5-3.5,3.5-3.5-3.5zM1031.1,508.6l3.5,3.5-3.5,3.5-3.5-3.5zM1032.3,510.1l3.5,3.5-3.5,3.5-3.5-3.5zM1033.5,507.2l3.5,3.5-3.5,3.5-3.5-3.5zM1034.8,508.2l3.5,3.5-3.5,3.5-3.5-3.5zM1036.0,507.7l3.5,3.5-3.5,3.5-3.5-3.5zM1037.3,503.4l3.5,3.5-3.5,3.5-3.5-3.5zM1038.5,505.2l3.5,3.5-3.5,3.5-3.5-3.5zM1039.8,507.1l3.5,3.5-3.5,3.5-3.5-3.5zM1041.0,503.7l3.5,3.5-3.5,3.5-3.5-3.5zM1042.3,506.6l3.5,3.5-3.5,3.5-3.5-3.5zM1043.5,505.0l3.5,3.5-3.5,3.5-3.5-3.5zM1044.7,502.9l3.5,3.5-3.5,3.5-3.5-3.5zM1046.0,506.1l3.5,3.5-3.5,3.5-3.5-3.5zM1047.2,503.7l3.5,3.5-3.5,3.5-3.5-3.5zM1048.5,505.0l3.5,3.5-3.5,3.5-3.5-3.5zM1049.7,503.2l3.5,3.5-3.5,3.5-3.5-3.5zM1051.0,501.9l3.5,3.5-3.5,3.5-3.5-3.5zM1052.2,503.3l3.5,3.5-3.5,3.5-3.5-3.5zM1053.5,503.5l3.5,3.5-3.5,3.5-3.5-3.5zM1054.7,502.6l3.5,3.5-3.5,3.5-3.5-3.5zM1055.9,499.9l3.5,3.5-3.5,3.5-3.5-3.5zM1057.2,501.2l3.5,3.5-3.5,3.5-3.5-3.5zM1058.4,499.2l3.5,3.5-3.5,3.5-3.5-3.5zM1059.7,499.3l3.5,3.5-3.5,3.5-3.5-3.5zM1060.9,500.6l3.5,3.5-3.5,3.5-3.5-3.5zM1062.2,497.8l3.5,3.5-3.5,3.5-3.5-3.5zM1063.4,500.8l3.5,3.5-3.5,3.5-3.5-3.5zM1064.6,496.9l3.5,3.5-3.5,3.5-3.5-3.5zM1065.9,496.8l3.5,3.5-3.5,3.5-3.5-3.5zM1067.1,498.1l3.5,3.5-3.5,3.5-3.5-3.5zM1068.4,496.9l3.5,3.5-3.5,3.5-3.5-3.5zM1069.6,496.5l3.5,3.5-3.5,3.5-3.5-3.5zM1070.9,495.5l3.5,3.5-3.5,3.5-3.5-3.5zM1072.1,496.5l3.5,3.5-3.5,3.5-3.5-3.5zM1073.4,495.7l3.5,3.5-3.5,3.5-3.5-3.5zM1074.6,495.0l3.5,3.5-3.5,3.5-3.5-3.5zM1075.8,494.1l3.5,3.5-3.5,3.5-3.5-3.5zM1077.1,493.1l3.5,3.5-3.5,3.5-3.5-3.5zM1078.3,493.9l3.5,3.5-3.5,3.5-3.5-3.5zM1079.6,491.8l3.5,3.5-3.5,3.5-3.5-3.5zM1080.8,492.6l3.5,3.5-3.5,3.5-3.5-3.5zM1082.1,493.2l3.5,3.5-3.5,3.5-3.5-3.5zM1083.3,492.8l3.5,3.5-3.5,3.5-3.5-3.5zM1084.6,491.6l3.5,3.5-3.5,3.5-3.5-3.5zM1085.8,489.6l3.5,3.5-3.5,3.5-3.5-3.5zM1087.0,491.6l3.5,3.5-3.5,3.5-3.5-3.5zM1088.3,491.4l3.5,3.5-3.5,3.5-3.5-3.5zM1089.5,490.4l3.5,3.5-3.5,3.5-3.5-3.5zM1090.8,490.9l3.5,3.5-3.5,3.5-3.5-3.5zM1092.0,490.3l3.5,3.5-3.5,3.5-3.5-3.5zM1093.3,488.0l3.5,3.5-3.5,3.5-3.5-3.5zM1094.5,488.6l3.5,3.5-3.5,3.5-3.5-3.5zM1095.8,488.1l3.5,3.5-3.5,3.5-3.5-3.5zM1097.0,489.1l3.5,3.5-3.5,3.5-3.5-3.5zM1098.2,488.4l3.5,3.5-3.5,3.5-3.5-3.5zM1099.5,487.3l3.5,3.5-3.5,3.5-3.5-3.5zM1100.7,487.3l3.5,3.5-3.5,3.5-3.5-3.5zM1102.0,487.1l3.5,3.5-3.5,3.5-3.5-3.5zM1103.2,485.6l3.5,3.5-3.5,3.5-3.5-3.5zM1104.5,485.6l3.5,3.5-3.5,3.5-3.5-3.5zM1105.7,485.3l3.5,3.5-3.5,3.5-3.5-3.5zM1107.0,484.7l3.5,3.5-3.5,3.5-3.5-3.5zM1108.2,484.3l3.5,3.5-3.5,3.5-3.5-3.5zM1109.4,484.3l3.5,3.5-3.5,3.5-3.5-3.5zM1110.7,482.9l3.5,3.5-3.5,3.5-3.5-3.5zM1111.9,482.7l3.5,3.5-3.5,3.5-3.5-3.5zM1113.2,483.5l3.5,3.5-3.5,3.5-3.5-3.5zM1114.4,483.6l3.5,3.5-3.5,3.5-3.5-3.5zM1115.7,483.4l3.5,3.5-3.5,3.5-3.5-3.5zM1116.9,480.8l3.5,3.5-3.5,3.5-3.5-3.5zM1118.2,481.7l3.5,3.5-3.5,3.5-3.5-3.5zM1119.4,480.6l3.5,3.5-3.5,3.5-3.5-3.5zM1120.6,480.4l3.5,3.5-3.5,3.5-3.5-3.5zM1121.9,480.2l3.5,3.5-3.5,3.5-3.5-3.5zM1123.1,480.2l3.5,3.5-3.5,3.5-3.5-3.5zM1124.4,479.9l3.5,3.5-3.5,3.5-3.5-3.5zM1125.6,477.7l3.5,3.5-3.5,3.5-3.5-3.5zM1126.9,478.5l3.5,3.5-3.5,3.5-3.5-3.5zM1128.1,479.1l3.5,3.5-3.5,3.5-3.5-3.5zM1129.4,478.2l3.5,3.5-3.5,3.5-3.5-3.5zM1130.6,476.7l3.5,3.5-3.5,3.5-3.5-3.5zM1131.8,476.7l3.5,3.5-3.5,3.5-3.5-3.5zM1133.1,476.5l3.5,3.5-3.5,3.5-3.5-3.5zM1134.3,477.2l3.5,3.5-3.5,3.5-3.5-3.5zM1135.6,477.3l3.5,3.5-3.5,3.5-3.5-3.5zM1136.8,475.2l3.5,3.5-3.5,3.5-3.5-3.5zM1138.1,475.8l3.5,3.5-3.5,3.5-3.5-3.5zM1139.3,474.9l3.5,3.5-3.5,3.5-3.5-3.5zM1140.5,475.1l3.5,3.5-3.5,3.5-3.5-3.5zM1141.8,474.2l3.5,3.5-3.5,3.5-3.5-3.5zM1143.0,473.3l3.5,3.5-3.5,3.5-3.5-3.5zM1144.3,473.2l3.5,3.5-3.5,3.5-3.5-3.5zM1145.5,472.9l3.5,3.5-3.5,3.5-3.5-3.5zM1146.8,473.8l3.5,3.5-3.5,3.5-3.5-3.5zM1148.0,472.1l3.5,3.5-3.5,3.5-3.5-3.5zM1149.3,472.5l3.5,3.5-3.5,3.5-3.5-3.5zM1150.5,471.3l3.5,3.5-3.5,3.5-3.5-3.5zM1151.7,471.0l3.5,3.5-3.5,3.5-3.5-3.5zM1153.0,471.2l3.5,3.5-3.5,3.5-3.5-3.5zM1154.2,470.4l3.5,3.5-3.5,3.5-3.5-3.5zM1155.5,471.6l3.5,3.5-3.5,3.5-3.5-3.5zM1156.7,470.8l3.5,3.5-3.5,3.5-3.5-3.5zM1158.0,469.0l3.5,3.5-3.5,3.5-3.5-3.5zM1159.2,469.6l3.5,3.5-3.5,3.5-3.5-3.5zM1160.5,469.9l3.5,3.5-3.5,3.5-3.5-3.5zM1161.7,467.9l3.5,3.5-3.5,3.5-3.5-3.5zM1162.9,468.0l3.5,3.5-3.5,3.5-3.5-3.5zM1164.2,468.8l3.5,3.5-3.5,3.5-3.5-3.5zM1165.4,467.0l3.5,3.5-3.5,3.5-3.5-3.5zM1166.7,467.6l3.5,3.5-3.5,3.5-3.5-3.5zM1167.9,466.8l3.5,3.5-3.5,3.5-3.5-3.5zM1169.2,466.6l3.5,3.5-3.5,3.5-3.5-3.5zM1170.4,465.5l3.5,3.5-3.5,3.5-3.5-3.5zM1171.7,465.8l3.5,3.5-3.5,3.5-3.5-3.5zM1172.9,465.2l3.5,3.5-3.5,3.5-3.5-3.5zM1174.1,466.2l3.5,3.5-3.5,3.5-3.5-3.5zM1175.4,465.2l3.5,3.5-3.5,3.5-3.5-3.5zM1176.6,464.5l3.5,3.5-3.5,3.5-3.5-3.5zM1177.9,464.1l3.5,3.5-3.5,3.5-3.5-3.5zM1179.1,464.2l3.5,3.5-3.5,3.5-3.5-3.5zM1180.4,462.5l3.5,3.5-3.5,3.5-3.5-3.5zM1181.6,462.5l3.5,3.5-3.5,3.5-3.5-3.5zM1182.9,462.2l3.5,3.5-3.5,3.5-3.5-3.5zM1184.1,462.0l3.5,3.5-3.5,3.5-3.5-3.5zM1185.3,461.1l3.5,3.5-3.5,3.5-3.5-3.5zM1186.6,462.1l3.5,3.5-3.5,3.5-3.5-3.5zM1187.8,461.2l3.5,3.5-3.5,3.5-3.5-3.5zM1189.1,461.9l3.5,3.5-3.5,3.5-3.5-3.5zM1190.3,460.7l3.5,3.5-3.5,3.5-3.5-3.5zM1191.6,460.3l3.5,3.5-3.5,3.5-3.5-3.5zM1192.8,460.4l3.5,3.5-3.5,3.5-3.5-3.5zM1194.1,460.1l3.5,3.5-3.5,3.5-3.5-3.5zM1195.3,459.3l3.5,3.5-3.5,3.5-3.5-3.5zM1196.5,459.6l3.5,3.5-3.5,3.5-3.5-3.5zM1197.8,459.7l3.5,3.5-3.5,3.5-3.5-3.5zM1199.0,458.3l3.5,3.5-3.5,3.5-3.5-3.5zM1200.3,459.0l3.5,3.5-3.5,3.5-3.5-3.5zM1201.5,457.8l3.5,3.5-3.5,3.5-3.5-3.5zM1202.8,458.2l3.5,3.5-3.5,3.5-3.5-3.5zM1204.0,457.3l3.5,3.5-3.5,3.5-3.5-3.5zM1205.3,456.8l3.5,3.5-3.5,3.5-3.5-3.5zM1206.5,456.9l3.5,3.5-3.5,3.5-3.5-3.5zM1207.7,455.7l3.5,3.5-3.5,3.5-3.5-3.5zM1209.0,455.1l3.5,3.5-3.5,3.5-3.5-3.5zM1210.2,455.8l3.5,3.5-3.5,3.5-3.5-3.5zM1211.5,455.4l3.5,3.5-3.5,3.5-3.5-3.5zM1212.7,454.6l3.5,3.5-3.5,3.5-3.5-3.5zM1214.0,456.3l3.5,3.5-3.5,3.5-3.5-3.5zM1215.2,454.9l3.5,3.5-3.5,3.5-3.5-3.5zM1216.5,454.0l3.5,3.5-3.5,3.5-3.5-3.5zM1217.7,454.5l3.5,3.5-3.5,3.5-3.5-3.5zM1218.9,454.2l3.5,3.5-3.5,3.5-3.5-3.5zM1220.2,453.4l3.5,3.5-3.5,3.5-3.5-3.5zM1221.4,453.2l3.5,3.5-3.5,3.5-3.5-3.5zM1222.7,452.0l3.5,3.5-3.5,3.5-3.5-3.5zM1223.9,453.0l3.5,3.5-3.5,3.5-3.5-3.5zM1225.2,453.8l3.5,3.5-3.5,3.5-3.5-3.5zM1226.4,453.2l3.5,3.5-3.5,3.5-3.5-3.5zM1227.7,452.9l3.5,3.5-3.5,3.5-3.5-3.5zM1228.9,451.7l3.5,3.5-3.5,3.5-3.5-3.5zM1230.1,451.2l3.5,3.5-3.5,3.5-3.5-3.5zM1231.4,452.2l3.5,3.5-3.5,3.5-3.5-3.5zM1232.6,451.6l3.5,3.5-3.5,3.5-3.5-3.5zM1233.9,451.2l3.5,3.5-3.5,3.5-3.5-3.5zM1235.1,450.9l3.5,3.5-3.5,3.5-3.5-3.5zM1236.4,451.5l3.5,3.5-3.5,3.5-3.5-3.5zM1237.6,451.2l3.5,3.5-3.5,3.5-3.5-3.5zM1238.8,450.4l3.5,3.5-3.5,3.5-3.5-3.5zM1240.1,450.5l3.5,3.5-3.5,3.5-3.5-3.5zM1241.3,449.4l3.5,3.5-3.5,3.5-3.5-3.5zM1242.6,449.6l3.5,3.5-3.5,3.5-3.5-3.5zM1243.8,450.6l3.5,3.5-3.5,3.5-3.5-3.5zM1245.1,449.9l3.5,3.5-3.5,3.5-3.5-3.5zM1246.3,449.5l3.5,3.5-3.5,3.5-3.5-3.5zM1247.6,450.2l3.5,3.5-3.5,3.5-3.5-3.5zM1248.8,450.7l3.5,3.5-3.5,3.5-3.5-3.5zM1250.0,449.4l3.5,3.5-3.5,3.5-3.5-3.5zM1251.3,449.7l3.5,3.5-3.5,3.5-3.5-3.5zM1252.5,449.7l3.5,3.5-3.5,3.5-3.5-3.5zM1253.8,451.3l3.5,3.5-3.5,3.5-3.5-3.5zM1255.0,450.4l3.5,3.5-3.5,3.5-3.5-3.5zM1256.3,450.0l3.5,3.5-3.5,3.5-3.5-3.5zM1257.5,449.0l3.5,3.5-3.5,3.5-3.5-3.5zM1258.8,450.3l3.5,3.5-3.5,3.5-3.5-3.5zM1260.0,450.2l3.5,3.5-3.5,3.5-3.5-3.5zM1261.2,449.7l3.5,3.5-3.5,3.5-3.5-3.5zM1262.5,449.4l3.5,3.5-3.5,3.5-3.5-3.5zM1263.7,449.6l3.5,3.5-3.5,3.5-3.5-3.5zM1265.0,448.9l3.5,3.5-3.5,3.5-3.5-3.5zM1266.2,449.7l3.5,3.5-3.5,3.5-3.5-3.5zM1267.5,449.7l3.5,3.5-3.5,3.5-3.5-3.5zM1268.7,449.5l3.5,3.5-3.5,3.5-3.5-3.5zM1270.0,449.9l3.5,3.5-3.5,3.5-3.5-3.5zM1271.2,449.1l3.5,3.5-3.5,3.5-3.5-3.5zM1272.4,450.8l3.5,3.5-3.5,3.5-3.5-3.5zM1273.7,450.1l3.5,3.5-3.5,3.5-3.5-3.5zM1274.9,449.5l3.5,3.5-3.5,3.5-3.5-3.5zM1276.2,450.7l3.5,3.5-3.5,3.5-3.5-3.5zM1277.4,450.6l3.5,3.5-3.5,3.5-3.5-3.5zM1278.7,450.0l3.5,3.5-3.5,3.5-3.5-3.5zM1279.9,449.5l3.5,3.5-3.5,3.5-3.5-3.5zM1281.2,450.3l3.5,3.5-3.5,3.5-3.5-3.5zM1282.4,450.6l3.5,3.5-3.5,3.5-3.5-3.5zM1283.6,450.8l3.5,3.5-3.5,3.5-3.5-3.5zM1284.9,451.0l3.5,3.5-3.5,3.5-3.5-3.5zM1286.1,450.9l3.5,3.5-3.5,3.5-3.5-3.5zM1287.4,449.5l3.5,3.5-3.5,3.5-3.5-3.5zM1288.6,450.5l3.5,3.5-3.5,3.5-3.5-3.5zM1289.9,449.4l3.5,3.5-3.5,3.5-3.5-3.5zM1291.1,451.1l3.5,3.5-3.5,3.5-3.5-3.5zM1292.4,450.8l3.5,3.5-3.5,3.5-3.5-3.5zM1293.6,451.1l3.5,3.5-3.5,3.5-3.5-3.5zM1294.8,450.6l3.5,3.5-3.5,3.5-3.5-3.5zM1296.1,450.6l3.5,3.5-3.5,3.5-3.5-3.5zM1297.3,450.3l3.5,3.5-3.5,3.5-3.5-3.5zM1298.6,449.0l3.5,3.5-3.5,3.5-3.5-3.5zM1299.8,450.5l3.5,3.5-3.5,3.5-3.5-3.5zM1301.1,452.2l3.5,3.5-3.5,3.5-3.5-3.5zM1302.3,451.5l3.5,3.5-3.5,3.5-3.5-3.5zM1303.6,450.6l3.5,3.5-3.5,3.5-3.5-3.5zM1304.8,451.0l3.5,3.5-3.5,3.5-3.5-3.5zM1306.0,451.1l3.5,3.5-3.5,3.5-3.5-3.5zM1307.3,450.5l3.5,3.5-3.5,3.5-3.5-3.5zM1308.5,450.8l3.5,3.5-3.5,3.5-3.5-3.5zM1309.8,451.1l3.5,3.5-3.5,3.5-3.5-3.5zM1311.0,450.6l3.5,3.5-3.5,3.5-3.5-3.5zM1312.3,451.2l3.5,3.5-3.5,3.5-3.5-3.5zM1313.5,451.7l3.5,3.5-3.5,3.5-3.5-3.5zM1314.8,451.5l3.5,3.5-3.5,3.5-3.5-3.5zM1316.0,451.2l3.5,3.5-3.5,3.5-3.5-3.5zM1317.2,451.0l3.5,3.5-3.5,3.5-3.5-3.5zM1318.5,451.6l3.5,3.5-3.5,3.5-3.5-3.5zM1319.7,450.9l3.5,3.5-3.5,3.5-3.5-3.5zM1321.0,450.9l3.5,3.5-3.5,3.5-3.5-3.5zM1322.2,452.1l3.5,3.5-3.5,3.5-3.5-3.5zM1323.5,451.1l3.5,3.5-3.5,3.5-3.5-3.5zM1324.7,450.6l3.5,3.5-3.5,3.5-3.5-3.5zM1325.9,452.0l3.5,3.5-3.5,3.5-3.5-3.5zM1327.2,452.0l3.5,3.5-3.5,3.5-3.5-3.5zM1328.4,452.3l3.5,3.5-3.5,3.5-3.5-3.5zM1329.7,451.7l3.5,3.5-3.5,3.5-3.5-3.5zM1330.9,452.5l3.5,3.5-3.5,3.5-3.5-3.5zM1332.2,451.8l3.5,3.5-3.5,3.5-3.5-3.5zM1333.4,451.4l3.5,3.5-3.5,3.5-3.5-3.5zM1334.7,452.0l3.5,3.5-3.5,3.5-3.5-3.5zM1335.9,452.3l3.5,3.5-3.5,3.5-3.5-3.5zM1337.1,451.7l3.5,3.5-3.5,3.5-3.5-3.5zM1338.4,452.3l3.5,3.5-3.5,3.5-3.5-3.5zM1339.6,452.7l3.5,3.5-3.5,3.5-3.5-3.5zM1340.9,452.4l3.5,3.5-3.5,3.5-3.5-3.5zM1342.1,452.9l3.5,3.5-3.5,3.5-3.5-3.5zM1343.4,452.9l3.5,3.5-3.5,3.5-3.5-3.5zM1344.6,452.6l3.5,3.5-3.5,3.5-3.5-3.5zM1345.9,453.4l3.5,3.5-3.5,3.5-3.5-3.5zM1347.1,453.8l3.5,3.5-3.5,3.5-3.5-3.5zM1348.3,452.4l3.5,3.5-3.5,3.5-3.5-3.5zM1349.6,453.3l3.5,3.5-3.5,3.5-3.5-3.5zM1350.8,454.4l3.5,3.5-3.5,3.5-3.5-3.5zM1352.1,454.4l3.5,3.5-3.5,3.5-3.5-3.5zM1353.3,453.2l3.5,3.5-3.5,3.5-3.5-3.5zM1354.6,454.7l3.5,3.5-3.5,3.5-3.5-3.5zM1355.8,455.6l3.5,3.5-3.5,3.5-3.5-3.5zM1357.1,455.5l3.5,3.5-3.5,3.5-3.5-3.5zM1358.3,455.6l3.5,3.5-3.5,3.5-3.5-3.5zM1359.5,455.3l3.5,3.5-3.5,3.5-3.5-3.5zM1360.8,455.7l3.5,3.5-3.5,3.5-3.5-3.5zM1362.0,455.2l3.5,3.5-3.5,3.5-3.5-3.5zM1363.3,456.1l3.5,3.5-3.5,3.5-3.5-3.5zM1364.5,457.7l3.5,3.5-3.5,3.5-3.5-3.5zM1365.8,456.6l3.5,3.5-3.5,3.5-3.5-3.5zM1367.0,456.3l3.5,3.5-3.5,3.5-3.5-3.5zM1368.3,457.5l3.5,3.5-3.5,3.5-3.5-3.5zM1369.5,456.2l3.5,3.5-3.5,3.5-3.5-3.5zM1370.7,459.0l3.5,3.5-3.5,3.5-3.5-3.5zM1372.0,458.3l3.5,3.5-3.5,3.5-3.5-3.5zM1373.2,458.1l3.5,3.5-3.5,3.5-3.5-3.5zM1374.5,458.3l3.5,3.5-3.5,3.5-3.5-3.5zM1375.7,458.3l3.5,3.5-3.5,3.5-3.5-3.5zM1377.0,459.2l3.5,3.5-3.5,3.5-3.5-3.5zM1378.2,459.5l3.5,3.5-3.5,3.5-3.5-3.5zM1379.5,458.8l3.5,3.5-3.5,3.5-3.5-3.5zM1380.7,460.7l3.5,3.5-3.5,3.5-3.5-3.5zM1381.9,460.2l3.5,3.5-3.5,3.5-3.5-3.5zM1383.2,460.0l3.5,3.5-3.5,3.5-3.5-3.5zM1384.4,461.6l3.5,3.5-3.5,3.5-3.5-3.5zM1385.7,461.8l3.5,3.5-3.5,3.5-3.5-3.5zM1386.9,461.3l3.5,3.5-3.5,3.5-3.5-3.5zM1388.2,461.6l3.5,3.5-3.5,3.5-3.5-3.5zM1389.4,463.0l3.5,3.5-3.5,3.5-3.5-3.5zM1390.7,462.4l3.5,3.5-3.5,3.5-3.5-3.5zM1391.9,463.1l3.5,3.5-3.5,3.5-3.5-3.5zM1393.1,464.2l3.5,3.5-3.5,3.5-3.5-3.5zM1394.4,463.0l3.5,3.5-3.5,3.5-3.5-3.5zM1395.6,463.2l3.5,3.5-3.5,3.5-3.5-3.5zM1396.9,463.9l3.5,3.5-3.5,3.5-3.5-3.5zM1398.1,464.4l3.5,3.5-3.5,3.5-3.5-3.5zM1399.4,465.1l3.5,3.5-3.5,3.5-3.5-3.5zM1400.6,466.1l3.5,3.5-3.5,3.5-3.5-3.5zM1401.8,465.6l3.5,3.5-3.5,3.5-3.5-3.5zM1403.1,467.2l3.5,3.5-3.5,3.5-3.5-3.5zM1404.3,466.7l3.5,3.5-3.5,3.5-3.5-3.5zM1405.6,465.8l3.5,3.5-3.5,3.5-3.5-3.5zM1406.8,467.3l3.5,3.5-3.5,3.5-3.5-3.5zM1408.1,468.1l3.5,3.5-3.5,3.5-3.5-3.5zM1409.3,468.7l3.5,3.5-3.5,3.5-3.5-3.5zM1410.6,468.0l3.5,3.5-3.5,3.5-3.5-3.5zM1411.8,468.7l3.5,3.5-3.5,3.5-3.5-3.5zM1413.0,470.5l3.5,3.5-3.5,3.5-3.5-3.5zM1414.3,469.7l3.5,3.5-3.5,3.5-3.5-3.5zM1415.5,469.4l3.5,3.5-3.5,3.5-3.5-3.5zM1416.8,469.4l3.5,3.5-3.5,3.5-3.5-3.5zM1418.0,470.5l3.5,3.5-3.5,3.5-3.5-3.5zM1419.3,471.3l3.5,3.5-3.5,3.5-3.5-3.5zM1420.5,470.8l3.5,3.5-3.5,3.5-3.5-3.5zM1421.8,472.7l3.5,3.5-3.5,3.5-3.5-3.5zM1423.0,471.8l3.5,3.5-3.5,3.5-3.5-3.5zM1424.2,471.5l3.5,3.5-3.5,3.5-3.5-3.5zM1425.5,473.5l3.5,3.5-3.5,3.5-3.5-3.5zM1426.7,473.5l3.5,3.5-3.5,3.5-3.5-3.5zM1428.0,473.8l3.5,3.5-3.5,3.5-3.5-3.5zM1429.2,475.1l3.5,3.5-3.5,3.5-3.5-3.5zM1430.5,474.4l3.5,3.5-3.5,3.5-3.5-3.5zM1431.7,475.6l3.5,3.5-3.5,3.5-3.5-3.5zM1433.0,475.2l3.5,3.5-3.5,3.5-3.5-3.5zM1434.2,477.0l3.5,3.5-3.5,3.5-3.5-3.5zM1435.4,476.4l3.5,3.5-3.5,3.5-3.5-3.5zM1436.7,476.8l3.5,3.5-3.5,3.5-3.5-3.5zM1437.9,477.6l3.5,3.5-3.5,3.5-3.5-3.5zM1439.2,477.6l3.5,3.5-3.5,3.5-3.5-3.5zM1440.4,478.4l3.5,3.5-3.5,3.5-3.5-3.5zM1441.7,478.4l3.5,3.5-3.5,3.5-3.5-3.5zM1442.9,479.4l3.5,3.5-3.5,3.5-3.5-3.5zM1444.2,479.5l3.5,3.5-3.5,3.5-3.5-3.5zM1445.4,479.6l3.5,3.5-3.5,3.5-3.5-3.5zM1446.6,480.7l3.5,3.5-3.5,3.5-3.5-3.5zM1447.9,481.1l3.5,3.5-3.5,3.5-3.5-3.5zM1449.1,480.6l3.5,3.5-3.5,3.5-3.5-3.5zM1450.4,481.5l3.5,3.5-3.5,3.5-3.5-3.5zM1451.6,481.2l3.5,3.5-3.5,3.5-3.5-3.5zM1452.9,482.7l3.5,3.5-3.5,3.5-3.5-3.5zM1454.1,483.6l3.5,3.5-3.5,3.5-3.5-3.5zM1455.4,485.0l3.5,3.5-3.5,3.5-3.5-3.5zM1456.6,484.2l3.5,3.5-3.5,3.5-3.5-3.5zM1457.8,485.2l3.5,3.5-3.5,3.5-3.5-3.5zM1459.1,485.9l3.5,3.5-3.5,3.5-3.5-3.5zM1460.3,486.0l3.5,3.5-3.5,3.5-3.5-3.5zM1461.6,484.9l3.5,3.5-3.5,3.5-3.5-3.5zM1462.8,486.2l3.5,3.5-3.5,3.5-3.5-3.5zM1464.1,487.2l3.5,3.5-3.5,3.5-3.5-3.5zM1465.3,487.7l3.5,3.5-3.5,3.5-3.5-3.5zM1466.6,488.1l3.5,3.5-3.5,3.5-3.5-3.5zM1467.8,488.0l3.5,3.5-3.5,3.5-3.5-3.5zM1469.0,488.0l3.5,3.5-3.5,3.5-3.5-3.5zM1470.3,489.8l3.5,3.5-3.5,3.5-3.5-3.5zM1471.5,490.8l3.5,3.5-3.5,3.5-3.5-3.5zM1472.8,490.4l3.5,3.5-3.5,3.5-3.5-3.5zM1474.0,491.5l3.5,3.5-3.5,3.5-3.5-3.5zM1475.3,491.4l3.5,3.5-3.5,3.5-3.5-3.5zM1476.5,492.2l3.5,3.5-3.5,3.5-3.5-3.5zM1477.8,492.5l3.5,3.5-3.5,3.5-3.5-3.5zM1479.0,493.9l3.5,3.5-3.5,3.5-3.5-3.5zM1480.2,493.4l3.5,3.5-3.5,3.5-3.5-3.5zM1481.5,494.6l3.5,3.5-3.5,3.5-3.5-3.5zM1482.7,495.6l3.5,3.5-3.5,3.5-3.5-3.5zM1484.0,495.6l3.5,3.5-3.5,3.5-3.5-3.5zM1485.2,495.5l3.5,3.5-3.5,3.5-3.5-3.5zM1486.5,497.0l3.5,3.5-3.5,3.5-3.5-3.5zM1487.7,497.3l3.5,3.5-3.5,3.5-3.5-3.5zM1489.0,497.2l3.5,3.5-3.5,3.5-3.5-3.5zM1490.2,498.4l3.5,3.5-3.5,3.5-3.5-3.5zM1491.4,499.0l3.5,3.5-3.5,3.5-3.5-3.5zM1492.7,500.1l3.5,3.5-3.5,3.5-3.5-3.5zM1493.9,500.1l3.5,3.5-3.5,3.5-3.5-3.5zM1495.2,501.0l3.5,3.5-3.5,3.5-3.5-3.5zM1496.4,502.0l3.5,3.5-3.5,3.5-3.5-3.5zM1497.7,501.1l3.5,3.5-3.5,3.5-3.5-3.5zM1498.9,503.4l3.5,3.5-3.5,3.5-3.5-3.5zM1500.1,503.5l3.5,3.5-3.5,3.5-3.5-3.5zM1501.4,503.5l3.5,3.5-3.5,3.5-3.5-3.5zM1502.6,504.9l3.5,3.5-3.5,3.5-3.5-3.5zM1503.9,506.1l3.5,3.5-3.5,3.5-3.5-3.5zM1505.1,505.7l3.5,3.5-3.5,3.5-3.5-3.5zM1506.4,506.4l3.5,3.5-3.5,3.5-3.5-3.5zM1507.6,508.2l3.5,3.5-3.5,3.5-3.5-3.5zM1508.9,509.0l3.5,3.5-3.5,3.5-3.5-3.5zM1510.1,510.0l3.5,3.5-3.5,3.5-3.5-3.5zM1511.3,509.5l3.5,3.5-3.5,3.5-3.5-3.5zM1512.6,509.6l3.5,3.5-3.5,3.5-3.5-3.5z"/>
<path d="M226.0,946.4l3.5,3.5-3.5,3.5-3.5-3.5z"/>
<path d="M227.2,963.1l3.5,3.5-3.5,3.5-3.5-3.5z"/>
<path d="M228.5,972.9l3.5,3.5-3.5,3.5-3.5-3.5z"/>
<path d="M229.7,985.0l3.5,3.5-3.5,3.5-3.5-3.5z"/>
<path d="M231.0,997.0l3.5,3.5-3.5,3.5-3.5-3.5z"/>
<path d="M232.2,1007.1l3.5,3.5-3.5,3.5-3.5-3.5z"/>
<path d="M233.5,1006.4l3.5,3.5-3.5,3.5-3.5-3.5z"/>
<path d="M234.7,1025.8l3.5,3.5-3.5,3.5-3.5-3.5z"/>
<path d="M236.0,1032.1l3.5,3.5-3.5,3.5-3.5-3.5z"/>
<path d="M237.2,1041.0l3.5,3.5-3.5,3.5-3.5-3.5z"/>
<path d="M238.4,1048.4l3.5,3.5-3.5,3.5-3.5-3.5z"/>
<path d="M239.7,1058.5l3.5,3.5-3.5,3.5-3.5-3.5z"/>
<path d="M240.9,1062.8l3.5,3.5-3.5,3.5-3.5-3.5z"/>
<path d="M242.2,1061.2l3.5,3.5-3.5,3.5-3.5-3.5z"/>
<path d="M243.4,1069.6l3.5,3.5-3.5,3.5-3.5-3.5z"/>
<path d="M244.7,1075.4l3.5,3.5-3.5,3.5-3.5-3.5z"/>
<path d="M245.9,1080.1l3.5,3.5-3.5,3.5-3.5-3.5z"/>
<path d="M247.2,1083.2l3.5,3.5-3.5,3.5-3.5-3.5z"/>
<path d="M248.4,1085.6l3.5,3.5-3.5,3.5-3.5-3.5z"/>
<path d="M249.6,1076.2l3.5,3.5-3.5,3.5-3.5-3.5z"/>
<path d="M250.9,1071.8l3.5,3.5-3.5,3.5-3.5-3.5z"/>
<path d="M252.1,1060.7l3.5,3.5-3.5,3.5-3.5-3.5z"/>
<path d="M253.4,1050.7l3.5,3.5-3.5,3.5-3.5-3.5z"/>
<path d="M254.6,1037.6l3.5,3.5-3.5,3.5-3.5-3.5z"/>
<path d="M255.9,1016.0l3.5,3.5-3.5,3.5-3.5-3.5z"/>
<path d="M257.1,1000.1l3.5,3.5-3.5,3.5-3.5-3.5z"/>
<path d="M258.4,979.7l3.5,3.5-3.5,3.5-3.5-3.5z"/>
<path d="M259.6,970.0l3.5,3.5-3.5,3.5-3.5-3.5z"/>
<path d="M260.8,947.9l3.5,3.5-3.5,3.5-3.5-3.5z"/>
<path d="M262.1,944.4l3.5,3.5-3.5,3.5-3.5-3.5z"/>
<path d="M263.3,942.3l3.5,3.5-3.5,3.5-3.5-3.5z"/>
<path d="M264.6,934.5l3.5,3.5-3.5,3.5-3.5-3.5z"/>
<path d="M265.8,932.6l3.5,3.5-3.5,3.5-3.5-3.5z"/>
<path d="M267.1,936.6l3.5,3.5-3.5,3.5-3.5-3.5z"/>
<path d="M268.3,944.7l3.5,3.5-3.5,3.5-3.5-3.5z"/>
<path d="M269.6,948.1l3.5,3.5-3.5,3.5-3.5-3.5z"/>
<path d="M270.8,960.7l3.5,3.5-3.5,3.5-3.5-3.5z"/>
<path d="M272.0,965.9l3.5,3.5-3.5,3.5-3.5-3.5z"/>
<path d="M273.3,972.3l3.5,3.5-3.5,3.5-3.5-3.5z"/>
<path d="M274.5,981.2l3.5,3.5-3.5,3.5-3.5-3.5z"/>
<path d="M275.8,992.5l3.5,3.5-3.5,3.5-3.5-3.5z"/>
<path d="M277.0,1001.3l3.5,3.5-3.5,3.5-3.5-3.5z"/>
<path d="M278.3,1004.0l3.5,3.5-3.5,3.5-3.5-3.5z"/>
<path d="M279.5,1009.1l3.5,3.5-3.5,3.5-3.5-3.5z"/>
<path d="M280.7,1013.7l3.5,3.5-3.5,3.5-3.5-3.5z"/>
<path d="M282.0,1021.4l3.5,3.5-3.5,3.5-3.5-3.5z"/>
<path d="M283.2,1027.9l3.5,3.5-3.5,3.5-3.5-3.5z"/>
<path d="M284.5,1025.6l3.5,3.5-3.5,3.5-3.5-3.5z"/>
<path d="M285.7,1031.1l3.5,3.5-3.5,3.5-3.5-3.5z"/>
<path d="M287.0,1031.3l3.5,3.5-3.5,3.5-3.5-3.5z"/>
<path d="M288.2,1036.6l3.5,3.5-3.5,3.5-3.5-3.5z"/>
<path d="M289.5,1033.4l3.5,3.5-3.5,3.5-3.5-3.5z"/>
<path d="M290.7,1040.2l3.5,3.5-3.5,3.5-3.5-3.5z"/>
<path d="M291.9,1038.1l3.5,3.5-3.5,3.5-3.5-3.5z"/>
<path d="M293.2,1041.2l3.5,3.5-3.5,3.5-3.5-3.5z"/>
<path d="M294.4,1045.7l3.5,3.5-3.5,3.5-3.5-3.5z"/>
<path d="M295.7,1046.3l3.5,3.5-3.5,3.5-3.5-3.5z"/>
<path d="M296.9,1048.4l3.5,3.5-3.5,3.5-3.5-3.5z"/>
<path d="M298.2,1051.3l3.5,3.5-3.5,3.5-3.5-3.5z"/>
<path d="M299.4,1052.1l3.5,3.5-3.5,3.5-3.5-3.5z"/>
<path d="M300.7,1056.2l3.5,3.5-3.5,3.5-3.5-3.5z"/>
<path d="M301.9,1056.1l3.5,3.5-3.5,3.5-3.5-3.5z"/>
<path d="M303.1,1054.1l3.5,3.5-3.5,3.5-3.5-3.5z"/>
<path d="M304.4,1057.0l3.5,3.5-3.5,3.5-3.5-3.5z"/>
<path d="M305.6,1057.2l3.5,3.5-3.5,3.5-3.5-3.5z"/>
<path d="M306.9,1058.6l3.5,3.5-3.5,3.5-3.5-3.5z"/>
<path d="M308.1,1064.0l3.5,3.5-3.5,3.5-3.5-3.5z"/>
<path d="M309.4,1060.0l3.5,3.5-3.5,3.5-3.5-3.5z"/>
<path d="M310.6,1065.0l3.5,3.5-3.5,3.5-3.5-3.5z"/>
<path d="M311.9,1066.4l3.5,3.5-3.5,3.5-3.5-3.5z"/>
<path d="M313.1,1069.7l3.5,3.5-3.5,3.5-3.5-3.5z"/>
<path d="M314.3,1065.6l3.5,3.5-3.5,3.5-3.5-3.5z"/>
<path d="M315.6,1067.2l3.5,3.5-3.5,3.5-3.5-3.5z"/>
<path d="M316.8,1068.3l3.5,3.5-3.5,3.5-3.5-3.5z"/>
<path d="M318.1,1068.2l3.5,3.5-3.5,3.5-3.5-3.5z"/>
<path d="M319.3,1073.2l3.5,3.5-3.5,3.5-3.5-3.5z"/>
<path d="M320.6,1074.6l3.5,3.5-3.5,3.5-3.5-3.5z"/>
<path d="M321.8,1068.0l3.5,3.5-3.5,3.5-3.5-3.5z"/>
<path d="M323.1,1072.7l3.5,3.5-3.5,3.5-3.5-3.5z"/>
<path d="M324.3,1076.4l3.5,3.5-3.5,3.5-3.5-3.5z"/>
<path d="M325.5,1073.6l3.5,3.5-3.5,3.5-3.5-3.5z"/>
<path d="M326.8,1075.3l3.5,3.5-3.5,3.5-3.5-3.5z"/>
<path d="M328.0,1077.7l3.5,3.5-3.5,3.5-3.5-3.5z"/>
<path d="M329.3,1078.7l3.5,3.5-3.5,3.5-3.5-3.5z"/>
<path d="M330.5,1079.6l3.5,3.5-3.5,3.5-3.5-3.5z"/>
<path d="M331.8,1080.7l3.5,3.5-3.5,3.5-3.5-3.5z"/>
<path d="M333.0,1085.1l3.5,3.5-3.5,3.5-3.5-3.5z"/>
<path d="M334.3,1079.2l3.5,3.5-3.5,3.5-3.5-3.5z"/>
<path d="M335.5,1083.2l3.5,3.5-3.5,3.5-3.5-3.5z"/>
<path d="M336.7,1083.2l3.5,3.5-3.5,3.5-3.5-3.5z"/>
<path d="M338.0,1086.5l3.5,3.5-3.5,3.5-3.5-3.5z"/>
<path d="M339.2,1086.4l3.5,3.5-3.5,3.5-3.5-3.5z"/>
<path d="M340.5,1088.9l3.5,3.5-3.5,3.5-3.5-3.5z"/>
<path d="M341.7,1089.1l3.5,3.5-3.5,3.5-3.5-3.5z"/>
<path d="M884.2,528.5l3.5,3.5-3.5,3.5-3.5-3.5z"/>
<path d="M885.5,559.0l3.5,3.5-3.5,3.5-3.5-3.5z"/>
<path d="M886.7,539.5l3.5,3.5-3.5,3.5-3.5-3.5z"/>
<path d="M888.0,560.4l3.5,3.5-3.5,3.5-3.5-3.5z"/>
<path d="M889.2,541.0l3.5,3.5-3.5,3.5-3.5-3.5z"/>
<path d="M890.4,531.7l3.5,3.5-3.5,3.5-3.5-3.5z"/>
<path d="M891.7,544.8l3.5,3.5-3.5,3.5-3.5-3.5z"/>
<path d="M892.9,544.8l3.5,3.5-3.5,3.5-3.5-3.5z"/>
<path d="M894.2,557.3l3.5,3.5-3.5,3.5-3.5-3.5z"/>
<path d="M895.4,520.4l3.5,3.5-3.5,3.5-3.5-3.5z"/>
<path d="M896.7,537.8l3.5,3.5-3.5,3.5-3.5-3.5z"/>
<path d="M897.9,546.5l3.5,3.5-3.5,3.5-3.5-3.5z"/>
<path d="M899.2,534.5l3.5,3.5-3.5,3.5-3.5-3.5z"/>
<path d="M900.4,543.3l3.5,3.5-3.5,3.5-3.5-3.5z"/>
<path d="M901.6,539.2l3.5,3.5-3.5,3.5-3.5-3.5z"/>
<path d="M902.9,555.4l3.5,3.5-3.5,3.5-3.5-3.5z"/>
<path d="M904.1,553.4l3.5,3.5-3.5,3.5-3.5-3.5z"/>
<path d="M905.4,523.1l3.5,3.5-3.5,3.5-3.5-3.5z"/>
<path d="M906.6,528.0l3.5,3.5-3.5,3.5-3.5-3.5z"/>
<path d="M907.9,534.6l3.5,3.5-3.5,3.5-3.5-3.5z"/>
<path d="M909.1,540.7l3.5,3.5-3.5,3.5-3.5-3.5z"/>
<path d="M910.4,539.8l3.5,3.5-3.5,3.5-3.5-3.5z"/>
<path d="M911.6,536.9l3.5,3.5-3.5,3.5-3.5-3.5z"/>
<path d="M912.8,545.6l3.5,3.5-3.5,3.5-3.5-3.5z"/>
<path d="M914.1,547.3l3.5,3.5-3.5,3.5-3.5-3.5z"/>
<path d="M915.3,541.3l3.5,3.5-3.5,3.5-3.5-3.5z"/>
<path d="M916.6,538.2l3.5,3.5-3.5,3.5-3.5-3.5z"/>
<path d="M917.8,540.4l3.5,3.5-3.5,3.5-3.5-3.5z"/>
<path d="M919.1,534.2l3.5,3.5-3.5,3.5-3.5-3.5z"/>
<path d="M920.3,545.4l3.5,3.5-3.5,3.5-3.5-3.5z"/>
<path d="M921.6,545.1l3.5,3.5-3.5,3.5-3.5-3.5z"/>
<path d="M922.8,533.4l3.5,3.5-3.5,3.5-3.5-3.5z"/>
<path d="M924.0,548.4l3.5,3.5-3.5,3.5-3.5-3.5z"/>
<path d="M925.3,538.7l3.5,3.5-3.5,3.5-3.5-3.5z"/>
<path d="M926.5,543.7l3.5,3.5-3.5,3.5-3.5-3.5z"/>
<path d="M927.8,538.5l3.5,3.5-3.5,3.5-3.5-3.5z"/>
<path d="M929.0,537.2l3.5,3.5-3.5,3.5-3.5-3.5z"/>
<path d="M930.3,542.1l3.5,3.5-3.5,3.5-3.5-3.5z"/>
<path d="M931.5,532.4l3.5,3.5-3.5,3.5-3.5-3.5z"/>
<path d="M932.8,536.2l3.5,3.5-3.5,3.5-3.5-3.5z"/>
<path d="M934.0,531.0l3.5,3.5-3.5,3.5-3.5-3.5z"/>
<path d="M935.2,539.6l3.5,3.5-3.5,3.5-3.5-3.5z"/>
<path d="M936.5,535.6l3.5,3.5-3.5,3.5-3.5-3.5z"/>
<path d="M937.7,534.9l3.5,3.5-3.5,3.5-3.5-3.5z"/>
<path d="M939.0,533.7l3.5,3.5-3.5,3.5-3.5-3.5z"/>
<path d="M940.2,539.0l3.5,3.5-3.5,3.5-3.5-3.5z"/>
<path d="M941.5,536.9l3.5,3.5-3.5,3.5-3.5-3.5z"/>
<path d="M942.7,534.4l3.5,3.5-3.5,3.5-3.5-3.5z"/>
<path d="M944.0,533.0l3.5,3.5-3.5,3.5-3.5-3.5z"/>
<path d="M945.2,542.5l3.5,3.5-3.5,3.5-3.5-3.5z"/>
<path d="M946.4,540.8l3.5,3.5-3.5,3.5-3.5-3.5z"/>
<path d="M947.7,529.5l3.5,3.5-3.5,3.5-3.5-3.5z"/>
<path d="M948.9,538.8l3.5,3.5-3.5,3.5-3.5-3.5z"/>
<path d="M950.2,535.7l3.5,3.5-3.5,3.5-3.5-3.5z"/>
<path d="M951.4,534.4l3.5,3.5-3.5,3.5-3.5-3.5z"/>
<path d="M952.7,534.6l3.5,3.5-3.5,3.5-3.5-3.5z"/>
<path d="M953.9,527.6l3.5,3.5-3.5,3.5-3.5-3.5z"/>
<path d="M955.2,541.2l3.5,3.5-3.5,3.5-3.5-3.5z"/>
<path d="M956.4,539.2l3.5,3.5-3.5,3.5-3.5-3.5z"/>
<path d="M957.6,531.8l3.5,3.5-3.5,3.5-3.5-3.5z"/>
<path d="M958.9,531.3l3.5,3.5-3.5,3.5-3.5-3.5z"/>
<path d="M960.1,531.5l3.5,3.5-3.5,3.5-3.5-3.5z"/>
<path d="M961.4,528.4l3.5,3.5-3.5,3.5-3.5-3.5z"/>
<path d="M962.6,532.0l3.5,3.5-3.5,3.5-3.5-3.5z"/>
<path d="M963.9,529.8l3.5,3.5-3.5,3.5-3.5-3.5z"/>
<path d="M965.1,526.3l3.5,3.5-3.5,3.5-3.5-3.5z"/>
<path d="M966.4,527.7l3.5,3.5-3.5,3.5-3.5-3.5z"/>
<path d="M967.6,526.9l3.5,3.5-3.5,3.5-3.5-3.5z"/>
<path d="M968.8,526.7l3.5,3.5-3.5,3.5-3.5-3.5z"/>
<path d="M970.1,527.1l3.5,3.5-3.5,3.5-3.5-3.5z"/>
<path d="M971.3,529.4l3.5,3.5-3.5,3.5-3.5-3.5z"/>
<path d="M972.6,526.2l3.5,3.5-3.5,3.5-3.5-3.5z"/>
<path d="M973.8,522.7l3.5,3.5-3.5,3.5-3.5-3.5z"/>
<path d="M975.1,530.3l3.5,3.5-3.5,3.5-3.5-3.5z"/>
<path d="M976.3,524.7l3.5,3.5-3.5,3.5-3.5-3.5z"/>
<path d="M977.5,529.5l3.5,3.5-3.5,3.5-3.5-3.5z"/>
<path d="M978.8,526.1l3.5,3.5-3.5,3.5-3.5-3.5z"/>
<path d="M980.0,526.4l3.5,3.5-3.5,3.5-3.5-3.5z"/>
<path d="M981.3,522.7l3.5,3.5-3.5,3.5-3.5-3.5z"/>
<path d="M982.5,524.6l3.5,3.5-3.5,3.5-3.5-3.5z"/>
<path d="M983.8,523.1l3.5,3.5-3.5,3.5-3.5-3.5z"/>
<path d="M985.0,523.5l3.5,3.5-3.5,3.5-3.5-3.5z"/>
<path d="M986.3,524.2l3.5,3.5-3.5,3.5-3.5-3.5z"/>
<path d="M987.5,522.0l3.5,3.5-3.5,3.5-3.5-3.5z"/>
<path d="M988.7,524.2l3.5,3.5-3.5,3.5-3.5-3.5z"/>
<path d="M990.0,519.1l3.5,3.5-3.5,3.5-3.5-3.5z"/>
<path d="M991.2,519.5l3.5,3.5-3.5,3.5-3.5-3.5z"/>
<path d="M992.5,522.1l3.5,3.5-3.5,3.5-3.5-3.5z"/>
<path d="M993.7,521.9l3.5,3.5-3.5,3.5-3.5-3.5z"/>
<path d="M995.0,522.5l3.5,3.5-3.5,3.5-3.5-3.5z"/>
<path d="M996.2,523.1l3.5,3.5-3.5,3.5-3.5-3.5z"/>
<path d="M997.5,520.5l3.5,3.5-3.5,3.5-3.5-3.5z"/>
<path d="M998.7,520.7l3.5,3.5-3.5,3.5-3.5-3.5z"/>
<path d="M999.9,519.4l3.5,3.5-3.5,3.5-3.5-3.5z"/>
<path d="M1001.2,518.8l3.5,3.5-3.5,3.5-3.5-3.5z"/>
<path d="M1002.4,518.0l3.5,3.5-3.5,3.5-3.5-3.5z"/>
<path d="M1003.7,518.0l3.5,3.5-3.5,3.5-3.5-3.5z"/>
<path d="M1004.9,516.5l3.5,3.5-3.5,3.5-3.5-3.5z"/>
<path d="M1006.2,516.8l3.5,3.5-3.5,3.5-3.5-3.5z"/>
<path d="M1513.8,507.5l3.5,3.5-3.5,3.5-3.5-3.5z"/>
<path d="M1515.1,510.4l3.5,3.5-3.5,3.5-3.5-3.5z"/>
<path d="M1516.3,508.7l3.5,3.5-3.5,3.5-3.5-3.5z"/>
<path d="M1517.6,514.6l3.5,3.5-3.5,3.5-3.5-3.5z"/>
<path d="M1518.8,518.3l3.5,3.5-3.5,3.5-3.5-3.5z"/>
<path d="M1520.1,510.7l3.5,3.5-3.5,3.5-3.5-3.5z"/>
<path d="M1521.3,520.5l3.5,3.5-3.5,3.5-3.5-3.5z"/>
<path d="M1522.5,512.7l3.5,3.5-3.5,3.5-3.5-3.5z"/>
<path d="M1523.8,514.2l3.5,3.5-3.5,3.5-3.5-3.5z"/>
<path d="M1525.0,512.5l3.5,3.5-3.5,3.5-3.5-3.5z"/>
<path d="M1526.3,520.8l3.5,3.5-3.5,3.5-3.5-3.5z"/>
<path d="M1527.5,518.7l3.5,3.5-3.5,3.5-3.5-3.5z"/>
<path d="M1528.8,519.9l3.5,3.5-3.5,3.5-3.5-3.5z"/>
<path d="M1530.0,510.3l3.5,3.5-3.5,3.5-3.5-3.5z"/>
<path d="M1531.3,519.5l3.5,3.5-3.5,3.5-3.5-3.5z"/>
<path d="M1532.5,523.6l3.5,3.5-3.5,3.5-3.5-3.5z"/>
</g>
<path class="c" stroke="#bf003c" d="M226.0,962.9 226.5,966.9 227.0,970.8 227.5,974.7 228.0,978.5 228.5,982.3 229.0,986.1 229.5,989.8 230.0,993.5 230.5,997.1 231.0,1000.7 231.5,1004.3 232.0,1007.8 232.5,1011.3 233.0,1014.7 233.5,1018.1 234.0,1021.4 234.5,1024.7 235.0,1028.0 235.5,1031.2 236.0,1034.6 236.5,1038.0 237.0,1041.4 237.5,1044.8 238.0,1048.1 238.5,1051.3 239.0,1054.3 239.5,1057.0 240.0,1059.5 240.5,1061.9 241.0,1064.1 241.5,1066.3 242.0,1068.4 242.5,1070.3 243.0,1072.1 243.5,1073.8 244.0,1075.3 244.5,1076.9 245.0,1078.5 245.5,1080.0 246.0,1081.3 246.5,1082.4 247.0,1083.0 247.5,1083.2 248.0,1082.7 248.5,1081.6 249.0,1080.1 249.5,1078.2 250.0,1076.1 250.5,1073.9 251.0,1071.3 251.5,1067.8 252.0,1063.6 252.5,1059.0 253.0,1054.3 253.5,1049.5 254.0,1044.4 254.5,1038.9 255.0,1033.1 255.5,1026.8 256.0,1020.0 256.5,1013.0 257.0,1006.4 257.5,1000.1 258.0,993.8 258.5,987.7 259.0,982.0 259.5,976.8 260.0,972.2 260.5,967.7 261.0,963.4 261.5,959.6 262.0,956.4 262.5,953.9 263.0,951.9 263.5,949.9 264.0,948.3 264.5,947.0 265.0,946.2 265.5,946.1 266.0,946.6 266.5,947.4 267.0,948.5 267.5,949.9 268.0,951.4 268.5,952.9 269.0,954.8 269.5,957.3 270.0,960.1 270.5,963.0 271.0,965.9 271.5,968.7 272.0,971.5 272.5,974.4 273.0,977.3 273.5,980.3 274.0,983.4 274.5,986.7 275.0,990.0 275.5,993.3 276.0,996.3 276.5,999.2 277.0,1002.0 277.5,1004.8 278.0,1007.4 278.5,1010.0 279.0,1012.4 279.5,1014.6 280.0,1016.6 280.5,1018.5 281.0,1020.2 281.5,1021.9 282.0,1023.5 282.5,1025.0 283.0,1026.4 283.5,1027.8 284.0,1029.1 284.5,1030.4 285.0,1031.7 285.5,1032.8 286.0,1034.0 286.5,1035.1 287.0,1036.1 287.5,1037.1 288.0,1038.1 288.5,1039.1 289.0,1040.0 289.5,1040.9 290.0,1041.8 290.5,1042.7 291.0,1043.6 291.5,1044.5 292.0,1045.3 292.5,1046.2 293.0,1047.0 293.5,1047.8 294.0,1048.6 294.5,1049.4 295.0,1050.1 295.5,1050.9 296.0,1051.6 296.5,1052.3 297.0,1052.9 297.5,1053.6 298.0,1054.2 298.5,1054.9 299.0,1055.5 299.5,1056.1 300.0,1056.7 300.5,1057.3 301.0,1057.9 301.5,1058.4 302.0,1059.0 302.5,1059.5 303.0,1060.1 303.5,1060.6 304.0,1061.1 304.5,1061.6 305.0,1062.1 305.5,1062.6 306.0,1063.0 306.5,1063.5 307.0,1063.9 307.5,1064.4 308.0,1064.8 308.5,1065.2 309.0,1065.7 309.5,1066.1 310.0,1066.5 310.5,1066.9 311.0,1067.3 311.5,1067.7 312.0,1068.2 312.5,1068.6 313.0,1069.0 313.5,1069.4 314.0,1069.9 314.5,1070.3 315.0,1070.7 315.5,1071.2 316.0,1071.6 316.5,1072.0 317.0,1072.5 317.5,1072.9 318.0,1073.3 318.5,1073.8 319.0,1074.2 319.5,1074.7 320.0,1075.1 320.5,1075.5 321.0,1076.0 321.5,1076.4 322.0,1076.8 322.5,1077.3 323.0,1077.7 323.5,1078.2 324.0,1078.6 324.5,1079.0 325.0,1079.5 325.5,1079.9 326.0,1080.3 326.5,1080.8 327.0,1081.2 327.5,1081.7 328.0,1082.1 328.5,1082.6 329.0,1083.0 329.5,1083.5 330.0,1083.9 330.5,1084.4 331.0,1084.8 331.5,1085.2 332.0,1085.7 332.5,1086.1 333.0,1086.5 333.5,1086.9 334.0,1087.4 334.5,1087.8 335.0,1088.2 335.5,1088.6 336.0,1089.0 336.5,1089.4 337.0,1089.8 337.5,1090.2 338.0,1090.6 338.5,1091.0 339.0,1091.4 339.5,1091.8 340.0,1092.2 340.5,1092.6 341.0,1093.0 341.5,1093.4 342.0,1093.7 342.5,1094.1 343.0,1094.4 343.5,1094.8 344.0,1095.1 344.5,1095.4 345.0,1095.7 345.5,1096.0 346.0,1096.3 346.5,1096.6 347.0,1096.9 347.5,1097.1 348.0,1097.4 348.5,1097.6 349.0,1097.9 349.5,1098.1 350.0,1098.3 350.5,1098.6 351.0,1098.8 351.5,1099.0 352.0,1099.3 352.5,1099.5 353.0,1099.7 353.5,1100.0 354.0,1100.2 354.5,1100.5 355.0,1100.7 355.5,1101.0 356.0,1101.3 356.5,1101.6 357.0,1101.8 357.5,1102.1 358.0,1102.4 358.5,1102.7 359.0,1103.0 359.5,1103.3 360.0,1103.6 360.5,1103.9 361.0,1104.2 361.5,1104.5 362.0,1104.8 362.5,1105.1 363.0,1105.4 363.5,1105.6 364.0,1105.9 364.5,1106.2 365.0,1106.4 365.5,1106.7 366.0,1107.0 366.5,1107.2 367.0,1107.5 367.5,1107.8 368.0,1108.0 368.5,1108.3 369.0,1108.5 369.5,1108.8 370.0,1109.0 370.5,1109.2 371.0,1109.5 371.5,1109.7 372.0,1109.8 372.5,1110.0 373.0,1110.2 373.5,1110.3 374.0,1110.5 374.5,1110.6 375.0,1110.7 375.5,1110.9 376.0,1111.0 376.5,1111.1 377.0,1111.2 377.5,1111.4 378.0,1111.5 378.5,1111.6 379.0,1111.7 379.5,1111.8 380.0,1111.9 380.5,1112.0 381.0,1112.1 381.5,1112.2 382.0,1112.3 382.5,1112.4 383.0,1112.4 383.5,1112.5 384.0,1112.6 384.5,1112.7 385.0,1112.7 385.5,1112.8 386.0,1112.9 386.5,1112.9 387.0,1113.0 387.5,1113.0 388.0,1113.1 388.5,1113.2 389.0,1113.2 389.5,1113.3 390.0,1113.3 390.5,1113.4 391.0,1113.5 391.5,1113.5 392.0,1113.6 392.5,1113.6 393.0,1113.6 393.5,1113.7 394.0,1113.7 394.5,1113.8 395.0,1113.8 395.5,1113.8 396.0,1113.8 396.5,1113.9 397.0,1113.9 397.5,1113.9 398.0,1113.9 398.5,1113.9 399.0,1113.9 399.5,1113.9 400.0,1113.9 400.5,1113.8 401.0,1113.8 401.5,1113.7 402.0,1113.7 402.5,1113.6 403.0,1113.6 403.5,1113.5 404.0,1113.5 404.5,1113.4 405.0,1113.3 405.5,1113.2 406.0,1113.1 406.5,1113.1 407.0,1113.0 407.5,1112.9 408.0,1112.8 408.5,1112.7 409.0,1112.6 409.5,1112.5 410.0,1112.4 410.5,1112.3 411.0,1112.2 411.5,1112.1 412.0,1111.9 412.5,1111.8 413.0,1111.7 413.5,1111.5 414.0,1111.3 414.5,1111.1 415.0,1110.9 415.5,1110.8 416.0,1110.6 416.5,1110.3 417.0,1110.1 417.5,1109.9 418.0,1109.7 418.5,1109.5 419.0,1109.3 419.5,1109.1 420.0,1108.9 420.5,1108.7 421.0,1108.4 421.5,1108.2 422.0,1108.0 422.5,1107.8 423.0,1107.6 423.5,1107.4 424.0,1107.1 424.5,1106.9 425.0,1106.7 425.5,1106.4 426.0,1106.2 426.5,1106.0 427.0,1105.7 427.5,1105.5 428.0,1105.2 428.5,1105.0 429.0,1104.8 429.5,1104.5 430.0,1104.3 430.5,1104.0 431.0,1103.8 431.5,1103.5 432.0,1103.3 432.5,1103.1 433.0,1102.8 433.5,1102.6 434.0,1102.3 434.5,1102.1 435.0,1101.8 435.5,1101.6 436.0,1101.3 436.5,1101.1 437.0,1100.9 437.5,1100.6 438.0,1100.3 438.5,1100.1 439.0,1099.8 439.5,1099.6 440.0,1099.3 441.5,1098.5 443.0,1097.6 444.5,1096.8 446.0,1095.9 447.5,1094.9 449.0,1094.0 450.5,1093.0 452.0,1092.0 453.5,1090.9 455.0,1089.9 456.5,1088.8 458.0,1087.6 459.5,1086.4 461.0,1085.2 462.5,1083.9 464.0,1082.7 465.5,1081.3 467.0,1080.0 468.5,1078.6 470.0,1077.2 471.5,1075.7 473.0,1074.2 474.5,1072.7 476.0,1071.2 477.5,1069.6 479.0,1068.1 480.5,1066.4 482.0,1064.8 483.5,1063.2 485.0,1061.5 486.5,1059.8 488.0,1058.1 489.5,1056.3 491.0,1054.6 492.5,1052.8 494.0,1051.0 495.5,1049.2 497.0,1047.4 498.5,1045.6 500.0,1043.8 501.5,1041.9 503.0,1040.1 504.5,1038.2 506.0,1036.3 507.5,1034.4 509.0,1032.5 510.5,1030.6 512.0,1028.7 513.5,1026.8 515.0,1024.9 516.5,1023.0 518.0,1021.0 519.5,1019.0 521.0,1017.0 522.5,1015.0 524.0,1013.0 525.5,1010.9 527.0,1008.8 528.5,1006.7 530.0,1004.5 531.5,1002.3 533.0,1000.0 534.5,997.7 536.0,995.4 537.5,993.0 539.0,990.6 540.5,988.1 542.0,985.6 543.5,983.1 545.0,980.5 546.5,977.8 548.0,975.2 549.5,972.5 551.0,969.7 552.5,966.9 554.0,964.1 555.5,961.3 557.0,958.4 558.5,955.5 560.0,952.5 561.5,949.5 563.0,946.5 564.5,943.5 566.0,940.4 567.5,937.3 569.0,934.2 570.5,931.1 572.0,927.9 573.5,924.8 575.0,921.6 576.5,918.4 578.0,915.3 579.5,912.1 581.0,908.9 582.5,905.7 584.0,902.6 585.5,899.4 587.0,896.3 588.5,893.1 590.0,890.0 591.5,886.9 593.0,883.8 594.5,880.7 596.0,877.7 597.5,874.7 599.0,871.7 600.5,868.7 602.0,865.8 603.5,862.9 605.0,860.0 606.5,857.2 608.0,854.4 609.5,851.7 611.0,849.0 612.5,846.3 614.0,843.7 615.5,841.1 617.0,838.5 618.5,836.0 620.0,833.4 621.5,830.9 623.0,828.4 624.5,826.0 626.0,823.5 627.5,821.1 629.0,818.6 630.5,816.2 632.0,813.8 633.5,811.3 635.0,808.9 636.5,806.4 638.0,804.0 639.5,801.5 641.0,799.0 642.5,796.5 644.0,794.0 645.5,791.4 647.0,788.9 648.5,786.3 650.0,783.8 651.5,781.2 653.0,778.6 654.5,776.0 656.0,773.5 657.5,770.9 659.0,768.3 660.5,765.7 662.0,763.1 663.5,760.5 665.0,757.9 666.5,755.3 668.0,752.8 669.5,750.2 671.0,747.6 672.5,745.1 674.0,742.5 675.5,740.0 677.0,737.4 678.5,734.9 680.0,732.3 681.5,729.8 683.0,727.3 684.5,724.8 686.0,722.2 687.5,719.7 689.0,717.2 690.5,714.7 692.0,712.2 693.5,709.7 695.0,707.2 696.5,704.7 698.0,702.2 699.5,699.8 701.0,697.3 702.5,694.8 704.0,692.3 705.5,689.9 707.0,687.4 708.5,684.9 710.0,682.4 711.5,680.0 713.0,677.5 714.5,675.0 716.0,672.6 717.5,670.1 719.0,667.7 720.5,665.2 722.0,662.8 723.5,660.3 725.0,657.9 726.5,655.5 728.0,653.1 729.5,650.7 731.0,648.3 732.5,645.9 734.0,643.5 735.5,641.2 737.0,638.8 738.5,636.5 740.0,634.2 741.5,631.9 743.0,629.7 744.5,627.4 746.0,625.2 747.5,623.0 749.0,620.8 750.5,618.6 752.0,616.5 753.5,614.4 755.0,612.3 756.5,610.2 758.0,608.2 759.5,606.2 761.0,604.2 762.5,602.3 764.0,600.4 765.5,598.5 767.0,596.7 768.5,594.9 770.0,593.1 771.5,591.4 773.0,589.7 774.5,588.1 776.0,586.4 777.5,584.9 779.0,583.3 780.5,581.8 782.0,580.4 783.5,579.0 785.0,577.6 786.5,576.2 788.0,574.9 789.5,573.6 791.0,572.4 792.5,571.2 794.0,570.0 795.5,568.9 797.0,567.8 798.5,566.8 800.0,565.7 801.5,564.8 803.0,563.8 804.5,562.9 806.0,562.0 807.5,561.2 809.0,560.4 810.5,559.6 812.0,558.8 813.5,558.1 815.0,557.4 816.5,556.8 818.0,556.2 819.5,555.6 821.0,555.0 822.5,554.5 824.0,554.0 825.5,553.5 827.0,553.1 828.5,552.6 830.0,552.2 831.5,551.9 833.0,551.5 834.5,551.2 836.0,550.9 837.5,550.6 839.0,550.3 840.5,550.1 842.0,549.8 843.5,549.6 845.0,549.4 846.5,549.2 848.0,549.1 849.5,548.9 851.0,548.8 852.5,548.6 854.0,548.5 855.5,548.4 857.0,548.3 858.5,548.3 860.0,548.2 861.5,548.1 863.0,548.1 864.5,548.0 866.0,548.0 867.5,547.9 869.0,547.9 870.5,547.9 872.0,547.9 873.5,547.8 875.0,547.8 876.5,547.8 878.0,547.8 879.5,547.7 881.0,547.7 882.5,547.7 884.0,547.6 885.5,547.6 887.0,547.6 888.5,547.5 890.0,547.5 891.5,547.4 893.0,547.3 894.5,547.3 896.0,547.2 897.5,547.1 899.0,547.0 900.5,546.9 902.0,546.7 903.5,546.6 905.0,546.4 906.5,546.3 908.0,546.1 909.5,545.9 911.0,545.8 912.5,545.6 914.0,545.4 915.5,545.1 917.0,544.9 918.5,544.7 920.0,544.5 921.5,544.2 923.0,544.0 924.5,543.7 926.0,543.4 927.5,543.1 929.0,542.9 930.5,542.6 932.0,542.3 933.5,542.0 935.0,541.6 936.5,541.3 938.0,541.0 939.5,540.7 941.0,540.3 942.5,540.0 944.0,539.6 945.5,539.3 947.0,538.9 948.5,538.5 950.0,538.1 951.5,537.8 953.0,537.4 954.5,537.0 956.0,536.6 957.5,536.2 959.0,535.8 960.5,535.4 962.0,534.9 963.5,534.5 965.0,534.1 966.5,533.7 968.0,533.2 969.5,532.8 971.0,532.4 972.5,531.9 974.0,531.5 975.5,531.0 977.0,530.6 978.5,530.1 980.0,529.7 981.5,529.2 983.0,528.8 984.5,528.3 986.0,527.9 987.5,527.4 989.0,526.9 990.5,526.5 992.0,526.0 993.5,525.5 995.0,525.0 996.5,524.6 998.0,524.1 999.5,523.6 1001.0,523.2 1002.5,522.7 1004.0,522.2 1005.5,521.7 1007.0,521.3 1008.5,520.8 1010.0,520.3 1011.5,519.8 1013.0,519.3 1014.5,518.9 1016.0,518.4 1017.5,517.9 1019.0,517.4 1020.5,517.0 1022.0,516.5 1023.5,516.0 1025.0,515.5 1026.5,515.0 1028.0,514.6 1029.5,514.1 1031.0,513.6 1032.5,513.1 1034.0,512.6 1035.5,512.2 1037.0,511.7 1038.5,511.2 1040.0,510.7 1041.5,510.2 1043.0,509.8 1044.5,509.3 1046.0,508.8 1047.5,508.3 1049.0,507.8 1050.5,507.4 1052.0,506.9 1053.5,506.4 1055.0,505.9 1056.5,505.4 1058.0,505.0 1059.5,504.5 1061.0,504.0 1062.5,503.5 1064.0,503.0 1065.5,502.6 1067.0,502.1 1068.5,501.6 1070.0,501.1 1071.5,500.7 1073.0,500.2 1074.5,499.7 1076.0,499.2 1077.5,498.8 1079.0,498.3 1080.5,497.8 1082.0,497.3 1083.5,496.9 1085.0,496.4 1086.5,495.9 1088.0,495.4 1089.5,495.0 1091.0,494.5 1092.5,494.0 1094.0,493.5 1095.5,493.1 1097.0,492.6 1098.5,492.1 1100.0,491.7 1101.5,491.2 1103.0,490.7 1104.5,490.3 1106.0,489.8 1107.5,489.3 1109.0,488.9 1110.5,488.4 1112.0,487.9 1113.5,487.5 1115.0,487.0 1116.5,486.6 1118.0,486.1 1119.5,485.6 1121.0,485.2 1122.5,484.7 1124.0,484.3 1125.5,483.8 1127.0,483.4 1128.5,482.9 1130.0,482.5 1131.5,482.0 1133.0,481.6 1134.5,481.1 1136.0,480.7 1137.5,480.2 1139.0,479.8 1140.5,479.3 1142.0,478.9 1143.5,478.4 1145.0,478.0 1146.5,477.6 1148.0,477.1 1149.5,476.7 1151.0,476.3 1152.5,475.8 1154.0,475.4 1155.5,475.0 1157.0,474.5 1158.5,474.1 1160.0,473.7 1161.5,473.2 1163.0,472.8 1164.5,472.4 1166.0,472.0 1167.5,471.6 1169.0,471.1 1170.5,470.7 1172.0,470.3 1173.5,469.9 1175.0,469.5 1176.5,469.1 1178.0,468.7 1179.5,468.3 1181.0,467.9 1182.5,467.5 1184.0,467.1 1185.5,466.7 1187.0,466.3 1188.5,465.9 1190.0,465.5 1191.5,465.1 1193.0,464.7 1194.5,464.3 1196.0,463.9 1197.5,463.6 1199.0,463.2 1200.5,462.8 1202.0,462.4 1203.5,462.0 1205.0,461.7 1206.5,461.3 1208.0,461.0 1209.5,460.6 1211.0,460.2 1212.5,459.9 1214.0,459.6 1215.5,459.2 1217.0,458.9 1218.5,458.6 1220.0,458.3 1221.5,458.0 1223.0,457.7 1224.5,457.4 1226.0,457.1 1227.5,456.9 1229.0,456.6 1230.5,456.4 1232.0,456.2 1233.5,455.9 1235.0,455.7 1236.5,455.6 1238.0,455.4 1239.5,455.2 1241.0,455.1 1242.5,454.9 1244.0,454.8 1245.5,454.7 1247.0,454.6 1248.5,454.6 1250.0,454.5 1251.5,454.5 1253.0,454.4 1254.5,454.4 1256.0,454.4 1257.5,454.4 1259.0,454.4 1260.5,454.5 1262.0,454.5 1263.5,454.5 1265.0,454.5 1266.5,454.6 1268.0,454.6 1269.5,454.6 1271.0,454.7 1272.5,454.7 1274.0,454.8 1275.5,454.8 1277.0,454.8 1278.5,454.9 1280.0,454.9 1281.5,454.9 1283.0,455.0 1284.5,455.0 1286.0,455.0 1287.5,455.0 1289.0,455.1 1290.5,455.1 1292.0,455.1 1293.5,455.2 1295.0,455.2 1296.5,455.2 1298.0,455.2 1299.5,455.3 1301.0,455.3 1302.5,455.3 1304.0,455.3 1305.5,455.4 1307.0,455.4 1308.5,455.4 1310.0,455.5 1311.5,455.5 1313.0,455.6 1314.5,455.6 1316.0,455.7 1317.5,455.7 1319.0,455.8 1320.5,455.8 1322.0,455.9 1323.5,456.0 1325.0,456.0 1326.5,456.1 1328.0,456.2 1329.5,456.3 1331.0,456.4 1332.5,456.5 1334.0,456.6 1335.5,456.8 1337.0,456.9 1338.5,457.0 1340.0,457.2 1341.5,457.3 1343.0,457.5 1344.5,457.7 1346.0,457.9 1347.5,458.0 1349.0,458.3 1350.5,458.5 1352.0,458.7 1353.5,458.9 1355.0,459.2 1356.5,459.4 1358.0,459.7 1359.5,460.0 1361.0,460.2 1362.5,460.5 1364.0,460.8 1365.5,461.1 1367.0,461.4 1368.5,461.8 1370.0,462.1 1371.5,462.4 1373.0,462.8 1374.5,463.1 1376.0,463.5 1377.5,463.8 1379.0,464.2 1380.5,464.6 1382.0,464.9 1383.5,465.3 1385.0,465.7 1386.5,466.1 1388.0,466.5 1389.5,466.9 1391.0,467.3 1392.5,467.7 1394.0,468.1 1395.5,468.6 1397.0,469.0 1398.5,469.4 1400.0,469.8 1401.5,470.3 1403.0,470.7 1404.5,471.1 1406.0,471.6 1407.5,472.0 1409.0,472.5 1410.5,472.9 1412.0,473.4 1413.5,473.8 1415.0,474.3 1416.5,474.8 1418.0,475.2 1419.5,475.7 1421.0,476.2 1422.5,476.6 1424.0,477.1 1425.5,477.6 1427.0,478.1 1428.5,478.6 1430.0,479.1 1431.5,479.6 1433.0,480.1 1434.5,480.6 1436.0,481.1 1437.5,481.6 1439.0,482.1 1440.5,482.7 1442.0,483.2 1443.5,483.7 1445.0,484.2 1446.5,484.8 1448.0,485.3 1449.5,485.9 1451.0,486.4 1452.5,487.0 1454.0,487.6 1455.5,488.2 1457.0,488.7 1458.5,489.3 1460.0,489.9 1461.5,490.5 1463.0,491.1 1464.5,491.7 1466.0,492.3 1467.5,492.9 1469.0,493.6 1470.5,494.2 1472.0,494.8 1473.5,495.5 1475.0,496.1 1476.5,496.8 1478.0,497.4 1479.5,498.1 1481.0,498.8 1482.5,499.5 1484.0,500.1 1485.5,500.8 1487.0,501.5 1488.5,502.3 1490.0,503.0 1491.5,503.7 1493.0,504.4 1494.5,505.2 1496.0,505.9 1497.5,506.7 1499.0,507.4 1500.5,508.2 1502.0,509.0 1503.5,509.7 1505.0,510.5 1506.5,511.3 1508.0,512.1 1509.5,513.0 1511.0,513.8 1512.5,514.6 1514.0,515.5 1515.5,516.3 1517.0,517.2 1518.5,518.0 1520.0,518.9 1521.5,519.8 1523.0,520.7 1524.5,521.6 1526.0,522.5 1527.5,523.4 1529.0,524.3 1530.5,525.3 1532.0,526.2 1533.0,526.9"/>
<g fill="#ff0000" fill-opacity="0.4">
<path fill-opacity="0.55" d="M329.3,892.7l3.5,3.5-3.5,3.5-3.5-3.5zM330.5,897.5l3.5,3.5-3.5,3.5-3.5-3.5zM331.8,899.4l3.5,3.5-3.5,3.5-3.5-3.5zM333.0,902.2l3.5,3.5-3.5,3.5-3.5-3.5zM334.3,904.7l3.5,3.5-3.5,3.5-3.5-3.5zM335.5,906.8l3.5,3.5-3.5,3.5-3.5-3.5zM336.7,908.1l3.5,3.5-3.5,3.5-3.5-3.5zM338.0,910.9l3.5,3.5-3.5,3.5-3.5-3.5zM339.2,917.6l3.5,3.5-3.5,3.5-3.5-3.5zM340.5,915.3l3.5,3.5-3.5,3.5-3.5-3.5zM341.7,918.8l3.5,3.5-3.5,3.5-3.5-3.5zM343.0,918.1l3.5,3.5-3.5,3.5-3.5-3.5zM344.2,918.6l3.5,3.5-3.5,3.5-3.5-3.5zM345.5,923.9l3.5,3.5-3.5,3.5-3.5-3.5zM346.7,924.3l3.5,3.5-3.5,3.5-3.5-3.5zM347.9,927.3l3.5,3.5-3.5,3.5-3.5-3.5zM349.2,928.2l3.5,3.5-3.5,3.5-3.5-3.5zM350.4,928.2l3.5,3.5-3.5,3.5-3.5-3.5zM351.7,928.0l3.5,3.5-3.5,3.5-3.5-3.5zM352.9,932.9l3.5,3.5-3.5,3.5-3.5-3.5zM354.2,931.3l3.5,3.5-3.5,3.5-3.5-3.5zM355.4,935.3l3.5,3.5-3.5,3.5-3.5-3.5zM356.6,934.4l3.5,3.5-3.5,3.5-3.5-3.5zM357.9,935.7l3.5,3.5-3.5,3.5-3.5-3.5zM359.1,936.2l3.5,3.5-3.5,3.5-3.5-3.5zM360.4,936.9l3.5,3.5-3.5,3.5-3.5-3.5zM361.6,936.7l3.5,3.5-3.5,3.5-3.5-3.5zM362.9,940.8l3.5,3.5-3.5,3.5-3.5-3.5zM364.1,937.0l3.5,3.5-3.5,3.5-3.5-3.5zM365.4,936.8l3.5,3.5-3.5,3.5-3.5-3.5zM366.6,939.8l3.5,3.5-3.5,3.5-3.5-3.5zM367.8,939.1l3.5,3.5-3.5,3.5-3.5-3.5zM369.1,941.6l3.5,3.5-3.5,3.5-3.5-3.5zM370.3,940.2l3.5,3.5-3.5,3.5-3.5-3.5zM371.6,941.9l3.5,3.5-3.5,3.5-3.5-3.5zM372.8,940.3l3.5,3.5-3.5,3.5-3.5-3.5zM374.1,938.8l3.5,3.5-3.5,3.5-3.5-3.5zM375.3,939.0l3.5,3.5-3.5,3.5-3.5-3.5zM376.6,939.8l3.5,3.5-3.5,3.5-3.5-3.5zM377.8,937.6l3.5,3.5-3.5,3.5-3.5-3.5zM379.0,936.9l3.5,3.5-3.5,3.5-3.5-3.5zM380.3,937.2l3.5,3.5-3.5,3.5-3.5-3.5zM381.5,937.1l3.5,3.5-3.5,3.5-3.5-3.5zM382.8,937.3l3.5,3.5-3.5,3.5-3.5-3.5zM384.0,935.3l3.5,3.5-3.5,3.5-3.5-3.5zM385.3,934.7l3.5,3.5-3.5,3.5-3.5-3.5zM386.5,932.2l3.5,3.5-3.5,3.5-3.5-3.5zM387.8,933.4l3.5,3.5-3.5,3.5-3.5-3.5zM389.0,932.4l3.5,3.5-3.5,3.5-3.5-3.5zM390.2,927.6l3.5,3.5-3.5,3.5-3.5-3.5zM391.5,927.3l3.5,3.5-3.5,3.5-3.5-3.5zM392.7,925.3l3.5,3.5-3.5,3.5-3.5-3.5zM394.0,924.0l3.5,3.5-3.5,3.5-3.5-3.5zM395.2,921.3l3.5,3.5-3.5,3.5-3.5-3.5zM396.5,918.7l3.5,3.5-3.5,3.5-3.5-3.5zM397.7,915.8l3.5,3.5-3.5,3.5-3.5-3.5zM399.0,914.5l3.5,3.5-3.5,3.5-3.5-3.5zM400.2,912.8l3.5,3.5-3.5,3.5-3.5-3.5zM401.4,911.6l3.5,3.5-3.5,3.5-3.5-3.5zM402.7,908.7l3.5,3.5-3.5,3.5-3.5-3.5zM403.9,905.0l3.5,3.5-3.5,3.5-3.5-3.5zM405.2,902.0l3.5,3.5-3.5,3.5-3.5-3.5zM406.4,898.2l3.5,3.5-3.5,3.5-3.5-3.5zM407.7,897.8l3.5,3.5-3.5,3.5-3.5-3.5zM408.9,894.2l3.5,3.5-3.5,3.5-3.5-3.5zM410.2,891.7l3.5,3.5-3.5,3.5-3.5-3.5zM411.4,888.7l3.5,3.5-3.5,3.5-3.5-3.5zM412.6,885.3l3.5,3.5-3.5,3.5-3.5-3.5zM413.9,881.1l3.5,3.5-3.5,3.5-3.5-3.5zM415.1,877.3l3.5,3.5-3.5,3.5-3.5-3.5zM416.4,872.8l3.5,3.5-3.5,3.5-3.5-3.5zM417.6,869.4l3.5,3.5-3.5,3.5-3.5-3.5zM418.9,866.7l3.5,3.5-3.5,3.5-3.5-3.5zM420.1,864.9l3.5,3.5-3.5,3.5-3.5-3.5zM421.4,858.0l3.5,3.5-3.5,3.5-3.5-3.5zM422.6,854.7l3.5,3.5-3.5,3.5-3.5-3.5zM423.8,853.7l3.5,3.5-3.5,3.5-3.5-3.5zM425.1,846.3l3.5,3.5-3.5,3.5-3.5-3.5zM426.3,841.7l3.5,3.5-3.5,3.5-3.5-3.5zM427.6,838.0l3.5,3.5-3.5,3.5-3.5-3.5zM428.8,833.6l3.5,3.5-3.5,3.5-3.5-3.5zM430.1,827.6l3.5,3.5-3.5,3.5-3.5-3.5zM431.3,826.4l3.5,3.5-3.5,3.5-3.5-3.5zM432.6,819.6l3.5,3.5-3.5,3.5-3.5-3.5zM433.8,816.7l3.5,3.5-3.5,3.5-3.5-3.5zM435.0,812.8l3.5,3.5-3.5,3.5-3.5-3.5zM436.3,809.6l3.5,3.5-3.5,3.5-3.5-3.5zM437.5,804.8l3.5,3.5-3.5,3.5-3.5-3.5zM438.8,800.5l3.5,3.5-3.5,3.5-3.5-3.5zM440.0,796.1l3.5,3.5-3.5,3.5-3.5-3.5zM441.3,793.1l3.5,3.5-3.5,3.5-3.5-3.5zM442.5,788.6l3.5,3.5-3.5,3.5-3.5-3.5zM443.8,784.3l3.5,3.5-3.5,3.5-3.5-3.5zM445.0,779.8l3.5,3.5-3.5,3.5-3.5-3.5zM446.2,776.4l3.5,3.5-3.5,3.5-3.5-3.5zM447.5,773.6l3.5,3.5-3.5,3.5-3.5-3.5zM448.7,768.4l3.5,3.5-3.5,3.5-3.5-3.5zM450.0,766.3l3.5,3.5-3.5,3.5-3.5-3.5zM451.2,762.8l3.5,3.5-3.5,3.5-3.5-3.5zM452.5,760.5l3.5,3.5-3.5,3.5-3.5-3.5zM453.7,755.6l3.5,3.5-3.5,3.5-3.5-3.5zM454.9,752.2l3.5,3.5-3.5,3.5-3.5-3.5zM456.2,750.0l3.5,3.5-3.5,3.5-3.5-3.5zM457.4,746.8l3.5,3.5-3.5,3.5-3.5-3.5zM458.7,742.2l3.5,3.5-3.5,3.5-3.5-3.5zM459.9,743.0l3.5,3.5-3.5,3.5-3.5-3.5zM461.2,739.7l3.5,3.5-3.5,3.5-3.5-3.5zM462.4,737.2l3.5,3.5-3.5,3.5-3.5-3.5zM463.7,734.1l3.5,3.5-3.5,3.5-3.5-3.5zM464.9,733.0l3.5,3.5-3.5,3.5-3.5-3.5zM466.1,730.3l3.5,3.5-3.5,3.5-3.5-3.5zM467.4,729.9l3.5,3.5-3.5,3.5-3.5-3.5zM468.6,727.2l3.5,3.5-3.5,3.5-3.5-3.5zM469.9,725.9l3.5,3.5-3.5,3.5-3.5-3.5zM471.1,721.6l3.5,3.5-3.5,3.5-3.5-3.5zM472.4,720.0l3.5,3.5-3.5,3.5-3.5-3.5zM473.6,718.6l3.5,3.5-3.5,3.5-3.5-3.5zM474.9,716.6l3.5,3.5-3.5,3.5-3.5-3.5zM476.1,716.7l3.5,3.5-3.5,3.5-3.5-3.5zM477.3,713.7l3.5,3.5-3.5,3.5-3.5-3.5zM478.6,710.6l3.5,3.5-3.5,3.5-3.5-3.5zM479.8,709.4l3.5,3.5-3.5,3.5-3.5-3.5zM481.1,709.4l3.5,3.5-3.5,3.5-3.5-3.5zM482.3,705.4l3.5,3.5-3.5,3.5-3.5-3.5zM483.6,704.2l3.5,3.5-3.5,3.5-3.5-3.5zM484.8,700.0l3.5,3.5-3.5,3.5-3.5-3.5zM486.1,698.8l3.5,3.5-3.5,3.5-3.5-3.5zM487.3,696.9l3.5,3.5-3.5,3.5-3.5-3.5zM488.5,694.4l3.5,3.5-3.5,3.5-3.5-3.5zM489.8,692.2l3.5,3.5-3.5,3.5-3.5-3.5zM491.0,689.9l3.5,3.5-3.5,3.5-3.5-3.5zM492.3,687.9l3.5,3.5-3.5,3.5-3.5-3.5zM493.5,682.6l3.5,3.5-3.5,3.5-3.5-3.5zM494.8,681.4l3.5,3.5-3.5,3.5-3.5-3.5zM496.0,679.0l3.5,3.5-3.5,3.5-3.5-3.5zM497.3,675.6l3.5,3.5-3.5,3.5-3.5-3.5zM498.5,673.3l3.5,3.5-3.5,3.5-3.5-3.5zM499.7,669.1l3.5,3.5-3.5,3.5-3.5-3.5zM501.0,665.6l3.5,3.5-3.5,3.5-3.5-3.5zM502.2,662.0l3.5,3.5-3.5,3.5-3.5-3.5zM503.5,660.2l3.5,3.5-3.5,3.5-3.5-3.5zM504.7,654.9l3.5,3.5-3.5,3.5-3.5-3.5zM506.0,652.2l3.5,3.5-3.5,3.5-3.5-3.5zM507.2,649.1l3.5,3.5-3.5,3.5-3.5-3.5zM508.5,646.1l3.5,3.5-3.5,3.5-3.5-3.5zM509.7,641.7l3.5,3.5-3.5,3.5-3.5-3.5zM510.9,637.5l3.5,3.5-3.5,3.5-3.5-3.5zM512.2,635.2l3.5,3.5-3.5,3.5-3.5-3.5zM513.4,630.0l3.5,3.5-3.5,3.5-3.5-3.5zM514.7,626.6l3.5,3.5-3.5,3.5-3.5-3.5zM515.9,621.6l3.5,3.5-3.5,3.5-3.5-3.5zM517.2,619.8l3.5,3.5-3.5,3.5-3.5-3.5zM518.4,615.9l3.5,3.5-3.5,3.5-3.5-3.5zM519.7,610.4l3.5,3.5-3.5,3.5-3.5-3.5zM520.9,607.9l3.5,3.5-3.5,3.5-3.5-3.5zM522.1,604.7l3.5,3.5-3.5,3.5-3.5-3.5zM523.4,599.7l3.5,3.5-3.5,3.5-3.5-3.5zM524.6,594.8l3.5,3.5-3.5,3.5-3.5-3.5zM525.9,592.3l3.5,3.5-3.5,3.5-3.5-3.5zM527.1,589.0l3.5,3.5-3.5,3.5-3.5-3.5zM528.4,582.8l3.5,3.5-3.5,3.5-3.5-3.5zM529.6,581.3l3.5,3.5-3.5,3.5-3.5-3.5zM530.9,576.6l3.5,3.5-3.5,3.5-3.5-3.5zM532.1,573.5l3.5,3.5-3.5,3.5-3.5-3.5zM533.3,567.8l3.5,3.5-3.5,3.5-3.5-3.5zM534.6,565.6l3.5,3.5-3.5,3.5-3.5-3.5zM535.8,561.2l3.5,3.5-3.5,3.5-3.5-3.5zM537.1,557.8l3.5,3.5-3.5,3.5-3.5-3.5zM538.3,553.3l3.5,3.5-3.5,3.5-3.5-3.5zM539.6,550.3l3.5,3.5-3.5,3.5-3.5-3.5zM540.8,545.5l3.5,3.5-3.5,3.5-3.5-3.5zM542.0,541.7l3.5,3.5-3.5,3.5-3.5-3.5zM543.3,537.6l3.5,3.5-3.5,3.5-3.5-3.5zM544.5,533.6l3.5,3.5-3.5,3.5-3.5-3.5zM545.8,531.6l3.5,3.5-3.5,3.5-3.5-3.5zM547.0,527.8l3.5,3.5-3.5,3.5-3.5-3.5zM548.3,524.9l3.5,3.5-3.5,3.5-3.5-3.5zM549.5,521.6l3.5,3.5-3.5,3.5-3.5-3.5zM550.8,519.1l3.5,3.5-3.5,3.5-3.5-3.5zM552.0,515.9l3.5,3.5-3.5,3.5-3.5-3.5zM553.2,512.6l3.5,3.5-3.5,3.5-3.5-3.5zM554.5,511.1l3.5,3.5-3.5,3.5-3.5-3.5zM555.7,509.7l3.5,3.5-3.5,3.5-3.5-3.5zM557.0,504.5l3.5,3.5-3.5,3.5-3.5-3.5zM558.2,502.5l3.5,3.5-3.5,3.5-3.5-3.5zM559.5,501.1l3.5,3.5-3.5,3.5-3.5-3.5zM560.7,497.7l3.5,3.5-3.5,3.5-3.5-3.5zM562.0,497.2l3.5,3.5-3.5,3.5-3.5-3.5zM563.2,493.6l3.5,3.5-3.5,3.5-3.5-3.5zM564.4,491.2l3.5,3.5-3.5,3.5-3.5-3.5zM565.7,489.6l3.5,3.5-3.5,3.5-3.5-3.5zM566.9,489.7l3.5,3.5-3.5,3.5-3.5-3.5zM568.2,485.2l3.5,3.5-3.5,3.5-3.5-3.5zM569.4,485.6l3.5,3.5-3.5,3.5-3.5-3.5zM570.7,482.0l3.5,3.5-3.5,3.5-3.5-3.5zM571.9,483.2l3.5,3.5-3.5,3.5-3.5-3.5zM573.2,481.6l3.5,3.5-3.5,3.5-3.5-3.5zM574.4,480.5l3.5,3.5-3.5,3.5-3.5-3.5zM575.6,480.6l3.5,3.5-3.5,3.5-3.5-3.5zM576.9,477.5l3.5,3.5-3.5,3.5-3.5-3.5zM578.1,477.6l3.5,3.5-3.5,3.5-3.5-3.5zM579.4,476.1l3.5,3.5-3.5,3.5-3.5-3.5zM580.6,475.5l3.5,3.5-3.5,3.5-3.5-3.5zM581.9,473.0l3.5,3.5-3.5,3.5-3.5-3.5zM583.1,473.9l3.5,3.5-3.5,3.5-3.5-3.5zM584.4,471.8l3.5,3.5-3.5,3.5-3.5-3.5zM585.6,472.7l3.5,3.5-3.5,3.5-3.5-3.5zM586.8,471.5l3.5,3.5-3.5,3.5-3.5-3.5zM588.1,470.0l3.5,3.5-3.5,3.5-3.5-3.5zM589.3,469.9l3.5,3.5-3.5,3.5-3.5-3.5zM590.6,469.2l3.5,3.5-3.5,3.5-3.5-3.5zM591.8,468.4l3.5,3.5-3.5,3.5-3.5-3.5zM593.1,470.0l3.5,3.5-3.5,3.5-3.5-3.5zM594.3,466.3l3.5,3.5-3.5,3.5-3.5-3.5zM595.6,465.3l3.5,3.5-3.5,3.5-3.5-3.5zM596.8,464.9l3.5,3.5-3.5,3.5-3.5-3.5zM598.0,465.3l3.5,3.5-3.5,3.5-3.5-3.5zM599.3,465.1l3.5,3.5-3.5,3.5-3.5-3.5zM600.5,465.2l3.5,3.5-3.5,3.5-3.5-3.5zM601.8,465.0l3.5,3.5-3.5,3.5-3.5-3.5zM603.0,463.9l3.5,3.5-3.5,3.5-3.5-3.5zM604.3,463.3l3.5,3.5-3.5,3.5-3.5-3.5zM605.5,461.9l3.5,3.5-3.5,3.5-3.5-3.5zM606.8,463.1l3.5,3.5-3.5,3.5-3.5-3.5zM608.0,462.9l3.5,3.5-3.5,3.5-3.5-3.5zM609.2,461.0l3.5,3.5-3.5,3.5-3.5-3.5zM610.5,461.2l3.5,3.5-3.5,3.5-3.5-3.5zM611.7,459.5l3.5,3.5-3.5,3.5-3.5-3.5zM613.0,459.4l3.5,3.5-3.5,3.5-3.5-3.5zM614.2,458.9l3.5,3.5-3.5,3.5-3.5-3.5zM615.5,459.0l3.5,3.5-3.5,3.5-3.5-3.5zM616.7,456.2l3.5,3.5-3.5,3.5-3.5-3.5zM618.0,456.9l3.5,3.5-3.5,3.5-3.5-3.5zM619.2,457.0l3.5,3.5-3.5,3.5-3.5-3.5zM620.4,455.7l3.5,3.5-3.5,3.5-3.5-3.5zM621.7,455.3l3.5,3.5-3.5,3.5-3.5-3.5zM622.9,451.7l3.5,3.5-3.5,3.5-3.5-3.5zM624.2,452.3l3.5,3.5-3.5,3.5-3.5-3.5zM625.4,451.9l3.5,3.5-3.5,3.5-3.5-3.5zM626.7,450.7l3.5,3.5-3.5,3.5-3.5-3.5zM627.9,448.4l3.5,3.5-3.5,3.5-3.5-3.5zM629.1,450.6l3.5,3.5-3.5,3.5-3.5-3.5zM630.4,448.9l3.5,3.5-3.5,3.5-3.5-3.5zM631.6,445.9l3.5,3.5-3.5,3.5-3.5-3.5zM632.9,446.2l3.5,3.5-3.5,3.5-3.5-3.5zM634.1,445.7l3.5,3.5-3.5,3.5-3.5-3.5zM635.4,445.4l3.5,3.5-3.5,3.5-3.5-3.5zM636.6,444.0l3.5,3.5-3.5,3.5-3.5-3.5zM637.9,441.4l3.5,3.5-3.5,3.5-3.5-3.5zM639.1,440.6l3.5,3.5-3.5,3.5-3.5-3.5zM640.3,440.2l3.5,3.5-3.5,3.5-3.5-3.5zM641.6,439.6l3.5,3.5-3.5,3.5-3.5-3.5zM642.8,437.1l3.5,3.5-3.5,3.5-3.5-3.5zM644.1,435.7l3.5,3.5-3.5,3.5-3.5-3.5zM645.3,435.5l3.5,3.5-3.5,3.5-3.5-3.5zM646.6,433.8l3.5,3.5-3.5,3.5-3.5-3.5zM647.8,433.6l3.5,3.5-3.5,3.5-3.5-3.5zM649.1,431.4l3.5,3.5-3.5,3.5-3.5-3.5zM650.3,430.5l3.5,3.5-3.5,3.5-3.5-3.5zM651.5,426.5l3.5,3.5-3.5,3.5-3.5-3.5zM652.8,425.7l3.5,3.5-3.5,3.5-3.5-3.5zM654.0,424.1l3.5,3.5-3.5,3.5-3.5-3.5zM655.3,423.4l3.5,3.5-3.5,3.5-3.5-3.5zM656.5,423.0l3.5,3.5-3.5,3.5-3.5-3.5zM657.8,421.0l3.5,3.5-3.5,3.5-3.5-3.5zM659.0,420.2l3.5,3.5-3.5,3.5-3.5-3.5zM660.3,417.6l3.5,3.5-3.5,3.5-3.5-3.5zM661.5,417.7l3.5,3.5-3.5,3.5-3.5-3.5zM662.7,416.2l3.5,3.5-3.5,3.5-3.5-3.5zM664.0,412.4l3.5,3.5-3.5,3.5-3.5-3.5zM665.2,411.5l3.5,3.5-3.5,3.5-3.5-3.5zM666.5,410.5l3.5,3.5-3.5,3.5-3.5-3.5zM667.7,410.3l3.5,3.5-3.5,3.5-3.5-3.5zM669.0,408.8l3.5,3.5-3.5,3.5-3.5-3.5zM670.2,408.3l3.5,3.5-3.5,3.5-3.5-3.5zM671.5,403.8l3.5,3.5-3.5,3.5-3.5-3.5zM672.7,404.0l3.5,3.5-3.5,3.5-3.5-3.5zM673.9,402.3l3.5,3.5-3.5,3.5-3.5-3.5zM675.2,400.6l3.5,3.5-3.5,3.5-3.5-3.5zM676.4,399.4l3.5,3.5-3.5,3.5-3.5-3.5zM677.7,396.2l3.5,3.5-3.5,3.5-3.5-3.5zM678.9,396.9l3.5,3.5-3.5,3.5-3.5-3.5zM680.2,394.9l3.5,3.5-3.5,3.5-3.5-3.5zM681.4,392.8l3.5,3.5-3.5,3.5-3.5-3.5zM682.7,393.8l3.5,3.5-3.5,3.5-3.5-3.5zM683.9,390.6l3.5,3.5-3.5,3.5-3.5-3.5zM685.1,390.1l3.5,3.5-3.5,3.5-3.5-3.5zM686.4,388.0l3.5,3.5-3.5,3.5-3.5-3.5zM687.6,385.9l3.5,3.5-3.5,3.5-3.5-3.5zM688.9,385.7l3.5,3.5-3.5,3.5-3.5-3.5zM690.1,385.1l3.5,3.5-3.5,3.5-3.5-3.5zM691.4,382.7l3.5,3.5-3.5,3.5-3.5-3.5zM692.6,382.9l3.5,3.5-3.5,3.5-3.5-3.5zM693.9,382.8l3.5,3.5-3.5,3.5-3.5-3.5zM695.1,381.2l3.5,3.5-3.5,3.5-3.5-3.5zM696.3,378.7l3.5,3.5-3.5,3.5-3.5-3.5zM697.6,377.2l3.5,3.5-3.5,3.5-3.5-3.5zM698.8,377.7l3.5,3.5-3.5,3.5-3.5-3.5zM700.1,374.5l3.5,3.5-3.5,3.5-3.5-3.5zM701.3,373.8l3.5,3.5-3.5,3.5-3.5-3.5zM702.6,375.3l3.5,3.5-3.5,3.5-3.5-3.5zM703.8,373.1l3.5,3.5-3.5,3.5-3.5-3.5zM705.0,372.3l3.5,3.5-3.5,3.5-3.5-3.5zM706.3,370.6l3.5,3.5-3.5,3.5-3.5-3.5zM707.5,372.6l3.5,3.5-3.5,3.5-3.5-3.5zM708.8,372.0l3.5,3.5-3.5,3.5-3.5-3.5zM710.0,368.1l3.5,3.5-3.5,3.5-3.5-3.5zM711.3,368.2l3.5,3.5-3.5,3.5-3.5-3.5zM712.5,366.4l3.5,3.5-3.5,3.5-3.5-3.5zM713.8,366.2l3.5,3.5-3.5,3.5-3.5-3.5zM715.0,366.3l3.5,3.5-3.5,3.5-3.5-3.5zM716.2,365.5l3.5,3.5-3.5,3.5-3.5-3.5zM717.5,363.4l3.5,3.5-3.5,3.5-3.5-3.5zM718.7,363.3l3.5,3.5-3.5,3.5-3.5-3.5zM720.0,364.9l3.5,3.5-3.5,3.5-3.5-3.5zM721.2,362.6l3.5,3.5-3.5,3.5-3.5-3.5zM722.5,362.4l3.5,3.5-3.5,3.5-3.5-3.5zM723.7,361.1l3.5,3.5-3.5,3.5-3.5-3.5zM725.0,359.9l3.5,3.5-3.5,3.5-3.5-3.5zM726.2,358.5l3.5,3.5-3.5,3.5-3.5-3.5zM727.4,358.1l3.5,3.5-3.5,3.5-3.5-3.5zM728.7,357.0l3.5,3.5-3.5,3.5-3.5-3.5zM729.9,357.1l3.5,3.5-3.5,3.5-3.5-3.5zM731.2,356.9l3.5,3.5-3.5,3.5-3.5-3.5zM732.4,358.0l3.5,3.5-3.5,3.5-3.5-3.5zM733.7,355.5l3.5,3.5-3.5,3.5-3.5-3.5zM734.9,357.1l3.5,3.5-3.5,3.5-3.5-3.5zM736.2,354.7l3.5,3.5-3.5,3.5-3.5-3.5zM737.4,358.6l3.5,3.5-3.5,3.5-3.5-3.5zM738.6,355.5l3.5,3.5-3.5,3.5-3.5-3.5zM739.9,356.0l3.5,3.5-3.5,3.5-3.5-3.5zM741.1,357.4l3.5,3.5-3.5,3.5-3.5-3.5zM742.4,355.5l3.5,3.5-3.5,3.5-3.5-3.5zM743.6,355.6l3.5,3.5-3.5,3.5-3.5-3.5zM744.9,355.6l3.5,3.5-3.5,3.5-3.5-3.5zM746.1,356.0l3.5,3.5-3.5,3.5-3.5-3.5zM747.4,355.0l3.5,3.5-3.5,3.5-3.5-3.5zM748.6,357.1l3.5,3.5-3.5,3.5-3.5-3.5zM749.8,356.7l3.5,3.5-3.5,3.5-3.5-3.5zM751.1,355.8l3.5,3.5-3.5,3.5-3.5-3.5zM752.3,356.9l3.5,3.5-3.5,3.5-3.5-3.5zM753.6,355.8l3.5,3.5-3.5,3.5-3.5-3.5zM754.8,355.6l3.5,3.5-3.5,3.5-3.5-3.5zM756.1,356.2l3.5,3.5-3.5,3.5-3.5-3.5zM757.3,357.0l3.5,3.5-3.5,3.5-3.5-3.5zM758.6,355.4l3.5,3.5-3.5,3.5-3.5-3.5zM759.8,356.8l3.5,3.5-3.5,3.5-3.5-3.5zM761.0,357.9l3.5,3.5-3.5,3.5-3.5-3.5zM762.3,356.8l3.5,3.5-3.5,3.5-3.5-3.5zM763.5,358.5l3.5,3.5-3.5,3.5-3.5-3.5zM764.8,357.5l3.5,3.5-3.5,3.5-3.5-3.5zM766.0,359.2l3.5,3.5-3.5,3.5-3.5-3.5zM767.3,359.4l3.5,3.5-3.5,3.5-3.5-3.5zM768.5,360.2l3.5,3.5-3.5,3.5-3.5-3.5zM769.8,359.7l3.5,3.5-3.5,3.5-3.5-3.5zM771.0,359.1l3.5,3.5-3.5,3.5-3.5-3.5zM772.2,359.1l3.5,3.5-3.5,3.5-3.5-3.5zM773.5,365.5l3.5,3.5-3.5,3.5-3.5-3.5zM774.7,361.3l3.5,3.5-3.5,3.5-3.5-3.5zM776.0,362.5l3.5,3.5-3.5,3.5-3.5-3.5zM777.2,362.4l3.5,3.5-3.5,3.5-3.5-3.5zM778.5,365.9l3.5,3.5-3.5,3.5-3.5-3.5zM779.7,366.0l3.5,3.5-3.5,3.5-3.5-3.5zM781.0,366.8l3.5,3.5-3.5,3.5-3.5-3.5zM782.2,365.7l3.5,3.5-3.5,3.5-3.5-3.5zM783.4,368.5l3.5,3.5-3.5,3.5-3.5-3.5zM784.7,367.7l3.5,3.5-3.5,3.5-3.5-3.5zM785.9,370.3l3.5,3.5-3.5,3.5-3.5-3.5zM787.2,369.9l3.5,3.5-3.5,3.5-3.5-3.5zM788.4,368.7l3.5,3.5-3.5,3.5-3.5-3.5zM789.7,371.7l3.5,3.5-3.5,3.5-3.5-3.5zM790.9,371.8l3.5,3.5-3.5,3.5-3.5-3.5zM792.1,375.8l3.5,3.5-3.5,3.5-3.5-3.5zM793.4,373.3l3.5,3.5-3.5,3.5-3.5-3.5zM794.6,375.2l3.5,3.5-3.5,3.5-3.5-3.5zM795.9,376.2l3.5,3.5-3.5,3.5-3.5-3.5zM797.1,376.7l3.5,3.5-3.5,3.5-3.5-3.5zM798.4,377.8l3.5,3.5-3.5,3.5-3.5-3.5zM799.6,379.5l3.5,3.5-3.5,3.5-3.5-3.5zM800.9,380.9l3.5,3.5-3.5,3.5-3.5-3.5zM802.1,381.2l3.5,3.5-3.5,3.5-3.5-3.5zM803.3,382.4l3.5,3.5-3.5,3.5-3.5-3.5zM804.6,383.8l3.5,3.5-3.5,3.5-3.5-3.5zM805.8,384.0l3.5,3.5-3.5,3.5-3.5-3.5zM807.1,385.8l3.5,3.5-3.5,3.5-3.5-3.5zM808.3,387.1l3.5,3.5-3.5,3.5-3.5-3.5zM809.6,389.2l3.5,3.5-3.5,3.5-3.5-3.5zM810.8,390.0l3.5,3.5-3.5,3.5-3.5-3.5zM812.1,391.0l3.5,3.5-3.5,3.5-3.5-3.5zM813.3,392.6l3.5,3.5-3.5,3.5-3.5-3.5zM814.5,392.2l3.5,3.5-3.5,3.5-3.5-3.5zM815.8,395.1l3.5,3.5-3.5,3.5-3.5-3.5zM817.0,394.9l3.5,3.5-3.5,3.5-3.5-3.5zM818.3,396.3l3.5,3.5-3.5,3.5-3.5-3.5zM819.5,397.3l3.5,3.5-3.5,3.5-3.5-3.5zM820.8,399.5l3.5,3.5-3.5,3.5-3.5-3.5zM822.0,399.5l3.5,3.5-3.5,3.5-3.5-3.5zM823.3,401.8l3.5,3.5-3.5,3.5-3.5-3.5zM824.5,402.2l3.5,3.5-3.5,3.5-3.5-3.5zM825.7,403.2l3.5,3.5-3.5,3.5-3.5-3.5zM827.0,405.3l3.5,3.5-3.5,3.5-3.5-3.5zM828.2,405.4l3.5,3.5-3.5,3.5-3.5-3.5zM829.5,408.5l3.5,3.5-3.5,3.5-3.5-3.5zM830.7,407.9l3.5,3.5-3.5,3.5-3.5-3.5zM832.0,409.4l3.5,3.5-3.5,3.5-3.5-3.5zM833.2,412.1l3.5,3.5-3.5,3.5-3.5-3.5zM834.5,410.9l3.5,3.5-3.5,3.5-3.5-3.5zM835.7,414.3l3.5,3.5-3.5,3.5-3.5-3.5zM836.9,414.7l3.5,3.5-3.5,3.5-3.5-3.5zM838.2,415.9l3.5,3.5-3.5,3.5-3.5-3.5zM839.4,417.2l3.5,3.5-3.5,3.5-3.5-3.5zM840.7,417.4l3.5,3.5-3.5,3.5-3.5-3.5zM841.9,421.0l3.5,3.5-3.5,3.5-3.5-3.5zM843.2,421.1l3.5,3.5-3.5,3.5-3.5-3.5zM844.4,422.4l3.5,3.5-3.5,3.5-3.5-3.5zM845.7,423.7l3.5,3.5-3.5,3.5-3.5-3.5zM846.9,425.0l3.5,3.5-3.5,3.5-3.5-3.5zM848.1,425.5l3.5,3.5-3.5,3.5-3.5-3.5zM849.4,425.5l3.5,3.5-3.5,3.5-3.5-3.5zM850.6,426.3l3.5,3.5-3.5,3.5-3.5-3.5zM851.9,427.4l3.5,3.5-3.5,3.5-3.5-3.5zM853.1,429.3l3.5,3.5-3.5,3.5-3.5-3.5zM854.4,431.7l3.5,3.5-3.5,3.5-3.5-3.5zM855.6,430.7l3.5,3.5-3.5,3.5-3.5-3.5zM856.9,432.6l3.5,3.5-3.5,3.5-3.5-3.5zM858.1,434.5l3.5,3.5-3.5,3.5-3.5-3.5zM859.3,434.7l3.5,3.5-3.5,3.5-3.5-3.5zM860.6,435.8l3.5,3.5-3.5,3.5-3.5-3.5zM861.8,436.1l3.5,3.5-3.5,3.5-3.5-3.5zM863.1,438.2l3.5,3.5-3.5,3.5-3.5-3.5zM864.3,438.5l3.5,3.5-3.5,3.5-3.5-3.5zM865.6,439.4l3.5,3.5-3.5,3.5-3.5-3.5zM866.8,440.6l3.5,3.5-3.5,3.5-3.5-3.5zM868.1,442.3l3.5,3.5-3.5,3.5-3.5-3.5zM869.3,443.7l3.5,3.5-3.5,3.5-3.5-3.5zM870.5,442.7l3.5,3.5-3.5,3.5-3.5-3.5zM871.8,445.2l3.5,3.5-3.5,3.5-3.5-3.5zM873.0,444.6l3.5,3.5-3.5,3.5-3.5-3.5zM874.3,444.8l3.5,3.5-3.5,3.5-3.5-3.5zM875.5,446.8l3.5,3.5-3.5,3.5-3.5-3.5zM876.8,448.3l3.5,3.5-3.5,3.5-3.5-3.5zM878.0,449.1l3.5,3.5-3.5,3.5-3.5-3.5zM879.2,450.3l3.5,3.5-3.5,3.5-3.5-3.5zM880.5,449.0l3.5,3.5-3.5,3.5-3.5-3.5zM881.7,452.9l3.5,3.5-3.5,3.5-3.5-3.5zM883.0,453.2l3.5,3.5-3.5,3.5-3.5-3.5zM1007.4,484.6l3.5,3.5-3.5,3.5-3.5-3.5zM1008.7,481.7l3.5,3.5-3.5,3.5-3.5-3.5zM1009.9,484.4l3.5,3.5-3.5,3.5-3.5-3.5zM1011.1,484.2l3.5,3.5-3.5,3.5-3.5-3.5zM1012.4,485.5l3.5,3.5-3.5,3.5-3.5-3.5zM1013.6,481.8l3.5,3.5-3.5,3.5-3.5-3.5zM1014.9,479.9l3.5,3.5-3.5,3.5-3.5-3.5zM1016.1,482.0l3.5,3.5-3.5,3.5-3.5-3.5zM1017.4,481.4l3.5,3.5-3.5,3.5-3.5-3.5zM1018.6,483.0l3.5,3.5-3.5,3.5-3.5-3.5zM1019.9,482.3l3.5,3.5-3.5,3.5-3.5-3.5zM1021.1,482.7l3.5,3.5-3.5,3.5-3.5-3.5zM1022.3,483.9l3.5,3.5-3.5,3.5-3.5-3.5zM1023.6,484.3l3.5,3.5-3.5,3.5-3.5-3.5zM1024.8,482.1l3.5,3.5-3.5,3.5-3.5-3.5zM1026.1,479.9l3.5,3.5-3.5,3.5-3.5-3.5zM1027.3,481.7l3.5,3.5-3.5,3.5-3.5-3.5zM1028.6,481.3l3.5,3.5-3.5,3.5-3.5-3.5zM1029.8,481.3l3.5,3.5-3.5,3.5-3.5-3.5zM1031.1,481.0l3.5,3.5-3.5,3.5-3.5-3.5zM1032.3,481.0l3.5,3.5-3.5,3.5-3.5-3.5zM1033.5,478.4l3.5,3.5-3.5,3.5-3.5-3.5zM1034.8,481.3l3.5,3.5-3.5,3.5-3.5-3.5zM1036.0,481.1l3.5,3.5-3.5,3.5-3.5-3.5zM1037.3,480.7l3.5,3.5-3.5,3.5-3.5-3.5zM1038.5,480.0l3.5,3.5-3.5,3.5-3.5-3.5zM1039.8,480.9l3.5,3.5-3.5,3.5-3.5-3.5zM1041.0,478.0l3.5,3.5-3.5,3.5-3.5-3.5zM1042.3,479.5l3.5,3.5-3.5,3.5-3.5-3.5zM1043.5,480.0l3.5,3.5-3.5,3.5-3.5-3.5zM1044.7,478.8l3.5,3.5-3.5,3.5-3.5-3.5zM1046.0,478.9l3.5,3.5-3.5,3.5-3.5-3.5zM1047.2,479.8l3.5,3.5-3.5,3.5-3.5-3.5zM1048.5,478.5l3.5,3.5-3.5,3.5-3.5-3.5zM1049.7,477.6l3.5,3.5-3.5,3.5-3.5-3.5zM1051.0,477.8l3.5,3.5-3.5,3.5-3.5-3.5zM1052.2,478.4l3.5,3.5-3.5,3.5-3.5-3.5zM1053.5,476.9l3.5,3.5-3.5,3.5-3.5-3.5zM1054.7,477.6l3.5,3.5-3.5,3.5-3.5-3.5zM1055.9,477.0l3.5,3.5-3.5,3.5-3.5-3.5zM1057.2,477.3l3.5,3.5-3.5,3.5-3.5-3.5zM1058.4,477.7l3.5,3.5-3.5,3.5-3.5-3.5zM1059.7,477.4l3.5,3.5-3.5,3.5-3.5-3.5zM1060.9,476.6l3.5,3.5-3.5,3.5-3.5-3.5zM1062.2,476.6l3.5,3.5-3.5,3.5-3.5-3.5zM1063.4,476.8l3.5,3.5-3.5,3.5-3.5-3.5zM1064.6,475.3l3.5,3.5-3.5,3.5-3.5-3.5zM1065.9,475.9l3.5,3.5-3.5,3.5-3.5-3.5zM1067.1,474.6l3.5,3.5-3.5,3.5-3.5-3.5zM1068.4,476.3l3.5,3.5-3.5,3.5-3.5-3.5zM1069.6,475.2l3.5,3.5-3.5,3.5-3.5-3.5zM1070.9,473.9l3.5,3.5-3.5,3.5-3.5-3.5zM1072.1,474.3l3.5,3.5-3.5,3.5-3.5-3.5zM1073.4,475.0l3.5,3.5-3.5,3.5-3.5-3.5zM1074.6,474.5l3.5,3.5-3.5,3.5-3.5-3.5zM1075.8,472.8l3.5,3.5-3.5,3.5-3.5-3.5zM1077.1,475.1l3.5,3.5-3.5,3.5-3.5-3.5zM1078.3,473.8l3.5,3.5-3.5,3.5-3.5-3.5zM1079.6,473.7l3.5,3.5-3.5,3.5-3.5-3.5zM1080.8,472.9l3.5,3.5-3.5,3.5-3.5-3.5zM1082.1,472.4l3.5,3.5-3.5,3.5-3.5-3.5zM1083.3,471.6l3.5,3.5-3.5,3.5-3.5-3.5zM1084.6,472.6l3.5,3.5-3.5,3.5-3.5-3.5zM1085.8,472.3l3.5,3.5-3.5,3.5-3.5-3.5zM1087.0,471.9l3.5,3.5-3.5,3.5-3.5-3.5zM1088.3,472.4l3.5,3.5-3.5,3.5-3.5-3.5zM1089.5,471.9l3.5,3.5-3.5,3.5-3.5-3.5zM1090.8,470.7l3.5,3.5-3.5,3.5-3.5-3.5zM1092.0,470.9l3.5,3.5-3.5,3.5-3.5-3.5zM1093.3,471.8l3.5,3.5-3.5,3.5-3.5-3.5zM1094.5,469.8l3.5,3.5-3.5,3.5-3.5-3.5zM1095.8,472.0l3.5,3.5-3.5,3.5-3.5-3.5zM1097.0,470.0l3.5,3.5-3.5,3.5-3.5-3.5zM1098.2,471.8l3.5,3.5-3.5,3.5-3.5-3.5zM1099.5,470.2l3.5,3.5-3.5,3.5-3.5-3.5zM1100.7,468.6l3.5,3.5-3.5,3.5-3.5-3.5zM1102.0,469.7l3.5,3.5-3.5,3.5-3.5-3.5zM1103.2,469.3l3.5,3.5-3.5,3.5-3.5-3.5zM1104.5,468.7l3.5,3.5-3.5,3.5-3.5-3.5zM1105.7,468.8l3.5,3.5-3.5,3.5-3.5-3.5zM1107.0,468.6l3.5,3.5-3.5,3.5-3.5-3.5zM1108.2,466.2l3.5,3.5-3.5,3.5-3.5-3.5zM1109.4,468.5l3.5,3.5-3.5,3.5-3.5-3.5zM1110.7,467.7l3.5,3.5-3.5,3.5-3.5-3.5zM1111.9,467.6l3.5,3.5-3.5,3.5-3.5-3.5zM1113.2,467.8l3.5,3.5-3.5,3.5-3.5-3.5zM1114.4,467.1l3.5,3.5-3.5,3.5-3.5-3.5zM1115.7,466.2l3.5,3.5-3.5,3.5-3.5-3.5zM1116.9,467.2l3.5,3.5-3.5,3.5-3.5-3.5zM1118.2,466.2l3.5,3.5-3.5,3.5-3.5-3.5zM1119.4,466.4l3.5,3.5-3.5,3.5-3.5-3.5zM1120.6,465.5l3.5,3.5-3.5,3.5-3.5-3.5zM1121.9,465.6l3.5,3.5-3.5,3.5-3.5-3.5zM1123.1,464.9l3.5,3.5-3.5,3.5-3.5-3.5zM1124.4,466.2l3.5,3.5-3.5,3.5-3.5-3.5zM1125.6,464.4l3.5,3.5-3.5,3.5-3.5-3.5zM1126.9,465.3l3.5,3.5-3.5,3.5-3.5-3.5zM1128.1,463.4l3.5,3.5-3.5,3.5-3.5-3.5zM1129.4,464.4l3.5,3.5-3.5,3.5-3.5-3.5zM1130.6,463.9l3.5,3.5-3.5,3.5-3.5-3.5zM1131.8,464.4l3.5,3.5-3.5,3.5-3.5-3.5zM1133.1,463.7l3.5,3.5-3.5,3.5-3.5-3.5zM1134.3,464.6l3.5,3.5-3.5,3.5-3.5-3.5zM1135.6,464.8l3.5,3.5-3.5,3.5-3.5-3.5zM1136.8,462.4l3.5,3.5-3.5,3.5-3.5-3.5zM1138.1,462.9l3.5,3.5-3.5,3.5-3.5-3.5zM1139.3,461.7l3.5,3.5-3.5,3.5-3.5-3.5zM1140.5,461.4l3.5,3.5-3.5,3.5-3.5-3.5zM1141.8,461.7l3.5,3.5-3.5,3.5-3.5-3.5zM1143.0,462.0l3.5,3.5-3.5,3.5-3.5-3.5zM1144.3,461.6l3.5,3.5-3.5,3.5-3.5-3.5zM1145.5,460.8l3.5,3.5-3.5,3.5-3.5-3.5zM1146.8,461.4l3.5,3.5-3.5,3.5-3.5-3.5zM1148.0,459.7l3.5,3.5-3.5,3.5-3.5-3.5zM1149.3,459.6l3.5,3.5-3.5,3.5-3.5-3.5zM1150.5,459.8l3.5,3.5-3.5,3.5-3.5-3.5zM1151.7,458.5l3.5,3.5-3.5,3.5-3.5-3.5zM1153.0,460.1l3.5,3.5-3.5,3.5-3.5-3.5zM1154.2,459.0l3.5,3.5-3.5,3.5-3.5-3.5zM1155.5,458.6l3.5,3.5-3.5,3.5-3.5-3.5zM1156.7,458.8l3.5,3.5-3.5,3.5-3.5-3.5zM1158.0,457.4l3.5,3.5-3.5,3.5-3.5-3.5zM1159.2,457.9l3.5,3.5-3.5,3.5-3.5-3.5zM1160.5,456.6l3.5,3.5-3.5,3.5-3.5-3.5zM1161.7,457.3l3.5,3.5-3.5,3.5-3.5-3.5zM1162.9,457.2l3.5,3.5-3.5,3.5-3.5-3.5zM1164.2,457.8l3.5,3.5-3.5,3.5-3.5-3.5zM1165.4,456.5l3.5,3.5-3.5,3.5-3.5-3.5zM1166.7,457.0l3.5,3.5-3.5,3.5-3.5-3.5zM1167.9,455.9l3.5,3.5-3.5,3.5-3.5-3.5zM1169.2,454.7l3.5,3.5-3.5,3.5-3.5-3.5zM1170.4,455.8l3.5,3.5-3.5,3.5-3.5-3.5zM1171.7,455.1l3.5,3.5-3.5,3.5-3.5-3.5zM1172.9,454.4l3.5,3.5-3.5,3.5-3.5-3.5zM1174.1,455.0l3.5,3.5-3.5,3.5-3.5-3.5zM1175.4,453.5l3.5,3.5-3.5,3.5-3.5-3.5zM1176.6,453.6l3.5,3.5-3.5,3.5-3.5-3.5zM1177.9,453.9l3.5,3.5-3.5,3.5-3.5-3.5zM1179.1,453.7l3.5,3.5-3.5,3.5-3.5-3.5zM1180.4,452.5l3.5,3.5-3.5,3.5-3.5-3.5zM1181.6,452.7l3.5,3.5-3.5,3.5-3.5-3.5zM1182.9,452.3l3.5,3.5-3.5,3.5-3.5-3.5zM1184.1,452.3l3.5,3.5-3.5,3.5-3.5-3.5zM1185.3,451.5l3.5,3.5-3.5,3.5-3.5-3.5zM1186.6,450.0l3.5,3.5-3.5,3.5-3.5-3.5zM1187.8,450.7l3.5,3.5-3.5,3.5-3.5-3.5zM1189.1,451.5l3.5,3.5-3.5,3.5-3.5-3.5zM1190.3,449.8l3.5,3.5-3.5,3.5-3.5-3.5zM1191.6,449.9l3.5,3.5-3.5,3.5-3.5-3.5zM1192.8,450.2l3.5,3.5-3.5,3.5-3.5-3.5zM1194.1,449.2l3.5,3.5-3.5,3.5-3.5-3.5zM1195.3,448.4l3.5,3.5-3.5,3.5-3.5-3.5zM1196.5,448.7l3.5,3.5-3.5,3.5-3.5-3.5zM1197.8,448.3l3.5,3.5-3.5,3.5-3.5-3.5zM1199.0,447.6l3.5,3.5-3.5,3.5-3.5-3.5zM1200.3,447.7l3.5,3.5-3.5,3.5-3.5-3.5zM1201.5,446.6l3.5,3.5-3.5,3.5-3.5-3.5zM1202.8,446.2l3.5,3.5-3.5,3.5-3.5-3.5zM1204.0,446.1l3.5,3.5-3.5,3.5-3.5-3.5zM1205.3,446.4l3.5,3.5-3.5,3.5-3.5-3.5zM1206.5,446.2l3.5,3.5-3.5,3.5-3.5-3.5zM1207.7,445.5l3.5,3.5-3.5,3.5-3.5-3.5zM1209.0,446.2l3.5,3.5-3.5,3.5-3.5-3.5zM1210.2,445.6l3.5,3.5-3.5,3.5-3.5-3.5zM1211.5,445.0l3.5,3.5-3.5,3.5-3.5-3.5zM1212.7,445.3l3.5,3.5-3.5,3.5-3.5-3.5zM1214.0,445.3l3.5,3.5-3.5,3.5-3.5-3.5zM1215.2,444.5l3.5,3.5-3.5,3.5-3.5-3.5zM1216.5,443.4l3.5,3.5-3.5,3.5-3.5-3.5zM1217.7,444.0l3.5,3.5-3.5,3.5-3.5-3.5zM1218.9,443.9l3.5,3.5-3.5,3.5-3.5-3.5zM1220.2,443.2l3.5,3.5-3.5,3.5-3.5-3.5zM1221.4,442.6l3.5,3.5-3.5,3.5-3.5-3.5zM1222.7,442.5l3.5,3.5-3.5,3.5-3.5-3.5zM1223.9,442.3l3.5,3.5-3.5,3.5-3.5-3.5zM1225.2,440.7l3.5,3.5-3.5,3.5-3.5-3.5zM1226.4,442.5l3.5,3.5-3.5,3.5-3.5-3.5zM1227.7,441.3l3.5,3.5-3.5,3.5-3.5-3.5zM1228.9,442.2l3.5,3.5-3.5,3.5-3.5-3.5zM1230.1,440.8l3.5,3.5-3.5,3.5-3.5-3.5zM1231.4,440.0l3.5,3.5-3.5,3.5-3.5-3.5zM1232.6,440.7l3.5,3.5-3.5,3.5-3.5-3.5zM1233.9,440.0l3.5,3.5-3.5,3.5-3.5-3.5zM1235.1,440.3l3.5,3.5-3.5,3.5-3.5-3.5zM1236.4,439.3l3.5,3.5-3.5,3.5-3.5-3.5zM1237.6,439.0l3.5,3.5-3.5,3.5-3.5-3.5zM1238.8,438.7l3.5,3.5-3.5,3.5-3.5-3.5zM1240.1,438.4l3.5,3.5-3.5,3.5-3.5-3.5zM1241.3,438.9l3.5,3.5-3.5,3.5-3.5-3.5zM1242.6,437.7l3.5,3.5-3.5,3.5-3.5-3.5zM1243.8,438.3l3.5,3.5-3.5,3.5-3.5-3.5zM1245.1,438.7l3.5,3.5-3.5,3.5-3.5-3.5zM1246.3,437.2l3.5,3.5-3.5,3.5-3.5-3.5zM1247.6,437.5l3.5,3.5-3.5,3.5-3.5-3.5zM1248.8,437.0l3.5,3.5-3.5,3.5-3.5-3.5zM1250.0,437.0l3.5,3.5-3.5,3.5-3.5-3.5zM1251.3,437.2l3.5,3.5-3.5,3.5-3.5-3.5zM1252.5,437.3l3.5,3.5-3.5,3.5-3.5-3.5zM1253.8,437.3l3.5,3.5-3.5,3.5-3.5-3.5zM1255.0,436.2l3.5,3.5-3.5,3.5-3.5-3.5zM1256.3,436.8l3.5,3.5-3.5,3.5-3.5-3.5zM1257.5,435.9l3.5,3.5-3.5,3.5-3.5-3.5zM1258.8,435.5l3.5,3.5-3.5,3.5-3.5-3.5zM1260.0,435.4l3.5,3.5-3.5,3.5-3.5-3.5zM1261.2,434.7l3.5,3.5-3.5,3.5-3.5-3.5zM1262.5,435.7l3.5,3.5-3.5,3.5-3.5-3.5zM1263.7,434.5l3.5,3.5-3.5,3.5-3.5-3.5zM1265.0,435.6l3.5,3.5-3.5,3.5-3.5-3.5zM1266.2,436.9l3.5,3.5-3.5,3.5-3.5-3.5zM1267.5,434.7l3.5,3.5-3.5,3.5-3.5-3.5zM1268.7,433.8l3.5,3.5-3.5,3.5-3.5-3.5zM1270.0,435.2l3.5,3.5-3.5,3.5-3.5-3.5zM1271.2,434.2l3.5,3.5-3.5,3.5-3.5-3.5zM1272.4,434.7l3.5,3.5-3.5,3.5-3.5-3.5zM1273.7,434.6l3.5,3.5-3.5,3.5-3.5-3.5zM1274.9,434.6l3.5,3.5-3.5,3.5-3.5-3.5zM1276.2,435.8l3.5,3.5-3.5,3.5-3.5-3.5zM1277.4,434.5l3.5,3.5-3.5,3.5-3.5-3.5zM1278.7,434.3l3.5,3.5-3.5,3.5-3.5-3.5zM1279.9,434.0l3.5,3.5-3.5,3.5-3.5-3.5zM1281.2,433.5l3.5,3.5-3.5,3.5-3.5-3.5zM1282.4,433.5l3.5,3.5-3.5,3.5-3.5-3.5zM1283.6,433.1l3.5,3.5-3.5,3.5-3.5-3.5zM1284.9,434.2l3.5,3.5-3.5,3.5-3.5-3.5zM1286.1,433.4l3.5,3.5-3.5,3.5-3.5-3.5zM1287.4,433.8l3.5,3.5-3.5,3.5-3.5-3.5zM1288.6,433.5l3.5,3.5-3.5,3.5-3.5-3.5zM1289.9,434.5l3.5,3.5-3.5,3.5-3.5-3.5zM1291.1,433.0l3.5,3.5-3.5,3.5-3.5-3.5zM1292.4,433.3l3.5,3.5-3.5,3.5-3.5-3.5zM1293.6,432.5l3.5,3.5-3.5,3.5-3.5-3.5zM1294.8,433.4l3.5,3.5-3.5,3.5-3.5-3.5zM1296.1,432.5l3.5,3.5-3.5,3.5-3.5-3.5zM1297.3,432.5l3.5,3.5-3.5,3.5-3.5-3.5zM1298.6,431.5l3.5,3.5-3.5,3.5-3.5-3.5zM1299.8,432.6l3.5,3.5-3.5,3.5-3.5-3.5zM1301.1,433.1l3.5,3.5-3.5,3.5-3.5-3.5zM1302.3,432.8l3.5,3.5-3.5,3.5-3.5-3.5zM1303.6,431.2l3.5,3.5-3.5,3.5-3.5-3.5zM1304.8,432.3l3.5,3.5-3.5,3.5-3.5-3.5zM1306.0,431.3l3.5,3.5-3.5,3.5-3.5-3.5zM1307.3,430.7l3.5,3.5-3.5,3.5-3.5-3.5zM1308.5,430.9l3.5,3.5-3.5,3.5-3.5-3.5zM1309.8,432.4l3.5,3.5-3.5,3.5-3.5-3.5zM1311.0,431.4l3.5,3.5-3.5,3.5-3.5-3.5zM1312.3,431.0l3.5,3.5-3.5,3.5-3.5-3.5zM1313.5,432.0l3.5,3.5-3.5,3.5-3.5-3.5zM1314.8,432.1l3.5,3.5-3.5,3.5-3.5-3.5zM1316.0,431.8l3.5,3.5-3.5,3.5-3.5-3.5zM1317.2,432.3l3.5,3.5-3.5,3.5-3.5-3.5zM1318.5,431.9l3.5,3.5-3.5,3.5-3.5-3.5zM1319.7,433.0l3.5,3.5-3.5,3.5-3.5-3.5zM1321.0,432.9l3.5,3.5-3.5,3.5-3.5-3.5zM1322.2,432.5l3.5,3.5-3.5,3.5-3.5-3.5zM1323.5,432.9l3.5,3.5-3.5,3.5-3.5-3.5zM1324.7,433.3l3.5,3.5-3.5,3.5-3.5-3.5zM1325.9,432.8l3.5,3.5-3.5,3.5-3.5-3.5zM1327.2,433.3l3.5,3.5-3.5,3.5-3.5-3.5zM1328.4,433.0l3.5,3.5-3.5,3.5-3.5-3.5zM1329.7,433.0l3.5,3.5-3.5,3.5-3.5-3.5zM1330.9,432.1l3.5,3.5-3.5,3.5-3.5-3.5zM1332.2,432.6l3.5,3.5-3.5,3.5-3.5-3.5zM1333.4,432.8l3.5,3.5-3.5,3.5-3.5-3.5zM1334.7,433.5l3.5,3.5-3.5,3.5-3.5-3.5zM1335.9,435.2l3.5,3.5-3.5,3.5-3.5-3.5zM1337.1,433.1l3.5,3.5-3.5,3.5-3.5-3.5zM1338.4,433.5l3.5,3.5-3.5,3.5-3.5-3.5zM1339.6,433.1l3.5,3.5-3.5,3.5-3.5-3.5zM1340.9,433.7l3.5,3.5-3.5,3.5-3.5-3.5zM1342.1,433.9l3.5,3.5-3.5,3.5-3.5-3.5zM1343.4,434.5l3.5,3.5-3.5,3.5-3.5-3.5zM1344.6,433.3l3.5,3.5-3.5,3.5-3.5-3.5zM1345.9,434.6l3.5,3.5-3.5,3.5-3.5-3.5zM1347.1,434.5l3.5,3.5-3.5,3.5-3.5-3.5zM1348.3,434.2l3.5,3.5-3.5,3.5-3.5-3.5zM1349.6,433.8l3.5,3.5-3.5,3.5-3.5-3.5zM1350.8,434.0l3.5,3.5-3.5,3.5-3.5-3.5zM1352.1,434.6l3.5,3.5-3.5,3.5-3.5-3.5zM1353.3,435.1l3.5,3.5-3.5,3.5-3.5-3.5zM1354.6,434.8l3.5,3.5-3.5,3.5-3.5-3.5zM1355.8,434.5l3.5,3.5-3.5,3.5-3.5-3.5zM1357.1,435.2l3.5,3.5-3.5,3.5-3.5-3.5zM1358.3,434.5l3.5,3.5-3.5,3.5-3.5-3.5zM1359.5,435.7l3.5,3.5-3.5,3.5-3.5-3.5zM1360.8,437.1l3.5,3.5-3.5,3.5-3.5-3.5zM1362.0,435.1l3.5,3.5-3.5,3.5-3.5-3.5zM1363.3,436.2l3.5,3.5-3.5,3.5-3.5-3.5zM1364.5,435.1l3.5,3.5-3.5,3.5-3.5-3.5zM1365.8,435.9l3.5,3.5-3.5,3.5-3.5-3.5zM1367.0,436.3l3.5,3.5-3.5,3.5-3.5-3.5zM1368.3,436.8l3.5,3.5-3.5,3.5-3.5-3.5zM1369.5,436.3l3.5,3.5-3.5,3.5-3.5-3.5zM1370.7,437.2l3.5,3.5-3.5,3.5-3.5-3.5zM1372.0,435.8l3.5,3.5-3.5,3.5-3.5-3.5zM1373.2,436.6l3.5,3.5-3.5,3.5-3.5-3.5zM1374.5,436.8l3.5,3.5-3.5,3.5-3.5-3.5zM1375.7,437.1l3.5,3.5-3.5,3.5-3.5-3.5zM1377.0,437.1l3.5,3.5-3.5,3.5-3.5-3.5zM1378.2,438.5l3.5,3.5-3.5,3.5-3.5-3.5zM1379.5,437.3l3.5,3.5-3.5,3.5-3.5-3.5zM1380.7,438.3l3.5,3.5-3.5,3.5-3.5-3.5zM1381.9,438.2l3.5,3.5-3.5,3.5-3.5-3.5zM1383.2,439.3l3.5,3.5-3.5,3.5-3.5-3.5zM1384.4,438.2l3.5,3.5-3.5,3.5-3.5-3.5zM1385.7,438.9l3.5,3.5-3.5,3.5-3.5-3.5zM1386.9,439.1l3.5,3.5-3.5,3.5-3.5-3.5zM1388.2,437.0l3.5,3.5-3.5,3.5-3.5-3.5zM1389.4,439.4l3.5,3.5-3.5,3.5-3.5-3.5zM1390.7,440.0l3.5,3.5-3.5,3.5-3.5-3.5zM1391.9,440.5l3.5,3.5-3.5,3.5-3.5-3.5zM1393.1,439.2l3.5,3.5-3.5,3.5-3.5-3.5zM1394.4,440.0l3.5,3.5-3.5,3.5-3.5-3.5zM1395.6,441.1l3.5,3.5-3.5,3.5-3.5-3.5zM1396.9,439.9l3.5,3.5-3.5,3.5-3.5-3.5zM1398.1,440.3l3.5,3.5-3.5,3.5-3.5-3.5zM1399.4,441.4l3.5,3.5-3.5,3.5-3.5-3.5zM1400.6,441.8l3.5,3.5-3.5,3.5-3.5-3.5zM1401.8,442.4l3.5,3.5-3.5,3.5-3.5-3.5zM1403.1,442.6l3.5,3.5-3.5,3.5-3.5-3.5zM1404.3,442.3l3.5,3.5-3.5,3.5-3.5-3.5zM1405.6,441.8l3.5,3.5-3.5,3.5-3.5-3.5zM1406.8,442.3l3.5,3.5-3.5,3.5-3.5-3.5zM1408.1,443.0l3.5,3.5-3.5,3.5-3.5-3.5zM1409.3,443.5l3.5,3.5-3.5,3.5-3.5-3.5zM1410.6,443.6l3.5,3.5-3.5,3.5-3.5-3.5zM1411.8,444.3l3.5,3.5-3.5,3.5-3.5-3.5zM1413.0,443.7l3.5,3.5-3.5,3.5-3.5-3.5zM1414.3,444.2l3.5,3.5-3.5,3.5-3.5-3.5zM1415.5,444.0l3.5,3.5-3.5,3.5-3.5-3.5zM1416.8,446.3l3.5,3.5-3.5,3.5-3.5-3.5zM1418.0,445.3l3.5,3.5-3.5,3.5-3.5-3.5zM1419.3,446.3l3.5,3.5-3.5,3.5-3.5-3.5zM1420.5,446.8l3.5,3.5-3.5,3.5-3.5-3.5zM1421.8,446.5l3.5,3.5-3.5,3.5-3.5-3.5zM1423.0,446.5l3.5,3.5-3.5,3.5-3.5-3.5zM1424.2,446.7l3.5,3.5-3.5,3.5-3.5-3.5zM1425.5,447.1l3.5,3.5-3.5,3.5-3.5-3.5zM1426.7,446.6l3.5,3.5-3.5,3.5-3.5-3.5zM1428.0,447.6l3.5,3.5-3.5,3.5-3.5-3.5zM1429.2,448.7l3.5,3.5-3.5,3.5-3.5-3.5zM1430.5,448.8l3.5,3.5-3.5,3.5-3.5-3.5zM1431.7,449.5l3.5,3.5-3.5,3.5-3.5-3.5zM1433.0,449.8l3.5,3.5-3.5,3.5-3.5-3.5zM1434.2,450.1l3.5,3.5-3.5,3.5-3.5-3.5zM1435.4,450.1l3.5,3.5-3.5,3.5-3.5-3.5zM1436.7,450.5l3.5,3.5-3.5,3.5-3.5-3.5zM1437.9,451.2l3.5,3.5-3.5,3.5-3.5-3.5zM1439.2,450.8l3.5,3.5-3.5,3.5-3.5-3.5zM1440.4,450.6l3.5,3.5-3.5,3.5-3.5-3.5zM1441.7,452.2l3.5,3.5-3.5,3.5-3.5-3.5zM1442.9,452.1l3.5,3.5-3.5,3.5-3.5-3.5zM1444.2,453.1l3.5,3.5-3.5,3.5-3.5-3.5zM1445.4,452.4l3.5,3.5-3.5,3.5-3.5-3.5zM1446.6,452.2l3.5,3.5-3.5,3.5-3.5-3.5zM1447.9,453.4l3.5,3.5-3.5,3.5-3.5-3.5zM1449.1,453.5l3.5,3.5-3.5,3.5-3.5-3.5zM1450.4,453.7l3.5,3.5-3.5,3.5-3.5-3.5zM1451.6,455.6l3.5,3.5-3.5,3.5-3.5-3.5zM1452.9,455.2l3.5,3.5-3.5,3.5-3.5-3.5zM1454.1,454.7l3.5,3.5-3.5,3.5-3.5-3.5zM1455.4,454.8l3.5,3.5-3.5,3.5-3.5-3.5zM1456.6,456.0l3.5,3.5-3.5,3.5-3.5-3.5zM1457.8,456.8l3.5,3.5-3.5,3.5-3.5-3.5zM1459.1,457.0l3.5,3.5-3.5,3.5-3.5-3.5zM1460.3,457.9l3.5,3.5-3.5,3.5-3.5-3.5zM1461.6,457.8l3.5,3.5-3.5,3.5-3.5-3.5zM1462.8,458.3l3.5,3.5-3.5,3.5-3.5-3.5zM1464.1,457.2l3.5,3.5-3.5,3.5-3.5-3.5zM1465.3,459.5l3.5,3.5-3.5,3.5-3.5-3.5zM1466.6,458.8l3.5,3.5-3.5,3.5-3.5-3.5zM1467.8,460.0l3.5,3.5-3.5,3.5-3.5-3.5zM1469.0,458.9l3.5,3.5-3.5,3.5-3.5-3.5zM1470.3,459.7l3.5,3.5-3.5,3.5-3.5-3.5zM1471.5,461.3l3.5,3.5-3.5,3.5-3.5-3.5zM1472.8,460.2l3.5,3.5-3.5,3.5-3.5-3.5zM1474.0,461.5l3.5,3.5-3.5,3.5-3.5-3.5zM1475.3,461.5l3.5,3.5-3.5,3.5-3.5-3.5zM1476.5,463.2l3.5,3.5-3.5,3.5-3.5-3.5zM1477.8,462.7l3.5,3.5-3.5,3.5-3.5-3.5zM1479.0,463.7l3.5,3.5-3.5,3.5-3.5-3.5zM1480.2,463.2l3.5,3.5-3.5,3.5-3.5-3.5zM1481.5,462.6l3.5,3.5-3.5,3.5-3.5-3.5zM1482.7,465.3l3.5,3.5-3.5,3.5-3.5-3.5zM1484.0,464.1l3.5,3.5-3.5,3.5-3.5-3.5zM1485.2,464.9l3.5,3.5-3.5,3.5-3.5-3.5zM1486.5,465.2l3.5,3.5-3.5,3.5-3.5-3.5zM1487.7,464.7l3.5,3.5-3.5,3.5-3.5-3.5zM1489.0,466.5l3.5,3.5-3.5,3.5-3.5-3.5zM1490.2,466.2l3.5,3.5-3.5,3.5-3.5-3.5zM1491.4,465.8l3.5,3.5-3.5,3.5-3.5-3.5zM1492.7,466.4l3.5,3.5-3.5,3.5-3.5-3.5zM1493.9,466.4l3.5,3.5-3.5,3.5-3.5-3.5zM1495.2,467.7l3.5,3.5-3.5,3.5-3.5-3.5zM1496.4,468.6l3.5,3.5-3.5,3.5-3.5-3.5zM1497.7,468.6l3.5,3.5-3.5,3.5-3.5-3.5zM1498.9,469.6l3.5,3.5-3.5,3.5-3.5-3.5zM1500.1,469.9l3.5,3.5-3.5,3.5-3.5-3.5zM1501.4,470.9l3.5,3.5-3.5,3.5-3.5-3.5zM1502.6,471.1l3.5,3.5-3.5,3.5-3.5-3.5zM1503.9,471.5l3.5,3.5-3.5,3.5-3.5-3.5zM1505.1,471.6l3.5,3.5-3.5,3.5-3.5-3.5zM1506.4,472.0l3.5,3.5-3.5,3.5-3.5-3.5zM1507.6,472.7l3.5,3.5-3.5,3.5-3.5-3.5zM1508.9,474.0l3.5,3.5-3.5,3.5-3.5-3.5zM1510.1,474.1l3.5,3.5-3.5,3.5-3.5-3.5zM1511.3,475.9l3.5,3.5-3.5,3.5-3.5-3.5zM1512.6,476.1l3.5,3.5-3.5,3.5-3.5-3.5z"/>
<path d="M226.0,819.6l3.5,3.5-3.5,3.5-3.5-3.5z"/>
<path d="M227.2,843.2l3.5,3.5-3.5,3.5-3.5-3.5z"/>
<path d="M228.5,847.5l3.5,3.5-3.5,3.5-3.5-3.5z"/>
<path d="M229.7,859.7l3.5,3.5-3.5,3.5-3.5-3.5z"/>
<path d="M231.0,865.7l3.5,3.5-3.5,3.5-3.5-3.5z"/>
<path d="M232.2,879.8l3.5,3.5-3.5,3.5-3.5-3.5z"/>
<path d="M233.5,892.2l3.5,3.5-3.5,3.5-3.5-3.5z"/>
<path d="M234.7,908.7l3.5,3.5-3.5,3.5-3.5-3.5z"/>
<path d="M236.0,911.9l3.5,3.5-3.5,3.5-3.5-3.5z"/>
<path d="M237.2,937.5l3.5,3.5-3.5,3.5-3.5-3.5z"/>
<path d="M238.4,945.0l3.5,3.5-3.5,3.5-3.5-3.5z"/>
<path d="M239.7,964.1l3.5,3.5-3.5,3.5-3.5-3.5z"/>
<path d="M240.9,974.9l3.5,3.5-3.5,3.5-3.5-3.5z"/>
<path d="M242.2,985.8l3.5,3.5-3.5,3.5-3.5-3.5z"/>
<path d="M243.4,990.2l3.5,3.5-3.5,3.5-3.5-3.5z"/>
<path d="M244.7,1003.7l3.5,3.5-3.5,3.5-3.5-3.5z"/>
<path d="M245.9,1011.7l3.5,3.5-3.5,3.5-3.5-3.5z"/>
<path d="M247.2,1025.0l3.5,3.5-3.5,3.5-3.5-3.5z"/>
<path d="M248.4,1029.2l3.5,3.5-3.5,3.5-3.5-3.5z"/>
<path d="M249.6,1025.1l3.5,3.5-3.5,3.5-3.5-3.5z"/>
<path d="M250.9,1018.4l3.5,3.5-3.5,3.5-3.5-3.5z"/>
<path d="M252.1,1015.4l3.5,3.5-3.5,3.5-3.5-3.5z"/>
<path d="M253.4,1006.5l3.5,3.5-3.5,3.5-3.5-3.5z"/>
<path d="M254.6,999.3l3.5,3.5-3.5,3.5-3.5-3.5z"/>
<path d="M255.9,989.5l3.5,3.5-3.5,3.5-3.5-3.5z"/>
<path d="M257.1,961.8l3.5,3.5-3.5,3.5-3.5-3.5z"/>
<path d="M258.4,936.3l3.5,3.5-3.5,3.5-3.5-3.5z"/>
<path d="M259.6,917.5l3.5,3.5-3.5,3.5-3.5-3.5z"/>
<path d="M260.8,890.0l3.5,3.5-3.5,3.5-3.5-3.5z"/>
<path d="M262.1,876.7l3.5,3.5-3.5,3.5-3.5-3.5z"/>
<path d="M263.3,859.7l3.5,3.5-3.5,3.5-3.5-3.5z"/>
<path d="M264.6,849.6l3.5,3.5-3.5,3.5-3.5-3.5z"/>
<path d="M265.8,840.1l3.5,3.5-3.5,3.5-3.5-3.5z"/>
<path d="M267.1,832.7l3.5,3.5-3.5,3.5-3.5-3.5z"/>
<path d="M268.3,828.2l3.5,3.5-3.5,3.5-3.5-3.5z"/>
<path d="M269.6,823.3l3.5,3.5-3.5,3.5-3.5-3.5z"/>
<path d="M270.8,815.4l3.5,3.5-3.5,3.5-3.5-3.5z"/>
<path d="M272.0,819.8l3.5,3.5-3.5,3.5-3.5-3.5z"/>
<path d="M273.3,813.5l3.5,3.5-3.5,3.5-3.5-3.5z"/>
<path d="M274.5,815.3l3.5,3.5-3.5,3.5-3.5-3.5z"/>
<path d="M275.8,812.3l3.5,3.5-3.5,3.5-3.5-3.5z"/>
<path d="M277.0,817.5l3.5,3.5-3.5,3.5-3.5-3.5z"/>
<path d="M278.3,815.3l3.5,3.5-3.5,3.5-3.5-3.5z"/>
<path d="M279.5,822.9l3.5,3.5-3.5,3.5-3.5-3.5z"/>
<path d="M280.7,821.2l3.5,3.5-3.5,3.5-3.5-3.5z"/>
<path d="M282.0,822.8l3.5,3.5-3.5,3.5-3.5-3.5z"/>
<path d="M283.2,820.3l3.5,3.5-3.5,3.5-3.5-3.5z"/>
<path d="M284.5,824.3l3.5,3.5-3.5,3.5-3.5-3.5z"/>
<path d="M285.7,830.4l3.5,3.5-3.5,3.5-3.5-3.5z"/>
<path d="M287.0,832.3l3.5,3.5-3.5,3.5-3.5-3.5z"/>
<path d="M288.2,834.3l3.5,3.5-3.5,3.5-3.5-3.5z"/>
<path d="M289.5,836.5l3.5,3.5-3.5,3.5-3.5-3.5z"/>
<path d="M290.7,841.3l3.5,3.5-3.5,3.5-3.5-3.5z"/>
<path d="M291.9,840.5l3.5,3.5-3.5,3.5-3.5-3.5z"/>
<path d="M293.2,842.3l3.5,3.5-3.5,3.5-3.5-3.5z"/>
<path d="M294.4,843.5l3.5,3.5-3.5,3.5-3.5-3.5z"/>
<path d="M295.7,844.7l3.5,3.5-3.5,3.5-3.5-3.5z"/>
<path d="M296.9,849.2l3.5,3.5-3.5,3.5-3.5-3.5z"/>
<path d="M298.2,849.4l3.5,3.5-3.5,3.5-3.5-3.5z"/>
<path d="M299.4,851.1l3.5,3.5-3.5,3.5-3.5-3.5z"/>
<path d="M300.7,853.9l3.5,3.5-3.5,3.5-3.5-3.5z"/>
<path d="M301.9,855.1l3.5,3.5-3.5,3.5-3.5-3.5z"/>
<path d="M303.1,858.0l3.5,3.5-3.5,3.5-3.5-3.5z"/>
<path d="M304.4,859.4l3.5,3.5-3.5,3.5-3.5-3.5z"/>
<path d="M305.6,857.2l3.5,3.5-3.5,3.5-3.5-3.5z"/>
<path d="M306.9,859.7l3.5,3.5-3.5,3.5-3.5-3.5z"/>
<path d="M308.1,864.5l3.5,3.5-3.5,3.5-3.5-3.5z"/>
<path d="M309.4,863.8l3.5,3.5-3.5,3.5-3.5-3.5z"/>
<path d="M310.6,867.3l3.5,3.5-3.5,3.5-3.5-3.5z"/>
<path d="M311.9,866.3l3.5,3.5-3.5,3.5-3.5-3.5z"/>
<path d="M313.1,865.3l3.5,3.5-3.5,3.5-3.5-3.5z"/>
<path d="M314.3,867.4l3.5,3.5-3.5,3.5-3.5-3.5z"/>
<path d="M315.6,871.7l3.5,3.5-3.5,3.5-3.5-3.5z"/>
<path d="M316.8,873.9l3.5,3.5-3.5,3.5-3.5-3.5z"/>
<path d="M318.1,880.4l3.5,3.5-3.5,3.5-3.5-3.5z"/>
<path d="M319.3,879.5l3.5,3.5-3.5,3.5-3.5-3.5z"/>
<path d="M320.6,881.2l3.5,3.5-3.5,3.5-3.5-3.5z"/>
<path d="M321.8,883.5l3.5,3.5-3.5,3.5-3.5-3.5z"/>
<path d="M323.1,881.3l3.5,3.5-3.5,3.5-3.5-3.5z"/>
<path d="M324.3,886.2l3.5,3.5-3.5,3.5-3.5-3.5z"/>
<path d="M325.5,888.1l3.5,3.5-3.5,3.5-3.5-3.5z"/>
<path d="M326.8,893.6l3.5,3.5-3.5,3.5-3.5-3.5z"/>
<path d="M328.0,891.6l3.5,3.5-3.5,3.5-3.5-3.5z"/>
<path d="M884.2,461.4l3.5,3.5-3.5,3.5-3.5-3.5z"/>
<path d="M885.5,432.2l3.5,3.5-3.5,3.5-3.5-3.5z"/>
<path d="M886.7,459.9l3.5,3.5-3.5,3.5-3.5-3.5z"/>
<path d="M888.0,448.5l3.5,3.5-3.5,3.5-3.5-3.5z"/>
<path d="M889.2,449.7l3.5,3.5-3.5,3.5-3.5-3.5z"/>
<path d="M890.4,456.6l3.5,3.5-3.5,3.5-3.5-3.5z"/>
<path d="M891.7,438.6l3.5,3.5-3.5,3.5-3.5-3.5z"/>
<path d="M892.9,470.3l3.5,3.5-3.5,3.5-3.5-3.5z"/>
<path d="M894.2,470.1l3.5,3.5-3.5,3.5-3.5-3.5z"/>
<path d="M895.4,468.2l3.5,3.5-3.5,3.5-3.5-3.5z"/>
<path d="M896.7,475.0l3.5,3.5-3.5,3.5-3.5-3.5z"/>
<path d="M897.9,443.4l3.5,3.5-3.5,3.5-3.5-3.5z"/>
<path d="M899.2,458.6l3.5,3.5-3.5,3.5-3.5-3.5z"/>
<path d="M900.4,458.9l3.5,3.5-3.5,3.5-3.5-3.5z"/>
<path d="M901.6,451.0l3.5,3.5-3.5,3.5-3.5-3.5z"/>
<path d="M902.9,471.3l3.5,3.5-3.5,3.5-3.5-3.5z"/>
<path d="M904.1,487.7l3.5,3.5-3.5,3.5-3.5-3.5z"/>
<path d="M905.4,455.5l3.5,3.5-3.5,3.5-3.5-3.5z"/>
<path d="M906.6,470.6l3.5,3.5-3.5,3.5-3.5-3.5z"/>
<path d="M907.9,466.9l3.5,3.5-3.5,3.5-3.5-3.5z"/>
<path d="M909.1,468.1l3.5,3.5-3.5,3.5-3.5-3.5z"/>
<path d="M910.4,468.3l3.5,3.5-3.5,3.5-3.5-3.5z"/>
<path d="M911.6,473.4l3.5,3.5-3.5,3.5-3.5-3.5z"/>
<path d="M912.8,463.7l3.5,3.5-3.5,3.5-3.5-3.5z"/>
<path d="M914.1,466.1l3.5,3.5-3.5,3.5-3.5-3.5z"/>
<path d="M915.3,481.9l3.5,3.5-3.5,3.5-3.5-3.5z"/>
<path d="M916.6,470.3l3.5,3.5-3.5,3.5-3.5-3.5z"/>
<path d="M917.8,470.7l3.5,3.5-3.5,3.5-3.5-3.5z"/>
<path d="M919.1,459.1l3.5,3.5-3.5,3.5-3.5-3.5z"/>
<path d="M920.3,474.9l3.5,3.5-3.5,3.5-3.5-3.5z"/>
<path d="M921.6,476.2l3.5,3.5-3.5,3.5-3.5-3.5z"/>
<path d="M922.8,474.4l3.5,3.5-3.5,3.5-3.5-3.5z"/>
<path d="M924.0,483.0l3.5,3.5-3.5,3.5-3.5-3.5z"/>
<path d="M925.3,461.4l3.5,3.5-3.5,3.5-3.5-3.5z"/>
<path d="M926.5,479.3l3.5,3.5-3.5,3.5-3.5-3.5z"/>
<path d="M927.8,464.8l3.5,3.5-3.5,3.5-3.5-3.5z"/>
<path d="M929.0,468.8l3.5,3.5-3.5,3.5-3.5-3.5z"/>
<path d="M930.3,464.0l3.5,3.5-3.5,3.5-3.5-3.5z"/>
<path d="M931.5,480.1l3.5,3.5-3.5,3.5-3.5-3.5z"/>
<path d="M932.8,475.2l3.5,3.5-3.5,3.5-3.5-3.5z"/>
<path d="M934.0,474.0l3.5,3.5-3.5,3.5-3.5-3.5z"/>
<path d="M935.2,476.8l3.5,3.5-3.5,3.5-3.5-3.5z"/>
<path d="M936.5,466.5l3.5,3.5-3.5,3.5-3.5-3.5z"/>
<path d="M937.7,474.3l3.5,3.5-3.5,3.5-3.5-3.5z"/>
<path d="M939.0,478.6l3.5,3.5-3.5,3.5-3.5-3.5z"/>
<path d="M940.2,475.2l3.5,3.5-3.5,3.5-3.5-3.5z"/>
<path d="M941.5,478.0l3.5,3.5-3.5,3.5-3.5-3.5z"/>
<path d="M942.7,471.5l3.5,3.5-3.5,3.5-3.5-3.5z"/>
<path d="M944.0,479.6l3.5,3.5-3.5,3.5-3.5-3.5z"/>
<path d="M945.2,477.9l3.5,3.5-3.5,3.5-3.5-3.5z"/>
<path d="M946.4,480.4l3.5,3.5-3.5,3.5-3.5-3.5z"/>
<path d="M947.7,486.1l3.5,3.5-3.5,3.5-3.5-3.5z"/>
<path d="M948.9,480.3l3.5,3.5-3.5,3.5-3.5-3.5z"/>
<path d="M950.2,477.9l3.5,3.5-3.5,3.5-3.5-3.5z"/>
<path d="M951.4,482.0l3.5,3.5-3.5,3.5-3.5-3.5z"/>
<path d="M952.7,476.5l3.5,3.5-3.5,3.5-3.5-3.5z"/>
<path d="M953.9,487.0l3.5,3.5-3.5,3.5-3.5-3.5z"/>
<path d="M955.2,481.2l3.5,3.5-3.5,3.5-3.5-3.5z"/>
<path d="M956.4,481.4l3.5,3.5-3.5,3.5-3.5-3.5z"/>
<path d="M957.6,483.3l3.5,3.5-3.5,3.5-3.5-3.5z"/>
<path d="M958.9,477.5l3.5,3.5-3.5,3.5-3.5-3.5z"/>
<path d="M960.1,481.9l3.5,3.5-3.5,3.5-3.5-3.5z"/>
<path d="M961.4,481.4l3.5,3.5-3.5,3.5-3.5-3.5z"/>
<path d="M962.6,489.0l3.5,3.5-3.5,3.5-3.5-3.5z"/>
<path d="M963.9,486.9l3.5,3.5-3.5,3.5-3.5-3.5z"/>
<path d="M965.1,488.1l3.5,3.5-3.5,3.5-3.5-3.5z"/>
<path d="M966.4,482.8l3.5,3.5-3.5,3.5-3.5-3.5z"/>
<path d="M967.6,483.3l3.5,3.5-3.5,3.5-3.5-3.5z"/>
<path d="M968.8,486.0l3.5,3.5-3.5,3.5-3.5-3.5z"/>
<path d="M970.1,481.2l3.5,3.5-3.5,3.5-3.5-3.5z"/>
<path d="M971.3,480.7l3.5,3.5-3.5,3.5-3.5-3.5z"/>
<path d="M972.6,487.5l3.5,3.5-3.5,3.5-3.5-3.5z"/>
<path d="M973.8,484.7l3.5,3.5-3.5,3.5-3.5-3.5z"/>
<path d="M975.1,484.7l3.5,3.5-3.5,3.5-3.5-3.5z"/>
<path d="M976.3,479.3l3.5,3.5-3.5,3.5-3.5-3.5z"/>
<path d="M977.5,482.6l3.5,3.5-3.5,3.5-3.5-3.5z"/>
<path d="M978.8,482.6l3.5,3.5-3.5,3.5-3.5-3.5z"/>
<path d="M980.0,482.1l3.5,3.5-3.5,3.5-3.5-3.5z"/>
<path d="M981.3,484.6l3.5,3.5-3.5,3.5-3.5-3.5z"/>
<path d="M982.5,481.8l3.5,3.5-3.5,3.5-3.5-3.5z"/>
<path d="M983.8,481.3l3.5,3.5-3.5,3.5-3.5-3.5z"/>
<path d="M985.0,488.2l3.5,3.5-3.5,3.5-3.5-3.5z"/>
<path d="M986.3,485.0l3.5,3.5-3.5,3.5-3.5-3.5z"/>
<path d="M987.5,481.8l3.5,3.5-3.5,3.5-3.5-3.5z"/>
<path d="M988.7,488.4l3.5,3.5-3.5,3.5-3.5-3.5z"/>
<path d="M990.0,485.2l3.5,3.5-3.5,3.5-3.5-3.5z"/>
<path d="M991.2,484.7l3.5,3.5-3.5,3.5-3.5-3.5z"/>
<path d="M992.5,478.7l3.5,3.5-3.5,3.5-3.5-3.5z"/>
<path d="M993.7,486.9l3.5,3.5-3.5,3.5-3.5-3.5z"/>
<path d="M995.0,484.4l3.5,3.5-3.5,3.5-3.5-3.5z"/>
<path d="M996.2,486.3l3.5,3.5-3.5,3.5-3.5-3.5z"/>
<path d="M997.5,487.1l3.5,3.5-3.5,3.5-3.5-3.5z"/>
<path d="M998.7,481.7l3.5,3.5-3.5,3.5-3.5-3.5z"/>
<path d="M999.9,487.2l3.5,3.5-3.5,3.5-3.5-3.5z"/>
<path d="M1001.2,485.3l3.5,3.5-3.5,3.5-3.5-3.5z"/>
<path d="M1002.4,484.0l3.5,3.5-3.5,3.5-3.5-3.5z"/>
<path d="M1003.7,480.0l3.5,3.5-3.5,3.5-3.5-3.5z"/>
<path d="M1004.9,487.0l3.5,3.5-3.5,3.5-3.5-3.5z"/>
<path d="M1006.2,484.2l3.5,3.5-3.5,3.5-3.5-3.5z"/>
<path d="M1513.8,471.4l3.5,3.5-3.5,3.5-3.5-3.5z"/>
<path d="M1515.1,478.6l3.5,3.5-3.5,3.5-3.5-3.5z"/>
<path d="M1516.3,482.1l3.5,3.5-3.5,3.5-3.5-3.5z"/>
<path d="M1517.6,475.9l3.5,3.5-3.5,3.5-3.5-3.5z"/>
<path d="M1518.8,483.4l3.5,3.5-3.5,3.5-3.5-3.5z"/>
<path d="M1520.1,477.0l3.5,3.5-3.5,3.5-3.5-3.5z"/>
<path d="M1521.3,486.1l3.5,3.5-3.5,3.5-3.5-3.5z"/>
<path d="M1522.5,483.1l3.5,3.5-3.5,3.5-3.5-3.5z"/>
<path d="M1523.8,481.1l3.5,3.5-3.5,3.5-3.5-3.5z"/>
<path d="M1525.0,476.6l3.5,3.5-3.5,3.5-3.5-3.5z"/>
<path d="M1526.3,483.1l3.5,3.5-3.5,3.5-3.5-3.5z"/>
<path d="M1527.5,481.6l3.5,3.5-3.5,3.5-3.5-3.5z"/>
<path d="M1528.8,486.5l3.5,3.5-3.5,3.5-3.5-3.5z"/>
<path d="M1530.0,482.9l3.5,3.5-3.5,3.5-3.5-3.5z"/>
<path d="M1531.3,488.9l3.5,3.5-3.5,3.5-3.5-3.5z"/>
<path d="M1532.5,486.5l3.5,3.5-3.5,3.5-3.5-3.5z"/>
</g>
<path class="c" stroke="#ff0000" d="M226.0,838.9 226.5,841.8 227.0,844.9 227.5,848.1 228.0,851.4 228.5,854.9 229.0,858.5 229.5,862.2 230.0,866.0 230.5,869.9 231.0,873.9 231.5,878.0 232.0,882.2 232.5,886.4 233.0,890.9 233.5,895.6 234.0,900.4 234.5,905.4 235.0,910.6 235.5,915.9 236.0,921.3 236.5,927.1 237.0,933.3 237.5,939.6 238.0,945.7 238.5,951.6 239.0,957.4 239.5,963.1 240.0,968.4 240.5,973.2 241.0,977.6 241.5,981.9 242.0,985.9 242.5,989.8 243.0,993.5 243.5,997.0 244.0,1000.5 244.5,1003.8 245.0,1007.1 245.5,1010.6 246.0,1014.4 246.5,1018.0 247.0,1021.1 247.5,1023.3 248.0,1024.4 248.5,1024.2 249.0,1023.4 249.5,1022.1 250.0,1020.4 250.5,1018.3 251.0,1015.9 251.5,1013.4 252.0,1010.7 252.5,1008.0 253.0,1005.3 253.5,1002.4 254.0,999.1 254.5,995.3 255.0,991.1 255.5,986.3 256.0,980.9 256.5,973.6 257.0,964.1 257.5,954.1 258.0,945.3 258.5,937.7 259.0,930.4 259.5,922.9 260.0,914.5 260.5,905.4 261.0,897.2 261.5,890.6 262.0,884.6 262.5,879.1 263.0,874.0 263.5,869.3 264.0,864.7 264.5,860.2 265.0,856.0 265.5,852.0 266.0,848.4 266.5,845.3 267.0,842.5 267.5,839.9 268.0,837.6 268.5,835.5 269.0,833.6 269.5,831.9 270.0,830.3 270.5,828.8 271.0,827.2 271.5,825.8 272.0,824.4 272.5,823.2 273.0,822.2 273.5,821.4 274.0,820.9 274.5,820.7 275.0,820.8 275.5,821.0 276.0,821.2 276.5,821.6 277.0,822.1 277.5,822.6 278.0,823.2 278.5,823.8 279.0,824.4 279.5,825.0 280.0,825.6 280.5,826.2 281.0,827.0 281.5,827.8 282.0,828.6 282.5,829.5 283.0,830.5 283.5,831.5 284.0,832.4 284.5,833.4 285.0,834.4 285.5,835.3 286.0,836.2 286.5,837.1 287.0,837.9 287.5,838.7 288.0,839.5 288.5,840.3 289.0,841.1 289.5,841.9 290.0,842.7 290.5,843.4 291.0,844.2 291.5,845.0 292.0,845.7 292.5,846.5 293.0,847.2 293.5,847.9 294.0,848.7 294.5,849.4 295.0,850.1 295.5,850.8 296.0,851.6 296.5,852.3 297.0,853.0 297.5,853.6 298.0,854.3 298.5,855.0 299.0,855.7 299.5,856.3 300.0,857.0 300.5,857.6 301.0,858.3 301.5,858.9 302.0,859.5 302.5,860.2 303.0,860.8 303.5,861.4 304.0,862.0 304.5,862.7 305.0,863.3 305.5,863.9 306.0,864.6 306.5,865.2 307.0,865.9 307.5,866.5 308.0,867.2 308.5,867.8 309.0,868.5 309.5,869.2 310.0,869.8 310.5,870.5 311.0,871.2 311.5,871.9 312.0,872.6 312.5,873.2 313.0,873.9 313.5,874.6 314.0,875.3 314.5,876.0 315.0,876.6 315.5,877.3 316.0,878.0 316.5,878.7 317.0,879.4 317.5,880.2 318.0,880.9 318.5,881.6 319.0,882.3 319.5,883.1 320.0,883.8 320.5,884.6 321.0,885.3 321.5,886.1 322.0,886.9 322.5,887.7 323.0,888.5 323.5,889.3 324.0,890.2 324.5,891.0 325.0,891.9 325.5,892.8 326.0,893.6 326.5,894.5 327.0,895.4 327.5,896.3 328.0,897.2 328.5,898.1 329.0,899.1 329.5,900.0 330.0,900.9 330.5,901.8 331.0,902.8 331.5,903.7 332.0,904.6 332.5,905.5 333.0,906.4 333.5,907.4 334.0,908.3 334.5,909.2 335.0,910.1 335.5,911.0 336.0,911.9 336.5,912.9 337.0,913.9 337.5,914.9 338.0,915.8 338.5,916.8 339.0,917.7 339.5,918.6 340.0,919.4 340.5,920.3 341.0,921.0 341.5,921.7 342.0,922.4 342.5,923.1 343.0,923.7 343.5,924.4 344.0,925.0 344.5,925.6 345.0,926.2 345.5,926.8 346.0,927.4 346.5,928.0 347.0,928.5 347.5,929.1 348.0,929.6 348.5,930.1 349.0,930.6 349.5,931.2 350.0,931.6 350.5,932.1 351.0,932.6 351.5,933.1 352.0,933.5 352.5,934.0 353.0,934.4 353.5,934.9 354.0,935.3 354.5,935.7 355.0,936.1 355.5,936.6 356.0,937.0 356.5,937.4 357.0,937.8 357.5,938.2 358.0,938.6 358.5,938.9 359.0,939.3 359.5,939.7 360.0,940.0 360.5,940.3 361.0,940.6 361.5,940.9 362.0,941.2 362.5,941.5 363.0,941.7 363.5,941.9 364.0,942.2 364.5,942.4 365.0,942.6 365.5,942.9 366.0,943.1 366.5,943.3 367.0,943.5 367.5,943.7 368.0,943.9 368.5,944.0 369.0,944.1 369.5,944.2 370.0,944.3 370.5,944.3 371.0,944.3 371.5,944.3 372.0,944.2 372.5,944.1 373.0,944.0 373.5,943.9 374.0,943.8 374.5,943.7 375.0,943.5 375.5,943.3 376.0,943.1 376.5,943.0 377.0,942.8 377.5,942.6 378.0,942.3 378.5,942.1 379.0,941.9 379.5,941.7 380.0,941.5 380.5,941.2 381.0,940.9 381.5,940.6 382.0,940.3 382.5,939.9 383.0,939.6 383.5,939.2 384.0,938.8 384.5,938.3 385.0,937.9 385.5,937.4 386.0,936.9 386.5,936.4 387.0,935.9 387.5,935.4 388.0,934.9 388.5,934.3 389.0,933.8 389.5,933.2 390.0,932.6 390.5,932.1 391.0,931.5 391.5,930.9 392.0,930.3 392.5,929.6 393.0,928.9 393.5,928.2 394.0,927.5 394.5,926.7 395.0,925.9 395.5,925.1 396.0,924.3 396.5,923.5 397.0,922.6 397.5,921.7 398.0,920.8 398.5,919.9 399.0,919.0 399.5,918.1 400.0,917.2 400.5,916.2 401.0,915.3 401.5,914.3 402.0,913.4 402.5,912.4 403.0,911.4 403.5,910.3 404.0,909.3 404.5,908.2 405.0,907.1 405.5,906.0 406.0,904.9 406.5,903.8 407.0,902.6 407.5,901.4 408.0,900.3 408.5,899.1 409.0,897.8 409.5,896.6 410.0,895.4 410.5,894.1 411.0,892.9 411.5,891.6 412.0,890.3 412.5,889.0 413.0,887.6 413.5,886.3 414.0,884.8 414.5,883.4 415.0,882.0 415.5,880.5 416.0,879.0 416.5,877.6 417.0,876.1 417.5,874.5 418.0,873.0 418.5,871.5 419.0,870.0 419.5,868.4 420.0,866.9 420.5,865.3 421.0,863.8 421.5,862.2 422.0,860.5 422.5,858.9 423.0,857.3 423.5,855.6 424.0,854.0 424.5,852.4 425.0,850.7 425.5,849.1 426.0,847.5 426.5,845.8 427.0,844.2 427.5,842.5 428.0,840.9 428.5,839.2 429.0,837.5 429.5,835.9 430.0,834.2 430.5,832.6 431.0,830.9 431.5,829.3 432.0,827.6 432.5,826.0 433.0,824.4 433.5,822.7 434.0,821.1 434.5,819.4 435.0,817.8 435.5,816.1 436.0,814.5 436.5,812.8 437.0,811.2 437.5,809.6 438.0,807.9 438.5,806.3 439.0,804.7 439.5,803.1 440.0,801.5 441.5,796.7 443.0,791.9 444.5,787.2 446.0,782.6 447.5,778.1 449.0,773.8 450.5,769.5 452.0,765.4 453.5,761.6 455.0,757.8 456.5,754.2 458.0,750.8 459.5,747.6 461.0,744.6 462.5,741.7 464.0,739.0 465.5,736.4 467.0,733.9 468.5,731.4 470.0,729.0 471.5,726.7 473.0,724.5 474.5,722.2 476.0,719.9 477.5,717.6 479.0,715.4 480.5,713.0 482.0,710.6 483.5,708.1 485.0,705.5 486.5,702.8 488.0,700.0 489.5,697.0 491.0,693.9 492.5,690.7 494.0,687.4 495.5,683.9 497.0,680.3 498.5,676.7 500.0,672.9 501.5,669.0 503.0,665.1 504.5,661.0 506.0,656.9 507.5,652.7 509.0,648.4 510.5,644.1 512.0,639.7 513.5,635.2 515.0,630.7 516.5,626.1 518.0,621.5 519.5,616.9 521.0,612.3 522.5,607.6 524.0,602.9 525.5,598.1 527.0,593.4 528.5,588.6 530.0,583.9 531.5,579.2 533.0,574.4 534.5,569.7 536.0,565.1 537.5,560.4 539.0,555.9 540.5,551.4 542.0,547.0 543.5,542.7 545.0,538.5 546.5,534.4 548.0,530.5 549.5,526.7 551.0,523.1 552.5,519.6 554.0,516.3 555.5,513.1 557.0,510.1 558.5,507.2 560.0,504.5 561.5,501.9 563.0,499.4 564.5,497.0 566.0,494.8 567.5,492.7 569.0,490.8 570.5,488.9 572.0,487.2 573.5,485.6 575.0,484.1 576.5,482.6 578.0,481.3 579.5,480.1 581.0,479.0 582.5,477.9 584.0,476.9 585.5,476.0 587.0,475.1 588.5,474.3 590.0,473.5 591.5,472.8 593.0,472.1 594.5,471.4 596.0,470.8 597.5,470.2 599.0,469.6 600.5,469.0 602.0,468.4 603.5,467.8 605.0,467.2 606.5,466.6 608.0,466.0 609.5,465.3 611.0,464.7 612.5,464.0 614.0,463.2 615.5,462.5 617.0,461.7 618.5,460.8 620.0,460.0 621.5,459.1 623.0,458.1 624.5,457.2 626.0,456.2 627.5,455.1 629.0,454.0 630.5,452.9 632.0,451.7 633.5,450.5 635.0,449.2 636.5,447.9 638.0,446.5 639.5,445.1 641.0,443.7 642.5,442.2 644.0,440.7 645.5,439.2 647.0,437.6 648.5,436.0 650.0,434.4 651.5,432.7 653.0,431.0 654.5,429.4 656.0,427.7 657.5,426.0 659.0,424.2 660.5,422.5 662.0,420.7 663.5,419.0 665.0,417.2 666.5,415.5 668.0,413.7 669.5,412.0 671.0,410.2 672.5,408.5 674.0,406.8 675.5,405.1 677.0,403.4 678.5,401.7 680.0,400.0 681.5,398.4 683.0,396.8 684.5,395.2 686.0,393.6 687.5,392.1 689.0,390.6 690.5,389.1 692.0,387.6 693.5,386.2 695.0,384.8 696.5,383.5 698.0,382.1 699.5,380.9 701.0,379.6 702.5,378.4 704.0,377.2 705.5,376.0 707.0,374.9 708.5,373.8 710.0,372.8 711.5,371.8 713.0,370.8 714.5,369.9 716.0,369.0 717.5,368.1 719.0,367.3 720.5,366.5 722.0,365.8 723.5,365.1 725.0,364.5 726.5,363.9 728.0,363.3 729.5,362.8 731.0,362.3 732.5,361.8 734.0,361.5 735.5,361.1 737.0,360.8 738.5,360.5 740.0,360.3 741.5,360.2 743.0,360.1 744.5,360.0 746.0,359.9 747.5,360.0 749.0,360.0 750.5,360.1 752.0,360.2 753.5,360.4 755.0,360.6 756.5,360.9 758.0,361.2 759.5,361.5 761.0,361.9 762.5,362.3 764.0,362.8 765.5,363.3 767.0,363.8 768.5,364.4 770.0,365.0 771.5,365.7 773.0,366.3 774.5,367.1 776.0,367.8 777.5,368.6 779.0,369.4 780.5,370.3 782.0,371.2 783.5,372.1 785.0,373.1 786.5,374.1 788.0,375.1 789.5,376.1 791.0,377.2 792.5,378.4 794.0,379.5 795.5,380.7 797.0,381.9 798.5,383.1 800.0,384.3 801.5,385.6 803.0,386.9 804.5,388.2 806.0,389.5 807.5,390.9 809.0,392.2 810.5,393.6 812.0,395.0 813.5,396.4 815.0,397.8 816.5,399.2 818.0,400.7 819.5,402.1 821.0,403.6 822.5,405.0 824.0,406.5 825.5,408.0 827.0,409.4 828.5,410.9 830.0,412.4 831.5,413.8 833.0,415.3 834.5,416.8 836.0,418.2 837.5,419.7 839.0,421.1 840.5,422.6 842.0,424.0 843.5,425.4 845.0,426.8 846.5,428.2 848.0,429.6 849.5,431.0 851.0,432.3 852.5,433.7 854.0,435.0 855.5,436.3 857.0,437.6 858.5,438.8 860.0,440.1 861.5,441.3 863.0,442.5 864.5,443.7 866.0,444.9 867.5,446.0 869.0,447.2 870.5,448.3 872.0,449.4 873.5,450.5 875.0,451.6 876.5,452.6 878.0,453.7 879.5,454.7 881.0,455.7 882.5,456.7 884.0,457.7 885.5,458.6 887.0,459.5 888.5,460.5 890.0,461.4 891.5,462.3 893.0,463.2 894.5,464.0 896.0,464.9 897.5,465.7 899.0,466.5 900.5,467.3 902.0,468.1 903.5,468.8 905.0,469.6 906.5,470.3 908.0,471.0 909.5,471.7 911.0,472.4 912.5,473.1 914.0,473.8 915.5,474.4 917.0,475.0 918.5,475.6 920.0,476.2 921.5,476.8 923.0,477.4 924.5,477.9 926.0,478.5 927.5,479.0 929.0,479.5 930.5,480.0 932.0,480.5 933.5,480.9 935.0,481.4 936.5,481.8 938.0,482.2 939.5,482.6 941.0,483.0 942.5,483.4 944.0,483.8 945.5,484.1 947.0,484.5 948.5,484.8 950.0,485.1 951.5,485.4 953.0,485.7 954.5,485.9 956.0,486.2 957.5,486.4 959.0,486.6 960.5,486.9 962.0,487.1 963.5,487.3 965.0,487.4 966.5,487.6 968.0,487.8 969.5,487.9 971.0,488.0 972.5,488.1 974.0,488.3 975.5,488.4 977.0,488.4 978.5,488.5 980.0,488.6 981.5,488.6 983.0,488.7 984.5,488.7 986.0,488.7 987.5,488.7 989.0,488.8 990.5,488.8 992.0,488.8 993.5,488.7 995.0,488.7 996.5,488.7 998.0,488.6 999.5,488.6 1001.0,488.5 1002.5,488.4 1004.0,488.3 1005.5,488.3 1007.0,488.2 1008.5,488.1 1010.0,488.0 1011.5,487.8 1013.0,487.7 1014.5,487.6 1016.0,487.5 1017.5,487.3 1019.0,487.2 1020.5,487.0 1022.0,486.8 1023.5,486.7 1025.0,486.5 1026.5,486.3 1028.0,486.1 1029.5,486.0 1031.0,485.8 1032.5,485.6 1034.0,485.4 1035.5,485.2 1037.0,485.0 1038.5,484.7 1040.0,484.5 1041.5,484.3 1043.0,484.1 1044.5,483.9 1046.0,483.6 1047.5,483.4 1049.0,483.2 1050.5,482.9 1052.0,482.7 1053.5,482.4 1055.0,482.2 1056.5,481.9 1058.0,481.7 1059.5,481.4 1061.0,481.2 1062.5,480.9 1064.0,480.7 1065.5,480.4 1067.0,480.1 1068.5,479.9 1070.0,479.6 1071.5,479.4 1073.0,479.1 1074.5,478.8 1076.0,478.6 1077.5,478.3 1079.0,478.1 1080.5,477.8 1082.0,477.5 1083.5,477.3 1085.0,477.0 1086.5,476.8 1088.0,476.5 1089.5,476.2 1091.0,476.0 1092.5,475.7 1094.0,475.4 1095.5,475.2 1097.0,474.9 1098.5,474.6 1100.0,474.3 1101.5,474.1 1103.0,473.8 1104.5,473.5 1106.0,473.3 1107.5,473.0 1109.0,472.7 1110.5,472.4 1112.0,472.1 1113.5,471.9 1115.0,471.6 1116.5,471.3 1118.0,471.0 1119.5,470.7 1121.0,470.4 1122.5,470.1 1124.0,469.8 1125.5,469.6 1127.0,469.3 1128.5,469.0 1130.0,468.7 1131.5,468.4 1133.0,468.1 1134.5,467.8 1136.0,467.5 1137.5,467.1 1139.0,466.8 1140.5,466.5 1142.0,466.2 1143.5,465.9 1145.0,465.6 1146.5,465.3 1148.0,464.9 1149.5,464.6 1151.0,464.3 1152.5,464.0 1154.0,463.6 1155.5,463.3 1157.0,462.9 1158.5,462.6 1160.0,462.3 1161.5,461.9 1163.0,461.6 1164.5,461.2 1166.0,460.9 1167.5,460.5 1169.0,460.2 1170.5,459.8 1172.0,459.4 1173.5,459.1 1175.0,458.7 1176.5,458.3 1178.0,458.0 1179.5,457.6 1181.0,457.2 1182.5,456.8 1184.0,456.4 1185.5,456.1 1187.0,455.7 1188.5,455.3 1190.0,454.9 1191.5,454.5 1193.0,454.1 1194.5,453.7 1196.0,453.4 1197.5,453.0 1199.0,452.6 1200.5,452.2 1202.0,451.8 1203.5,451.5 1205.0,451.1 1206.5,450.7 1208.0,450.3 1209.5,450.0 1211.0,449.6 1212.5,449.2 1214.0,448.9 1215.5,448.5 1217.0,448.1 1218.5,447.8 1220.0,447.5 1221.5,447.1 1223.0,446.8 1224.5,446.4 1226.0,446.1 1227.5,445.8 1229.0,445.5 1230.5,445.2 1232.0,444.9 1233.5,444.6 1235.0,444.3 1236.5,444.0 1238.0,443.7 1239.5,443.4 1241.0,443.2 1242.5,442.9 1244.0,442.7 1245.5,442.4 1247.0,442.2 1248.5,442.0 1250.0,441.8 1251.5,441.6 1253.0,441.4 1254.5,441.2 1256.0,441.0 1257.5,440.8 1259.0,440.6 1260.5,440.5 1262.0,440.3 1263.5,440.1 1265.0,440.0 1266.5,439.8 1268.0,439.7 1269.5,439.5 1271.0,439.4 1272.5,439.2 1274.0,439.1 1275.5,439.0 1277.0,438.8 1278.5,438.7 1280.0,438.6 1281.5,438.4 1283.0,438.3 1284.5,438.2 1286.0,438.0 1287.5,437.9 1289.0,437.8 1290.5,437.6 1292.0,437.5 1293.5,437.3 1295.0,437.2 1296.5,437.0 1298.0,436.9 1299.5,436.8 1301.0,436.6 1302.5,436.5 1304.0,436.4 1305.5,436.3 1307.0,436.2 1308.5,436.2 1310.0,436.1 1311.5,436.2 1313.0,436.2 1314.5,436.3 1316.0,436.4 1317.5,436.5 1319.0,436.7 1320.5,436.8 1322.0,437.0 1323.5,437.1 1325.0,437.2 1326.5,437.4 1328.0,437.5 1329.5,437.6 1331.0,437.7 1332.5,437.8 1334.0,437.9 1335.5,438.1 1337.0,438.2 1338.5,438.3 1340.0,438.4 1341.5,438.5 1343.0,438.6 1344.5,438.7 1346.0,438.8 1347.5,438.9 1349.0,439.0 1350.5,439.1 1352.0,439.2 1353.5,439.3 1355.0,439.4 1356.5,439.5 1358.0,439.7 1359.5,439.8 1361.0,439.9 1362.5,440.0 1364.0,440.2 1365.5,440.3 1367.0,440.5 1368.5,440.6 1370.0,440.8 1371.5,441.0 1373.0,441.2 1374.5,441.4 1376.0,441.5 1377.5,441.8 1379.0,442.0 1380.5,442.2 1382.0,442.4 1383.5,442.6 1385.0,442.9 1386.5,443.1 1388.0,443.4 1389.5,443.7 1391.0,443.9 1392.5,444.2 1394.0,444.5 1395.5,444.8 1397.0,445.1 1398.5,445.4 1400.0,445.7 1401.5,446.0 1403.0,446.3 1404.5,446.6 1406.0,447.0 1407.5,447.3 1409.0,447.7 1410.5,448.0 1412.0,448.4 1413.5,448.7 1415.0,449.1 1416.5,449.4 1418.0,449.8 1419.5,450.2 1421.0,450.6 1422.5,451.0 1424.0,451.3 1425.5,451.7 1427.0,452.1 1428.5,452.5 1430.0,452.9 1431.5,453.3 1433.0,453.8 1434.5,454.2 1436.0,454.6 1437.5,455.0 1439.0,455.4 1440.5,455.9 1442.0,456.3 1443.5,456.7 1445.0,457.1 1446.5,457.6 1448.0,458.0 1449.5,458.5 1451.0,458.9 1452.5,459.3 1454.0,459.8 1455.5,460.2 1457.0,460.7 1458.5,461.1 1460.0,461.6 1461.5,462.0 1463.0,462.5 1464.5,462.9 1466.0,463.4 1467.5,463.8 1469.0,464.3 1470.5,464.7 1472.0,465.2 1473.5,465.6 1475.0,466.1 1476.5,466.6 1478.0,467.0 1479.5,467.5 1481.0,467.9 1482.5,468.4 1484.0,468.9 1485.5,469.4 1487.0,469.9 1488.5,470.4 1490.0,470.9 1491.5,471.4 1493.0,471.9 1494.5,472.4 1496.0,473.0 1497.5,473.6 1499.0,474.1 1500.5,474.7 1502.0,475.3 1503.5,475.9 1505.0,476.6 1506.5,477.2 1508.0,477.9 1509.5,478.6 1511.0,479.3 1512.5,480.0 1514.0,480.8 1515.5,481.6 1517.0,482.4 1518.5,483.2 1520.0,484.0 1521.5,484.9 1523.0,485.8 1524.5,486.7 1526.0,487.7 1527.5,488.7 1529.0,489.7 1530.5,490.7 1532.0,491.8 1533.0,492.5"/>
</g>
<g class="ax">
<rect x="223" y="61" width="6" height="1311"/>
<rect x="1530" y="61" width="5" height="1311"/>
<rect x="223" y="61" width="1312" height="5"/>
<rect x="223" y="1367" width="1312" height="5"/>
<rect x="348" y="1344" width="5" height="25"/>
<rect x="596" y="1344" width="6" height="25"/>
<rect x="845" y="1344" width="6" height="25"/>
<rect x="1094" y="1344" width="6" height="25"/>
<rect x="1343" y="1344" width="6" height="25"/>
<rect x="472" y="1357" width="6" height="12"/>
<rect x="721" y="1357" width="6" height="12"/>
<rect x="970" y="1357" width="5" height="12"/>
<rect x="1219" y="1357" width="5" height="12"/>
<rect x="1468" y="1357" width="5" height="12"/>
<rect x="226" y="496" width="25" height="6"/>
<rect x="226" y="931" width="25" height="6"/>
<rect x="226" y="278" width="13" height="5"/>
<rect x="226" y="714" width="13" height="5"/>
<rect x="226" y="1150" width="13" height="5"/>
</g>
<g font-size="56.00">
<text x="350.4" y="1440.8" text-anchor="middle">400</text>
<text x="599.3" y="1440.8" text-anchor="middle">600</text>
<text x="848.1" y="1440.8" text-anchor="middle">800</text>
<text x="1097.0" y="1440.8" text-anchor="middle">1000</text>
<text x="1345.9" y="1440.8" text-anchor="middle">1200</text>
<text x="197.5" y="1386.1" text-anchor="end">0</text>
<text x="197.5" y="950.8" text-anchor="end">0.5</text>
<text x="197.5" y="515.4" text-anchor="end">1.0</text>
<text x="197.5" y="80.1" text-anchor="end">1.5</text>
</g>
<text x="879.8" y="1545" font-size="67.80" text-anchor="middle"><tspan class="b">Wavelength</tspan> (nm)</text>
<text transform="translate(93.2,716) rotate(-90)" font-size="67.10" text-anchor="middle" class="b">Extinction</text>
<rect x="253.5" y="90.5" width="267" height="378.5" fill="#fff" stroke="#000" stroke-width="1" shape-rendering="crispEdges"/>
<text x="379.2" y="138.8" font-size="46.30" text-anchor="middle" class="b">Ag Vol.</text>
<rect x="273" y="184" width="103" height="5" fill="#0000ee" shape-rendering="crispEdges"/>
<text y="203.0" font-size="46.30"><tspan x="451.47" text-anchor="end">5 </tspan><tspan class="mu" x="449.9" text-anchor="start" textLength="29.05" lengthAdjust="spacingAndGlyphs">μ</tspan><tspan x="477.57" text-anchor="start">L</tspan></text>
<rect x="273" y="246" width="103" height="6" fill="#4000b2" shape-rendering="crispEdges"/>
<text y="265.5" font-size="46.30"><tspan x="451.47" text-anchor="end">10 </tspan><tspan class="mu" x="449.9" text-anchor="start" textLength="29.05" lengthAdjust="spacingAndGlyphs">μ</tspan><tspan x="477.57" text-anchor="start">L</tspan></text>
<rect x="273" y="309" width="103" height="5" fill="#800077" shape-rendering="crispEdges"/>
<text y="328.0" font-size="46.30"><tspan x="451.47" text-anchor="end">20 </tspan><tspan class="mu" x="449.9" text-anchor="start" textLength="29.05" lengthAdjust="spacingAndGlyphs">μ</tspan><tspan x="477.57" text-anchor="start">L</tspan></text>
<rect x="273" y="372" width="103" height="5" fill="#bf003c" shape-rendering="crispEdges"/>
<text y="390.5" font-size="46.30"><tspan x="451.47" text-anchor="end">28 </tspan><tspan class="mu" x="449.9" text-anchor="start" textLength="29.05" lengthAdjust="spacingAndGlyphs">μ</tspan><tspan x="477.57" text-anchor="start">L</tspan></text>
<rect x="273" y="434" width="103" height="6" fill="#ff0000" shape-rendering="crispEdges"/>
<text y="453.0" font-size="46.30"><tspan x="451.47" text-anchor="end">40 </tspan><tspan class="mu" x="449.9" text-anchor="start" textLength="29.05" lengthAdjust="spacingAndGlyphs">μ</tspan><tspan x="477.57" text-anchor="start">L</tspan></text>
</svg>
</body>
</html>
